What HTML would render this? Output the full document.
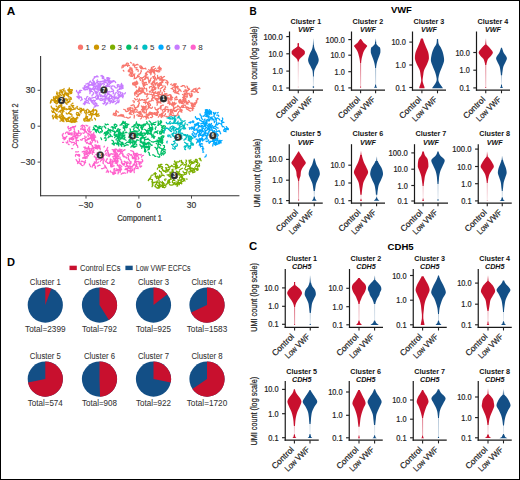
<!DOCTYPE html>
<html><head><meta charset="utf-8"><style>
html,body{margin:0;padding:0;background:#fff;width:520px;height:480px;overflow:hidden}
svg{display:block;font-family:"Liberation Sans", sans-serif}
</style></head><body>
<svg width="520" height="480" viewBox="0 0 520 480" font-family='"Liberation Sans", sans-serif'><defs><linearGradient id="g1" x1="0" y1="0" x2="0" y2="1"><stop offset="0" stop-color="#C8102E" stop-opacity="0.3"/><stop offset="1" stop-color="#C8102E" stop-opacity="0.02"/></linearGradient><linearGradient id="g2" x1="0" y1="0" x2="0" y2="1"><stop offset="0" stop-color="#134F86" stop-opacity="0.1"/><stop offset="1" stop-color="#134F86" stop-opacity="0.85"/></linearGradient><linearGradient id="g3" x1="0" y1="0" x2="0" y2="1"><stop offset="0" stop-color="#134F86" stop-opacity="0.3"/><stop offset="1" stop-color="#134F86" stop-opacity="0.1"/></linearGradient><linearGradient id="g4" x1="0" y1="0" x2="0" y2="1"><stop offset="0" stop-color="#C8102E" stop-opacity="0.6"/><stop offset="1" stop-color="#C8102E" stop-opacity="0.25"/></linearGradient><linearGradient id="g5" x1="0" y1="0" x2="0" y2="1"><stop offset="0" stop-color="#134F86" stop-opacity="0.1"/><stop offset="1" stop-color="#134F86" stop-opacity="0.85"/></linearGradient><linearGradient id="g6" x1="0" y1="0" x2="0" y2="1"><stop offset="0" stop-color="#134F86" stop-opacity="0.4"/><stop offset="1" stop-color="#134F86" stop-opacity="0.2"/></linearGradient><linearGradient id="g7" x1="0" y1="0" x2="0" y2="1"><stop offset="0" stop-color="#C8102E" stop-opacity="0.1"/><stop offset="1" stop-color="#C8102E" stop-opacity="0.85"/></linearGradient><linearGradient id="g8" x1="0" y1="0" x2="0" y2="1"><stop offset="0" stop-color="#C8102E" stop-opacity="0.5"/><stop offset="1" stop-color="#C8102E" stop-opacity="0.25"/></linearGradient><linearGradient id="g9" x1="0" y1="0" x2="0" y2="1"><stop offset="0" stop-color="#134F86" stop-opacity="0.35"/><stop offset="1" stop-color="#134F86" stop-opacity="0.1"/></linearGradient><linearGradient id="g10" x1="0" y1="0" x2="0" y2="1"><stop offset="0" stop-color="#C8102E" stop-opacity="0.6"/><stop offset="1" stop-color="#C8102E" stop-opacity="0.3"/></linearGradient><linearGradient id="g11" x1="0" y1="0" x2="0" y2="1"><stop offset="0" stop-color="#134F86" stop-opacity="0.35"/><stop offset="1" stop-color="#134F86" stop-opacity="0.15"/></linearGradient><linearGradient id="g12" x1="0" y1="0" x2="0" y2="1"><stop offset="0" stop-color="#C8102E" stop-opacity="0.1"/><stop offset="1" stop-color="#C8102E" stop-opacity="0.85"/></linearGradient><linearGradient id="g13" x1="0" y1="0" x2="0" y2="1"><stop offset="0" stop-color="#C8102E" stop-opacity="0.25"/><stop offset="1" stop-color="#C8102E" stop-opacity="0.1"/></linearGradient><linearGradient id="g14" x1="0" y1="0" x2="0" y2="1"><stop offset="0" stop-color="#134F86" stop-opacity="0.1"/><stop offset="1" stop-color="#134F86" stop-opacity="0.85"/></linearGradient><linearGradient id="g15" x1="0" y1="0" x2="0" y2="1"><stop offset="0" stop-color="#134F86" stop-opacity="0.3"/><stop offset="1" stop-color="#134F86" stop-opacity="0.2"/></linearGradient><linearGradient id="g16" x1="0" y1="0" x2="0" y2="1"><stop offset="0" stop-color="#C8102E" stop-opacity="0.3"/><stop offset="1" stop-color="#C8102E" stop-opacity="0.1"/></linearGradient><linearGradient id="g17" x1="0" y1="0" x2="0" y2="1"><stop offset="0" stop-color="#134F86" stop-opacity="0.3"/><stop offset="1" stop-color="#134F86" stop-opacity="0.1"/></linearGradient><linearGradient id="g18" x1="0" y1="0" x2="0" y2="1"><stop offset="0" stop-color="#C8102E" stop-opacity="0.1"/><stop offset="1" stop-color="#C8102E" stop-opacity="0.85"/></linearGradient><linearGradient id="g19" x1="0" y1="0" x2="0" y2="1"><stop offset="0" stop-color="#C8102E" stop-opacity="0.3"/><stop offset="1" stop-color="#C8102E" stop-opacity="0.1"/></linearGradient><linearGradient id="g20" x1="0" y1="0" x2="0" y2="1"><stop offset="0" stop-color="#134F86" stop-opacity="0.1"/><stop offset="1" stop-color="#134F86" stop-opacity="0.85"/></linearGradient><linearGradient id="g21" x1="0" y1="0" x2="0" y2="1"><stop offset="0" stop-color="#134F86" stop-opacity="0.25"/><stop offset="1" stop-color="#134F86" stop-opacity="0.15"/></linearGradient><linearGradient id="g22" x1="0" y1="0" x2="0" y2="1"><stop offset="0" stop-color="#C8102E" stop-opacity="0.6"/><stop offset="1" stop-color="#C8102E" stop-opacity="0.4"/></linearGradient><linearGradient id="g23" x1="0" y1="0" x2="0" y2="1"><stop offset="0" stop-color="#134F86" stop-opacity="0.1"/><stop offset="1" stop-color="#134F86" stop-opacity="0.85"/></linearGradient><linearGradient id="g24" x1="0" y1="0" x2="0" y2="1"><stop offset="0" stop-color="#134F86" stop-opacity="0.3"/><stop offset="1" stop-color="#134F86" stop-opacity="0.1"/></linearGradient><linearGradient id="g25" x1="0" y1="0" x2="0" y2="1"><stop offset="0" stop-color="#C8102E" stop-opacity="0.35"/><stop offset="1" stop-color="#C8102E" stop-opacity="0.2"/></linearGradient><linearGradient id="g26" x1="0" y1="0" x2="0" y2="1"><stop offset="0" stop-color="#134F86" stop-opacity="0.1"/><stop offset="1" stop-color="#134F86" stop-opacity="0.85"/></linearGradient><linearGradient id="g27" x1="0" y1="0" x2="0" y2="1"><stop offset="0" stop-color="#134F86" stop-opacity="0.25"/><stop offset="1" stop-color="#134F86" stop-opacity="0.15"/></linearGradient><linearGradient id="g28" x1="0" y1="0" x2="0" y2="1"><stop offset="0" stop-color="#134F86" stop-opacity="0.3"/><stop offset="1" stop-color="#134F86" stop-opacity="0.2"/></linearGradient><linearGradient id="g29" x1="0" y1="0" x2="0" y2="1"><stop offset="0" stop-color="#C8102E" stop-opacity="0.1"/><stop offset="1" stop-color="#C8102E" stop-opacity="0.85"/></linearGradient><linearGradient id="g30" x1="0" y1="0" x2="0" y2="1"><stop offset="0" stop-color="#C8102E" stop-opacity="0.35"/><stop offset="1" stop-color="#C8102E" stop-opacity="0.2"/></linearGradient><linearGradient id="g31" x1="0" y1="0" x2="0" y2="1"><stop offset="0" stop-color="#134F86" stop-opacity="0.2"/><stop offset="1" stop-color="#134F86" stop-opacity="0.1"/></linearGradient><linearGradient id="g32" x1="0" y1="0" x2="0" y2="1"><stop offset="0" stop-color="#C8102E" stop-opacity="0.3"/><stop offset="1" stop-color="#C8102E" stop-opacity="0.15"/></linearGradient><linearGradient id="g33" x1="0" y1="0" x2="0" y2="1"><stop offset="0" stop-color="#134F86" stop-opacity="0.25"/><stop offset="1" stop-color="#134F86" stop-opacity="0.1"/></linearGradient><linearGradient id="g34" x1="0" y1="0" x2="0" y2="1"><stop offset="0" stop-color="#C8102E" stop-opacity="0.15"/><stop offset="1" stop-color="#C8102E" stop-opacity="0.05"/></linearGradient><linearGradient id="g35" x1="0" y1="0" x2="0" y2="1"><stop offset="0" stop-color="#134F86" stop-opacity="0.2"/><stop offset="1" stop-color="#134F86" stop-opacity="0.1"/></linearGradient><linearGradient id="g36" x1="0" y1="0" x2="0" y2="1"><stop offset="0" stop-color="#C8102E" stop-opacity="0.55"/><stop offset="1" stop-color="#C8102E" stop-opacity="0.35"/></linearGradient><linearGradient id="g37" x1="0" y1="0" x2="0" y2="1"><stop offset="0" stop-color="#134F86" stop-opacity="0.3"/><stop offset="1" stop-color="#134F86" stop-opacity="0.2"/></linearGradient><linearGradient id="g38" x1="0" y1="0" x2="0" y2="1"><stop offset="0" stop-color="#C8102E" stop-opacity="0.1"/><stop offset="1" stop-color="#C8102E" stop-opacity="0.85"/></linearGradient><linearGradient id="g39" x1="0" y1="0" x2="0" y2="1"><stop offset="0" stop-color="#C8102E" stop-opacity="0.3"/><stop offset="1" stop-color="#C8102E" stop-opacity="0.15"/></linearGradient><linearGradient id="g40" x1="0" y1="0" x2="0" y2="1"><stop offset="0" stop-color="#134F86" stop-opacity="0.1"/><stop offset="1" stop-color="#134F86" stop-opacity="0.85"/></linearGradient><linearGradient id="g41" x1="0" y1="0" x2="0" y2="1"><stop offset="0" stop-color="#134F86" stop-opacity="0.2"/><stop offset="1" stop-color="#134F86" stop-opacity="0.1"/></linearGradient></defs><rect width="520" height="480" fill="#fff"/><text x="6.70" y="15.10" font-size="10.5" font-weight="bold" fill="#000" textLength="8.50" lengthAdjust="spacingAndGlyphs">A</text>
<text x="249.50" y="15.00" font-size="10.2" font-weight="bold" fill="#000" textLength="7.20" lengthAdjust="spacingAndGlyphs">B</text>
<text x="249.00" y="249.60" font-size="10.8" font-weight="bold" fill="#000" textLength="8.20" lengthAdjust="spacingAndGlyphs">C</text>
<text x="7.00" y="265.60" font-size="10.2" font-weight="bold" fill="#000" textLength="8.00" lengthAdjust="spacingAndGlyphs">D</text>
<circle cx="80.5" cy="47.2" r="2.6" fill="#F8766D"/>
<text x="85.50" y="50.00" font-size="8.0" stroke="#333" stroke-width="0.04" fill="#333">1</text>
<circle cx="96.5" cy="47.2" r="2.6" fill="#CD9600"/>
<text x="101.50" y="50.00" font-size="8.0" stroke="#333" stroke-width="0.04" fill="#333">2</text>
<circle cx="112.6" cy="47.2" r="2.6" fill="#7CAE00"/>
<text x="117.60" y="50.00" font-size="8.0" stroke="#333" stroke-width="0.04" fill="#333">3</text>
<circle cx="128.8" cy="47.2" r="2.6" fill="#00BE67"/>
<text x="133.80" y="50.00" font-size="8.0" stroke="#333" stroke-width="0.04" fill="#333">4</text>
<circle cx="144.9" cy="47.2" r="2.6" fill="#00BFC4"/>
<text x="149.90" y="50.00" font-size="8.0" stroke="#333" stroke-width="0.04" fill="#333">5</text>
<circle cx="161.0" cy="47.2" r="2.6" fill="#00A9FF"/>
<text x="166.00" y="50.00" font-size="8.0" stroke="#333" stroke-width="0.04" fill="#333">6</text>
<circle cx="177.1" cy="47.2" r="2.6" fill="#C77CFF"/>
<text x="182.10" y="50.00" font-size="8.0" stroke="#333" stroke-width="0.04" fill="#333">7</text>
<circle cx="193.2" cy="47.2" r="2.6" fill="#FF61CC"/>
<text x="198.20" y="50.00" font-size="8.0" stroke="#333" stroke-width="0.04" fill="#333">8</text>
<path d="M184.1 99.3l-0.1 1l0.5 0.8l0.7 0.7l0.9 0.5l0.1 1l0.7 0.7M181 100l-1 -0.1l-0.9 0.3l-0.3 0.9l0.5 0.9l1 0.3M164.8 99.2l1 -0.2l0.8 -0.5l1 -0.2l0.2 -1l-0.9 -0.4M155.2 89.6l0.6 -0.8l-0.4 -0.9l-1 -0.2l-0.8 -0.6M147.3 78.1l0.9 0.3l0.1 1l0.3 1l1 -0.1l0.8 0.5M183.5 98.8l-0.7 0.7l0.2 1l0.9 0.3M143.1 106.2l0.8 0.6l-0.3 1l0.7 0.6l0.5 0.9M143.7 90.8l-1 0.1l-0.3 1l-0.3 0.9l-0.9 0.5M121.1 115.9l-1 -0.2l-0.8 -0.5l-0.9 0.5M168.6 111l0 -1l-0.7 -0.7l-1 0l-0.9 0.3M157.3 83.8l0.9 0.3l0.9 0.4l0.4 0.9l1 -0.1M164.8 93.4l0.2 1l0.8 0.6l0.9 0.4l1 0l1 0l0.6 -0.8M152.4 87.4l1 -0.2l0.8 -0.5l-0.2 -1l-0.5 -0.9M143.2 107.9l-0.2 -1l-1 -0.2l-0.7 -0.8M181.3 91.2l-0.9 -0.5l-0.4 -0.9l-1 0.1l-0.2 0.9l-0.6 0.8l-0.9 0.5M184.3 107.4l-0.9 -0.1l-1 0.2l-0.9 -0.5l-0.9 0.5M155.8 114.6l0.4 0.9l1 -0.1l0.5 -0.9l-0.4 -0.9M195.9 100.8l1 0M168.2 82.5l-0.9 0.3l-1 0.2l-0.7 -0.6M144.1 83l-0.3 0.9l0.5 0.9l-0.1 1M149.3 91.2l0.5 0.9l0.9 -0.1l0.2 -1l0.4 -0.9M137.5 91.8l-1 0.3l-0.4 0.9l-0.7 0.7l-0.7 0.8l0.3 0.9M123.2 67.3l0.5 -0.9l-0.2 -1l-1 0M161.4 81.9l-0.5 0.9l-1 -0.1l-0.4 0.9l-0.4 0.9l-0.2 1l0.5 0.9M156.2 98.6l1 -0.1l1 0.2l0 1l-0.7 0.8l-0.5 0.8M159.1 83.3l1 0.2l1 0l0.8 -0.7M178.7 101.7l0.1 -1l0.6 -0.8l0.9 -0.4l0.7 0.7l-0.4 0.9M136.7 115.1l0.9 -0.4l0.8 0.7l-0.2 1M128.1 70.9l0.8 0.7l1 -0l0.4 0.9l0.1 1l-0.5 0.9l-0.8 0.6M199.9 88.7l-0.5 -0.8M162.1 79.5l-0.6 -0.9l-1 0l-0.3 1M168 101.8l0.9 -0.4l0.6 0.7l0.6 0.8l0.2 1l-0.8 0.7M179.2 102.6l0.9 0.5l0.7 -0.8l1 0.2l0.5 0.8M168 109.2l0.7 0.7l0 1l-0.4 0.9M136.6 81.1l0.6 0.8l-0.1 1l-0.9 0.3l-1 -0.4l-0.7 -0.6M153.4 78.3l0.1 -1l0.7 -0.7l0.4 -0.9M174.5 92.7l0.8 -0.6l0.3 -1l0.2 -1M157.8 78.4l0.9 0.3l1 0.2l0.4 0.9l1 0.3l1 0.2M141.5 109.5l0.8 0.6l-0.1 0.9l0.5 0.9l1 0l0.3 1M180.3 89.9l-0.8 -0.6l-0.9 -0.4l-1 0M145.9 112.9l0.5 -0.9l-0.1 -1l-0.2 -0.9M159.8 71.6l-1 0.2l-1 0l-0.9 -0.5l-0.6 -0.8l-0.9 0.4l-1 0.2M157.6 111.6l-0.8 0.6l-0.7 0.7l-1 0l-1 -0.3l-0.7 0.8M152.1 112.6l-0.3 0.9l-1 0.4l-1 -0.1l-0.8 -0.6l0.4 -0.9M176.2 96.4l0.7 0.7l-0.5 0.9l-0.9 -0.3l-0.8 0.6M123.3 70.3l0.6 0.9M146.3 107.2l-1 0.1l-0.5 0.9l-0.7 0.7l-0.4 0.9l-1 0.4M171.1 99.3l-0.2 -1l0.3 -1l-0 -1l-0.4 -0.9M148.2 106.7l0.2 -1l0.2 -1l-1 -0.3l-0.1 -1l-0.1 -1M170.5 111.9l-0.2 1l-0.1 1l-1 0.1M196.3 91.6l-0.5 -0.9l-0.4 -0.9l-0.1 -1l0.8 -0.6M157.6 85.4l0.5 0.8l-0.2 1l0.8 0.6l-0.5 0.9M134.8 84.7l-1 0.2l-1 -0.3M146.4 116.5l1 -0.1l0.5 -0.9l1 0.1l0.4 -0.9l1 -0.2l0.4 -0.9M168.7 103.2l0.7 0.7l1 0.3l0.9 0.3l0.8 -0.6l1 0.3l1 -0.1M144.2 76.4l-0.5 0.9l-0.9 0.2l-0.8 0.7M154.2 97.6l0.9 0.5l0 1l0.9 0.3l0.4 0.9M193.1 106.8l0.8 -0.6l0.1 -1l-0.8 -0.5M136.5 96.7l1 -0.1l0.8 -0.6l0 -1l0.9 -0.4M191.7 96.7l-0.9 -0.2l-0.8 -0.7l-0.6 -0.7l-0.1 -1l-0.2 -1M191 93.7l0.1 0.9l0 1l0.1 1l-0.9 0.5M139 101.7l0.1 1l0.3 1l-0.9 0.5l0.2 1l-0.2 1l-0.5 0.8M172.5 115.3l1 -0.2l0.5 0.8l1 -0.3l0.9 0.2M140.7 111.3l-0.7 0.7l-0.4 0.9l0.3 0.9l1 -0M136.1 82.2l-1 0l-0.9 0.4l-0.3 1l-0.3 0.9l0.7 0.7M191.2 93.1l0.8 0.6l0.1 1l0.1 1M155.7 93l1 0.1l0.8 0.6l0.9 0.4M126.2 63.9l0.6 -0.8l1 0l0.7 0.7M161.3 76.6l0.3 1l0.1 1l-0.2 1l-0.9 0.2l-1 0.3M157.6 109.1l-0.8 0.6l0.5 0.9l0.7 0.8l0.4 0.9l-0.6 0.7l-0.9 -0.5M153.3 85.5l0.5 -0.9l0.7 -0.7l0.5 -0.9l-0.7 -0.7M134.9 94.5l-0.4 -1l0.2 -0.9l0.8 -0.7M136.5 93.8l0.6 -0.8l-0.6 -0.8l-0.9 0.3l0 1l-0.9 0.5M172.8 97.3l-0.9 -0.1l-0.6 -0.9l-0.2 -1l-0.7 -0.7M152.8 71.4l0.5 0.8l0.6 0.8l0.9 0.5l0.2 1M161.8 78.6l0.6 0.7l0.1 1l1 0.2l0.6 -0.7l1 0.1M192.2 108.1l0.8 -0.5l0 -1l0.9 -0.5l0.9 0.4M136.1 69.9l0.7 -0.7l1 0.3l0.4 1l-0.1 1M178.7 115.3l-0.8 -0.6l-1 0.3l-0.6 0.8l-1 0.2l-0.8 -0.5l-0.9 -0.5M163 113.3l-1 -0.2l-0.8 0.7l-0.1 1l0.9 0.4l0.2 1l0.7 0.7M162.8 82.4l-0.6 -0.8l0.7 -0.7l0.5 -0.9l-0.7 -0.8M167.9 107l-1 0l-1 -0.3l-0.7 0.8l0.1 0.9l-0.8 0.6M161.6 95.5l0.8 -0.6l0.9 0.5l0.2 1l-0.6 0.8l-0.9 -0.4M132.9 64l1 -0.2M143.6 102.3l1 0l0.9 0.5l-0.1 1M138.8 75.2l0.2 -1l1 -0.4l0.7 -0.7l0 -1l0.7 -0.8l-0.3 -0.9M177.7 105.5l0.3 1l-0.9 0.5l-1 0.1l-0.8 0.6l-0.9 0.4M139.3 76.6l-0.9 0.2l-0.9 -0.5l0.2 -1l1 -0.3M152.6 114.2l1 -0.2l1 0.1l1 -0.2l0.9 0.5M131 68.4l0.4 1l0.5 0.8l-0.6 0.9M150 70.4l0.6 0.8l-0.3 0.9l0.2 1M138.8 113.6l1 0.3l0.5 0.8l-0.6 0.8M161.1 109.7l-0.1 -0.9l-0.8 -0.7l-1 0l-0.7 0.6l-0.5 0.9M147.8 71.1l0.4 0.9l1 -0.1l0.7 0.6l1 0.3M186.3 92l-0.4 1l-0.5 0.8l0.4 0.9l1 0.2l0.5 0.9l0 1M127.6 66.3l-0.2 -0.9l-0.9 -0.5l-0.8 0.5l-1 0l-1 -0.3l-0.8 0.5M173.4 91.6l0.5 -0.8l1 0l0.6 0.8l0.5 0.8l1 -0.4M193.5 89.2l-0.3 0.9l-1 -0l-0.3 0.9l-0.8 0.6M162.5 111.1l0.1 -1l0.6 -0.8l1 0M175.1 83.7l-0.1 1l0 1l-0.1 1M158.4 92.6l1 0.2l0.7 -0.7l0.2 -1l0.4 -0.9M195 104.2l0.6 -0.8l0.9 -0.4l0.1 -1M155.7 77.9l-0.9 0.4l-0.3 1l0.4 0.9l-0.1 1M152.1 84.6l0.8 0.6l0.6 0.8l0.3 0.9l1 -0.1l0.4 1l1 0M143 84.8l0.6 -0.8l1 0.1l0.4 -0.9l0.4 -0.9l1 0.1M148.4 98.1l-1 0.3l-0.4 0.9l-0.8 0.6M146.1 119.1l0.5 -0.9l0.8 -0.6l0.3 -0.9M159.5 114.9l0.2 0.9l-0.9 0.5l-0.5 0.9M137.6 99l-0.8 0.5l-1 0.3l-0.6 -0.8l-0.7 -0.6M162.7 77.5l0.8 -0.6l1 -0.4M175 88.3l0.1 -1l-1 -0.3l-1 0.1l-0.5 0.9l-0.6 0.8l-0.9 -0.4M146 114.8l1 -0.1l1 -0.2l0.7 -0.7l0.9 0.6l1 0M115.6 111.8l0.2 1l0.6 0.8l-0.1 1l-0.1 1l-1 0l-0.9 -0.4M135 110l0 -1l0.4 -1l0.7 -0.7l0.9 -0.2l0.9 -0.5l0 -1M147.3 93.4l-0.6 0.7l-1 0.1l-0.6 -0.8l-0.3 -1M144.5 87.8l-0.6 -0.9l-0.5 -0.8l-0.2 -1l0.2 -1l-1 -0.4M144.6 79l0.5 -0.8l0.7 -0.8l-0.4 -0.9l0.7 -0.7l0.3 -0.9l1 -0.3M155.4 114.6l-1 -0.3l-0.9 -0.3l-0.7 -0.7l-0.9 -0.6l-0.9 -0.1l-1 -0.4M141.8 116.2l-1 0.1l-0.9 0.1l-1 -0.3M146.5 105.8l-0.9 0.4l-0.7 0.8l-0.9 -0.5M185.7 91.2l1 0.3l0 1l-0.9 0.4l-0.8 0.6l0 1M136.2 91.2l1 -0.1l1 0.1l0.5 -0.8l0.8 -0.7M167.7 103.3l0.9 -0.5l1 0.1l0.3 -1M137.5 110.1l-1 -0.1l-0.6 -0.8l-0.4 -0.9l0.5 -0.8M192.2 91.3l0.9 0.3l1 0.3l0.9 0.3M197 90l-1 0l-0.9 -0.5l-0.7 -0.7M151 83.9l0.6 -0.7l0.9 -0.5l0.3 -1M192.5 108.6l0.4 -0.9l-0.8 -0.7l-0.2 -0.9l0.1 -1l0.5 -0.9l0.1 -1M146.2 102.7l-0.1 -1l-0.6 -0.9l-1 -0.1M161.3 68.4l-1 0.3l-0.5 -0.9l-0.7 -0.7l0.3 -0.9M145.2 88.6l-1 0l-0.9 0.3l-0.2 1l-0.8 0.7l0.4 0.9M134.3 109.7l-0.2 1l0.1 1l-0.4 0.9l-0.2 1M197.3 90.8l-0.6 -0.8l0.7 -0.8l0.8 -0.5l0.8 -0.6M146.7 91.1l0.2 -1l-0.5 -0.9l0.2 -0.9M145 99.5l-0.9 0.6l-1 0.1l-0.7 -0.7l-1 0l-0.6 0.8l-1 -0.2M115.7 114.3l-0.9 -0.4l-1 0.1l-0.7 0.8M146.7 114l0.9 0.4l0.9 -0.4l0.7 -0.7l1 0.1M173.2 113.3l-0.8 -0.6l0 -1l-0.4 -0.9l-0.1 -1l-0.8 -0.5l-0.9 0.4M193.7 103.9l0.9 0.6l0.9 0.3M160.4 97.9l-0.8 -0.5l-0.3 -1l-0.9 -0.5l-1 -0.3M132 68.2l-0.4 0.9l0.6 0.7l0.2 1l0.4 0.9l-0.2 1M117.7 116.1l0.9 -0.4l1 0.1l0.8 -0.7l0.9 -0.2l0.8 0.6l0.1 1M154.6 72.7l-0.4 -0.9l-1 -0.2l-0.5 -0.9l-1 -0.2l-0.9 0.4M141.5 67.1l0.2 1l0.8 0.6l1 -0.2l1 0l1 -0.3l0.5 0.9M141.9 79l0.9 0.4l0.2 1l0.2 1l-0.6 0.8M164.7 88.3l0.9 -0.5l-0.3 -1l-0.4 -0.9M113.4 113.2l0.9 0.5l0.8 -0.5l0.5 -0.8l0.5 -0.9l0.1 -1M124.9 65.9l0.4 -0.9l0.8 -0.6l0.7 0.7l0.7 0.8l0.9 -0.2l1 -0.2M149.5 72.7l0.9 0.4l0.7 0.8l-0.4 0.9M132.1 69.8l-0.4 -1l-0.9 -0.2l-0.8 -0.6l0 -1M181.9 109.5l-0.8 0.6l-0.5 0.9l0.3 0.9l1 0.3M132.8 65.1l1 -0.1l0.4 0.9l0.5 0.9l0.4 0.9l1 0.2l0.9 -0.4M150.4 117.5l0.9 0.2l0.9 -0.6l0.5 -0.8l-0.6 -0.8l-0.4 -0.9l0.6 -0.9M156.6 70l0.2 1l0.9 0.2l0.4 -0.9l1 0.1l0.7 -0.7l1 -0.1M183.7 100.6l-1 0.1l-0.9 0.4l-1 0.2l-1 -0.1l-0.6 0.8M146.5 96.8l0.6 -0.8l0.1 -1l0.3 -1l1 0l1 0M141.1 112.6l-0.1 1l0.7 0.7l0.6 0.8l0.4 0.9l-0.7 0.7l-0.3 0.9M133.5 74.8l0.9 0.5l0.1 1l-0.2 1M151.7 92.9l0.8 -0.7l1 -0.1l0.8 0.6M156.3 109.9l-0.8 -0.6l-0.4 -0.9l-0.2 -1M153.3 67.1l-1 0l-0.9 0.4l0.1 1l-0.1 1l0.6 0.7l0.9 0.4M174.8 86.3l-0.6 -0.9l0.5 -0.8l1 0l0.6 -0.8M180 100.9l0.6 0.7l0.7 0.8l0.9 0.4l0.9 0.4l0.2 1M142.1 82.2l0.2 -0.9l0.7 -0.8l0.1 -1M186.8 95.2l0.5 -0.9l-0.1 -1l-0.9 -0.4M171.3 109.8l-1 0.3l0.1 1l0.5 0.9l1 0l1 0.1M190.1 107.7l-0.5 0.9l-1 -0.3l-0.7 -0.7l-0.8 -0.6l-1 0.1l-0.3 -1M157.2 82.5l-0.6 0.8l0.6 0.8l1 0l0.9 -0.4M152.6 94.9l-0.2 1l-0.1 1l0.6 0.8M132.4 112.1l-1 -0.2l-0.9 0.4l-0.9 0.5l-0.4 0.9M162 92.1l0.4 0.9l-0.6 0.8l0.4 0.9M182.6 107.3l0.7 -0.7l0.2 -0.9l0.9 -0.6l1 0.1M156.4 98.3l-1 0.1l-0.9 -0.4l-0.6 -0.8l0.4 -0.9l0.9 -0.4l1 -0.3M192 108.2l0.9 -0.4l0.9 0.6M150.6 94.4l1 0.1l0.7 0.6l1 0M162.2 99.6l0.8 0.7l0.9 -0.5l0.2 -1l0.4 -0.9M181 86.4l1 -0.1l0.5 -0.8l1 0.1l1 0.2l0.5 0.9l0.3 0.9M131.3 63l-0.8 -0.7M139.1 111.6l-0.5 0.8l-1 0l-0.7 -0.7l-0.9 0.3l-1 0M146.3 115.8l1 0.3l-0.2 1l0.9 0.4l0.7 0.7M139.8 67.2l0.9 0.4l1 0.2l0.9 -0.4M172.2 111.5l0.7 -0.8l0.8 -0.5l1 0.4l1 0.2l0.5 -0.8M169.2 99.2l-0.6 -0.8l-0.6 -0.8l-0.9 -0.4l-0.9 0.4l-1 0.1M167.5 84.8l0.1 -1l0.3 -1l-0.6 -0.8l0.2 -1M177.6 113.6l0.6 -0.7l0.4 -1l0.7 -0.6l0.7 -0.7M145.3 74l0.5 -0.9l0.8 -0.6l0.7 -0.8M161.5 85.3l-0.1 -1l-0.9 -0.1l-0.8 -0.7l-1 0M142.1 80.5l0.6 0.8l0.4 0.9l1 0.2l0.4 1l-0.7 0.8l0 1M178.8 109l-1 0l-0.7 0.7l-0.4 0.9l-0.6 0.8l-0.9 -0.3l-0.9 0.4M188.1 104l-0.7 -0.7l0.3 -1l1 0.1l0.9 -0.4l-0.3 -1l-0.9 -0.3M194.3 102.9l1 0.1l0.7 -0.6l0.9 -0.4M164.4 94.8l0.9 -0.3l0.7 -0.8l1 0.2M155.7 68.2l-0.9 0.5l-0.4 0.9l-1 -0M191 103.8l0.9 0.4l-0.2 1l0.6 0.8l0.9 -0.3l0.9 0.4M151.3 78l-0.6 0.7l-0.3 1l0.1 1l-1 0.3l-0.9 0.5M145 85.3l0.8 -0.6l0.7 -0.7l0.8 0.6M185.7 99.9l0.3 -1l-0.8 -0.6l-0.4 -0.9M139.4 98.9l-0.4 0.9l-0.6 0.8l-0.7 0.8M141 93.2l0.1 -1l-0.9 -0.5l0.2 -0.9l-0.5 -0.9l0 -1l0.7 -0.7M170.8 114.8l-0.9 0.5l-0.6 0.8l-0.8 0.6l-0.9 0.5l-0.6 -0.8l-0.9 0.3M128.3 71.5l0.4 -0.9l0.3 -1l0.7 -0.7l1 0M186.3 108.7l0.8 0.6l1 0.3l0.7 0.6l0.8 0.7l0.9 0.2M136.2 87.4l0 -1l-0.8 -0.5l-0.4 -0.9l-0.8 -0.7M157.5 75.4l0.1 1l0 1l1 0.2l0.9 -0.4l1 -0.2l0.7 -0.7M159.7 114.4l0.9 0.5l0.6 0.8l-0.3 1l0.5 0.8M182.6 97.3l1 -0.1l0.2 -1l0.8 -0.6l0.8 0.6l0.9 0.5l0.7 0.7M133.1 75.5l-0.5 0.8l-1 0l-1 -0.2M128.2 111.2l-1 0.2l-1 0.3l-0.6 -0.7l0 -1l-1 -0.3l-0.9 -0.4M152.1 88.3l-0.1 1l0.9 0.5l1 0.2l0.7 -0.8l0.9 -0.1l0.1 -1M130.9 73.3l0.9 -0.3l0.9 0.4l0.4 0.9l1 0.2l0.8 -0.6M179 94.2l-0.5 -0.9l-0.9 0.2l-1 -0.4l-1 -0.1l-0.9 -0.4M140.3 91.5l1 0l0.4 -0.9l0.1 -1l0.5 -0.9l-0.1 -0.9M145.9 112.6l-1 0.2l-0.8 -0.6l0.1 -1l-0.6 -0.8M128.1 64.8l-1 0.3l-0.9 -0.2l-0.8 0.7l-0.9 -0.4l-1 0l-1 0.1M174.7 99.9l1 -0.2l1 0l0.9 -0.5M134.7 107.5l-0.5 -0.9l0.1 -1l-0.6 -0.7l-1 -0.1l-0.7 0.8l-1 -0.2M190.7 108.5l1 0.1l0.8 0.6l0.5 0.8M128.9 109.9l0.9 -0.4l0.8 -0.6l0.2 -1l-0.8 -0.5M186.4 102.3l-0.7 -0.6l-1 0.3l-0.3 0.9M150.6 105.3l-0.2 -1l-0.8 -0.6l-0.7 -0.7l-1 0M196.8 100l0.8 -0.5M176.7 86.5l0.9 -0.4l0.7 0.8l-0.6 0.8l-1 -0.3l-0.9 -0.4M136.3 81.8l-0.7 0.7l-0.1 1l0.5 0.9M163.4 105.2l-1 0l-0.9 0.5l-1 0.3l-0.1 1M153.8 80.7l0.1 1l-0.6 0.8l-0.5 0.9l-0.9 0.4l-0.1 1M162.9 85.5l0.2 1l-0.5 0.9l-0.9 0.4l-0.7 0.7l-0.9 0.4M169 109.8l-0.9 0.5l-0.1 1l0 1M158.9 68.5l0.5 0.9l0.8 0.6l1 -0.1M146.7 73.5l-0.9 0.5l0.4 0.9l-0.8 0.7l-0.8 0.6M182.5 94.5l0.9 0.5l1 -0.2l0 -1l-0.2 -1M157.3 78.6l1 -0.3l0.9 0.1l0.7 0.7l0.1 1M173.3 108.6l0.6 -0.8l-0.2 -1l-0.7 -0.7l0.4 -0.9l1 -0.4l-0.1 -1M156.7 71.4l-0.7 -0.8l-1 -0l-0.9 0.4l-0.6 -0.8M153.7 90.3l0.2 -0.9l0.5 -0.9l1 -0.1M124.4 117.2l-0.7 -0.7l-0.1 -1l-0.7 -0.8l-0.9 0.4M152.5 107.1l-0.4 0.9l-0.9 0.4l-0.8 -0.6l-1 -0.1l-0.2 -1l-0.1 -1M132.7 109.9l0.1 1l-0.7 0.6l-0.9 0.5l-0.8 -0.7l0.3 -1l-0.8 -0.5M170.7 84.5l0.9 -0.5M164.4 109.8l0.9 0.3l0 1l-0.9 0.5l-0.8 0.5l-0.7 0.8l-0.2 0.9M140.4 118.8l1 -0.3M130.1 112.9l0.4 -1l-0.2 -0.9l0.8 -0.7l1 0.2l0.9 0.4l0.1 1M161.6 99.5l-1 -0.1l-0.7 -0.7l-1 -0.1l-1 0.1l-0.9 0.1l-0.9 0.6M134 78.8l0.8 -0.6l1 0.3l0.6 -0.8l0.8 -0.6l0.9 -0.5l1 -0M144.3 79.7l0.9 -0.4l0.7 -0.7l-0.3 -1l0.8 -0.5l0.9 0.5l0.9 -0.5M163.7 94.9l-1 0.3l-0.5 0.9l-0.9 0.3l0 1l-0.1 1M197.2 98.5l0.9 0.4M185.7 107.4l1 -0.1l0.8 0.6l1 -0.4M138.2 64.9l-0.8 -0.6l-1 0.4l-0.6 0.7l-1 -0.4l-0.9 0.5M139.1 87l0.4 0.9l-0.4 0.9l-0.3 0.9l0.7 0.8l-0.4 0.9l-0.7 0.7M155.7 85.2l-0.1 -1l0.6 -0.8l0.6 -0.8M161 100.3l-0.7 0.7l-0.4 0.9l-1 0.2l-0.7 -0.7l-1 0.3M158.6 101.9l-1 0l-0.8 0.7l0.4 0.9l0.2 1l-0.4 0.8M172.1 85.5l0.9 -0.2l0.4 -1l0.9 -0.4l1 0.1M146.7 110.1l0.3 -1l0.9 -0.4l0.6 -0.8l-0.2 -0.9l0.8 -0.7l0.8 -0.6M157.6 100.2l0.2 1l-0.8 0.6l0.2 0.9l1 0l1 0.1M171.5 105.1l1 0l0.5 0.8l0.3 1M174.5 102.2l-0.8 0.6l-1 0.4l-0.9 0.3M165.5 113.7l-0.2 0.9l-0.8 0.7l0.3 0.9M160.7 108.1l0.4 -0.9l-0.1 -1l0.8 -0.4M198.5 92.3l-0.9 0.2l-0.5 -0.9l-0.3 -0.9l0.3 -1M130 71.7l0.9 0.5l0.7 0.7l0.1 1l-0.1 1l0.1 1M156.7 95.6l1 0l0.3 1l0.6 0.7M153.6 69.5l-1 -0.3l-0.8 -0.6l-0.9 0.5l-0.2 1l-0.7 0.6l0.3 1M181.2 107.2l0.3 -1l0.8 -0.6l0.8 0.6l0.3 0.9M176.2 103.1l-0.7 0.8l-0.8 0.5l-1 -0.2M159.1 93.8l0.2 -1l-0.3 -0.9l-1 0l-0.6 0.8l-0.2 1M192.5 108l-0.1 1l0.3 0.9l-0.7 0.7M154.3 66.5l-1 0.2M132.6 84.1l0 -1l1 -0.3l0.5 0.9l0.6 0.7M140.7 93.9l-1 -0.3l-0.8 0.5l-0.7 0.8l-0.9 -0.1M118.5 112.2l-1 -0.4l-0.8 -0.5l-0.4 -0.9M175.6 88.8l0.3 -1l0.5 -0.9l-0.7 -0.7M171.5 115.2l-0.2 -1l-0.3 -0.9l-0.4 -1l0.8 -0.6l1 0.1M166.3 80.4l0.6 0.7M188.1 93.7l-0.9 -0.5l-0.5 -0.9l-0.2 -1M151.6 100.3l-0.6 0.8l-1 0l-1 0.2l-0.3 0.9M142 67.2l-0.5 -0.9l-0.9 -0.4l-1 0.1M136.7 90.2l0.8 0.6l0.9 -0.4l0 -1l0.5 -0.9M164.7 91.7l-0.8 -0.6l-0.3 -0.9l0.4 -0.9l1 0.1M186.8 102.9l0.4 -0.9l-0.8 -0.6l-0.5 -0.9l-0.9 -0.5l-0.9 0.2l-0.4 0.9M182.2 110.4l-0.6 0.8l-0.9 -0.5l-0.7 -0.7l0.5 -0.9M179.8 109.8l0.8 -0.6l-0.5 -0.9l-0.4 -0.9l-0.7 -0.7l-0.7 -0.7M142.4 108.6l0.9 -0.3l0.9 0.5l0.8 0.5l0.9 -0.5M167.3 82.9l0.6 -0.9l-0.7 -0.7M132 114.5l-0.8 -0.6l-1 0.3l-0.9 -0.4M191.2 102.8l0.5 0.9l0.2 1l0.9 0.4l-0.1 1M135.7 84.2l0.9 0.3l0.9 -0.5l0.4 -0.9M164 99.5l-1 -0.1l-0.8 -0.6l-0.7 -0.7l-0.9 0.4l0.1 1M160.9 103.3l-0.3 -1l-0.5 -0.9l0.6 -0.8l0 -1l-0.3 -0.9M189 88.2l-0.6 0.8l0.1 1l-0.8 0.7l-0.9 -0.2l-0.9 -0.6l-1 0M170.3 95.5l0.5 0.9l-0.5 0.9l0.8 0.7l0.9 0.1M134.2 115.2l0.3 1l-0.4 0.9l0.2 0.9M157.7 68.2l0.9 -0.5l0.8 0.6l0.8 -0.6M191.3 105.6l0.7 0.7l0.8 -0.5l0 -1l-0.4 -0.9l-0.8 -0.7l-0.9 -0.2M153.1 89.8l-0.7 0.7l0.2 0.9l0.4 1l0.9 0.3l0.9 -0.4l0.9 -0.6M142.8 88.7l-1 -0.3l-0.9 -0.4l-0.9 0.5M156.6 80l-0.5 -0.9l-0.6 -0.8l0 -1l-0.9 -0.4l-1 -0.3l-1 0.3M142.8 68.7l-1 0.1l-1 -0.3l-0.4 -0.9l0.6 -0.8M168.9 101.2l-0.2 -1l-0.9 -0.3l-1 0l-1 0.3l-0.7 -0.7l-1 -0.3M170.1 99.2l0.3 0.9l1 -0l0.7 -0.6l-0.4 -0.9l-0.6 -0.8l-1 0.1M163.3 115.7l-0.7 -0.6l-0.8 -0.7l-0.9 0.5M143.9 110.8l-0.1 -1l-0.8 -0.6l0 -1l-0.8 -0.7M130.3 117l-0.7 0.7l-0.9 0.3l-1 0l-0.8 -0.6l-1 0M184.4 96.6l-0.8 0.7l-0.1 1l0.8 0.6l-0.3 0.9l0.6 0.8l1 -0.1M157.7 95.2l0.9 0.1l0.6 -0.8l0.9 -0.2l0.8 0.6M130 70.5l0.2 -1l0.1 -1l0.8 -0.6l0.8 0.6l-0.3 1l0.8 0.6M122.2 66l-0.2 1l-0.1 1M157.6 93.8l-0.7 -0.7l-1 0.2l-0.9 -0.4l-1 0.2l-0.5 0.9M143.2 91.9l0.7 0.7l0.8 0.7l0.3 0.9M153.3 100.7l-0.7 -0.7l-0.9 -0.4l0.1 -1l1 -0.1M159.5 84.8l0.6 -0.8l0.3 -1l0.6 -0.7l1 -0.1l0.4 -0.9M130 74.1l0.2 1l0 1M152.8 87.9l-0.7 -0.8l-0.8 -0.6l-0.9 0.2l-1 0.3l0.1 1M143.6 117l0.8 -0.6l0.9 0l0.4 0.9l0.9 0.4M133 109l-0.2 -1l-1 0l-1 -0.1M133.9 102.6l0.5 -0.8l-0.6 -0.9l-1 -0.1M141.6 78.5l-0.4 -0.8l-1 0l-0.5 0.9l0.5 0.8l0.2 1M182.6 103.6l-1 -0.2l0 -1l0.8 -0.6l1 0M186.9 86.1l0.6 0.8l-0.2 1l0.8 0.6l0.6 0.7l1 0.1M174.8 108l-0.7 0.7l-0.7 0.7l-0.5 0.9M129.3 110l0.1 -1l-0.4 -0.9l-1 0.1l-0.7 0.7l0.6 0.8l0.5 0.9M151.4 72.8l0.4 -0.9l-0.7 -0.7l-0.8 -0.6l-0.9 -0.3l-0.7 -0.7M172.3 102.1l0.4 0.9l-0 1l0.9 0.4l0.7 -0.7l0.6 -0.8M123.4 115.3l-0.8 0.7l-1 -0.1l-0.7 -0.6l0.1 -1M172.8 89.1l0.6 0.8l0.9 0.6l0.8 -0.6M183.6 91.3l1 -0.2l0.9 -0.5l0.8 -0.6l0.8 0.5l-0.1 1l-0.5 0.8M152.4 97.4l1 0.2l0.6 -0.8l0.4 -0.9l-0.7 -0.7l0.5 -0.9M148.7 81.2l1 0.4l-0.1 1l-0.9 0.3" fill="none" stroke="#F8766D" stroke-width="1.25" stroke-linecap="round" stroke-linejoin="round"/>
<path d="M65 94.5l-0.4 0.9l-0.5 0.8l-1 -0.2M71.5 93.5l0.4 -0.9M55.4 97.5l0.9 -0.4l1 0.3l0.8 0.6M58.2 108.6l0.4 -0.9l0.9 -0.3l0.8 -0.7l0.5 -0.8l0.4 -0.9M83.9 119.2l1 -0.3l1 0.1l1 -0.1l0.9 0.3l0.2 1M81.9 110.5l-0.5 0.8l-0.7 0.8l0.3 1M57.9 100.4l0.6 0.9l0.8 0.5l0.4 0.9M58.7 100.3l-1 -0.2l-0.1 -1l0.1 -1l-0.3 -0.9l-0.6 -0.8l-1 -0.3M96 115.3l-0.1 -1l0.6 -0.8l0 -1l0.3 -1l-0.6 -0.8M63.2 120l0.1 -1l0.8 -0.6l0.9 -0.5M71.1 120.4l-0.2 -1l0.8 -0.6l0.9 -0.4M71.5 118.5l0.6 0.8l1 -0.2l1 -0.2l0.9 0.4l0.9 -0.4l1 0.1M63.3 99.9l0.9 0.4l0.6 0.8l0.2 1l0.8 0.7l0.4 0.9l0.8 0.6M84.5 111.8l0.4 0.9l0.8 0.6l0.6 0.8l-0.3 0.9M87.3 120.5l-0.1 -1l0 -1l-0.2 -1l-1 0M53.1 115.2l-0.8 0.7l0.4 0.9l0.8 0.6l-0.1 1M88.4 109.9l0.7 0.7l-0.3 0.9l-0.2 1l-0.9 0.5M61.9 119.6l0.7 0.7l0.1 1M76.6 117.5l0.1 1l-0.4 0.9l-0.9 0.5l-0.3 0.9l-0.3 1l-0.9 0.4M57.2 111.3l-0.9 -0.5l0.1 -1l0.1 -1l0.9 -0.3M68.9 106.4l1 0l0.2 1l0.4 0.9l0.6 0.8M89.4 120.6l-1 0l-0.5 -0.9l-0.1 -1l-0.5 -0.9M61.2 90.5l0.4 0.9l-0.1 1l0.9 0.3l0.6 -0.8M71.1 121.7l-0.9 -0.5l-1 0l-0.8 -0.6M59.8 90.9l0.4 -0.9M79.9 111.8l0.6 -0.8l0.3 -1l1 -0.2l0 -1l-1 -0.2M51.6 102l-1 0.1M67.5 119.2l1 -0.1l0.4 -0.9l1 -0.4l0.1 -1M64.9 107.1l-1 -0.1l-0.3 0.9l0.8 0.6l0.9 0.5l1 -0.3l0.9 0.4M61.4 116.4l0.7 0.7l0.8 0.6l0.9 0.6l0.7 -0.7l0.8 0.6l-0.4 0.9M62.4 114.6l-0.4 0.9l0.2 1l0.2 1M56.9 97.6l0.8 0.6l0.6 0.7l0.7 0.8l-0.7 0.8l-0.9 0.2l-0.9 -0.4M91.5 115.2l0.7 -0.8l1 -0.2l0.9 0.4M60.4 101l-0.3 0.9l0.1 1l0.7 0.7l0.2 1l0.9 0.5M69.7 111.5l1 -0.3l0.4 -0.9l-0.2 -0.9M52.1 107.9l0.7 0.7l1 -0.3l1 0.2M86.1 115.6l0.4 0.9l-0.8 0.6l-0.3 1M57.7 116.6l1 0.3l1 0.1l0.2 -1l-0.7 -0.6M86.7 117.9l0 1l0.9 0.5l1 0.1l0.7 0.7l0.8 -0.7M65.4 119.5l0.9 0.4l0.7 0.8l-0.6 0.9M59.1 105.3l-0.2 1l-0.3 1l-1 -0.1l-0.9 -0.5l-0.6 -0.7M71.2 108.2l-0.8 0.5l-1 0l-0.7 -0.7M68.4 97l-0.3 -0.9l0.3 -1l-0.4 -0.8l-0.6 -0.9l-0.8 -0.5M64.8 99.5l0.7 -0.6l0.8 0.5l1 0.4l0.5 0.9M62.2 99.8l-1 0.1l-0.2 1l-1 0.1l-1 0l-0.9 -0.4M99.3 115.7l-1 0.4l-0.9 -0.3l-0.8 0.6M55.6 98.8l0.9 -0.5l0.6 -0.8l0.9 0.3l0.9 -0.5l0 -1M63.5 120l-1 -0.1l-1 0.2l-0.5 0.9l-1 0.2M68.4 90.8l-0.6 -0.8l0.7 -0.7l0.9 0.6l0.9 0.2l0.9 -0.5l0.9 0.2M65.6 91.1l-1 0l-0.9 -0.5l-0.7 -0.7l-1 -0.3M59.2 117.5l1 0.4l0.8 0.6l0.8 0.6l-0.1 1l0.9 0.5M71.8 122.6l0.6 -0.9l0.9 0.4l0.9 -0.3l0.8 0.6M61.5 107.8l0.9 -0.4l1 0.4l0.9 0.3l-0.1 1l0.9 0.4M68.7 94.8l0.3 -1l0 -1l0.7 -0.7l-0.3 -0.9l-0.8 -0.6l-0.2 -1M71.8 122.5l-1 -0.3M72.6 119.9l0.3 0.9l0.3 1l1 0.1l0.9 -0.3M69 117.3l-0.9 0.2l-0.2 1l-1 0.1l-0.9 0.5l0 1M65.9 98.4l0.7 0.7l-0.3 1l0.4 0.9l1 -0.3l0.4 0.9l0.9 0.3M62.3 92.8l-0.4 0.9l0.8 0.6l1 0.4l0.1 0.9l0.6 0.8M57.9 93.3l-0.9 -0.5l-0.1 -1M76.7 112.5l1 0.2l0.8 0.6l0.7 0.7l0.4 0.9l-0.3 0.9M71.9 116.6l0 -1l0.1 -1l-0.7 -0.7l-0.9 0.5l-0.7 -0.7M53 109.2l-0.8 -0.5l-0.1 -1l-0.8 -0.6l-0.1 -1M92.1 111.5l0.2 -1l0.6 -0.8l0.7 -0.7M68.3 119.5l-1 -0.4l-0.9 0.2l-0.8 0.7M63.7 97.7l-0.2 -1l0.7 -0.7l-0.2 -1l0.3 -0.9l0.2 -1l0.9 -0.5M87.7 116.7l-1 0l-0.4 0.9l-0.2 1l-0.9 0.5l-0.8 0.6l-0.5 0.9M74.1 109.2l0 -1l-0.8 -0.6l-0.8 -0.6l0.2 -1l1 -0.1M57 114.2l-0.4 1l0.4 0.9l-0.2 1l0.3 0.9M63.2 109.6l-0.3 0.9l-0.9 0.4l-0.8 -0.5l-1 -0.1M77.6 106.9l-0.7 -0.6M89.8 111.1l-0.2 1l0.7 0.7l0.9 0.4l0.8 0.6l0.9 -0.5l0.4 -0.9M56.6 93.1l0.1 1l0.8 0.6l0.6 0.8l0.6 0.8l1 -0.2l0.4 1M95.2 110l-1 0l-0.9 -0.2M57.8 99.1l0.8 -0.6l-0.1 -1l0 -1l0.7 -0.8M54.1 117l0.9 -0.5l0.3 -1l1 -0.2l0.6 -0.8M61.5 118.4l-0.9 -0.5l-0.3 -1l-0.5 -0.8M60.6 99.2l-0.1 1l0.1 1l-0.2 1l-0.9 0.5l-0.9 -0.2l-0.8 -0.6M92 119.4l0.1 1M77.9 117.9l-0.9 -0.5l-0.6 0.7l-0.9 0.5l-1 0.1l-0.7 -0.7l-0.7 -0.7M55.6 97.4l-0.9 -0.4l-1 -0.2l-0.3 1l0.3 1M68.7 112.6l1 0.4l0.6 0.8l0.9 0.3M77.3 115.8l0.9 -0.3l0.7 -0.7l1 -0.1M96.6 112.1l0.4 -0.9l-0.6 -0.8l-0.7 -0.7M72 90.4l-0.3 0.9l-0.7 0.8l-1 -0.1l-1 0.2M72.2 118.2l-0.7 0.7l-0.9 0.5l-0.2 1l0.8 0.6l1 0.2M80.8 110.6l1 0l0.4 -0.9l1 0l0.5 -0.9M68.4 91.1l1 0.1l0.9 0.5l0.2 1l-0 1M63.9 121.7l-0.1 -1l-0.9 -0.2l-0.7 -0.8l-0.9 0.2l-0.6 -0.9M70.1 108.2l0.7 0.7l1 0.1l0.5 0.8M93.8 111.1l-1 0.1l-1 -0.1l-0.9 0.5M63.1 109.8l-0.1 -1l-0.5 -0.9l-0.8 -0.5l-0.1 -1l-0.6 -0.8l-0.9 -0.3M61.7 119.7l0.4 -1l1 0.1l0.8 -0.6l1 0.3M53 117.8l0.2 1M70.7 119l0 1l-0.5 0.9l-0.7 0.8l-0.9 -0.5l-0.9 0.2l-1 -0.3M69.7 100.9l-0.7 0.7l-0.5 0.9l-1 -0l-0.8 0.7l-1 -0M86.1 120.6l1 0.3l0.9 0.2l1 -0.2l1 0M63.9 89.5l0.2 -1M71.8 109.4l0.9 0.3l1 -0.4l1 -0.1l0.9 -0.3M70.7 110.7l-0.5 -0.8l-0.9 -0.6l0.5 -0.9l1 -0.1M55.3 117.3l-0.1 -1l0.7 -0.7l-0.2 -1l-0.1 -1l-0.7 -0.7l-0.8 -0.6M58.8 112.2l0.4 -0.9l1 0.1l0.6 0.8l0.4 0.9l0.8 0.6M54.1 98.6l1 0l0.3 1l-0.4 0.9l-0.3 0.9l-0.2 1M54.5 109l0.8 0.7l1 -0.1l0.9 0.4l0.9 -0.5M66.2 112.9l0.4 0.9l1 -0l1 -0.3l0.1 -0.9M70.2 98.8l-0.9 0.1l-1 0.1l-0.9 0.6M59.4 98.7l0 1l-0.9 0.5l-0.8 0.6M54 100.2l0.8 -0.5l0.7 0.7l0.8 0.7l0.6 0.8l1 -0.3M53.9 110.4l-0.1 1l-0.3 0.9l-1 0.2M81.6 108.4l-1 0l-1 -0.2M50.3 103.2l0.2 -1l0.2 -1l0.4 -0.8l0.6 -0.9M85.6 120.9l-0.9 0.4M62.5 113.1l0.3 -1l-0.7 -0.7l0.2 -1l0.8 -0.5l0 -1M71.7 118.7l1 0l1 0.2l0.6 0.9l-0.6 0.8l0.6 0.7l1 0.3M74.5 120.5l1 -0.1l0.9 0.5l0.5 0.9M52.5 100.3l-0.9 -0.5M56.3 116.3l-0.6 0.8l0.1 1l1 0l0.4 0.9M88.8 114.6l1 0.2l0.7 -0.6l-0.1 -1l0.5 -0.9l0.2 -1M56.4 111.1l-0.6 -0.8l0.3 -1l1 -0.1l0.6 -0.8M85.2 110.9l-0.4 -0.9l-1 -0.1l-0.8 0.5M54.4 99.2l-0.7 0.8l0.7 0.7l-0.4 0.9M69.7 91.1l0.8 0.6l0.9 -0.4l0.8 -0.6l0.1 -1M71.5 99.1l-0.9 -0.2l-0.6 0.9l-0.3 0.9l0.3 1M54.9 102.4l0.8 0.5l0.6 0.9l1 -0.2l0.3 -1l-0.8 -0.6l-0.9 -0.5M71.1 104.5l0.1 0.9l0.8 0.6l0.7 -0.7l1 0.3M66.7 109.8l0.9 -0.5l0.9 -0.2l0.8 -0.6M72.1 103.5l0.9 -0.3M57.8 95.7l0.9 -0.5l0.9 -0.4l0.9 -0.4M94.5 118.2l0.8 0.7l0.2 1M53.6 109.6l-0.1 1l-0.3 0.9l-1 0.2l-0.5 -0.9M75.9 107.7l0.9 0.3l0.9 0.5l0.6 0.8l1 0.2l0.8 0.5l0.9 0.5M89.6 118.8l1 -0.3l0.9 -0.5l-0.1 -1l0.5 -0.8l-0.4 -1l-1 -0.3M76.3 113.6l0.3 1l0.8 0.5l0.8 -0.6l0.7 -0.7l-0.5 -0.9M87.3 109.2l-0.6 0.8l-0.5 0.9l0.5 0.9l-0.3 1M86.1 116l-0.2 1l-0.6 0.8l-0.6 0.7l-0.9 0.4l0 1M66.3 94.9l0.8 0.5l0.9 0.5l0.7 0.7l0.9 0.4l0.9 0.4l0.8 0.6M60.3 94.1l-0.8 -0.6l-0.1 -1l0.9 -0.3l0.8 -0.6l0.8 0.7l0.8 -0.7M59.7 115l1 -0.2l0.9 -0.3l0.7 0.7l0.9 0.4l0.5 0.9l-0.1 1M64 111.5l-0.5 -0.9l-0.5 -0.8l-1 -0.1l-0.3 -1M56.5 101.5l-0.9 -0.5l-1 0.1l-0.8 -0.6l-0.9 -0.5M95.4 114.3l0.3 -1l1 0.1l0.3 1l1 0l0.8 -0.5M65.6 93.7l1 0l0.9 0.4l1 -0.2M75.6 121.1l-0.3 1M71.1 89.6l-1 0l-0.7 -0.8l-0.1 -1M96.7 115.2l-0.5 -0.8l-1 -0.3l-0.9 0.4l-1 -0.2l-0.8 0.6M61.7 95.5l-0.9 -0.3l-0.4 -0.9l-0.7 -0.7l-0.8 -0.7" fill="none" stroke="#CD9600" stroke-width="1.25" stroke-linecap="round" stroke-linejoin="round"/>
<path d="M177.2 183.2l-0.9 0.5l-0.9 0.3l-0.9 -0.5l-0.9 -0.3M195.7 166.4l0.6 -0.8l0.1 -1l0.9 -0.4l0.6 -0.8l-0.4 -0.9l-1 -0.2M183.9 178.7l0.5 0.8l-0.1 1l0.8 0.5M168.8 175.2l0.1 1l0.9 0.4l0.7 0.8l0.2 0.9l0.3 1M157.1 184.9l0.7 0.7l0.8 0.7l0.9 -0.3l0.6 0.9M170.9 175.4l0.6 0.8l0.9 0.5l0.8 -0.5M181.5 181.9l-0.3 1l0.6 0.8M184.2 174.1l1 0.2l1 -0.1l0.4 -0.9l0.1 -1l0.2 -1l0.4 -0.9M170 182.5l-1 0.1l-0.4 -0.9l0.3 -1l0.4 -0.9l0.9 -0.4l1 -0.1M152.3 184.9l0.2 1l-0.5 0.9M168.2 167.7l0.8 -0.6l-0.3 -1l-0.8 -0.6l-0.3 -1l-1 -0.1l-0.9 0.3M149.9 179.6l0.3 -0.9l0.5 -0.9l0.1 -1M158 187.8l0.5 -0.8l0.6 -0.8l0.4 -1l0.5 -0.8l-0.6 -0.8M199.9 159.8l0.6 -0.7l-0.5 -0.9l-0.9 0.4M160.4 181.8l-0.7 0.7l-0.8 0.6l-0.9 -0.4l-0.4 -0.9M169.7 172.1l1 0.2l0.9 -0.3l1 0.4l0.9 0.3M192.8 168.3l-1 -0.1l-0.9 -0.4l-0.6 -0.7l-1 -0.4l-0.7 -0.7l-0.1 -1M178.6 174.4l-0.9 0.5l-0.6 -0.8l-0.3 -1l-1 0l-0.5 0.8l0.6 0.8M179.6 167l-0.8 0.4l-1 0.4l-0.8 -0.6M177.4 174l1 0l0.3 -1l-0.7 -0.7l-0.9 -0.4M177.2 166.3l-0.4 -0.9l-0.3 -1l0.2 -1l-0.8 -0.7l-0.8 -0.6M196.2 169.5l0.4 -0.9l1 -0.2l0.6 0.8l-0.3 0.9l-0.9 0.4M174.9 162.2l-0.5 -0.8M197.8 167.2l-0.5 -0.8l0.7 -0.7l0.9 -0.5M200.8 159.9l0.3 0.9M161.9 174.7l0 -1l-0.6 -0.7l0.2 -1l-1 -0.4l-0.9 -0.2l-0.2 -1M161.4 168.4l1 0.4l0 1l0.9 0.3l0.7 0.8l0.9 0.4l0.8 -0.5M192.9 171.4l0.5 0.9M166.6 169.8l0.9 0.4l0.7 -0.6l1 -0.1l0.5 -0.9M161.5 182.7l1 -0.1l0.3 0.9l1 -0.1l0.7 0.8M161.9 164.4l-1 -0.1l-0.7 0.6l-0.2 1M192.7 171.8l0 1M183 171.2l0.4 0.9l0.7 0.7l1 -0.2l1 0M190.5 171.9l-0.4 -1l0.7 -0.7l0.2 -0.9l-0.8 -0.6l-0.6 -0.8l0.4 -0.9M181.2 183l-1 0.3l-0.9 0.3l-1 0.3l-0.8 -0.6l-1 0.5l-0.3 0.9M194.9 167.3l0.2 1l-0.3 0.9l-0.9 0.2l-1 -0.4M183.3 163.1l-0.6 0.8l-0.8 0.6l-0.9 0.4l-0.4 0.9M161.1 166.9l-0.9 -0.4l-0.6 0.8l-0.9 0.3M167.3 183.8l-1 0.1l-0.1 1l-0.9 0.5l-1 0.1l-0.9 -0.4l-1 0.2M162.1 186.4l0.4 1l1 -0.2l0.8 0.6l0.8 -0.5l0.8 -0.7M174.4 183.7l-0.5 -0.9l-1 0.1l-0.6 -0.7l0.2 -1l0.3 -1M160.3 184.4l-0.9 0.5l-0.8 0.5l-1 0M156.3 173.7l-1 0.3l-0.9 -0.3l-0.9 0.3M165.5 167.6l0.6 0.7l0.7 0.8l-0.2 1l0.6 0.8l1 0.3l0.5 -0.8M179.8 169.8l0.8 -0.6l0.9 -0.5l0.9 -0.5M196.6 159.3l0.7 0.8l-0.1 1l-0.5 0.8M159.8 174.8l-0.4 0.9l-0.1 1l0 1l-0.9 0.2M173.7 184.3l-0.9 0.6l-0.9 0.3l-1 -0l-1 -0.3l-0.5 -0.9M159.5 177.9l0.7 -0.7l0.8 -0.7l0.5 -0.9l0.9 -0.2l1 -0.2l0.8 0.6M175.9 166.5l-1 0.2l-1 0.2l-0.9 -0.2l-0.5 -0.9M174.7 160.9l0.1 1l0.8 0.6l0.8 0.6M157.7 176.1l-0.8 0.6l-0.9 0.4l-0.9 -0.5M163.9 185.3l-0.4 0.9l-1 0.2l-0.7 -0.6M194.8 168.9l-0.5 0.9l0.2 0.9l0.5 0.9M152.5 182.4l1 -0.1l0.9 0.3l0.8 -0.6l1 0.1l0.8 0.6M157.4 169.2l0.1 -1M159.4 175.7l0.9 0.4l-0.1 1l-0.7 0.7M177.8 179.8l0.9 0.5l1 -0.4l1 -0.1l0.9 -0.3l0.5 -0.9M191.9 163.7l-1 0.3l-0.6 0.8l0 1l-1 0.2l-0.9 0.4l-1 -0.3M175.5 172.8l0.8 0.4l1 0.4l0.7 -0.6l0.9 0.3l1 0.1M162.7 167.5l-0.5 -0.9l-0.9 -0.4l-1 0M165.2 180.6l-0.7 -0.7l0.6 -0.9l1 0.2M159.7 167.3l-0.7 -0.8l-0.5 -0.8l0.4 -1M189.8 168.6l0.5 0.9l0.6 0.8l1 0.2l0.9 0.2l0.8 -0.6M189.6 174.3l-0.4 -0.9l-0.3 -1l0.1 -0.9M191 159.8l-0.8 0.6l-0.8 0.6l-0.2 1M155.4 172.6l0.3 1l-0.6 0.8l0.3 0.9l0.3 1M161.9 186.5l-0.5 -0.9l0.7 -0.7l0.9 -0.5l-0.2 -1l0.7 -0.7M154.6 173.1l0.1 1l0.7 0.7l0.1 1l0.5 0.9l0.9 0.4l-0.1 1M173.5 164l1 0l1 -0.1l0.3 1M176.6 182l0.9 0.4l0.8 0.7l0.9 -0.5l1 0.3l1 0.1l0.3 0.9M159.6 185l0.8 0.7l0 1l-0.9 0.3M169.8 167.5l0.4 -1l1 -0.2l0.3 -0.9M181.3 160.3l0.4 1l-0.5 0.8l0.7 0.7l0.8 -0.5M162 184.7l0.4 -0.9l0.7 -0.8l-0.6 -0.8l-0.3 -0.9M182.2 181.6l1 -0.2l0.1 -1l0.7 -0.7l0.2 -1M189 168.8l-1 -0.1l-0.8 0.6l-0.9 0.5M196.1 168.5l-0.9 0.4l-1 0.1l-0.7 0.7l-0.8 0.7l-1 0.1l0 1M176 166.7l1 0l0.5 -0.9l-0.6 -0.8l-1 0.1l-0.2 1l-0.9 0.4M169 182.9l-1 0.2l-0.6 -0.9l0.6 -0.8l0 -1M150.8 177l0.2 -1M186.2 161.7l0.4 -0.9l-0.6 -0.8M183.7 175.1l-1 -0.2l-0.9 -0.3l-1 0.3l-0.9 0.4l-0.7 -0.8l-0.7 -0.7M158.1 176.8l-0.8 -0.6l-0.8 0.6l0.3 0.9l-0.3 1M181.2 177.7l1 0.3l0.4 -0.9l-0.4 -0.9l-0.8 -0.6l-0.4 -0.9l-1 0M191.5 162.8l0.8 -0.7l0.8 0.6l1 0.4M185.7 162.4l0.5 0.9l0.4 0.9l-0.8 0.6M152.8 175.2l-1 0M152.8 182.1l-0.7 0.7l0.4 0.9l-0.2 1l0.6 0.7l-0.5 0.8M177.9 185.8l-0.9 0.5M162.6 170.2l0.7 0.7l0.9 0.5l1 0.1l0.6 0.8M193 163.3l0.8 -0.6l0.5 -0.9l1 -0.1l1 0.1l1 0.1l0.7 0.6M175.2 169l0.9 -0.2l0.7 -0.8l0.7 -0.7l-0.5 -0.9l-0.7 -0.7M175 164.4l0.5 0.8l-0.1 1l0.5 0.9l-0.4 0.9M178.1 181.1l0.3 0.9l0.2 1l-0.6 0.9l-0.6 0.7l-0.1 1M176.2 171.1l0.9 0.5l0.8 0.5l1 -0.1l0.6 -0.8M185.4 167.6l0.4 -1l0.3 -0.9l-0.6 -0.7l-1 -0.5l-0.7 0.7M190.8 168.3l1 0.2l0.8 0.5l1 -0.3M186.1 179l1 0.2M179.1 180.5l0.9 -0.6l0.9 0.3l0.1 1l-0.4 0.8l-0.6 0.8M183.1 178.2l-0.5 0.9l-0.9 0.4l-0.4 0.9l-0.3 1l-0.4 0.9M177.5 177l-1 -0.2l-0.7 -0.6l0.5 -0.9l-0.3 -1l-0.2 -0.9M178.5 184.3l0.9 0.5M170 173.4l0.9 0.3l0.5 0.9l-0.6 0.8l0.2 0.9M166.8 167.8l-0.7 0.7l0.1 1l-0.1 1l0.9 0.5l-0.1 1M175.1 177.2l-0.4 0.9l-0.8 0.6l-0.6 0.8l0.5 0.9l1 0M157.3 178l1 0.3l0.3 0.9l0.5 0.9l-0.1 1M175.2 184.7l-0.3 -1l-0.4 -0.9l0.8 -0.7M199 166.6l0.6 -0.8l-0.3 -0.9l0.2 -1M182.3 176.6l-1 0l-1 0.1l-0.7 0.7l-0.1 1M171.5 175.4l-0.7 -0.7l-1 0.4l-0.8 -0.5l-0.9 0.5l-1 -0.3M184.4 168.7l0.9 0.5l0.6 0.7l0.9 -0.4M151.4 179.5l1 0.2l0 1l-0.5 0.9l0.7 0.7l0.2 1l0.1 1M169 179.6l0.5 0.8l0.1 1l-0.6 0.8l-1 -0.3M149.8 178.2l-0.6 0.8l-0.6 0.8l-0.3 0.9M159.6 187.9l-0.9 -0.4l-0.6 0.8l-1 -0.4l-0.9 -0.3l-0.3 -1l-1 0M195 172l-1 0.3l-0.9 0.4M173 169.2l-0.2 1l0.4 0.9l-0.2 1l0.2 1l-0.9 0.5l-0.9 -0.3M173 169.3l-1 0.4l0.2 1l0.2 0.9l1 0.3M195.4 159.4l0.5 0.8l-0.3 1l-0.9 0.2l-0.8 -0.6M189.1 160.1l-0.1 1l0.8 0.6l0.4 0.9l-0.7 0.7M157.3 180.8l-0.5 0.9l-0.1 1l-0.2 1l-0.7 0.7l-0.6 0.8l-0.1 1M196.8 169.2l0.4 1M191.3 163.5l1 -0.1l0.6 -0.8l-0.5 -0.8l-1 -0.3l-0.7 0.7M176.2 162.2l0.9 -0.5l0.9 0.5l0.9 -0.5l0.9 -0.2l0.1 -1" fill="none" stroke="#7CAE00" stroke-width="1.25" stroke-linecap="round" stroke-linejoin="round"/>
<path d="M149 142.7l1 0.4l0 1l0.9 0.4l0.4 0.9l1 -0.2M138.3 140.3l-0.8 -0.5l-0.8 0.6l-0.8 0.6M150.9 124.3l0.9 -0.3l0.9 0.5l0.9 -0.4l0.8 0.7l1 -0.3M105.6 134.4l0 -1l-1 -0.2l-0.7 0.7M151.9 124.2l-0.4 0.9l0.6 0.8l0.2 1l0.4 0.9M95.7 126.7l-0.4 -0.9l-1 0M144.4 142.9l0 1l0.4 1l-0.5 0.8l0.5 0.9l1 -0l0.6 0.7M134.7 130.5l0.8 0.6l0.9 -0.1l1 0.1M93.4 127.2l0.6 0.7l-0.3 1l0.7 0.7M161.6 137l0.6 0.8l1 0l0.4 -0.9l0.4 -0.9M142.9 126.7l0.5 -0.9l0 -1l0.7 -0.8l1 0.3l0 1M162.3 143.7l0 -1l0 -1l0.2 -1l0.1 -1M144.6 151.6l0 -1l0.2 -1l-0.4 -0.9l0.6 -0.9l-0.6 -0.7l-0.3 -1M117.2 135.9l1 -0.3l0.9 -0.3l0.4 -0.9l0.9 -0.3l0.8 -0.7M162.4 149.8l0.4 -1l0.8 -0.6l0.8 -0.5l0.1 -1l-0.1 -1l-1 -0.2M120.3 125l0.9 -0.4l0.4 -0.9l0.7 -0.7l0.9 0.4l0.6 -0.9M145 142.1l-1 -0.1l-1 0.2l-1 0.3M143.3 126.7l-0.5 0.9l-1 0.2l-0.3 1l0.4 0.9l1 -0.3M128.5 137.2l0.9 -0.3l0.1 -1l0.6 -0.8l0.3 -1l0.5 -0.8l0.8 -0.7M161.1 136.5l0.3 1l0.8 0.6l0.1 1l0.6 0.8M160.8 120.5l0.6 0.8l0.3 0.9l-0.8 0.7l-0.8 -0.6l-0.1 -0.9M108.3 124.5l-0.9 -0.4l-0.8 0.7l-1 0l-0.4 -0.9M114.6 137.7l0.6 -0.8l0.2 -1l0.7 -0.8l0.9 0.4M135 142.6l-0.1 -1l-0.7 -0.7l-0.9 -0.4l-0.9 -0.5l-0.5 -0.9M130 128.9l0.5 0.9l-0.2 1l0 1l0.8 0.5M133.5 129.9l0.1 -0.9l0.6 -0.8l-0.1 -1l-0.5 -0.9l-0.9 0.2l-0.9 0.5M148.9 145.4l-0.3 1l0.1 1l-0.9 0.3l-1 -0.2l-0.9 0.2M148.3 152.1l0.7 0.7l0.4 1l-0.1 1l0.8 0.6M125.3 125.2l-0.1 1l0.6 0.8l0.6 0.8l0.9 -0.5l-0.1 -0.9M163.2 153.7l-0.4 -0.9l0.4 -0.9l0.8 -0.6l0.8 0.5l0.5 0.9M159.7 124.3l-0.9 0.3l-0.6 -0.9l0.2 -1l-0.2 -0.9l-0.1 -1M134.1 147.3l-0.9 -0.3l-0.7 -0.8l0.4 -0.9l0 -1l0.2 -1M112.1 130.8l-0.8 -0.5l-1 0.2l-0.2 1l0.7 0.7M161.6 130l1 0.2l0.9 0.5l0.9 0.3l0.6 -0.9l-0.2 -1M117.1 144.7l-0.5 -0.9l-0.8 -0.6l-1 0l-0.6 0.8l0 1M141.6 135.8l-0.1 -1l-0.5 -0.9l0.5 -0.9l-0.3 -0.9l0.1 -1M125.1 137.2l-0.6 0.8l0.1 1l0.6 0.8l0.9 0.4M121.1 143.6l0.9 0l0.3 1l-0.9 0.5M101.7 128.4l-1 0.1l-1 0.1l-0.2 -1l0.3 -1l-0.9 -0.5M124.4 138.3l-0.5 0.9l-1 -0.3l0 -1l-0.2 -0.9l0.2 -1l-0.7 -0.7M157.5 125.2l1 0.1l0.5 -0.9l0.7 -0.7M150.8 132.1l-0.4 -0.9l-0.8 -0.5l-0.1 -1l0.9 -0.4l0.8 -0.6M123.8 136.7l-0.9 -0.5l-0.8 0.4l-0.4 1l-0.9 0.5l-0.9 -0.4l-1 0M105.5 132.9l1 0l0.9 -0.5l0.8 0.6l0.7 -0.7M141.9 145.6l0.3 0.9l0.9 0.4l1 0.1l0.9 -0.4l1 -0.2l0.9 0.3M158.2 138.1l1 0l0.9 0.4l0.4 1l1 0l0.2 1l-0.7 0.7M158.1 141.7l-1 0.1l-0.8 -0.6l-1 0.1M118.9 135.3l-0.4 0.9l-0.5 0.9l0.4 0.9M156.1 143.1l0.7 0.6l0.9 0.5l0.9 0.4l1 -0.3l0.9 0.4l0.2 0.9M140.2 132.3l0.1 1l-0.6 0.8l0.5 0.9l1 0.3l1 -0.3l0 -0.9M97.8 128.4l0.7 -0.7l0.5 -0.9l0.9 -0.4l0.9 0.5l1 0.1l1 -0.1M119.2 132.9l-0.2 -1l-1 -0.1l-0.6 -0.8M129.7 141.1l-0.4 0.9l-0.9 0.3l-1 -0.3l-0.7 0.6l-0.9 0.6l-0.8 0.5M146.2 144.9l-0.7 -0.6l-0.7 -0.8l-0.9 -0.3l-1 0.3l-0.9 -0.4M147.5 134.2l0.9 -0.5l1 -0.3l0.6 0.7l0.9 -0.5l0.7 0.7l0.5 0.8M158.3 142.6l0.5 -0.8l1 -0.2l0.7 0.8l0.8 0.6l1 0l0.6 -0.8M114.6 131.9l-0.9 -0.5l-0.9 -0.2l-0.8 -0.6l-1 -0.2l-0.8 -0.7l-1 0.3M145.6 124.9l-0.9 -0.4l-0.9 0.5l0.1 1M161 153.1l0.9 0.5l0.9 0.4l0.6 0.8M114.4 135.3l0.8 -0.6l0.9 0.4l0.1 0.9l1 0.3l0.1 1M145.7 144.7l0.9 -0.4l1 -0.4l0.2 -1l0.7 -0.8M142.2 128.3l-1 -0.1l-0.5 -0.8l0.6 -0.8l0.1 -1l0.9 -0.3M145.4 147.7l-1 0l-0.7 -0.7l-0.3 -1l-0.1 -1l0 -1l-0.8 -0.6M139 135l-1 0.1l-0.8 0.5l-1 0l-0.2 -1l0.9 -0.5M159.7 156.1l-0.1 1l-1 0.1l-0.9 -0.5M160.8 123.7l-1 0.2l-1 0l-0.2 0.9M152.1 137l1 -0.3l1 0.1l0.3 1M96.3 132.6l0 -1l-0.9 -0.5l-0.1 -1l0.9 -0.3M115.5 132.8l0.3 -0.9l0.9 -0.4l-0.1 -0.9l0.7 -0.7l0.9 0.4M148 138.3l-0.4 0.9l-1 0.1l-1 0.3M120.2 129.6l-0.8 0.6l0 1l0.7 0.7l0.4 0.9M162.2 135.9l-0.5 0.9l0.1 1l-0.4 0.9M160.9 134.2l0.7 -0.7l0.5 -0.8l-0.3 -1M151.4 135.1l1 -0.1l1 -0.2l0.4 0.9l-0.2 0.9l-0 1M105.7 136.1l-0.6 -0.8l0.7 -0.7l0.2 -1l-0.9 -0.5l-0.6 -0.7M162 125.7l0.3 1l-0.6 0.7l0.5 0.9M158.6 143.5l0.2 -0.9l-0.2 -1l0.7 -0.7l1 -0.1l1 0l0.2 1M157.4 148.5l0.5 -0.9l0.3 -0.9l-0.6 -0.8l0.7 -0.8M164.4 153.8l0.6 -0.8l0.3 -1M125.9 124.1l1 -0.4l0.8 0.6l-0.2 1l-0.7 0.7l0.4 0.9M132.7 140.6l0.1 1l1 0.4l0.7 0.7l0.4 0.9l1 0.3l0.8 0.6M132.7 143.4l-0.7 -0.7l-0.9 -0.4l-0.2 -1l0.1 -1M144.8 135.2l-0.9 -0.2l-0.9 0.6l-0.4 0.9l0.7 0.7l0.9 0.3l0.9 0.4M147.7 139.2l1 0.2l0.7 0.7l0.7 0.7M112.6 127l0.1 1l0.5 0.9l-0.2 0.9M149.9 146.4l-0.4 0.9l0 1l-0.3 1l-1 -0.2l-0.3 1M143.2 137.5l1 0l1 -0.2l0.9 -0.3M134.9 137.6l0.7 -0.7l0.9 0.4l1 -0.2l0.9 0.2M151.7 130l-0.9 -0.2l-0.4 -0.9l0.4 -0.9M119.5 137.4l-0.6 -0.8l-1 0l-1 0.2l-0.7 -0.7l0.6 -0.8l-0.3 -1M154 138.4l-0.5 -0.8l0.6 -0.8l1 -0.2M133.1 133.5l0.1 1l-0.7 0.7l-1 -0.3l0 -1l0.9 -0.3M148.5 130.4l-0.6 0.9l-1 -0.1l-0.8 -0.6l-0.7 -0.8l-0.8 -0.5M120.4 135.3l-0.7 -0.7l-0.9 -0.5l-1 0.1M136.5 121.9l-0.2 1l0.7 0.7l0.5 0.9l1 0.1l0.9 0.5M118 141.6l-0.5 0.9l0.4 0.9l-0.6 0.8M132.4 135.5l1 0.1l0.9 -0.4l0 -1l1 -0.2l1 0.2M118 137.6l0.8 -0.6l0.1 -1l-0.4 -0.9l0.2 -1M159.1 137.7l0.8 0.6l0.9 -0.6l0.8 -0.6l0.7 -0.7l0.7 -0.7M121.7 138.2l0.4 -0.9l-0.2 -1l0.3 -0.9l0.3 -1l0.2 -1M94.5 128.5l-0.7 0.7l-0.9 0.6M95.1 125.7l1 0l0.6 0.8l0.7 0.7l0.8 0.6l0.1 1l-0.7 0.7M134.6 143.7l-0.3 1l-0.9 0.5l0.2 1l0.7 0.7l1 0l0.7 -0.8M146.2 123.7l1 0l0.9 0.5l1 -0.1M142.2 135.5l0.6 0.8l0.6 0.8l0.8 0.6l0 1l0.4 0.9l-0.1 1M105.3 140.6l0.8 -0.5l0.1 -1l-0.2 -1l-0.9 -0.5l-0.8 0.6M152.8 128.3l0.1 1l-0.8 0.7l-0.9 0.3l-1 0M131.1 132.1l0.9 -0.5l1 0.1l1 -0.3M157.8 151.6l0 1l0.3 1l0.8 0.6l0.6 0.7M118.3 143.1l0.1 1l0.2 0.9l0.2 1M138.6 131l0.8 -0.6l-0.4 -1l-0.7 -0.6l-0.8 -0.6l-0.7 -0.7l-1 -0.1M139.9 144.3l0.3 0.9l0.4 0.9l1 0.4l0.3 0.9l-0.2 1M126.9 126.2l0.4 -0.9l0.7 -0.6l0.9 -0.5M131.6 133.3l-0.6 -0.8l-1 0.2l-0.9 0.3l0 1M105.2 135.6l0.9 -0.5l0.9 -0.4l0.6 -0.8l-0.6 -0.8l-0.1 -1l-0.9 -0.5M136.6 139.9l0.1 1l-0.7 0.6l0 1M145.4 134.3l0.5 -0.8l1 -0.2l0.3 -0.9l-0.7 -0.8l0.2 -1l0.7 -0.7M108.5 130l-0.8 0.5l-0.2 1l-0.7 0.7l-1 0.1M142.8 124.9l-0.8 0.5l-0.5 0.9l-0.2 1M161.5 155.3l-0.6 -0.8l-0.1 -1l0.2 -1l0.3 -1l0.2 -1l0.9 -0.2M120 125.2l1 -0.2l0.9 -0.3l0.3 -1l0.3 -0.9l0.2 -1M107.9 130.7l0 1l0.5 0.9l-0.8 0.6l-0.3 1l-0.8 0.6M119.6 131l0 -1l-0.6 -0.8l-0.8 -0.5l-0.8 0.5M115.5 126.9l1 -0.4l0.5 -0.8l-0.4 -0.9M129.5 139.6l-0.6 0.8l0.5 0.9l0.4 0.9l1 -0.1l0.9 0.5l0.8 -0.5M118.6 132.6l0 1l0.5 0.8l0.7 0.8l0.1 1l0.2 1l0.4 0.9M162.9 127.4l-0.5 -0.8l-0.7 -0.8l-0.8 -0.6M115.6 127l-0.6 -0.8l-0.7 -0.7l-0.1 -1l0.9 -0.3l1 0.3M128.7 142l0.9 0.3l0.8 0.6l-0.2 1M148.4 128.8l0.9 -0.5l1 0.2l0.4 -0.9l1 -0.1l1 0M110.2 131.6l-0.3 -1l-0.9 -0.3l-0.3 -1l-0.6 -0.8M98.7 131.1l-1 -0.2l-0.8 -0.5l-0.7 -0.8l-0.9 -0.1M141.4 125.1l-0.9 0.5l-1 -0.2l-0.9 -0.4l-1 -0.1l-0.7 -0.7l-0.2 -1M142.4 128.2l-0.1 -1l-0.8 -0.7l-0.7 -0.7l-0.7 -0.7l-0.7 -0.7l-1 0M124.8 130.8l0 -1l-0.2 -1l0.3 -0.9l-0.3 -0.9l-0.4 -1l-1 -0.3M119.2 131.1l0.3 1l0.5 0.9l-0.5 0.8l-1 0.1M152.6 154.8l1 0.1l0.7 0.7l0.7 0.7l1 0M125.4 121.9l-0.2 1l0 1l0 1l0.8 0.6M119.6 141.4l0.8 0.5l0.9 0.4l0.7 0.7l0.9 -0.5M153.9 133l0.9 -0.2l0.1 -1l1 -0.3l0.9 0.3l0.4 0.9l0.6 0.8M124.4 123.4l0.2 -1l-0.9 -0.5l-0.7 -0.7M156 126.7l-0.1 0.9l-0.7 0.7l0.3 1M126.9 132.6l-0.9 -0.5l-0.8 0.7l-1 0.2l-0.8 0.5l-0.8 0.6M140 135.7l0.4 -0.9l1 0.1l0.4 -0.9l0.8 -0.7M154.9 147.3l0.8 0.5l0.7 0.7l0 1l0.9 0.5l0 1M160.8 142.4l-0.4 -0.8l-0.2 -1l-1 -0.3l-0.1 -1l-0.3 -1l0 -1M164 133.2l-0.4 -1l-0.9 -0.4l-0.6 0.8l-1 0.3l-0.4 0.9l-1 0.1M134 125l0.9 -0.3l0.8 -0.6l0.7 -0.8l0 -1M147.8 134.3l-0.2 -1l0.6 -0.8l0.8 -0.5M118.6 142l0 1l0.5 0.8l1 0.2l0.8 0.7l0.3 0.9l0.6 0.8M117.1 140.9l0.9 -0.4l0.5 -0.9l0.5 -0.9M144.7 144.1l0.8 -0.7l0.9 0.5l0.6 -0.8l0.9 -0.5l0.7 0.7l0.2 1M159.6 133.3l0 -1l0.2 -1l1 -0.1l0.3 1l0.3 1M150.6 132.9l0.3 1l0.9 0.5l-0.1 1l0.6 0.8l-0.5 0.9M151.5 141.6l0.9 0.3l1 0.2l0.9 -0.5M157.1 139.8l0.3 0.9l1 0.1l0.7 -0.7l0.2 -0.9l-0.7 -0.8M134.3 131.8l0.8 -0.6l1 0.2l0.9 0.5l-0.1 1l0.8 0.7M123.2 127.2l0.7 -0.7l1 0.3l0 1l-0.8 0.6l-0.9 -0.5l0.3 -1M119.3 140.6l0.7 -0.7l0.2 -1l1 -0.1l0.6 -0.9M156 132.5l0.9 -0.5l0.2 -0.9l1 -0.2M111.9 140.2l0.9 0.5l0.7 0.7l-0 1l-0.4 0.9l-0.9 0.6M145 133.3l1 -0.3l0.6 -0.8l0.1 -1M119.6 135.8l-0.3 0.9l-0.3 0.9l-0.7 0.8l-0.9 0.3l-1 0.1l-0.4 1M143.5 124.9l0.6 -0.8l1 0.2l0.9 -0.5l0.9 -0.4l0.4 -0.9l-0.7 -0.7M162.3 131.5l-0.2 -1l-0.5 -0.9l0.6 -0.8l0.3 -0.9l0.6 -0.8M141.3 134.6l-0.7 0.6l-1 0l-0.2 -1l-0.6 -0.8l-1 0.3M112.1 143.6l0.9 0.1l0.5 0.9M133.3 126.1l1 -0.3l1 0l0.9 0.2M135.5 132.9l-0.8 0.5l-1 0.2l-1 0.3l-0.6 -0.8M131.3 142.2l-0.7 -0.7l0.1 -1l-0.5 -0.9l0.4 -0.8l0.1 -1l0.5 -0.9M152.9 128.7l-1 0l-0.6 0.9l0.5 0.9l-0.4 0.9l-0.5 0.9l0.6 0.8M165.6 150l-0.9 -0.4l-0.9 -0.3l-0.7 -0.7M122.6 142.4l0.4 0.9l0.3 0.9l0.6 0.8M134.3 146.5l-0.9 0.3M108.7 136l0.4 0.9l1 -0.2l0.6 -0.8l1 0.2l0.7 0.6M98.6 130.8l-0.2 1l0.7 0.7l0.9 0.4M105.8 128.3l-0.3 -0.9l-0.9 -0.5l-0.4 -0.9M137.9 133.4l0.2 0.9l-0.4 1l-1 -0.1l-0.3 0.9l0.7 0.7M145.4 149.4l0.1 1l0.5 0.9l-0.7 0.7l-0.9 -0.5M128.3 145.1l-0.9 -0.4l-1 0.2l-0.8 0.6l-1 0l-0.5 0.9M111.1 127.2l0.8 -0.5l1 0.1l0.8 0.6l0.9 0.5l0.9 0.5M101.6 129.1l0.1 1l0.7 0.7l-0.3 0.9l-0.8 0.5l-0.8 -0.6M149.7 127.3l-0.2 -1l-0.3 -1l-0.1 -1M123.2 131.3l0.2 1l-0.6 0.8l-0.9 -0.3l-0.6 0.8l-1 -0.3l-1 -0.2M149.6 148l-0.3 -0.9l-0.7 -0.7l-1 -0.1M142.5 133.5l0.9 -0.4l1 -0.2l0.3 1M143.5 137.6l-0.8 0.5l-1 -0.1l-1 -0.1l-0.5 0.8l0 1M131.3 135.1l1 -0.2l0.9 0.5l1 0.2l0.9 -0.4M123.8 134.9l-0.8 0.6l-1 0l-0.8 -0.7M140.9 142.6l-0.7 -0.6l0.2 -1l0.6 -0.8l0.1 -1l0.6 -0.8l-0.4 -0.9M108 137.8l0.7 -0.7l0.9 -0.6l0.7 -0.6l0.3 -0.9l-0.5 -0.9l-1 -0.2M136.9 146l-0.9 0.2l-1 0.4l-0.7 0.7l-0.9 -0.2M141.9 137.5l-0.5 0.9l-0.6 0.7l-0.7 0.8l-0 1l0.9 0.4l0.7 0.7M116.4 143.3l0.9 0.4l0.9 -0.6l0.7 0.7l-0.3 0.9l0.1 1M132 145.6l-0.6 0.7l-0.5 0.9M100.8 137.8l0.5 0.9l0.3 0.9M163.7 128.5l0.8 -0.6l0.7 -0.7l0.2 -1l-0.9 -0.4l-1 -0.1l-0.3 1M121.7 136.5l0 -1l1 -0.4l0.7 0.7l1 0.1l0.5 -0.9M152 123.9l1 -0.1l0.2 -1l1 -0.2l1 -0.3l0.9 -0.3M163.9 149.8l-0.9 -0.1l-1 -0.2l-0.6 -0.8l-0.9 -0.6l-0.9 -0.1l-0.3 -1M114.6 131.1l0 1l0 1l-0.4 0.9l-0.2 1M137.4 125.7l1 0.1l0.2 1l-0.7 0.8l-0.9 0M151.1 123.2l-0.5 -0.9l-0.7 -0.7l-0.8 -0.6" fill="none" stroke="#00BE67" stroke-width="1.25" stroke-linecap="round" stroke-linejoin="round"/>
<path d="M178.8 128.5l0.2 -1l0.7 -0.7l1 0l1 -0.1M185 127.7l-1 0l-0.9 -0.5l0 -1M175.5 142.8l-1 0.2l-0.1 1l-1 0.2l-0.6 0.7l-0.9 -0.4M178.1 121.2l-0.3 0.9l-0.9 0.4l-0.2 1M173.4 141.4l1 0.3l0.5 -0.8l0.5 -0.9l0.7 -0.7l0.6 -0.8M191.5 143.5l0.9 -0.4l0.8 0.6l0.3 0.9l-0.7 0.7M186.1 139.1l-1 -0.3l-0.4 0.9l-0.9 0.4M171.5 131.6l-0.9 -0.4l-0.7 -0.7l-0.8 -0.7l-0.8 -0.5M176.8 136.9l-0.9 0.4l-0.2 1l0.1 1M171.9 134.5l0.2 -1l1 0l0.7 -0.8M196.5 143l0.5 -0.8M188 147.9l0.4 -1l-0.1 -1l-0.7 -0.7l-0.9 -0.4M177.2 117.8l1 0.1l0.7 -0.7l0.3 -1M168.4 136.7l-0.7 -0.7l0.4 -1l1 0.1M184.3 125.8l-0.7 -0.6l-1 0.1l-0.6 -0.8l-0.2 -0.9l-0.6 -0.9l-1 0.3M172.5 117.4l-0.8 -0.6l-1 0.1l-0.9 0.4l-1 0.1l-0.5 0.8M181.8 128.8l-0.9 0.5l-0.3 0.9l-0.8 0.6l0.3 0.9M190.2 141.7l-0.7 -0.8l0.2 -1l0.8 -0.6l0.1 -1l1 -0.1l1 0.2M171.6 144.4l1 0.1l0.3 1l0.3 0.9M181.3 121.2l1 -0.3l0.9 0.4l1 -0.2l0.9 -0.4M190.1 145.7l0.3 0.9l0 1l-0.2 1l-1 0.3M190.9 142l0.2 -0.9l0 -1l0.6 -0.9l-0.3 -1l0.3 -0.9M178.4 117.4l-0.1 -1M188 143.9l-1 -0.1l-0.9 -0.4l-0.8 -0.6l-0.8 -0.6M185.3 122.8l-0.3 0.9l-0.2 1l-0.4 0.9l-0.1 1M191.3 138.5l1 -0.1l0.9 -0.5M183.1 127.6l-0.3 0.9l0.9 0.5l1 -0.2l0.9 -0.1M173.5 133.4l-0.6 0.8l0.3 0.9l-0.9 0.5M183.7 135l0.9 -0.5l1 0.3l-0.2 1M174.7 133.2l1 0.1l1 -0.4l0.2 -0.9l-0.7 -0.8M172.7 119.1l-1 -0.2l-1 -0.3l-0.8 0.5l-0.9 -0.6l-0.9 -0.4l-1 -0.1M190.8 147.1l-1 -0.1l-1 -0.1l-0.4 -0.9l-0.9 -0.5l-0.8 0.7l-0.8 -0.5M171.1 137.2l-1 -0.4l-0.3 -0.9l0.3 -0.9M189.5 137.7l-0.7 -0.7l-0.5 -0.9l-0.2 -0.9l-0.8 -0.5l-0.8 0.6M173 130.1l0.8 -0.6l0.2 -1l-0.4 -0.9l-1 0M175.8 119.3l-0.9 0.4l-0.7 0.8l-0.2 0.9l0.6 0.8l-0.6 0.9l-0.9 0.4M173.7 127.4l-0.3 -0.9l-0.8 -0.5l-0.9 0.5l-0.9 0.5l-0.7 0.7M180.1 129l0.4 0.9l-0.1 1l-0.5 0.9M182.5 122.7l-1 0l-0.6 0.8l-1 -0.2l-0.9 -0.3l-1 -0.2l-0.4 0.9M164.1 132.5l-0.2 -1l0.7 -0.7l-0.1 -1l0.7 -0.6l0.6 -0.8l1 -0.1M178.2 124.9l-0.2 -1l1 -0.4l0.9 0.3M174.6 147.7l0.2 -1l0.8 -0.6l0.9 0.2l0.8 -0.6l0.1 -1l-0.5 -0.9M178.9 135.6l0.6 -0.7l-0.3 -1l-0.5 -0.8l0 -1l-0.2 -1M181.3 137.3l0.5 -0.9l0 -1l-0.8 -0.5l-0.2 -1l-0.2 -1M180.8 120.2l0.1 -1l-1 -0.4l-0.2 -0.9M175.5 130.7l0.2 -1l0.9 -0.5l-0.2 -1l-0.9 -0.4l-0.9 -0.5l-0.8 -0.6M176.2 140.4l1 -0.1l0.9 -0.4l0.7 -0.7l1 -0l0.8 -0.6M186.9 124.3l0.8 0.6M173.5 130.8l1 0.2l0.8 -0.5l0.3 -0.9M175 122.8l0.1 -1l0.3 -0.9l0.4 -0.9l0 -1l-0.8 -0.6l-0.8 -0.7M178.8 129.7l0.5 0.9l0 1l-0.1 1M190.8 143.9l0.9 0.4l1 0l0.8 0.5M173.3 122.8l-0.9 0.6l-0.9 -0.4l-0.9 0.3l-0.5 0.9M185.6 149.6l-0.9 -0.5l0.2 -1l0.7 -0.7l-0.1 -1l-0.9 -0.3l-0.5 0.9M173.8 122.1l0.6 0.8l0.7 0.6l1 -0.1l1 -0.2l1 -0.1M191.3 142.6l-0.6 0.8l0.3 1l0.2 1l-0.7 0.6l-0.9 0.4l-1 -0.4M188.9 140.7l-0.1 -1l-0.4 -0.9l0 -1l0.2 -1l0.9 -0.4l0.4 -0.9M180.8 124.9l-0.8 -0.6l-0.2 -1l0.7 -0.7M179.5 125.4l0.3 1l0.3 0.9l-0.9 0.6l-0.4 0.9l-1 -0.2l-0.4 0.9M180.3 136.1l0.6 0.8l0.8 0.6l0.3 1l-0.8 0.6M188.1 140.1l0.9 -0.5l0.5 -0.9l0.9 -0.3l-0.1 -1l0.3 -0.9l1 0M170.5 130.9l0.6 -0.8l0.4 -0.9l0.7 -0.7l1 0l1 0.1M183.5 134.9l0.9 0.4l0.8 -0.7l0.8 0.6l0.8 0.6l1 -0.1M175 116.5l-0.3 0.9l0.1 1l-0.6 0.7M166.1 127.8l1 0.2l0.9 0.4l0.7 0.7l1 -0.2l0.7 -0.8l-0.4 -0.9M185.7 135.8l0.9 0.3l0.4 0.9l-0.7 0.7l-0.9 0.5M172.8 135.5l0.6 0.8l1 -0.1l0.4 0.9l-0.4 0.9M166.3 122.4l0.5 0.9l0.7 0.6l1 -0.3l0.8 -0.5l0.4 -1l0.6 -0.8M174.6 147.4l0.8 0.6l-0.3 1l-1 0.2l-0.8 -0.5l-0.8 -0.6M167.3 141.2l-0.6 0.8l0.4 0.9M175.4 116.1l-0.9 0.4l-0.3 0.9l-0.5 0.9l-1 -0.2M180.9 135.9l-0.2 -1l-0.1 -1l0.7 -0.7l1 -0.1l0.6 0.8" fill="none" stroke="#00BFC4" stroke-width="1.25" stroke-linecap="round" stroke-linejoin="round"/>
<path d="M219.9 140.1l-0.7 0.8l0.6 0.8l-0.3 0.9M209.8 114.8l-0.5 -0.9l0.7 -0.7l0.9 0.5l0.8 0.5M213.4 112.5l0.9 0.6l0.7 0.7l-0.5 0.8l-0.4 0.9l-0.3 1l0.8 0.5M201.8 132.3l-0.5 0.8l-0.8 0.6l-0.2 1M209.4 119.1l-0.6 -0.8l-0.5 -0.9l-0.7 -0.7l-0.5 -0.8l-1 0.2M214.1 138.8l-0.1 -1l0.3 -1l0.3 -0.9l0.9 -0.5l0.8 -0.6l1 -0.1M203.9 135.9l0 -1l-0.8 -0.5l-0.8 0.7l-0.9 0.4l-0.8 -0.6l-1 -0.1M203.7 126.8l-0.8 -0.6l-0.6 -0.8l-1 0.2M209.4 120.9l-1 -0.1l-0.1 -1l-0.9 -0.4l-0.7 0.7l-0.9 0.5M197.7 119.3l-1 -0.1l-0.4 -0.9l-0.8 -0.7l-0.1 -1M196.4 133.6l-1 0.4l-0.9 0.1l-0.4 -0.9l-0.5 -0.8l-0.7 -0.8M202.2 148.7l0.7 -0.7l0.1 -1l-0.6 -0.8l-1 0.2M200.8 123.9l0.9 -0.5l1 0.1l1 -0.1l0.3 -0.9M222.4 118l0.4 0.9l-0.3 1l-0.3 0.9l-1 -0.2M217.9 134.6l-0.6 -0.8l-1 -0.3l-0.8 0.5M218.3 131.2l-1 0.1l-1 -0.3l-0.5 0.8l0.3 1l0.8 0.6M201.7 117l-0.5 0.9l0.7 0.7l0.5 0.9M223.9 122.3l-1 -0.2l-0.9 0.2l-0.6 -0.8M194.6 126.1l-0.6 0.8l0.5 0.9l-0.6 0.7l-0.9 -0.4l-1 0.3M205.7 126.4l-0.1 -1l0.9 -0.5l0.9 0.2M208.5 124.5l0.8 -0.7l0.8 0.5l0.3 1l-0 1l-1 0.2M211.4 124.1l-0.6 0.8l0.3 0.9l0.8 0.5l0.5 0.9M202.4 129.7l0.6 0.8l0.1 1l0.9 0.5l1 -0.2M212.6 125.5l-0.6 0.8l-0.2 1l-0.3 0.9l0.6 0.8l0 1M217.4 113.1l0.8 -0.6M196.2 134.6l0.2 -1l0.8 -0.6l0.6 -0.9l-0.3 -0.9l-0.4 -0.9l0.7 -0.7M208.3 120.4l0.9 -0.3l0.9 -0.3l0.2 -1l0.8 -0.6l0.7 -0.7M209.1 126.4l0.4 -0.9l0.9 -0.3l0.6 -0.8l0.5 -0.9M190.4 128.2l0.7 -0.7l0.9 -0.5l0.7 0.7l-0.3 1l-0.9 0.5M218.7 116.3l-0.1 -1l-0.9 -0.3l-1 0.1M202.6 144l-0.9 -0.4l-0.9 0.5l-0.3 0.9l-0.1 1M199.2 145.1l0.5 -0.8l0.1 -1l0 -1l0.7 -0.7l-0.2 -1M204.8 157l0.9 -0.3l0.3 -0.9l0.3 -1M189.7 129.4l0.1 -1l-0.6 -0.8M209.5 129.8l-0.6 -0.8l-1 0.3l-0.7 -0.7M212.2 134.6l0.9 -0.5l0.2 -0.9l0.3 -1l0.1 -1l0.8 -0.6M193.6 135l-1 -0.2M213.6 137.5l-0.3 0.9l-0.1 1l0.3 1l0.8 0.6l0.9 -0.3l1 0M210.1 129.6l-0.3 -0.9l-1 -0.2l-0.8 -0.6l0.2 -1M207.3 123.2l-0.8 0.5l-1 0.4l-0.3 0.9l-0.4 1l-0.6 0.7M207 113.2l0.2 -1l0.3 -1l-0.9 -0.5l-0.8 0.6l-0.2 1l-0.8 0.5M200.5 131.3l-0.7 0.8l-0.9 -0.1l-1 -0.2M192.3 133.3l-0.2 1l0.4 0.9M214.7 117.2l0.7 0.8l-0.3 0.9l0.8 0.6M210.4 142.3l-0.9 -0.4l-0.7 0.7l0.5 0.8M205.4 124.1l-0.8 -0.6l-1 -0.3l-0.6 -0.8M218.4 135.2l-0.7 0.8l-0.7 0.6l0.2 1M216.5 142.5l-0.3 0.9l-1 0.3l-0.7 0.7M219.3 143.6l-1 -0.2l-0.5 0.9l-0.9 -0.4l-1 -0.2l-0.7 0.8l0.2 0.9M194 136.4l-0.8 -0.6M220.7 133.8l-0.4 -0.9l-0.2 -1l-0.8 -0.6l-0.2 -1M212.6 131.4l1 -0.2l0.9 0.4l0.1 1l-0.1 1M209.5 126.6l0.9 0.5l0.9 0.5l0.6 0.8M196 139l1 0l0.4 0.9l0.2 1l-0.2 1M223.5 130.6l0.7 0.8l1 0l0.9 0.4M217.5 124.8l0.6 -0.8l0.4 -0.9l1 0.2l0.9 0.4M202.6 139.4l-1 -0.4l-0.9 0.3l-0.4 0.9l-1 0.3l-0.3 0.9l-0.8 0.6M210.3 128l-0.1 -1l-1 -0.1l-0.4 -0.9l0.7 -0.8M208.7 131.4l0.3 0.9l-0.5 0.8l-0.7 0.7l-0.6 0.9l-0.2 0.9M223.8 129.6l1 0.1l0.8 0.4l1 -0.3l0.4 -0.9l0.8 -0.6l0.7 0.7M209.4 109.7l0.7 0.8l0.8 0.5l0.7 0.8l0 1l-1 0.1l-0.7 -0.7M196.2 136.2l-1 0l-0.7 0.6M198.9 136.9l-0.3 -0.9l-0.3 -1l0.8 -0.6M198.9 139l0.9 -0.4l0.7 0.8l0.3 0.9M205.1 139l0.7 -0.7l0.7 -0.8l-0.2 -1l-0.2 -0.9l-0.9 -0.4l0 -1M213.5 113.8l0.9 -0.4l1 0l0.5 -0.9M216.5 120.1l-0.6 0.8l0.3 1l0.6 0.8l-0.3 1l-0.6 0.7l-0.2 1M205.1 119.1l-0.9 0.4l0 1l-0.6 0.8l-0.9 0.4M226.8 129.2l-0.8 -0.7l-1 0.3l-0.4 -0.9M222 140.5l-1 0.3l-0.3 0.9l0.4 1M212.8 146l0 -1l0.4 -0.9l0.2 -1l0.9 -0.3l1 -0.3M212.3 116.9l-0.7 0.8l-1 -0.1l-0.9 -0.6l-0.9 -0.4l-0.7 -0.7M217 124.5l-1 0.3l-0.3 0.9l-0.1 1l0.8 0.5l0.9 0.6l0.9 0.3M200.6 145.9l-0.2 0.9M197.5 124.4l0.9 0.2l0 1l0.3 1l-0.6 0.8l-0.2 1M215.9 139.5l0.4 -0.9l0.9 -0.4l0.7 0.8l-0.5 0.9l-1 0.1l-0.6 -0.8M208.1 110.6l0.8 0.7l0.9 -0.1l0.5 0.8M204.3 139.8l-0.9 0.4l-0.8 -0.7l0.1 -1l-0.9 -0.5l0.2 -1M212.6 140l0.5 0.9l0.6 0.8l0 1l1 0.2M198 128.1l0.5 -0.9l0.3 -0.9l0.8 -0.7M190.5 123.1l-0.6 -0.8l-1 0.4M205.9 141.1l0.9 0.6l0.8 -0.6l1 -0.2l-0 -1M201.8 134.9l1 0.4l0.3 0.9l-0.8 0.6M217.1 141.8l-0.8 0.7l0.4 0.9l0 1l-0.9 0.5l-1 -0.2M213.7 138.7l0.3 1l-0.2 0.9l-0.6 0.9l-1 0l-1 0l-1 0M218.2 142.6l0.5 -0.8l0.3 -1l1 -0.3l0.9 0.5M203.1 134l1 -0.1l0.5 -0.8l1 -0.4M208.9 113l-0.7 -0.7l0.1 -1l-0.2 -1l-0.8 -0.7l-1 0.1l-1 0.1M194.5 124.3l0.7 0.7l0.9 -0.4l0.8 0.6l0.9 -0.5l0.6 -0.8M200.6 130.2l0.5 0.9l1 -0.1l0.3 -1l-0.1 -1l-0.5 -0.8l0.4 -0.9M213.5 132.4l-0.8 0.5l-0.9 0.4l-1 -0.1M207.2 121.1l-0.4 1l-0.8 0.6l-0.8 0.6l-0.8 0.5l-0.5 0.8l0.4 0.9M214.8 142.5l-0.6 -0.8l0.1 -0.9l0.4 -1l1 0.2M201.8 139.2l-0.8 -0.6l-0.9 0.3l-0.7 0.8l-0.9 0.4l0.1 1l-0.3 0.9M199.9 135.6l0.8 -0.6l-0.2 -1l-0.9 -0.5l-0.7 -0.6M213.4 132.8l0.3 -1l-0.7 -0.7l-0.7 -0.7l-1 -0.2l-1 -0.1l-1 -0M199.5 126.6l1 -0.2l1 0.3l0.5 0.8l0.9 0.5l0.9 0.5M221.8 123.4l-0.5 0.9l0.6 0.8l0.2 1l0.7 0.7l1 -0.1M207.7 133l-1 0l-0.9 0.4l-0.6 -0.7l0.4 -0.9l0 -1l-0.8 -0.6M208.5 134.9l-0.9 0.3l-0.8 0.7l0.4 0.9l-0.3 0.9l0.4 0.9l-0.4 0.9M212 120.1l0 -1l-0.5 -0.9l0 -1M202.5 131.4l-0.2 -1l-0.8 -0.5l-0.9 0.4l-0.4 1l-1 0l-0.4 -0.9M198.8 140.8l0.7 -0.7l0.9 -0.4l1 -0l0.9 0.3l0.4 1M203.8 148.8l-1 0.2l-0.1 1l0.3 0.9M206.4 110.9l0.1 1l0.9 0.5l1 0l0.3 -1l-0.8 -0.6M216.3 119.3l0.3 -0.9l0.9 -0.4l0.8 0.6l0.9 0.4l0.5 1M215.5 139l-0.1 -1l0 -1l-1 -0.3l-0.4 -0.9M216.3 129.5l-0.8 -0.7l-0.8 -0.6l-0.9 0.2l-0.4 -0.9l0.3 -0.9l1 -0.2M207.8 125.8l0 1l0.5 0.8l0.8 0.7l0.1 1l0.7 0.8l-0.3 0.9M208 115.2l-0.9 -0.2l-1 0.1l-1 -0.4l-0.7 0.6l-0.4 1l-1 -0.1M209.1 128.3l-0.8 0.7l-0.5 0.9l-1 0.1l-0.7 0.7l-0.9 0.4M205.1 113.3l0.9 -0.4l-0.1 -1l-0.6 -0.8M203.7 152.2l-1 -0.1M195.1 135.8l0.3 1l-0.7 0.8M206.5 127.4l-0.9 0.5l-0.4 0.9l-0.6 0.8M200 113.9l0.2 1l0.8 0.6l0.2 1M226.3 126.6l0.6 0.8l0.5 0.8l-0.1 1l0.9 0.5M217.7 140.6l-0.5 -0.8l-1 -0.2l-1 0.1l-0.8 0.6l-0.7 0.8M212.6 118.3l0.5 0.9l0.8 0.5l0 1l0.6 0.9l-0.2 0.9M206.1 113.7l0.8 0.6l0.8 -0.7l0.7 -0.7l0.8 0.5M206.5 120.8l-0.2 1l-0.9 0.4l-0.9 -0.4l-0.8 -0.6M194.7 128.2l-0.7 0.7l-0.5 0.9l0.8 0.6l0.9 -0.5l1 -0.1l0.2 -0.9M197.5 129.8l0.9 0.5l1 0.1l0.5 -0.9M204.3 123.2l-0.9 -0.4l-0.5 -0.9l-0.9 -0.5l-0.8 -0.5l-0.8 -0.6M197.7 118.3l1 0.2l0.8 0.5l0 1M193 122.7l0.8 -0.7l-0.1 -1l-1 -0.1l-0.5 0.9l-0.9 0.3l-1 -0.2M194.6 124.6l0.8 -0.6l1 0l0.4 1l-0.8 0.6l-0.8 0.6l-1 0M218.3 140.9l0.8 0.5l-0 1l0.9 0.4l1 0.2M209.5 112.5l-0.9 0.4l-0.8 0.6l-1 0.2l-0.9 -0.4l-0.6 -0.8M205.7 116.5l1 0.1l0.4 -0.9l0.9 -0.5l0.9 -0.5M196 125.4l0.8 -0.7l-0.2 -0.9l0.7 -0.7l1 -0.4l0.9 0.4" fill="none" stroke="#00A9FF" stroke-width="1.25" stroke-linecap="round" stroke-linejoin="round"/>
<path d="M107.1 103.8l-0.7 0.7l-0.8 0.6M89.4 91l0.6 -0.8l0.7 -0.7l0.2 -1M93.2 89.6l0.9 0.2l0.9 -0.5l0.6 -0.9l0.1 -0.9l-0.3 -1M109.1 84.3l-0.3 0.9l-1 0.1l-0.4 -0.9l0.4 -1M93.5 92.7l-0.2 0.9l-0.2 1l-1 0.4l-0.1 1M95.3 103.1l1 0.1l0.7 0.7l-0.2 1l-1 0l-0.4 0.9M105.2 82.7l-0.6 -0.8l0.5 -0.8l1 -0.3l0.9 -0.4l0.6 -0.8M108.4 97.7l-0.5 0.9l0.2 1l0.3 0.9l0.7 0.8l1 -0.3l0.8 0.5M97.4 89.3l1 -0.2l1 -0.3l0.9 0.3M104.3 102l-0.2 -1l0.9 -0.5l0.9 -0.4M118.4 102.7l0.4 -1l0.2 -0.9l0.1 -1M92.1 102.8l-0.5 -0.9l0.1 -1l0.9 -0.4l0.9 -0.4l0.9 0.4l1 -0.1M105.7 82.6l1 0.2l0.7 0.7l0.8 -0.5l0.9 -0.5l0.9 0.5M80.6 92.2l-0.8 0.6l-1 -0.1l-0.5 0.9l0 1M114.3 97.5l-0.3 -0.9l0.2 -1l0.6 -0.8M78.9 92.7l0.8 -0.6l-0.4 -0.9l0.5 -0.9l1 0l1 0.2M98.8 83.5l-0.9 -0.5l-0.9 -0.3l0.1 -1l-0.2 -1l0.6 -0.8M100.7 85.8l0.3 -0.9l0.8 -0.6l0.6 -0.8M105.1 86.9l0.2 1l0.5 0.9l-0.3 0.9l-0.4 0.9M108.7 82l-0.1 -1l-0.8 -0.7l-0.1 -1l-0 -1l0.9 -0.4M96.9 76.3l-0.9 0.6l-0.9 -0.3l-0.9 0.5M101.5 95.9l1 0l0.7 0.7l1 0.1l0.9 -0.3l1 -0.2l-0 -1M100.1 96.5l1 0l0.2 -1l-0.3 -0.9M109.8 78.1l-0.9 0.4l-1 -0.2l-0.5 0.8M111 94.9l0.4 0.8l0.7 0.8l-0.5 0.8M94.2 81.8l0.1 1l-1 0.3l-1 -0.1M104.8 99.5l-0.8 -0.6l-0.9 0.5l-0.3 0.9M94.1 85.4l0.2 1l-0.7 0.6l-0.5 0.9l-0.7 0.7l-0.5 0.9l-1 0.3M92.4 91.6l-0.9 -0.3l-0.5 -0.9l-0.3 -0.9M105.8 96.1l0.9 0.3l0.2 1l-0.4 0.9l-0.7 0.7l-0.9 -0.5M102.2 78.5l1 -0.2l0.6 -0.8l-0.2 -1l-0.9 -0.5l-0.8 -0.5l-1 0.4M113.1 93.9l0.5 -0.9l-0.4 -1l-0.7 -0.6l-1 -0.1l-0.9 0.6M85.4 85.6l-1 0.3l0 1l-0.3 0.9l0.3 1l0.9 0.4M95.4 106.7l-0.2 -1l-0.5 -0.8l-1 -0.4M96.8 99.4l0.9 -0.4l0.9 -0.5l0.7 0.7M77.7 96.2l-0.9 0.5M117.1 87.8l-1 0l-1 -0.2l-0.3 -1M107.7 102.3l0.1 1l-0.9 0.4l-0.4 0.9M89.3 103.5l-0.7 -0.6l-1 0l-0.8 -0.6M80.1 91.1l-0.8 0.6l-0.9 0.5l-0.9 0.5M109.5 91.4l-0.8 0.5l-1 -0.2l-0.4 -0.9l-0.5 -0.9M110.7 81.4l-0.7 -0.7l-1 -0.2l0 -1l-0.6 -0.9l-0.9 0.4M88.4 86.5l-0.2 0.9l0.8 0.5l0.5 0.9l-0.4 0.9M82.9 88l0.7 0.7l0.3 0.9l1 0.3l1 -0.1l0.7 -0.7l0.8 0.5M106 93.7l-0.7 0.8l-0.9 0.4l-0.1 1l-0.9 0.5l-0.8 0.5M111.2 81.9l0.3 -0.9l1 0l0.9 -0.4l1 0.4l0.7 0.7l0.6 0.8M122.3 97.1l0.9 -0.5l0 -1l-0.9 -0.4l-0.1 -1l0.4 -0.9l-0.7 -0.7M115 94.9l0 -1l0.4 -0.9l1 -0.3M121 84.8l1 -0.1l0.9 0.5l0.1 1l-0.4 0.9l0 1M104.4 102.5l0.1 1l-0.8 0.6l-0.8 -0.6M88.2 87.2l0.5 -0.9l0.4 -0.9l0.8 -0.7l1 0.2l0.7 -0.7l0.8 -0.5M85.1 101.2l-0.5 0.9l-0.2 1l-0.5 0.8M112 82.4l-0.9 -0.3l-0.7 -0.7l-0.9 0.5l-1 -0.1l-0.6 -0.8M96.7 95.6l0.8 -0.6l0.8 0.7l0.2 1l-0.9 0.5l-0.5 0.9l-1 0.2M119.5 95.6l0.8 0.5l0.7 -0.7l0.8 -0.7l0.8 0.7l0.8 0.6M109.7 101.2l0.8 0.7l1 -0.1l0.2 -1l-0.6 -0.7M108.8 99.1l0.6 0.8l0.6 0.9l0.1 0.9l0.3 1l-0.4 0.9M113.9 99.9l-0.1 1l0.2 1l-0.8 0.6l-1 0M96 91.5l0.6 0.8l-0.6 0.8l-1 -0.1M103.7 85.2l0.7 -0.8l-0.6 -0.8l-0.7 -0.7M111.7 86l1 -0.1l1 0.1l0.9 0.4M112.6 99.3l0.8 0.6l-0.3 0.9l0.4 0.9l1 -0.1M108.5 97.9l0.9 0.3l0.9 0.4l0.9 -0.4l1 0.3M111.8 86.8l-0.8 0.5l0.1 1l0.7 0.7l1 0l0.2 1l0.7 0.8M119.3 88.1l1 0.1l0.7 -0.7l1 0.2l1 0M95.9 91.8l-0.4 0.9l0.5 0.9l0.9 0.3l0.3 1M100.4 87l-0.7 0.7l-1 -0.3l-0.9 0.4l-0.7 0.7l-0.3 1M88.9 84.5l-0.8 0.6l0.2 1l-0.9 0.5l-1 0l-0.8 -0.6l-1 0.2M125.4 92.7l-0.4 0.9l-0.9 0.4l-1 -0.1l-0.6 0.8l-0.8 0.7l-0.9 -0.3M119.3 86.8l-0.5 -0.9l0.2 -1l-1 -0.4l-0.8 0.5l0.2 1l0.3 0.9M122.6 95.4l0.6 0.8l-0.5 0.8l0.2 0.9M118 101.8l-0.4 0.9l-1 0l-0.4 0.9l-0.9 0.4M121.8 87l-0.1 -1l0.2 -0.9l-0.6 -0.8l0.3 -1M115.1 97.1l1 0.2l0.2 1l-0.9 0.4l-0.9 0.3l-0.6 -0.8l0.5 -0.9M119.7 88.3l-0.3 0.9l-0.9 0.6l-0.9 0.3l-0.5 0.9l0.8 0.6M120.3 85.2l1 0l0.4 0.9l-0.7 0.7l-1 -0.3l-1 0.2M83.2 103.9l1 0l0.5 0.9M99.6 90.3l-0.9 -0.3l-0.8 0.6l0.3 0.9l-0.7 0.8M94.6 86.4l0.9 -0.4l0.9 -0.3l0.8 0.6l1 -0.2l1 0.3l0.9 0.2M123.3 88.1l-0.9 0.4l-0.9 0.5l-1 -0.2l-0.8 0.6M100.2 100.4l-0.2 -1l0.7 -0.8l0.9 -0.4l0.6 0.7l-0.2 1l-0.8 0.6M101.1 96.4l-1 -0.3l0.1 -1l-0.9 -0.5l-0.1 -1l0.7 -0.7M104.2 91.2l0.3 -1l-0.2 -1l0.9 -0.5l0.5 -0.8l0.7 -0.7l0.6 -0.8M109.1 93.1l-0.4 0.9l-1 0.3l-0.2 0.9M106.3 80.4l-0.9 0.5l-0.5 0.8l-0.3 1l-0.9 0.1M98.2 76.9l-1 -0.3l-0.2 -1M88 88.5l1 -0.4l1 0.1l0.7 0.7l0.9 0.3M87.8 96.5l-0.9 0.4l-0.4 1l0 1l-1 0.4l-0.8 -0.6M86 100.9l-0.3 0.9l0 1l-0.7 0.7l-0.1 1M94.6 84.3l0.2 -1l-0.4 -1l-0.2 -0.9l-0.9 -0.2l-0.8 -0.7l0.5 -0.9M98 89.8l0 1l0 1l-0.5 0.9l-0.9 0.4l-0.6 0.8M79.8 97.7l-0.5 -0.8l-1 -0.1l-0.9 0.4M97.3 96.1l0.7 0.6l0.4 0.9l-0.1 1l-1 0.2l-0.9 0.4M92.9 103.7l1 0.2l1 -0.3l0.8 -0.5M77.1 91.9l-0.7 -0.6l0.2 -1M117.7 93.4l0.8 0.6l-0.3 1l-0.1 1M93.5 81l0 1l0.4 1l-0.5 0.8l0.3 1M105.7 86.1l0.6 -0.8l1 0.1l0.3 0.9l1 0l0.9 0.3l0.7 -0.7M100.4 90.5l1 0.1l0.3 1l0.9 0.5M108.5 100.3l-0.3 -0.9l-0.8 -0.6l-1 -0.2l-0.9 -0.4l-0.1 -1l-0.9 -0.3M116.9 100.2l0.5 0.9l1 0.2l0.8 0.6M88.4 101.5l-0.5 -0.8l-0.9 -0.3l-0.8 0.5l-1 0.2l-0.5 0.8l-0.3 1M99.7 83.9l-0.7 0.8l-0.2 1l0.1 1l-0.1 0.9M89.7 90l0.2 1l0.6 0.8l-0.6 0.9l0 1M78.9 95.4l0.4 0.9l0.7 0.8l1 -0.2l0.5 0.8l0.4 1M120.6 96.6l-0.9 -0.3l-0.7 0.8l-0.9 0.4l-0.8 0.6l0.1 1M86.2 102.5l-0.7 0.8l-0.9 0.4l-0.9 -0.4M94 88.8l-0.2 -1l0.3 -1l-0.2 -0.9l-1 -0.2l-0.7 -0.7l-1 0.1M111.4 96.4l1 -0.1l0.4 0.9l1 0.2l0.8 -0.6l0.8 0.6l0.9 -0.5M111.2 81.4l-0.8 0.7l0.4 1l-0.9 0.5l-0.6 0.8M97.1 86.7l0.3 1l1 0.2l0.8 0.6l0.3 0.9M95.8 88.7l-1 -0.3l-0.6 0.8l0.5 0.9l-0.1 1l0.8 0.6l1 -0.3M96.3 95.8l-0.6 0.7l-0.5 0.9l-1 0.1l-1 0.2l-1 0.2l-0.9 0.1M90.8 100l0 1l0.9 0.6l0.9 0.2l1 0.3l0.8 -0.5l0.8 0.6M109.7 78.9l-1 -0.3l-0.3 -0.9l-1 -0.1l-0.8 0.5M113.3 81.6l-1 0.2l-1 0l-1 -0.2l-0.9 0.3M93.1 79.3l0.7 -0.7l0.6 -0.8l0.7 -0.7M104.2 82.1l0.5 -0.9l-0.3 -1l-0.1 -1M98.9 81.4l-0.9 0.4l-0.8 0.5l-0.9 0.5l-0.7 0.8l0.3 0.9M98.3 105.7l-1 0.1l-1 -0.2l-0.8 0.6l-0.9 0.5l-0.7 0.7M98 83.3l0 1l-0.2 1l-0.1 1l-0.4 1M92.1 98.1l-1 -0.1l-0.9 0.4l0.2 1l0.9 0.4l0 1l1 0.3M84.3 87.4l0.8 0.4l0.9 -0.4l1 0.3l0.8 -0.4l0.2 -1M102 75.5l0.2 1l0.1 1l0.3 1l1 -0.1l0.6 0.8M103.9 101.1l1 0.1l0.5 0.9l0.6 0.7l0.4 1M90.3 81l-0.6 0.8l-0.6 0.8l-0.1 1l-0.2 0.9l-0 1l1 0.2M108.8 80.2l-0.4 0.9l0.4 0.9l0.8 0.6l0.9 -0.4M108.1 81.3l-0.7 -0.8l-0.9 0.6l-0.7 -0.6l-0.1 -1M103.8 81.4l-0.9 -0.5l-0.8 0.6l-1 -0.2l-1 0.3l-0.3 0.9M109.1 100.3l0.7 -0.8l-0.2 -1l-0.4 -0.9l0 -1l0.7 -0.6l1 0.2M79.7 97.3l-1 0l-0.9 0.3M79.2 98.9l-0.7 -0.8M119.7 94.2l0.9 -0.6l-0.1 -1l-0.5 -0.9l-1 0.3l-0.9 0.4M85.8 84.1l0.9 -0.3l0.9 -0.4l0.7 0.8M89.5 97.7l-0.8 0.5l-0.2 1l0.7 0.7l1 0.2M93.8 81.1l-0.2 1l-0.4 0.9l-0.2 1l-0.2 1l-0.9 0.2M99.3 93.4l0.6 -0.9l1 0.2l0.4 -0.9l0.5 -0.9l-0.2 -1M110.4 95.5l-0.6 -0.8l-1 -0.2l-1 -0.1l-0.2 -1l-0.5 -0.9l-1 -0.2M101.7 84.6l-0.8 -0.6l-0.9 0.5l-0.7 0.7l-0.9 0.4l-0.8 0.6l-0.9 0.4M101.2 82.9l-0.8 0.7l-0.3 1l-0.4 0.9l-0.3 0.9M91.8 83.5l0 -1l-1 -0.4l-0.4 -0.9M112.7 102.2l1 -0.4l0.9 -0.1l0.9 -0.4M118.5 97.8l0.5 -0.9l1 -0.1l0.8 -0.5l1 -0.4l0.7 -0.6l0 -1M82.4 99.7l-1 0.2l-0.7 0.7M117.4 98.2l0.9 0.4l0.6 -0.8l0.6 -0.8l0.9 -0.4l-0.2 -1l-0.9 -0.5" fill="none" stroke="#C77CFF" stroke-width="1.25" stroke-linecap="round" stroke-linejoin="round"/>
<path d="M131.1 168.6l-1 -0.3l-0.9 0.4l-0.5 -0.9l0.5 -0.8l0.2 -1M80 163.4l1 0.2l0.1 1l0.7 0.7l1 0.4M90 143.3l-0.9 0.4l-1 -0.4l-0.7 -0.7l-0.9 0.6M131.9 169l-1 -0.3l-0.5 0.8l-0.6 0.8l0.1 1l0.3 1M119.4 150.9l0.9 -0.5l0.8 -0.5l0.9 -0.4M141.4 163.1l-1 -0.2l-0.7 0.6l-0.3 1M120.1 149.2l-1 0l-0.3 0.9l0.3 1l1 0.1l0.4 0.9l0 1M132.7 167l-0.8 -0.4l-1 0.1l-0.2 1l-0.8 0.7l-1 0M82.2 151.9l1 -0.2l0.8 -0.6l0.9 0.5M131.5 154.9l0.5 1l0.5 0.8l0.8 0.5l0.9 0.5l1 -0M78.4 135.5l-0.9 -0.3l-0.1 -1l0.9 -0.5M95.7 145.8l0.8 0.6l0.9 0.5l0.1 0.9l0.9 0.4M88.2 133.4l-0.1 1l-0.2 0.9l0.4 1M75.5 151.9l1 0l1 0.1l1 -0.3M88.1 139.1l0.5 -0.9l1 0.1l0.9 -0.2l0.9 -0.5M126.5 163.3l0 1l0.3 1l0.6 0.8M107.5 151.9l0.8 0.6l-0.3 0.9l0.7 0.6l0.5 0.9l-0.3 1l-1 0M137 159l-1 -0.2l-0.9 0.5l0.2 0.9l-0.6 0.8l0 1l0.8 0.6M135.5 158.4l0.5 0.9l-0.2 1l-0.5 0.9M80.9 126.3l0.6 -0.8M129.8 165.8l0.8 0.7l0.9 0.5l0.7 -0.7l0.7 -0.7l0.9 -0.4M83.5 125.5l0.9 0.4l0.2 1l0.5 0.8M75.6 125.9l-0.4 0.9l-1 -0.3l-0.5 0.9l0.5 0.9l0 0.9l0.4 1M115.9 152.6l-1 0.2l-0.9 -0.6l-0.6 -0.7l0.3 -1l-0.7 -0.7l-0.9 -0.2M107.7 147.4l-0.4 0.9l-0.6 0.8l0.4 1l0.9 0.3M71.9 139.4l0.8 0.6l0.9 -0.5l-0.1 -1M80.6 133.1l-1 0l-1 0.1l-0.4 -0.9l0.6 -0.8l-0.4 -0.9M118.8 172.4l-0.8 0.5l0.1 1M115.8 152l-0.7 0.7l0 1l0.8 0.7l1 -0.1l0.3 0.9l-0.6 0.8M106.3 162l0.9 0.4l0.5 0.9l1 0.1l1 -0.1M99.7 154l0.9 0.4l0.4 0.9l0.7 0.7l0.6 0.8l0.9 -0.2l0.1 -1M92.8 136.4l0.1 1l0.9 0.5l-0.4 1l0.2 0.9M97.2 152.6l0.1 1l-0.8 0.6l-0.8 0.5M68.3 128.3l1 0.1l1 0.2l0.8 0.6l-0.3 1l-1 0.3l-0.8 0.5M107.9 151.5l-0.6 -0.8l-0.9 -0.4l-0.8 0.5l-0.4 1M137.5 168.3l-1 0.2l-0.8 -0.6l-1 0.1l-0.6 0.8l0.6 0.8M95 163.1l0.7 -0.7l0.6 -0.8l0.2 -1M127.5 169.5l-0.3 -1l-0.9 -0.2l-0.8 0.6l-0.5 0.8M103.4 157.4l-1 0l-0.3 1l-0.3 0.9l-0.2 1l-0.9 0.4l-0.4 0.9M91.1 137.2l1 0.1l0.8 0.7l0.6 0.8M94.6 163.7l-0.1 1l-1 0.3l-1 0M76 141.9l-0.1 -0.9l0.6 -0.8l1 0.2l1 0.2M95.9 157.9l-0.5 -0.8l-1 -0.1l-0.1 -1M63 134.3l0.3 -1M77.9 155l0.8 -0.6l0.9 0.5l0.1 1l-0.6 0.7M62.7 135.9l-0.5 -0.9M123.2 154.2l-0.9 -0.3l-0.5 -0.9l0.5 -0.8M100.1 146.1l-0.9 -0.4l-0.9 -0.3l-0.7 0.8l-0.3 0.9M97.3 149.1l-0.5 -0.8l-0.5 -0.9l-1 0.1l-0.2 1M118 171.2l0 -1l-0.9 -0.2l-0.7 0.7l-0.9 -0.4l-0.8 -0.6l-0.9 -0.4M84 164.9l0.3 -1l0.4 -0.9l0.9 -0.4M76.6 142l-0.7 -0.6l0.2 -1l0 -1l0.4 -0.9l-0.2 -1l-0.5 -0.9M120.7 170.1l-0.9 0.2l-0.8 -0.7l-1 0l-0.9 -0.2l-0.8 -0.6M104 147.1l0.4 -0.9M88.7 148.8l0.3 1l0.8 0.6l-0.5 0.9l0.3 0.9l0.9 0.4M85.4 129.9l-0.3 0.9l0.1 1l-0.7 0.8l-0.7 0.7l-1 -0.3M118.1 170.8l0.9 0.2l1 -0.3l0.9 -0.3M92.2 150.9l0.2 0.9l0.9 0.2l0.8 0.7M67.9 133.6l0.6 0.8l1 -0.1l0.6 -0.8l0.9 -0.3l0.9 -0.4M85.5 160.6l-0.4 0.9l-0.7 0.7l-0.9 -0.3l-0.9 -0.5l-1 -0.3l-0.6 0.8M87.4 157.8l-1 0.3l-0.8 -0.6l-1 -0M129.9 162.1l0.9 0.3l0.2 1l-0.8 0.7l-0.8 -0.5M76.1 159.6l0.5 0.8l0.5 0.9l0.7 0.7l0 1M127.1 173l0.5 -0.9l-0.2 -1l0.9 -0.5l1 0.3l1 0l0.9 -0.5M133.5 153l-0.1 1l0.4 0.9l0.6 0.8M124.7 165.1l-0.3 -1l-0.9 -0.4l-0.9 -0.5l-1 -0.1M64 139.2l-0.2 -1l-1 0M120.3 151.2l1 -0.4l-0.1 -1M95 140l-0.8 -0.6l0.3 -1l-0.3 -0.9l-0.6 -0.8l0.6 -0.8M87.9 129.2l-0.3 0.9l0.6 0.8l1 0.1l0.6 0.7l0.6 0.9M117.9 161.2l-0.3 -0.9l-0.3 -1l-0.7 -0.7l-0.7 -0.7M125.1 156.8l-1 0.2l-0.8 -0.6l-0.5 -0.8l0.2 -1M65.3 137.7l-0.9 0.3l-0.6 -0.9l-1 -0.3M110.5 159l-0.1 1l0 1l0.4 0.9M112.5 173.8l0.8 -0.6l0.8 -0.5l0.6 -0.8l1 0.1M115.3 152.4l-0.6 -0.9l0.6 -0.7l0.1 -1l-0.2 -1M87.7 151.2l-0.8 0.6l0.1 1l0.2 1l-0.8 0.6l-0.8 -0.6M74.6 135.1l-1 0.1l-0.9 -0.2l-0.9 -0.4l-0.8 -0.6M132.7 169l0.2 1l-0.7 0.7l-0.8 0.6l-0.4 0.9M92.1 137.3l1 -0.2l0.9 -0.5l0.8 -0.6M133.3 151.5l0.5 0.9l0 1l1 0.2l0.8 0.6M119.3 167.5l0 -1l-0.4 -0.9l0.6 -0.8l0.9 0.4l0.6 0.8l0.8 0.6M90.9 133.8l0.8 0.7l0.9 0.2l0.7 -0.7l0.5 -0.9M112.1 166.6l-0.9 0.4l-0.6 -0.8l0 -1l0.1 -1l-0.6 -0.8l-1 -0.1M103.9 159.5l-0.3 -1l-1 0.1l-0.2 1M96 161.7l0.3 -1l-0.1 -1l0.8 -0.5l0.9 0.5M87.2 133.1l-0.7 -0.6l-0.3 -1l-0.9 -0.5l-1 0.1l-0.4 -0.9l-0.9 -0.4M131.2 161.8l-0.9 -0.2l-0.6 -0.8l-0.5 -0.9l-0.9 -0.4l0.3 -1l-0.7 -0.7M142.5 161.9l0.3 -0.9l-0.4 -0.9l-0.5 -0.9M132.9 157.7l1 -0.2l0.7 -0.7l0.2 -1l0.5 -0.8M83.8 147.2l0.9 0.3l0.6 0.9l0.9 0.3l0.6 -0.9M89.3 164l0.5 0.9l0.3 0.9l0.5 0.9M101.5 168.6l0.9 0.1l0.9 -0.5l0.9 -0.2l1 -0.3l0.4 -0.9l-0.9 -0.5M115.6 152.6l1 0.2l0.8 0.6l-0.3 1l0.4 0.9l0.5 0.9l0.3 0.9M89.2 154.2l-0.3 -1l-0.1 -1l0.9 -0.4l0.9 -0.4l0.5 -0.9l0.6 -0.8M90.2 144.1l0.9 0.3l0.7 0.7l0.8 0.7l-0.3 1M139.9 166.7l-0.1 -1l0.3 -1l-0.9 -0.5l-0.3 -1M75.1 137.2l-0.1 -1l0.9 -0.5l0.9 -0.2l0.9 -0.5l-0.2 -0.9M122.5 151.5l-1 -0.1l-0.9 -0.5l-0.1 -1M80.4 139.7l1 0.4l0.9 -0.3l-0 -1l1 -0.3M80.4 164.2l-0.5 -0.9l-0.9 -0.3l-0.9 -0.5l0 -1M115.9 163.1l0.9 -0.5l0.9 -0.4l0.4 -1M119.7 168.8l0.8 0.4l-0.1 1l0.1 1l-0.2 1M92.1 137.4l-0.8 0.5l-0.1 1l0.3 1l0.5 0.8M112.9 166.6l-0.9 -0.4l-1 0.1l-0.4 -1M94 147.5l0.9 -0.4l1 -0.1l0.3 -1l0.5 -0.8M95.6 158.9l1 -0.2l0.2 -0.9l-0.8 -0.5M73.5 127.7l-1 -0.4l-0.9 0.3l-1 0M121.1 159.6l-0.9 -0.4l-0.2 -1l0 -1M74.1 131.8l0.5 0.9l0.9 0.4l1 0.1l0.9 0.5l1 -0l0.9 -0.4M92.1 167.2l0.2 -0.9l0.8 -0.7l0.3 -1l0.1 -0.9l0.8 -0.7l0.9 -0.4M114.9 159.6l0.7 -0.7l0.5 -0.9l0.9 -0.5l-0 -1l0.1 -1M134.1 170.7l0 1l0.2 0.9M89.9 130.2l-0.2 -1l-0.7 -0.7l0 -1l0.9 -0.5M106.5 155.4l-0.7 -0.8l-0.1 -0.9l0.8 -0.6M90.8 148.9l0.9 -0.4l1 0.1l0.7 -0.7M114.4 174l-0.4 -0.9l0 -1l-0.1 -1l0.2 -1l-0.2 -1l0.8 -0.6M85.9 150.5l1 -0.1l0.3 -0.9l-0.3 -1l-1 0.1l-0.6 -0.8l-0.1 -1M93.7 165.2l1 0.3l0.6 0.8l0.1 1l0 1M121.6 153.2l-0.9 -0.4l-0.7 0.6l-0.2 1l-0.9 0.6l-0.9 0.1l-0.8 -0.7M73.2 145.1l0.7 -0.7l0.7 -0.8l1 0M101.5 155.4l0.6 0.8l-0.6 0.8l-0.6 0.7l-0.1 1l-1 0.2l-1 0.2M100.1 165.4l-0.9 -0.3l-0.7 0.6l-1 0.4M95 137.6l0.8 -0.6M110.2 159.2l0.3 1l-0.3 1l-0.5 0.8l0.5 0.9M76.2 134.3l0.8 -0.5l1 -0.2l1 -0.1M93.1 146.9l0.5 0.8l-0.1 1l-1 0.3l-0.6 -0.8M140 166.3l0.6 0.7M124.4 156.2l-0.9 0.3l-0.7 -0.8l-0.1 -1l0.2 -0.9M89.9 135.6l0.7 0.7l0.9 -0.5l0.7 0.7l-0.1 1l0.3 1M135.9 158.2l0.2 -1l0 -1l-0.3 -0.9l-0.5 -0.9l0.5 -0.9M64.1 139.8l0.8 -0.6l0.8 -0.6l-0.2 -0.9l0.7 -0.7l0.7 -0.7M135.9 154.4l0.8 0.7l1 -0.2l1 -0.3l1 0l0.9 0.4l0.7 -0.7M110.4 170.8l0.2 1l0.9 0.3l1 0.2l0.6 0.8l0.5 0.9M77.8 147.5l-0.1 -1l-0.2 -1l-0.9 -0.4l-0.1 -1l-0.2 -1M125.5 173.2l-0.9 -0.4l-0.8 0.5l-1 -0.4l-0.7 0.7l-0.9 0.5M86.7 137l-0.9 0.3l-1 -0.3l0.1 -1M121.2 160.7l0.7 0.7l-0.6 0.9l0.4 0.9l0.7 0.8l0.7 0.7M113.5 149.7l0.7 0.7l-0.2 1l0.9 0.5l0.9 0.3l0.2 1l0.9 0.5M119.2 168.2l0.1 -1l-0.4 -0.9l-0.9 -0.4l-0.7 -0.7l0.4 -1M125.2 166.6l1 -0.3l0.9 -0.4l0.8 0.7l1 -0.1M130.7 150.6l0.9 0.3l1 0.3l0.6 0.7M90.9 137.1l-0.8 0.7l-0.8 0.4l-0.3 1l-0.9 0.2l-0.9 0.6l-0.9 0.4M88.5 146.3l0.2 0.9l0.4 0.9l0.6 0.8l1 -0l0.9 0.5l-0.3 1M135.7 167l0.1 -1l0 -1l-1 -0.2l-0.7 -0.8l-0.9 0.3M71 134.8l0.9 -0.2l1 0.3l1 0.1l0.7 -0.7l-0 -1M68.6 129l-0.3 -0.9l-0.5 -0.9l0.6 -0.8M86.7 153.5l-1 0.1l-0.8 0.7l0 1l-0.6 0.7M92.1 134.1l-0.3 1l-0.9 0.3l-1 0l-0.3 -1l-0.8 -0.5M87.4 142.2l-0.9 0.4l-0.7 -0.7l-0.7 -0.8l0.2 -1l0 -1l-0.8 -0.6M109.6 155.9l0.4 -0.9l0.4 -0.9l1 -0.4l0.8 0.6l0.9 -0.4l1 0.3M78.1 162.8l-0.6 0.8M66.1 142.1l0.4 0.9l1 -0.2l0.4 -0.9l-0.3 -1M68.3 144.1l0.8 0.5M65.4 133.6l0.4 -0.9l0.8 -0.6l1 0.1l0.7 0.6l0.6 0.8l0.7 0.7M71.1 139.3l0 -1l0.5 -0.8l1 0.2M115.3 152.2l-0.3 -1l0.4 -0.9l-0.8 -0.7M95.6 167l-0.7 0.7M100 153.5l0.8 0.6l0.8 0.6l1 -0.1l1 -0.1l0.8 0.7M90.8 152l-0.1 1l-0.8 0.6l-0.8 -0.6l-0.9 -0.3l-0.5 0.9l-0.8 0.6M115.7 173.3l-1 0l-1 0.3l-0.4 0.9M141.7 166l-0.7 0.7M73.2 133.2l-1 0l-1 0.2l-0.9 0.3l-0.5 -0.9M126.4 158.2l-0.1 -1l-1 -0.1l-0.7 -0.7l-1 -0.2M77.9 135.6l0.1 1l-0.3 1l-0.8 0.5l-0.6 0.9M100.4 159l-0.4 -0.9l-1 -0.1l-0.4 -0.9l0.6 -0.9M139.9 161.9l-1 0.2l-0.6 -0.7l-1 0.3l-1 -0.1l-0.4 0.9M117.4 164.1l-0.8 -0.6l-0.7 -0.7l-0.9 0.3M134.7 158.8l-1 -0.3l-1 0l-0.6 -0.8M114.2 165.8l-1 0l-1 0.2l-0.6 -0.8l0.6 -0.8l0.8 -0.5M137.5 155.3l-0.8 -0.6l-0.6 -0.8l0.7 -0.8l0.9 0.4M71.5 127.8l0.7 -0.7l0.8 -0.6l0.9 0.2M95.2 141.8l0.2 -0.9l-0.8 -0.6l-0.9 -0.5l0.2 -0.9l-0.7 -0.7M92.6 135.5l0.2 -1l1 0l0.8 0.5l0.5 0.9M107 170.7l1 0.3l0.7 0.7l-0.5 0.8M113.6 162l-1 0.1l-0.7 -0.7l0.3 -0.9l-0.3 -0.9M116 161.5l-0.9 -0.5l-0.5 -0.9l0 -1M84.6 152.6l-0.8 0.7l0.6 0.8l0.1 1l-0.1 1M105.5 161.7l0.7 -0.7l0.1 -1l0.8 -0.5l0.1 -1M109.1 156.6l0.2 -1l-0.5 -0.9l0 -1M92.9 137.8l0.1 1l-0.8 0.5l-0.8 -0.6l-0.8 -0.7l-0.8 0.6l-1 -0.3M88.6 139l-0.9 -0.2l-0.7 0.7l-0.2 1M78.7 155.6l-1 -0.3l-0.7 -0.8l-0.9 -0.1l-0.6 0.8l0 1M94.2 149.9l-0.8 0.5l0.1 1l-0.1 0.9l-1 0.1l-0.3 1l0.4 0.9M98.8 145.9l-0.6 0.8l0.3 1l0.7 0.7M76.4 137.4l-1 -0.1l-0.5 -0.9l0.5 -0.8l0.6 -0.8l1 0.1l0.8 -0.5M113.5 156.9l0.5 -0.9l0.7 -0.7l1 0.2l0.2 1l0.2 1M109.9 155.2l-1 -0.1l-0.9 -0.4l0.1 -1l0.2 -1M88.4 155.6l-0.8 -0.6l-0.7 -0.7l-0.6 -0.9l-0.4 -0.8l0 -1M131.4 154.6l-0.8 0.6l-0.8 -0.7l-0.7 -0.7l-1 -0.1M138.1 155.3l-0.7 0.8l-1 0.1l-0.5 -0.8l-0.9 -0.4l-0.9 0.5M138.2 168.7l-0.2 -0.9l-0.1 -1l-1 -0.1l-0.2 -1l-0.4 -0.9l0.4 -0.9M84.8 149.2l0.3 -1l1 0.1l0.9 0.4l0.9 -0.6l0.6 -0.7M114.6 155l0.9 0.3l0 0.9l-1 0.4l-1 -0.1l-0.9 0.3M88.6 131.6l0.9 0.5l1 0.1l0.8 -0.6M94.6 145l1 -0.1l0.4 0.9l-0.4 0.9M124.1 161.3l0.7 0.6l0.3 1l-0.7 0.7l-0.8 0.6l-0.2 0.9M113.1 161.2l0.9 -0.4l0.8 0.6l1 0.3l1 -0.1l0.8 0.6M129.9 170.3l-0.9 0.5l-0.9 -0.4l-0.7 -0.7l-1 -0M127.3 163.5l0.9 -0.5l-0.1 -1l-1 -0.2l-0.7 0.7l-1 -0.2l-0.5 -0.9M85 128.9l-0.8 0.5l-0.9 -0.4l-0.9 0.4M93.2 134.1l0.6 -0.8l0.1 -1M141.5 157.2l0.3 -0.9l0.7 -0.8l1 -0.1M74.5 133.1l0.7 -0.7l-0.4 -0.9l-1 -0.1M71.5 142.8l0.9 -0.4l1 0l1 -0.1M142.7 161.3l-0.9 0.4l-0.9 0.5l-0.9 -0.3M127 154.8l0.7 0.6l0.9 0.4l-0.1 1M122.9 150.6l1 0l0.3 -0.9l1 0.1M120.6 151.8l-0.7 -0.7l-0.9 0.4l-1 -0l-0.3 -1M72.7 148.6l-1 0.1M138.4 159.2l0.6 -0.8l-0.6 -0.8l-0.3 -0.9M85.6 158.6l-0.9 -0.3l-0.9 -0.6l-0.7 0.7M119 167.5l0.9 -0.4l1 0.4l0 1l0.7 0.8M113.6 159l1 -0.3l0.7 -0.7l-0.2 -0.9M88.7 143.9l1 0.3l0.6 -0.8l0.9 0.4M118 160.5l-0.9 -0.4l-0.8 0.6l-0.8 -0.6l-0.5 -0.9l-1 0l-0.5 -0.8M96.4 145.3l0.2 1l0.1 1l-0.6 0.8l-0.9 0.4M77.5 161.9l0.9 0.3l0.9 -0.5l0.2 -1l0.1 -1l-0.4 -0.9M71 141.6l-1 0l-0.5 -0.9l-0.3 -0.9l0.8 -0.6M72.8 137.8l-0.7 0.7l-1 -0.3l-0.9 -0.2l-1 0.3M118.7 158.7l-1 -0.3l-0.7 -0.7l-0.1 -1l1 -0.3l1 -0.1M63.6 142.3l-1 0.1M109.2 162.8l0.8 -0.6l0.8 0.6l1 0.3l0.7 -0.7l0.9 -0.5M93.4 140.4l-0.9 0.3l-0.2 1l-0.3 0.9l-0.7 0.7l-0.9 -0.6l-0.1 -1M94.4 161.9l0.5 0.9l1 0l0.9 0.3l0.9 -0.4l0.8 -0.6M87.8 125.9l-1 -0.1l-0.8 -0.6M81.3 133.4l-0.2 1l-0.7 0.7l-0.7 0.7M103.4 163.8l-0.5 -0.9l0.4 -0.9l-0.2 -1l0.9 -0.4l0.1 -1M126.1 169.3l1 -0.3l0.6 -0.8l0.5 -0.9l0.3 -0.9l-0.8 -0.7l-1 -0.1M93.5 134.8l0.9 0.4l-0.2 1l-1 -0M134.5 163.1l0.7 -0.7l0.9 0.5l0.6 0.8l0.2 1l-0.6 0.8M106.7 168.5l-0.5 -0.8l-0.6 -0.9l-0.4 -0.9l-0.6 -0.8M82.5 125l0.3 1l0 1l-0.5 0.8l-0.9 0.2l-0.7 0.8l0.3 0.9M87.7 156.2l-0.9 0.1l-1 0.4l-0.8 0.6l-0.9 0.4l-0.9 -0.4l-0.6 0.8M99.5 146.3l-0.1 1l0.8 0.6l0 1l0 1M115.7 149.5l1 -0.3l0.5 0.9l0 1M97.1 140.8l0.4 0.9l0.3 1M75.1 138.3l0.4 -1l-0.8 -0.6l-1 -0.1l-1 -0M107.5 169.8l0.1 1l-0.6 0.8l-0.8 0.6" fill="none" stroke="#FF61CC" stroke-width="1.25" stroke-linecap="round" stroke-linejoin="round"/>
<circle cx="163.5" cy="98.7" r="3.5" fill="#2b2b2b" stroke="#555" stroke-width="0.4"/>
<text x="163.50" y="100.30" font-size="4.6" font-weight="bold" text-anchor="middle" fill="#fff">1</text>
<circle cx="61.6" cy="100.5" r="3.5" fill="#2b2b2b" stroke="#555" stroke-width="0.4"/>
<text x="61.60" y="102.10" font-size="4.6" font-weight="bold" text-anchor="middle" fill="#fff">2</text>
<circle cx="174.3" cy="175.7" r="3.5" fill="#2b2b2b" stroke="#555" stroke-width="0.4"/>
<text x="174.30" y="177.30" font-size="4.6" font-weight="bold" text-anchor="middle" fill="#fff">3</text>
<circle cx="132.5" cy="135.9" r="3.5" fill="#2b2b2b" stroke="#555" stroke-width="0.4"/>
<text x="132.50" y="137.50" font-size="4.6" font-weight="bold" text-anchor="middle" fill="#fff">4</text>
<circle cx="178.1" cy="137.2" r="3.5" fill="#2b2b2b" stroke="#555" stroke-width="0.4"/>
<text x="178.10" y="138.80" font-size="4.6" font-weight="bold" text-anchor="middle" fill="#fff">5</text>
<circle cx="212.8" cy="135.7" r="3.5" fill="#2b2b2b" stroke="#555" stroke-width="0.4"/>
<text x="212.80" y="137.30" font-size="4.6" font-weight="bold" text-anchor="middle" fill="#fff">6</text>
<circle cx="103.9" cy="89.9" r="3.5" fill="#2b2b2b" stroke="#555" stroke-width="0.4"/>
<text x="103.90" y="91.50" font-size="4.6" font-weight="bold" text-anchor="middle" fill="#fff">7</text>
<circle cx="100.2" cy="155.1" r="3.5" fill="#2b2b2b" stroke="#555" stroke-width="0.4"/>
<text x="100.20" y="156.70" font-size="4.6" font-weight="bold" text-anchor="middle" fill="#fff">8</text>
<line x1="40.60" y1="56.00" x2="40.60" y2="196.20" stroke="#333333" stroke-width="1.1"/>
<line x1="40.10" y1="195.70" x2="239.40" y2="195.70" stroke="#333333" stroke-width="1.1"/>
<line x1="37.60" y1="90.30" x2="40.60" y2="90.30" stroke="#333333" stroke-width="0.9"/>
<text x="35.20" y="93.30" font-size="8.5" stroke="#333" stroke-width="0.2" text-anchor="end" fill="#333">30</text>
<line x1="37.60" y1="126.20" x2="40.60" y2="126.20" stroke="#333333" stroke-width="0.9"/>
<text x="35.20" y="129.20" font-size="8.5" stroke="#333" stroke-width="0.2" text-anchor="end" fill="#333">0</text>
<line x1="37.60" y1="162.10" x2="40.60" y2="162.10" stroke="#333333" stroke-width="0.9"/>
<text x="35.20" y="165.10" font-size="8.5" stroke="#333" stroke-width="0.2" text-anchor="end" fill="#333">−30</text>
<line x1="86.00" y1="195.70" x2="86.00" y2="198.60" stroke="#333333" stroke-width="0.9"/>
<text x="86.00" y="208.20" font-size="8.5" stroke="#333" stroke-width="0.2" text-anchor="middle" fill="#333">−30</text>
<line x1="138.90" y1="195.70" x2="138.90" y2="198.60" stroke="#333333" stroke-width="0.9"/>
<text x="138.90" y="208.20" font-size="8.5" stroke="#333" stroke-width="0.2" text-anchor="middle" fill="#333">0</text>
<line x1="191.50" y1="195.70" x2="191.50" y2="198.60" stroke="#333333" stroke-width="0.9"/>
<text x="191.50" y="208.20" font-size="8.5" stroke="#333" stroke-width="0.2" text-anchor="middle" fill="#333">30</text>
<text x="139.60" y="220.90" font-size="9" stroke="#333" stroke-width="0.2" text-anchor="middle" fill="#333" textLength="44.80" lengthAdjust="spacingAndGlyphs">Component 1</text>
<text x="0.00" y="0.00" font-size="9" stroke="#333" stroke-width="0.2" text-anchor="middle" fill="#333" textLength="45.00" lengthAdjust="spacingAndGlyphs" transform="translate(17.6,125.9) rotate(-90)">Component 2</text>
<rect x="69.5" y="265.7" width="7.3" height="4.4" fill="#C8102E"/>
<text x="80.00" y="271.00" font-size="8.3" stroke="#333" stroke-width="0.06" fill="#333" textLength="40.50" lengthAdjust="spacingAndGlyphs">Control ECs</text>
<rect x="125.4" y="265.7" width="7.3" height="4.4" fill="#134F86"/>
<text x="135.80" y="271.00" font-size="8.3" stroke="#333" stroke-width="0.06" fill="#333" textLength="54.70" lengthAdjust="spacingAndGlyphs">Low VWF ECFCs</text>
<circle cx="45.3" cy="305.1" r="17.6" fill="#134F86"/>
<path d="M45.3 305.1 L45.3 287.5 A17.6 17.6 0 0 1 51.37 288.58 Z" fill="#C8102E"/>
<text x="45.30" y="284.70" font-size="8.5" stroke="#333" stroke-width="0.06" text-anchor="middle" fill="#333" textLength="31.00" lengthAdjust="spacingAndGlyphs">Cluster 1</text>
<text x="45.30" y="331.50" font-size="8.5" stroke="#333" stroke-width="0.06" text-anchor="middle" fill="#333" textLength="40.50" lengthAdjust="spacingAndGlyphs">Total=2399</text>
<circle cx="99.5" cy="305.1" r="17.6" fill="#134F86"/>
<path d="M99.5 305.1 L99.5 287.5 A17.6 17.6 0 0 1 108.93 319.96 Z" fill="#C8102E"/>
<text x="99.50" y="284.70" font-size="8.5" stroke="#333" stroke-width="0.06" text-anchor="middle" fill="#333" textLength="31.00" lengthAdjust="spacingAndGlyphs">Cluster 2</text>
<text x="99.50" y="331.50" font-size="8.5" stroke="#333" stroke-width="0.06" text-anchor="middle" fill="#333" textLength="35.00" lengthAdjust="spacingAndGlyphs">Total=792</text>
<circle cx="153.5" cy="305.1" r="17.6" fill="#134F86"/>
<path d="M153.5 305.1 L153.5 287.5 A17.6 17.6 0 0 1 167.41 294.31 Z" fill="#C8102E"/>
<text x="153.50" y="284.70" font-size="8.5" stroke="#333" stroke-width="0.06" text-anchor="middle" fill="#333" textLength="31.00" lengthAdjust="spacingAndGlyphs">Cluster 3</text>
<text x="153.50" y="331.50" font-size="8.5" stroke="#333" stroke-width="0.06" text-anchor="middle" fill="#333" textLength="35.00" lengthAdjust="spacingAndGlyphs">Total=925</text>
<circle cx="207.0" cy="305.1" r="17.6" fill="#134F86"/>
<path d="M207.0 305.1 L207.0 287.5 A17.6 17.6 0 1 1 191.08 312.59 Z" fill="#C8102E"/>
<text x="207.00" y="284.70" font-size="8.5" stroke="#333" stroke-width="0.06" text-anchor="middle" fill="#333" textLength="31.00" lengthAdjust="spacingAndGlyphs">Cluster 4</text>
<text x="207.00" y="331.50" font-size="8.5" stroke="#333" stroke-width="0.06" text-anchor="middle" fill="#333" textLength="40.50" lengthAdjust="spacingAndGlyphs">Total=1583</text>
<circle cx="45.3" cy="379.1" r="17.6" fill="#134F86"/>
<path d="M45.3 379.1 L45.3 361.5 A17.6 17.6 0 1 1 28.01 382.40 Z" fill="#C8102E"/>
<text x="45.30" y="358.70" font-size="8.5" stroke="#333" stroke-width="0.06" text-anchor="middle" fill="#333" textLength="31.00" lengthAdjust="spacingAndGlyphs">Cluster 5</text>
<text x="45.30" y="405.50" font-size="8.5" stroke="#333" stroke-width="0.06" text-anchor="middle" fill="#333" textLength="35.00" lengthAdjust="spacingAndGlyphs">Total=574</text>
<circle cx="99.5" cy="379.1" r="17.6" fill="#134F86"/>
<path d="M99.5 379.1 L99.5 361.5 A17.6 17.6 0 0 1 100.05 396.69 Z" fill="#C8102E"/>
<text x="99.50" y="358.70" font-size="8.5" stroke="#333" stroke-width="0.06" text-anchor="middle" fill="#333" textLength="31.00" lengthAdjust="spacingAndGlyphs">Cluster 6</text>
<text x="99.50" y="405.50" font-size="8.5" stroke="#333" stroke-width="0.06" text-anchor="middle" fill="#333" textLength="35.00" lengthAdjust="spacingAndGlyphs">Total=908</text>
<circle cx="153.5" cy="379.1" r="17.6" fill="#134F86"/>
<path d="M153.5 379.1 L153.5 361.5 A17.6 17.6 0 0 1 170.79 382.40 Z" fill="#C8102E"/>
<text x="153.50" y="358.70" font-size="8.5" stroke="#333" stroke-width="0.06" text-anchor="middle" fill="#333" textLength="31.00" lengthAdjust="spacingAndGlyphs">Cluster 7</text>
<text x="153.50" y="405.50" font-size="8.5" stroke="#333" stroke-width="0.06" text-anchor="middle" fill="#333" textLength="35.00" lengthAdjust="spacingAndGlyphs">Total=922</text>
<circle cx="207.0" cy="379.1" r="17.6" fill="#134F86"/>
<path d="M207.0 379.1 L207.0 361.5 A17.6 17.6 0 1 1 192.38 388.90 Z" fill="#C8102E"/>
<text x="207.00" y="358.70" font-size="8.5" stroke="#333" stroke-width="0.06" text-anchor="middle" fill="#333" textLength="31.00" lengthAdjust="spacingAndGlyphs">Cluster 8</text>
<text x="207.00" y="405.50" font-size="8.5" stroke="#333" stroke-width="0.06" text-anchor="middle" fill="#333" textLength="40.50" lengthAdjust="spacingAndGlyphs">Total=1720</text>
<text x="401.40" y="12.70" font-size="9.8" font-weight="bold" text-anchor="middle" fill="#000" textLength="21.00" lengthAdjust="spacingAndGlyphs">VWF</text>
<text x="400.60" y="250.00" font-size="9.6" font-weight="bold" text-anchor="middle" fill="#000" textLength="26.00" lengthAdjust="spacingAndGlyphs">CDH5</text>
<text x="0.00" y="0.00" font-size="9.6" stroke="#222" stroke-width="0.2" text-anchor="middle" fill="#222" textLength="68.70" lengthAdjust="spacingAndGlyphs" transform="translate(257.00,60.60) rotate(-90)">UMI count (log scale)</text>
<text x="0.00" y="0.00" font-size="9.6" stroke="#222" stroke-width="0.2" text-anchor="middle" fill="#222" textLength="68.70" lengthAdjust="spacingAndGlyphs" transform="translate(260.00,173.10) rotate(-90)">UMI count (log scale)</text>
<text x="0.00" y="0.00" font-size="9.6" stroke="#222" stroke-width="0.2" text-anchor="middle" fill="#222" textLength="68.70" lengthAdjust="spacingAndGlyphs" transform="translate(256.80,297.50) rotate(-90)">UMI count (log scale)</text>
<text x="0.00" y="0.00" font-size="9.6" stroke="#222" stroke-width="0.2" text-anchor="middle" fill="#222" textLength="68.70" lengthAdjust="spacingAndGlyphs" transform="translate(256.80,411.25) rotate(-90)">UMI count (log scale)</text>
<text x="306.00" y="23.80" font-size="7.2" font-weight="bold" text-anchor="middle" fill="#111">Cluster 1</text>
<text x="306.00" y="32.10" font-size="7.2" font-weight="bold" font-style="italic" text-anchor="middle" fill="#111">VWF</text>
<path d="M298.75 43.00 L298.79 43.20 L298.84 43.40 L298.91 43.60 L298.96 43.80 L299.00 44.00 L299.02 44.21 L299.02 44.42 L299.00 44.62 L298.99 44.83 L298.97 45.04 L298.95 45.25 L298.94 45.46 L298.95 45.67 L298.97 45.88 L299.02 46.08 L299.09 46.29 L299.20 46.50 L299.35 46.70 L299.54 46.90 L299.77 47.10 L300.02 47.30 L300.30 47.50 L300.60 47.70 L300.89 47.90 L301.19 48.10 L301.48 48.30 L301.75 48.50 L302.04 48.71 L302.34 48.93 L302.65 49.14 L302.95 49.36 L303.24 49.57 L303.51 49.79 L303.75 50.00 L303.97 50.21 L304.17 50.43 L304.36 50.64 L304.53 50.86 L304.67 51.07 L304.78 51.29 L304.85 51.50 L304.85 51.71 L304.86 51.92 L304.87 52.12 L304.88 52.33 L304.89 52.54 L304.90 52.75 L304.89 52.96 L304.87 53.17 L304.85 53.38 L304.80 53.58 L304.74 53.79 L304.65 54.00 L304.54 54.20 L304.40 54.40 L304.23 54.60 L304.04 54.80 L303.84 55.00 L303.62 55.20 L303.40 55.40 L303.18 55.60 L302.96 55.80 L302.75 56.00 L302.54 56.20 L302.32 56.40 L302.10 56.60 L301.87 56.80 L301.64 57.00 L301.41 57.20 L301.18 57.40 L300.96 57.60 L300.75 57.80 L300.55 58.00 L300.36 58.20 L300.16 58.40 L299.98 58.60 L299.80 58.80 L299.64 59.00 L299.49 59.20 L299.36 59.40 L299.25 59.60 L299.16 59.81 L299.08 60.02 L299.02 60.23 L298.98 60.44 L298.94 60.66 L298.91 60.87 L298.89 61.08 L298.87 61.29 L298.85 61.50 L297.65 61.50 L297.63 61.29 L297.61 61.08 L297.59 60.87 L297.56 60.66 L297.52 60.44 L297.48 60.23 L297.42 60.02 L297.34 59.81 L297.25 59.60 L297.14 59.40 L297.01 59.20 L296.86 59.00 L296.70 58.80 L296.52 58.60 L296.34 58.40 L296.14 58.20 L295.95 58.00 L295.75 57.80 L295.54 57.60 L295.32 57.40 L295.09 57.20 L294.86 57.00 L294.63 56.80 L294.40 56.60 L294.18 56.40 L293.96 56.20 L293.75 56.00 L293.54 55.80 L293.32 55.60 L293.10 55.40 L292.88 55.20 L292.66 55.00 L292.46 54.80 L292.27 54.60 L292.10 54.40 L291.96 54.20 L291.85 54.00 L291.76 53.79 L291.70 53.58 L291.65 53.38 L291.63 53.17 L291.61 52.96 L291.60 52.75 L291.61 52.54 L291.62 52.33 L291.63 52.12 L291.64 51.92 L291.65 51.71 L291.65 51.50 L291.72 51.29 L291.83 51.07 L291.97 50.86 L292.14 50.64 L292.33 50.43 L292.53 50.21 L292.75 50.00 L292.99 49.79 L293.26 49.57 L293.55 49.36 L293.85 49.14 L294.16 48.93 L294.46 48.71 L294.75 48.50 L295.02 48.30 L295.31 48.10 L295.61 47.90 L295.90 47.70 L296.20 47.50 L296.48 47.30 L296.73 47.10 L296.96 46.90 L297.15 46.70 L297.30 46.50 L297.41 46.29 L297.48 46.08 L297.53 45.88 L297.55 45.67 L297.56 45.46 L297.55 45.25 L297.53 45.04 L297.51 44.83 L297.50 44.62 L297.48 44.42 L297.48 44.21 L297.50 44.00 L297.54 43.80 L297.59 43.60 L297.66 43.40 L297.71 43.20 L297.75 43.00Z" fill="#C8102E"/>
<rect x="297.75" y="61.20" width="1.00" height="25.90" fill="url(#g1)"/>
<circle cx="298.25" cy="87.10" r="0.50" fill="#C8102E" fill-opacity="0.4"/>
<path d="M313.90 45.00 L313.92 45.20 L313.94 45.40 L313.96 45.60 L313.98 45.80 L314.01 46.00 L314.04 46.20 L314.07 46.40 L314.11 46.60 L314.14 46.80 L314.18 47.00 L314.22 47.20 L314.26 47.40 L314.31 47.60 L314.35 47.80 L314.40 48.00 L314.45 48.20 L314.51 48.41 L314.57 48.61 L314.64 48.82 L314.71 49.02 L314.78 49.23 L314.86 49.43 L314.94 49.64 L315.02 49.84 L315.11 50.05 L315.20 50.25 L315.30 50.46 L315.40 50.67 L315.50 50.88 L315.61 51.10 L315.73 51.31 L315.84 51.52 L315.95 51.73 L316.07 51.94 L316.18 52.15 L316.29 52.37 L316.40 52.58 L316.50 52.79 L316.60 53.00 L316.69 53.20 L316.78 53.40 L316.87 53.60 L316.96 53.80 L317.04 54.00 L317.13 54.20 L317.21 54.40 L317.30 54.60 L317.38 54.80 L317.45 55.00 L317.53 55.20 L317.60 55.40 L317.67 55.60 L317.74 55.80 L317.80 56.00 L317.86 56.21 L317.93 56.41 L317.99 56.62 L318.05 56.82 L318.12 57.03 L318.18 57.23 L318.24 57.44 L318.30 57.64 L318.36 57.85 L318.41 58.05 L318.46 58.26 L318.51 58.46 L318.55 58.67 L318.59 58.87 L318.62 59.08 L318.65 59.28 L318.67 59.49 L318.69 59.69 L318.70 59.90 L318.70 60.11 L318.68 60.31 L318.66 60.52 L318.64 60.73 L318.61 60.93 L318.57 61.14 L318.52 61.35 L318.47 61.55 L318.41 61.76 L318.35 61.97 L318.29 62.17 L318.22 62.38 L318.15 62.59 L318.08 62.79 L318.00 63.00 L317.92 63.20 L317.83 63.40 L317.74 63.60 L317.64 63.80 L317.53 64.00 L317.42 64.20 L317.31 64.40 L317.19 64.60 L317.07 64.80 L316.96 65.00 L316.84 65.20 L316.73 65.40 L316.61 65.60 L316.50 65.80 L316.40 66.00 L316.29 66.21 L316.19 66.42 L316.09 66.62 L315.99 66.83 L315.89 67.04 L315.79 67.25 L315.69 67.46 L315.59 67.67 L315.49 67.88 L315.40 68.08 L315.30 68.29 L315.20 68.50 L315.09 68.72 L314.98 68.94 L314.87 69.16 L314.76 69.38 L314.65 69.59 L314.55 69.81 L314.47 70.03 L314.40 70.25 L314.35 70.46 L314.30 70.67 L314.26 70.88 L314.22 71.10 L314.18 71.31 L314.15 71.52 L314.13 71.73 L314.10 71.94 L314.08 72.15 L314.06 72.37 L314.04 72.58 L314.02 72.79 L314.00 73.00 L313.98 73.21 L313.97 73.41 L313.95 73.62 L313.94 73.82 L313.93 74.03 L313.92 74.24 L313.91 74.44 L313.90 74.65 L313.89 74.85 L313.89 75.06 L313.88 75.26 L313.87 75.47 L313.87 75.68 L313.86 75.88 L313.86 76.09 L313.85 76.29 L313.85 76.50 L312.95 76.50 L312.95 76.29 L312.94 76.09 L312.94 75.88 L312.93 75.68 L312.93 75.47 L312.92 75.26 L312.91 75.06 L312.91 74.85 L312.90 74.65 L312.89 74.44 L312.88 74.24 L312.87 74.03 L312.86 73.82 L312.85 73.62 L312.83 73.41 L312.82 73.21 L312.80 73.00 L312.78 72.79 L312.76 72.58 L312.74 72.37 L312.72 72.15 L312.70 71.94 L312.67 71.73 L312.65 71.52 L312.62 71.31 L312.58 71.10 L312.54 70.88 L312.50 70.67 L312.45 70.46 L312.40 70.25 L312.33 70.03 L312.25 69.81 L312.15 69.59 L312.04 69.38 L311.93 69.16 L311.82 68.94 L311.71 68.72 L311.60 68.50 L311.50 68.29 L311.40 68.08 L311.31 67.88 L311.21 67.67 L311.11 67.46 L311.01 67.25 L310.91 67.04 L310.81 66.83 L310.71 66.62 L310.61 66.42 L310.51 66.21 L310.40 66.00 L310.30 65.80 L310.19 65.60 L310.07 65.40 L309.96 65.20 L309.84 65.00 L309.73 64.80 L309.61 64.60 L309.49 64.40 L309.38 64.20 L309.27 64.00 L309.16 63.80 L309.06 63.60 L308.97 63.40 L308.88 63.20 L308.80 63.00 L308.72 62.79 L308.65 62.59 L308.58 62.38 L308.51 62.17 L308.45 61.97 L308.39 61.76 L308.33 61.55 L308.28 61.35 L308.23 61.14 L308.19 60.93 L308.16 60.73 L308.14 60.52 L308.12 60.31 L308.10 60.11 L308.10 59.90 L308.11 59.69 L308.13 59.49 L308.15 59.28 L308.18 59.08 L308.21 58.87 L308.25 58.67 L308.29 58.46 L308.34 58.26 L308.39 58.05 L308.44 57.85 L308.50 57.64 L308.56 57.44 L308.62 57.23 L308.68 57.03 L308.75 56.82 L308.81 56.62 L308.87 56.41 L308.94 56.21 L309.00 56.00 L309.06 55.80 L309.13 55.60 L309.20 55.40 L309.27 55.20 L309.35 55.00 L309.42 54.80 L309.50 54.60 L309.59 54.40 L309.67 54.20 L309.76 54.00 L309.84 53.80 L309.93 53.60 L310.02 53.40 L310.11 53.20 L310.20 53.00 L310.30 52.79 L310.40 52.58 L310.51 52.37 L310.62 52.15 L310.73 51.94 L310.85 51.73 L310.96 51.52 L311.07 51.31 L311.19 51.10 L311.30 50.88 L311.40 50.67 L311.50 50.46 L311.60 50.25 L311.69 50.05 L311.78 49.84 L311.86 49.64 L311.94 49.43 L312.02 49.23 L312.09 49.02 L312.16 48.82 L312.23 48.61 L312.29 48.41 L312.35 48.20 L312.40 48.00 L312.45 47.80 L312.49 47.60 L312.54 47.40 L312.58 47.20 L312.62 47.00 L312.66 46.80 L312.69 46.60 L312.73 46.40 L312.76 46.20 L312.79 46.00 L312.82 45.80 L312.84 45.60 L312.86 45.40 L312.88 45.20 L312.90 45.00Z" fill="#134F86"/>
<path d="M313.10 38.40 L313.70 38.40 L313.90 45.30 L312.90 45.30Z" fill="url(#g2)"/>
<rect x="312.90" y="76.20" width="1.00" height="10.90" fill="url(#g3)"/>
<circle cx="313.40" cy="87.10" r="0.80" fill="#134F86" fill-opacity="1"/>
<line x1="289.50" y1="31.50" x2="289.50" y2="90.70" stroke="#1a1a1a" stroke-width="1.2"/>
<line x1="288.90" y1="90.10" x2="323.00" y2="90.10" stroke="#1a1a1a" stroke-width="1.2"/>
<line x1="286.30" y1="36.60" x2="289.50" y2="36.60" stroke="#222" stroke-width="1.15"/>
<text x="282.80" y="39.60" font-size="8.6" stroke="#222" stroke-width="0.2" text-anchor="end" fill="#222" textLength="19.20" lengthAdjust="spacingAndGlyphs">100.0</text>
<line x1="286.30" y1="53.80" x2="289.50" y2="53.80" stroke="#222" stroke-width="1.15"/>
<text x="282.80" y="56.80" font-size="8.6" stroke="#222" stroke-width="0.2" text-anchor="end" fill="#222" textLength="14.40" lengthAdjust="spacingAndGlyphs">10.0</text>
<line x1="286.30" y1="71.10" x2="289.50" y2="71.10" stroke="#222" stroke-width="1.15"/>
<text x="282.80" y="74.10" font-size="8.6" stroke="#222" stroke-width="0.2" text-anchor="end" fill="#222" textLength="10.20" lengthAdjust="spacingAndGlyphs">1.0</text>
<line x1="286.30" y1="88.00" x2="289.50" y2="88.00" stroke="#222" stroke-width="1.15"/>
<text x="282.80" y="91.00" font-size="8.6" stroke="#222" stroke-width="0.2" text-anchor="end" fill="#222" textLength="10.40" lengthAdjust="spacingAndGlyphs">0.1</text>
<line x1="298.25" y1="90.10" x2="298.25" y2="93.30" stroke="#222" stroke-width="1.1"/>
<line x1="313.40" y1="90.10" x2="313.40" y2="93.30" stroke="#222" stroke-width="1.1"/>
<text x="0.00" y="0.00" font-size="8.4" stroke="#222" stroke-width="0.2" text-anchor="end" fill="#222" textLength="27.40" lengthAdjust="spacingAndGlyphs" transform="translate(298.25,100.00) rotate(-45)">Control</text>
<text x="0.00" y="0.00" font-size="8.4" stroke="#222" stroke-width="0.2" text-anchor="end" fill="#222" textLength="31.00" lengthAdjust="spacingAndGlyphs" transform="translate(313.40,100.00) rotate(-45)">Low VWF</text>
<text x="368.00" y="23.80" font-size="7.2" font-weight="bold" text-anchor="middle" fill="#111">Cluster 2</text>
<text x="368.00" y="32.10" font-size="7.2" font-weight="bold" font-style="italic" text-anchor="middle" fill="#111">VWF</text>
<path d="M361.10 39.00 L361.19 39.21 L361.31 39.43 L361.45 39.64 L361.61 39.86 L361.78 40.07 L361.94 40.29 L362.10 40.50 L362.24 40.70 L362.37 40.91 L362.50 41.11 L362.64 41.32 L362.77 41.52 L362.90 41.73 L363.04 41.93 L363.19 42.14 L363.35 42.34 L363.52 42.55 L363.70 42.75 L363.92 42.97 L364.16 43.19 L364.43 43.41 L364.71 43.62 L364.99 43.84 L365.27 44.06 L365.55 44.28 L365.80 44.50 L366.08 44.73 L366.38 44.97 L366.67 45.20 L366.92 45.43 L367.11 45.67 L367.20 45.90 L367.17 46.10 L367.09 46.30 L366.98 46.50 L366.83 46.70 L366.67 46.90 L366.50 47.10 L366.34 47.30 L366.20 47.50 L366.06 47.71 L365.92 47.92 L365.77 48.13 L365.62 48.35 L365.47 48.56 L365.32 48.77 L365.18 48.98 L365.03 49.19 L364.88 49.40 L364.74 49.62 L364.61 49.83 L364.48 50.04 L364.35 50.25 L364.23 50.45 L364.12 50.66 L364.02 50.86 L363.91 51.07 L363.81 51.27 L363.72 51.48 L363.63 51.68 L363.54 51.89 L363.46 52.09 L363.38 52.30 L363.30 52.50 L363.22 52.71 L363.15 52.92 L363.08 53.13 L363.02 53.35 L362.96 53.56 L362.90 53.77 L362.84 53.98 L362.78 54.19 L362.72 54.40 L362.67 54.62 L362.61 54.83 L362.56 55.04 L362.50 55.25 L362.44 55.46 L362.38 55.67 L362.33 55.88 L362.27 56.10 L362.21 56.31 L362.16 56.52 L362.10 56.73 L362.05 56.94 L362.00 57.15 L361.95 57.37 L361.90 57.58 L361.85 57.79 L361.80 58.00 L361.76 58.20 L361.71 58.41 L361.67 58.61 L361.63 58.82 L361.59 59.02 L361.56 59.23 L361.52 59.43 L361.49 59.64 L361.46 59.84 L361.43 60.05 L361.40 60.25 L361.37 60.46 L361.35 60.67 L361.32 60.88 L361.30 61.10 L361.28 61.31 L361.26 61.52 L361.24 61.73 L361.22 61.94 L361.20 62.15 L361.19 62.37 L361.17 62.58 L361.16 62.79 L361.15 63.00 L360.05 63.00 L360.04 62.79 L360.03 62.58 L360.01 62.37 L360.00 62.15 L359.98 61.94 L359.96 61.73 L359.94 61.52 L359.92 61.31 L359.90 61.10 L359.88 60.88 L359.85 60.67 L359.83 60.46 L359.80 60.25 L359.77 60.05 L359.74 59.84 L359.71 59.64 L359.68 59.43 L359.64 59.23 L359.61 59.02 L359.57 58.82 L359.53 58.61 L359.49 58.41 L359.44 58.20 L359.40 58.00 L359.35 57.79 L359.30 57.58 L359.25 57.37 L359.20 57.15 L359.15 56.94 L359.10 56.73 L359.04 56.52 L358.99 56.31 L358.93 56.10 L358.87 55.88 L358.82 55.67 L358.76 55.46 L358.70 55.25 L358.64 55.04 L358.59 54.83 L358.53 54.62 L358.48 54.40 L358.42 54.19 L358.36 53.98 L358.30 53.77 L358.24 53.56 L358.18 53.35 L358.12 53.13 L358.05 52.92 L357.98 52.71 L357.90 52.50 L357.82 52.30 L357.74 52.09 L357.66 51.89 L357.57 51.68 L357.48 51.48 L357.39 51.27 L357.29 51.07 L357.18 50.86 L357.08 50.66 L356.97 50.45 L356.85 50.25 L356.72 50.04 L356.59 49.83 L356.46 49.62 L356.32 49.40 L356.17 49.19 L356.02 48.98 L355.88 48.77 L355.73 48.56 L355.58 48.35 L355.43 48.13 L355.28 47.92 L355.14 47.71 L355.00 47.50 L354.86 47.30 L354.70 47.10 L354.53 46.90 L354.37 46.70 L354.22 46.50 L354.11 46.30 L354.03 46.10 L354.00 45.90 L354.09 45.67 L354.28 45.43 L354.53 45.20 L354.82 44.97 L355.12 44.73 L355.40 44.50 L355.65 44.28 L355.93 44.06 L356.21 43.84 L356.49 43.62 L356.77 43.41 L357.04 43.19 L357.28 42.97 L357.50 42.75 L357.68 42.55 L357.85 42.34 L358.01 42.14 L358.16 41.93 L358.30 41.73 L358.43 41.52 L358.56 41.32 L358.70 41.11 L358.83 40.91 L358.96 40.70 L359.10 40.50 L359.26 40.29 L359.42 40.07 L359.59 39.86 L359.75 39.64 L359.89 39.43 L360.01 39.21 L360.10 39.00Z" fill="#C8102E"/>
<rect x="360.10" y="62.70" width="1.00" height="24.40" fill="url(#g4)"/>
<circle cx="360.60" cy="87.10" r="0.60" fill="#C8102E" fill-opacity="1"/>
<path d="M376.20 42.00 L376.21 42.20 L376.20 42.40 L376.20 42.60 L376.19 42.80 L376.19 43.00 L376.20 43.20 L376.22 43.40 L376.26 43.60 L376.32 43.80 L376.40 44.00 L376.51 44.20 L376.64 44.40 L376.79 44.60 L376.95 44.80 L377.13 45.00 L377.32 45.20 L377.51 45.40 L377.71 45.60 L377.91 45.80 L378.10 46.00 L378.33 46.22 L378.60 46.44 L378.89 46.66 L379.18 46.88 L379.45 47.09 L379.69 47.31 L379.88 47.53 L380.00 47.75 L380.07 47.96 L380.14 48.16 L380.19 48.37 L380.24 48.58 L380.28 48.79 L380.32 48.99 L380.35 49.20 L380.37 49.41 L380.39 49.61 L380.40 49.82 L380.41 50.03 L380.41 50.24 L380.42 50.44 L380.42 50.65 L380.42 50.86 L380.41 51.06 L380.41 51.27 L380.41 51.48 L380.40 51.69 L380.40 51.89 L380.40 52.10 L380.38 52.31 L380.36 52.51 L380.32 52.72 L380.27 52.93 L380.22 53.14 L380.16 53.34 L380.10 53.55 L380.03 53.76 L379.96 53.96 L379.89 54.17 L379.82 54.38 L379.74 54.59 L379.67 54.79 L379.60 55.00 L379.53 55.20 L379.46 55.40 L379.39 55.60 L379.32 55.80 L379.25 56.00 L379.17 56.20 L379.09 56.40 L379.02 56.60 L378.94 56.80 L378.86 57.00 L378.78 57.20 L378.71 57.40 L378.63 57.60 L378.55 57.80 L378.47 58.00 L378.40 58.20 L378.32 58.40 L378.25 58.60 L378.17 58.80 L378.10 59.00 L378.03 59.20 L377.96 59.40 L377.88 59.60 L377.81 59.80 L377.74 60.00 L377.67 60.20 L377.60 60.40 L377.53 60.60 L377.47 60.80 L377.40 61.00 L377.34 61.20 L377.27 61.40 L377.21 61.60 L377.16 61.80 L377.10 62.00 L377.05 62.20 L376.99 62.41 L376.94 62.61 L376.89 62.81 L376.84 63.02 L376.80 63.22 L376.75 63.42 L376.71 63.62 L376.66 63.83 L376.62 64.03 L376.58 64.23 L376.54 64.44 L376.51 64.64 L376.47 64.84 L376.43 65.05 L376.40 65.25 L376.37 65.46 L376.33 65.67 L376.30 65.88 L376.27 66.10 L376.25 66.31 L376.22 66.52 L376.20 66.73 L376.18 66.94 L376.16 67.15 L376.14 67.37 L376.13 67.58 L376.11 67.79 L376.10 68.00 L375.10 68.00 L375.09 67.79 L375.07 67.58 L375.06 67.37 L375.04 67.15 L375.02 66.94 L375.00 66.73 L374.98 66.52 L374.95 66.31 L374.93 66.10 L374.90 65.88 L374.87 65.67 L374.83 65.46 L374.80 65.25 L374.77 65.05 L374.73 64.84 L374.69 64.64 L374.66 64.44 L374.62 64.23 L374.58 64.03 L374.54 63.83 L374.49 63.62 L374.45 63.42 L374.40 63.22 L374.36 63.02 L374.31 62.81 L374.26 62.61 L374.21 62.41 L374.15 62.20 L374.10 62.00 L374.04 61.80 L373.99 61.60 L373.93 61.40 L373.86 61.20 L373.80 61.00 L373.73 60.80 L373.67 60.60 L373.60 60.40 L373.53 60.20 L373.46 60.00 L373.39 59.80 L373.32 59.60 L373.24 59.40 L373.17 59.20 L373.10 59.00 L373.03 58.80 L372.95 58.60 L372.88 58.40 L372.80 58.20 L372.73 58.00 L372.65 57.80 L372.57 57.60 L372.49 57.40 L372.42 57.20 L372.34 57.00 L372.26 56.80 L372.18 56.60 L372.11 56.40 L372.03 56.20 L371.95 56.00 L371.88 55.80 L371.81 55.60 L371.74 55.40 L371.67 55.20 L371.60 55.00 L371.53 54.79 L371.46 54.59 L371.38 54.38 L371.31 54.17 L371.24 53.96 L371.17 53.76 L371.10 53.55 L371.04 53.34 L370.98 53.14 L370.93 52.93 L370.88 52.72 L370.84 52.51 L370.82 52.31 L370.80 52.10 L370.80 51.89 L370.80 51.69 L370.79 51.48 L370.79 51.27 L370.79 51.06 L370.78 50.86 L370.78 50.65 L370.78 50.44 L370.79 50.24 L370.79 50.03 L370.80 49.82 L370.81 49.61 L370.83 49.41 L370.85 49.20 L370.88 48.99 L370.92 48.79 L370.96 48.58 L371.01 48.37 L371.06 48.16 L371.13 47.96 L371.20 47.75 L371.32 47.53 L371.51 47.31 L371.75 47.09 L372.02 46.88 L372.31 46.66 L372.60 46.44 L372.87 46.22 L373.10 46.00 L373.29 45.80 L373.49 45.60 L373.69 45.40 L373.88 45.20 L374.07 45.00 L374.25 44.80 L374.41 44.60 L374.56 44.40 L374.69 44.20 L374.80 44.00 L374.88 43.80 L374.94 43.60 L374.98 43.40 L375.00 43.20 L375.01 43.00 L375.01 42.80 L375.00 42.60 L375.00 42.40 L374.99 42.20 L375.00 42.00Z" fill="#134F86"/>
<path d="M375.24 38.40 L375.96 38.40 L376.20 42.30 L375.00 42.30Z" fill="url(#g5)"/>
<rect x="375.10" y="67.70" width="1.00" height="16.90" fill="url(#g6)"/>
<path d="M373.98 87.75 Q375.21 86.96 375.20 84.60 L376.00 84.60 Q375.99 86.96 377.23 87.75Z" fill="#134F86"/>
<line x1="351.50" y1="31.50" x2="351.50" y2="90.70" stroke="#1a1a1a" stroke-width="1.2"/>
<line x1="350.90" y1="90.10" x2="385.00" y2="90.10" stroke="#1a1a1a" stroke-width="1.2"/>
<line x1="348.30" y1="39.60" x2="351.50" y2="39.60" stroke="#222" stroke-width="1.15"/>
<text x="344.80" y="42.60" font-size="8.6" stroke="#222" stroke-width="0.2" text-anchor="end" fill="#222" textLength="19.20" lengthAdjust="spacingAndGlyphs">100.0</text>
<line x1="348.30" y1="55.20" x2="351.50" y2="55.20" stroke="#222" stroke-width="1.15"/>
<text x="344.80" y="58.20" font-size="8.6" stroke="#222" stroke-width="0.2" text-anchor="end" fill="#222" textLength="14.40" lengthAdjust="spacingAndGlyphs">10.0</text>
<line x1="348.30" y1="71.70" x2="351.50" y2="71.70" stroke="#222" stroke-width="1.15"/>
<text x="344.80" y="74.70" font-size="8.6" stroke="#222" stroke-width="0.2" text-anchor="end" fill="#222" textLength="10.20" lengthAdjust="spacingAndGlyphs">1.0</text>
<line x1="348.30" y1="87.90" x2="351.50" y2="87.90" stroke="#222" stroke-width="1.15"/>
<text x="344.80" y="90.90" font-size="8.6" stroke="#222" stroke-width="0.2" text-anchor="end" fill="#222" textLength="10.40" lengthAdjust="spacingAndGlyphs">0.1</text>
<line x1="360.60" y1="90.10" x2="360.60" y2="93.30" stroke="#222" stroke-width="1.1"/>
<line x1="375.60" y1="90.10" x2="375.60" y2="93.30" stroke="#222" stroke-width="1.1"/>
<text x="0.00" y="0.00" font-size="8.4" stroke="#222" stroke-width="0.2" text-anchor="end" fill="#222" textLength="27.40" lengthAdjust="spacingAndGlyphs" transform="translate(360.60,100.00) rotate(-45)">Control</text>
<text x="0.00" y="0.00" font-size="8.4" stroke="#222" stroke-width="0.2" text-anchor="end" fill="#222" textLength="31.00" lengthAdjust="spacingAndGlyphs" transform="translate(375.60,100.00) rotate(-45)">Low VWF</text>
<text x="429.00" y="23.80" font-size="7.2" font-weight="bold" text-anchor="middle" fill="#111">Cluster 3</text>
<text x="429.00" y="32.10" font-size="7.2" font-weight="bold" font-style="italic" text-anchor="middle" fill="#111">VWF</text>
<path d="M422.80 38.40 L422.86 38.62 L422.94 38.84 L423.03 39.06 L423.12 39.28 L423.20 39.50 L423.26 39.70 L423.32 39.90 L423.38 40.10 L423.43 40.30 L423.49 40.50 L423.54 40.70 L423.60 40.90 L423.66 41.10 L423.73 41.30 L423.80 41.50 L423.87 41.70 L423.95 41.90 L424.03 42.10 L424.10 42.30 L424.18 42.50 L424.26 42.70 L424.34 42.90 L424.42 43.10 L424.50 43.30 L424.58 43.50 L424.66 43.70 L424.74 43.90 L424.82 44.10 L424.90 44.30 L424.99 44.50 L425.07 44.70 L425.15 44.90 L425.23 45.10 L425.31 45.30 L425.40 45.50 L425.48 45.70 L425.56 45.90 L425.64 46.10 L425.72 46.30 L425.80 46.50 L425.88 46.70 L425.96 46.90 L426.05 47.10 L426.14 47.31 L426.22 47.51 L426.31 47.71 L426.40 47.91 L426.49 48.11 L426.58 48.31 L426.67 48.52 L426.76 48.72 L426.85 48.92 L426.94 49.12 L427.03 49.32 L427.12 49.52 L427.20 49.73 L427.29 49.93 L427.37 50.13 L427.46 50.33 L427.54 50.53 L427.62 50.73 L427.70 50.94 L427.78 51.14 L427.85 51.34 L427.93 51.54 L428.00 51.74 L428.06 51.94 L428.13 52.15 L428.19 52.35 L428.25 52.55 L428.30 52.75 L428.35 52.95 L428.40 53.15 L428.44 53.36 L428.49 53.56 L428.53 53.76 L428.57 53.96 L428.60 54.16 L428.63 54.36 L428.66 54.57 L428.69 54.77 L428.72 54.97 L428.74 55.17 L428.76 55.37 L428.78 55.58 L428.80 55.78 L428.82 55.98 L428.83 56.18 L428.85 56.38 L428.86 56.58 L428.87 56.79 L428.88 56.99 L428.88 57.19 L428.89 57.39 L428.89 57.59 L428.90 57.79 L428.90 58.00 L428.90 58.20 L428.90 58.40 L428.88 58.60 L428.85 58.80 L428.81 59.00 L428.78 59.20 L428.74 59.40 L428.69 59.60 L428.64 59.80 L428.59 60.00 L428.53 60.20 L428.47 60.40 L428.41 60.60 L428.35 60.80 L428.28 61.00 L428.21 61.20 L428.14 61.40 L428.06 61.60 L427.99 61.80 L427.91 62.00 L427.83 62.20 L427.75 62.40 L427.67 62.60 L427.59 62.80 L427.51 63.00 L427.43 63.20 L427.35 63.40 L427.26 63.60 L427.18 63.80 L427.10 64.00 L427.02 64.20 L426.93 64.40 L426.84 64.60 L426.75 64.81 L426.65 65.01 L426.55 65.21 L426.45 65.41 L426.35 65.61 L426.25 65.81 L426.14 66.02 L426.04 66.22 L425.93 66.42 L425.82 66.62 L425.72 66.82 L425.61 67.02 L425.50 67.23 L425.39 67.43 L425.29 67.63 L425.18 67.83 L425.08 68.03 L424.98 68.23 L424.88 68.44 L424.78 68.64 L424.68 68.84 L424.59 69.04 L424.50 69.24 L424.41 69.44 L424.33 69.65 L424.25 69.85 L424.17 70.05 L424.10 70.25 L424.03 70.45 L423.97 70.65 L423.91 70.85 L423.86 71.05 L423.81 71.25 L423.76 71.45 L423.72 71.65 L423.68 71.85 L423.64 72.05 L423.61 72.25 L423.57 72.45 L423.54 72.65 L423.51 72.85 L423.48 73.05 L423.46 73.25 L423.43 73.45 L423.41 73.65 L423.38 73.85 L423.36 74.05 L423.33 74.25 L423.31 74.45 L423.28 74.65 L423.26 74.85 L423.23 75.05 L423.20 75.25 L423.17 75.45 L423.14 75.65 L423.11 75.85 L423.08 76.05 L423.05 76.25 L423.02 76.45 L422.99 76.65 L422.96 76.85 L422.93 77.05 L422.90 77.25 L422.87 77.45 L422.85 77.65 L422.82 77.85 L422.79 78.05 L422.77 78.25 L422.75 78.45 L422.72 78.65 L422.70 78.85 L422.68 79.05 L422.66 79.25 L422.65 79.45 L422.63 79.65 L422.62 79.85 L422.61 80.05 L422.60 80.25 L422.60 80.45 L422.61 80.66 L422.63 80.86 L422.65 81.07 L422.67 81.27 L422.70 81.48 L422.73 81.68 L422.77 81.89 L422.81 82.09 L422.85 82.30 L422.90 82.50 L422.95 82.71 L423.01 82.92 L423.07 83.12 L423.13 83.33 L423.20 83.54 L423.27 83.75 L423.34 83.96 L423.41 84.17 L423.48 84.38 L423.56 84.58 L423.63 84.79 L423.70 85.00 L423.77 85.20 L423.85 85.40 L423.92 85.60 L424.00 85.80 L424.08 86.00 L424.16 86.20 L424.24 86.40 L424.32 86.60 L424.38 86.80 L424.45 87.00 L424.50 87.20 L424.50 87.40 L424.50 87.60 L424.50 87.80 L424.50 88.00 L424.50 88.20 L419.30 88.20 L419.30 88.00 L419.30 87.80 L419.30 87.60 L419.30 87.40 L419.30 87.20 L419.35 87.00 L419.42 86.80 L419.48 86.60 L419.56 86.40 L419.64 86.20 L419.72 86.00 L419.80 85.80 L419.88 85.60 L419.95 85.40 L420.03 85.20 L420.10 85.00 L420.17 84.79 L420.24 84.58 L420.32 84.38 L420.39 84.17 L420.46 83.96 L420.53 83.75 L420.60 83.54 L420.67 83.33 L420.73 83.12 L420.79 82.92 L420.85 82.71 L420.90 82.50 L420.95 82.30 L420.99 82.09 L421.03 81.89 L421.07 81.68 L421.10 81.48 L421.13 81.27 L421.15 81.07 L421.17 80.86 L421.19 80.66 L421.20 80.45 L421.20 80.25 L421.19 80.05 L421.18 79.85 L421.17 79.65 L421.15 79.45 L421.14 79.25 L421.12 79.05 L421.10 78.85 L421.08 78.65 L421.05 78.45 L421.03 78.25 L421.01 78.05 L420.98 77.85 L420.95 77.65 L420.93 77.45 L420.90 77.25 L420.87 77.05 L420.84 76.85 L420.81 76.65 L420.78 76.45 L420.75 76.25 L420.72 76.05 L420.69 75.85 L420.66 75.65 L420.63 75.45 L420.60 75.25 L420.57 75.05 L420.54 74.85 L420.52 74.65 L420.49 74.45 L420.47 74.25 L420.44 74.05 L420.42 73.85 L420.39 73.65 L420.37 73.45 L420.34 73.25 L420.32 73.05 L420.29 72.85 L420.26 72.65 L420.23 72.45 L420.19 72.25 L420.16 72.05 L420.12 71.85 L420.08 71.65 L420.04 71.45 L419.99 71.25 L419.94 71.05 L419.89 70.85 L419.83 70.65 L419.77 70.45 L419.70 70.25 L419.63 70.05 L419.55 69.85 L419.47 69.65 L419.39 69.44 L419.30 69.24 L419.21 69.04 L419.12 68.84 L419.02 68.64 L418.92 68.44 L418.82 68.23 L418.72 68.03 L418.62 67.83 L418.51 67.63 L418.41 67.43 L418.30 67.23 L418.19 67.02 L418.08 66.82 L417.98 66.62 L417.87 66.42 L417.76 66.22 L417.66 66.02 L417.55 65.81 L417.45 65.61 L417.35 65.41 L417.25 65.21 L417.15 65.01 L417.05 64.81 L416.96 64.60 L416.87 64.40 L416.78 64.20 L416.70 64.00 L416.62 63.80 L416.54 63.60 L416.45 63.40 L416.37 63.20 L416.29 63.00 L416.21 62.80 L416.13 62.60 L416.05 62.40 L415.97 62.20 L415.89 62.00 L415.81 61.80 L415.74 61.60 L415.66 61.40 L415.59 61.20 L415.52 61.00 L415.45 60.80 L415.39 60.60 L415.33 60.40 L415.27 60.20 L415.21 60.00 L415.16 59.80 L415.11 59.60 L415.06 59.40 L415.02 59.20 L414.99 59.00 L414.95 58.80 L414.92 58.60 L414.90 58.40 L414.90 58.20 L414.90 58.00 L414.90 57.79 L414.91 57.59 L414.91 57.39 L414.92 57.19 L414.92 56.99 L414.93 56.79 L414.94 56.58 L414.95 56.38 L414.97 56.18 L414.98 55.98 L415.00 55.78 L415.02 55.58 L415.04 55.37 L415.06 55.17 L415.08 54.97 L415.11 54.77 L415.14 54.57 L415.17 54.36 L415.20 54.16 L415.23 53.96 L415.27 53.76 L415.31 53.56 L415.36 53.36 L415.40 53.15 L415.45 52.95 L415.50 52.75 L415.55 52.55 L415.61 52.35 L415.67 52.15 L415.74 51.94 L415.80 51.74 L415.87 51.54 L415.95 51.34 L416.02 51.14 L416.10 50.94 L416.18 50.73 L416.26 50.53 L416.34 50.33 L416.43 50.13 L416.51 49.93 L416.60 49.73 L416.68 49.52 L416.77 49.32 L416.86 49.12 L416.95 48.92 L417.04 48.72 L417.13 48.52 L417.22 48.31 L417.31 48.11 L417.40 47.91 L417.49 47.71 L417.58 47.51 L417.66 47.31 L417.75 47.10 L417.84 46.90 L417.92 46.70 L418.00 46.50 L418.08 46.30 L418.16 46.10 L418.24 45.90 L418.32 45.70 L418.40 45.50 L418.49 45.30 L418.57 45.10 L418.65 44.90 L418.73 44.70 L418.81 44.50 L418.90 44.30 L418.98 44.10 L419.06 43.90 L419.14 43.70 L419.22 43.50 L419.30 43.30 L419.38 43.10 L419.46 42.90 L419.54 42.70 L419.62 42.50 L419.70 42.30 L419.77 42.10 L419.85 41.90 L419.93 41.70 L420.00 41.50 L420.07 41.30 L420.14 41.10 L420.20 40.90 L420.26 40.70 L420.31 40.50 L420.37 40.30 L420.42 40.10 L420.48 39.90 L420.54 39.70 L420.60 39.50 L420.68 39.28 L420.77 39.06 L420.86 38.84 L420.94 38.62 L421.00 38.40Z" fill="#C8102E"/>
<path d="M438.10 39.00 L438.11 39.20 L438.12 39.40 L438.13 39.60 L438.14 39.80 L438.15 40.00 L438.16 40.20 L438.17 40.40 L438.18 40.60 L438.19 40.80 L438.20 41.00 L438.21 41.20 L438.23 41.40 L438.25 41.60 L438.27 41.80 L438.29 42.00 L438.31 42.20 L438.34 42.40 L438.37 42.60 L438.40 42.80 L438.44 43.00 L438.48 43.20 L438.53 43.40 L438.58 43.60 L438.64 43.80 L438.70 44.00 L438.77 44.21 L438.86 44.42 L438.96 44.62 L439.07 44.83 L439.19 45.04 L439.31 45.25 L439.45 45.46 L439.58 45.67 L439.73 45.88 L439.87 46.08 L440.01 46.29 L440.15 46.50 L440.29 46.71 L440.43 46.92 L440.56 47.12 L440.68 47.33 L440.79 47.54 L440.90 47.75 L441.00 47.95 L441.09 48.15 L441.19 48.35 L441.28 48.55 L441.37 48.75 L441.47 48.95 L441.56 49.15 L441.65 49.35 L441.74 49.55 L441.83 49.75 L441.91 49.95 L442.00 50.15 L442.08 50.35 L442.16 50.55 L442.24 50.75 L442.32 50.95 L442.39 51.15 L442.47 51.35 L442.54 51.55 L442.60 51.75 L442.67 51.95 L442.73 52.15 L442.79 52.35 L442.85 52.55 L442.90 52.75 L442.95 52.95 L443.00 53.16 L443.05 53.36 L443.10 53.56 L443.15 53.76 L443.20 53.97 L443.25 54.17 L443.30 54.37 L443.35 54.57 L443.39 54.78 L443.44 54.98 L443.48 55.18 L443.52 55.39 L443.57 55.59 L443.61 55.79 L443.65 55.99 L443.68 56.20 L443.72 56.40 L443.76 56.60 L443.79 56.80 L443.82 57.01 L443.86 57.21 L443.89 57.41 L443.91 57.61 L443.94 57.82 L443.96 58.02 L443.99 58.22 L444.01 58.43 L444.03 58.63 L444.04 58.83 L444.06 59.03 L444.07 59.24 L444.08 59.44 L444.09 59.64 L444.10 59.84 L444.10 60.05 L444.10 60.25 L444.09 60.45 L444.07 60.65 L444.04 60.85 L444.01 61.06 L443.98 61.26 L443.94 61.46 L443.90 61.66 L443.85 61.86 L443.80 62.06 L443.74 62.27 L443.68 62.47 L443.62 62.67 L443.56 62.87 L443.49 63.07 L443.42 63.27 L443.35 63.48 L443.28 63.68 L443.20 63.88 L443.12 64.08 L443.05 64.28 L442.97 64.48 L442.89 64.69 L442.81 64.89 L442.73 65.09 L442.65 65.29 L442.58 65.49 L442.50 65.69 L442.42 65.90 L442.35 66.10 L442.27 66.30 L442.20 66.50 L442.13 66.70 L442.05 66.90 L441.98 67.10 L441.90 67.31 L441.82 67.51 L441.74 67.71 L441.65 67.91 L441.57 68.11 L441.49 68.31 L441.40 68.52 L441.31 68.72 L441.23 68.92 L441.14 69.12 L441.05 69.32 L440.96 69.52 L440.88 69.73 L440.79 69.93 L440.70 70.13 L440.62 70.33 L440.53 70.53 L440.45 70.73 L440.36 70.94 L440.28 71.14 L440.20 71.34 L440.12 71.54 L440.05 71.74 L439.97 71.94 L439.90 72.15 L439.83 72.35 L439.76 72.55 L439.70 72.75 L439.64 72.95 L439.58 73.15 L439.52 73.35 L439.46 73.56 L439.40 73.76 L439.34 73.96 L439.28 74.16 L439.23 74.36 L439.17 74.56 L439.12 74.77 L439.07 74.97 L439.02 75.17 L438.97 75.37 L438.92 75.57 L438.87 75.77 L438.82 75.98 L438.78 76.18 L438.73 76.38 L438.69 76.58 L438.65 76.78 L438.61 76.98 L438.57 77.19 L438.54 77.39 L438.50 77.59 L438.47 77.79 L438.44 77.99 L438.41 78.19 L438.38 78.40 L438.35 78.60 L438.32 78.80 L438.30 79.00 L438.30 79.21 L438.31 79.42 L438.32 79.62 L438.34 79.83 L438.36 80.04 L438.39 80.25 L438.43 80.46 L438.47 80.67 L438.52 80.88 L438.57 81.08 L438.63 81.29 L438.70 81.50 L438.78 81.71 L438.86 81.92 L438.95 82.12 L439.05 82.33 L439.15 82.54 L439.26 82.75 L439.38 82.96 L439.50 83.17 L439.62 83.38 L439.74 83.58 L439.87 83.79 L440.00 84.00 L440.13 84.21 L440.27 84.42 L440.42 84.62 L440.57 84.83 L440.72 85.04 L440.88 85.25 L441.03 85.46 L441.19 85.67 L441.35 85.88 L441.50 86.08 L441.65 86.29 L441.80 86.50 L441.95 86.71 L442.10 86.93 L442.25 87.14 L442.39 87.36 L442.53 87.57 L442.67 87.79 L442.80 88.00 L442.80 88.10 L442.80 88.20 L432.20 88.20 L432.20 88.10 L432.20 88.00 L432.33 87.79 L432.47 87.57 L432.61 87.36 L432.75 87.14 L432.90 86.93 L433.05 86.71 L433.20 86.50 L433.35 86.29 L433.50 86.08 L433.65 85.88 L433.81 85.67 L433.97 85.46 L434.12 85.25 L434.28 85.04 L434.43 84.83 L434.58 84.62 L434.73 84.42 L434.87 84.21 L435.00 84.00 L435.13 83.79 L435.26 83.58 L435.38 83.38 L435.50 83.17 L435.62 82.96 L435.74 82.75 L435.85 82.54 L435.95 82.33 L436.05 82.12 L436.14 81.92 L436.22 81.71 L436.30 81.50 L436.37 81.29 L436.43 81.08 L436.48 80.88 L436.53 80.67 L436.57 80.46 L436.61 80.25 L436.64 80.04 L436.66 79.83 L436.68 79.62 L436.69 79.42 L436.70 79.21 L436.70 79.00 L436.68 78.80 L436.65 78.60 L436.62 78.40 L436.59 78.19 L436.56 77.99 L436.53 77.79 L436.50 77.59 L436.46 77.39 L436.43 77.19 L436.39 76.98 L436.35 76.78 L436.31 76.58 L436.27 76.38 L436.22 76.18 L436.18 75.98 L436.13 75.77 L436.08 75.57 L436.03 75.37 L435.98 75.17 L435.93 74.97 L435.88 74.77 L435.83 74.56 L435.77 74.36 L435.72 74.16 L435.66 73.96 L435.60 73.76 L435.54 73.56 L435.48 73.35 L435.42 73.15 L435.36 72.95 L435.30 72.75 L435.24 72.55 L435.17 72.35 L435.10 72.15 L435.03 71.94 L434.95 71.74 L434.88 71.54 L434.80 71.34 L434.72 71.14 L434.64 70.94 L434.55 70.73 L434.47 70.53 L434.38 70.33 L434.30 70.13 L434.21 69.93 L434.12 69.73 L434.04 69.52 L433.95 69.32 L433.86 69.12 L433.77 68.92 L433.69 68.72 L433.60 68.52 L433.51 68.31 L433.43 68.11 L433.35 67.91 L433.26 67.71 L433.18 67.51 L433.10 67.31 L433.02 67.10 L432.95 66.90 L432.87 66.70 L432.80 66.50 L432.73 66.30 L432.65 66.10 L432.58 65.90 L432.50 65.69 L432.42 65.49 L432.35 65.29 L432.27 65.09 L432.19 64.89 L432.11 64.69 L432.03 64.48 L431.95 64.28 L431.88 64.08 L431.80 63.88 L431.72 63.68 L431.65 63.48 L431.58 63.27 L431.51 63.07 L431.44 62.87 L431.38 62.67 L431.32 62.47 L431.26 62.27 L431.20 62.06 L431.15 61.86 L431.10 61.66 L431.06 61.46 L431.02 61.26 L430.99 61.06 L430.96 60.85 L430.93 60.65 L430.91 60.45 L430.90 60.25 L430.90 60.05 L430.90 59.84 L430.91 59.64 L430.92 59.44 L430.93 59.24 L430.94 59.03 L430.96 58.83 L430.97 58.63 L430.99 58.43 L431.01 58.22 L431.04 58.02 L431.06 57.82 L431.09 57.61 L431.11 57.41 L431.14 57.21 L431.18 57.01 L431.21 56.80 L431.24 56.60 L431.28 56.40 L431.32 56.20 L431.35 55.99 L431.39 55.79 L431.43 55.59 L431.48 55.39 L431.52 55.18 L431.56 54.98 L431.61 54.78 L431.65 54.57 L431.70 54.37 L431.75 54.17 L431.80 53.97 L431.85 53.76 L431.90 53.56 L431.95 53.36 L432.00 53.16 L432.05 52.95 L432.10 52.75 L432.15 52.55 L432.21 52.35 L432.27 52.15 L432.33 51.95 L432.40 51.75 L432.46 51.55 L432.53 51.35 L432.61 51.15 L432.68 50.95 L432.76 50.75 L432.84 50.55 L432.92 50.35 L433.00 50.15 L433.09 49.95 L433.17 49.75 L433.26 49.55 L433.35 49.35 L433.44 49.15 L433.53 48.95 L433.63 48.75 L433.72 48.55 L433.81 48.35 L433.91 48.15 L434.00 47.95 L434.10 47.75 L434.21 47.54 L434.32 47.33 L434.44 47.12 L434.57 46.92 L434.71 46.71 L434.85 46.50 L434.99 46.29 L435.13 46.08 L435.27 45.88 L435.42 45.67 L435.55 45.46 L435.69 45.25 L435.81 45.04 L435.93 44.83 L436.04 44.62 L436.14 44.42 L436.23 44.21 L436.30 44.00 L436.36 43.80 L436.42 43.60 L436.47 43.40 L436.52 43.20 L436.56 43.00 L436.60 42.80 L436.63 42.60 L436.66 42.40 L436.69 42.20 L436.71 42.00 L436.73 41.80 L436.75 41.60 L436.77 41.40 L436.79 41.20 L436.80 41.00 L436.81 40.80 L436.82 40.60 L436.83 40.40 L436.84 40.20 L436.85 40.00 L436.86 39.80 L436.87 39.60 L436.88 39.40 L436.89 39.20 L436.90 39.00Z" fill="#134F86"/>
<line x1="412.50" y1="31.50" x2="412.50" y2="90.70" stroke="#1a1a1a" stroke-width="1.2"/>
<line x1="411.90" y1="90.10" x2="446.00" y2="90.10" stroke="#1a1a1a" stroke-width="1.2"/>
<line x1="409.30" y1="42.10" x2="412.50" y2="42.10" stroke="#222" stroke-width="1.15"/>
<text x="405.80" y="45.10" font-size="8.6" stroke="#222" stroke-width="0.2" text-anchor="end" fill="#222" textLength="14.40" lengthAdjust="spacingAndGlyphs">10.0</text>
<line x1="409.30" y1="65.00" x2="412.50" y2="65.00" stroke="#222" stroke-width="1.15"/>
<text x="405.80" y="68.00" font-size="8.6" stroke="#222" stroke-width="0.2" text-anchor="end" fill="#222" textLength="10.20" lengthAdjust="spacingAndGlyphs">1.0</text>
<line x1="409.30" y1="87.50" x2="412.50" y2="87.50" stroke="#222" stroke-width="1.15"/>
<text x="405.80" y="90.50" font-size="8.6" stroke="#222" stroke-width="0.2" text-anchor="end" fill="#222" textLength="10.40" lengthAdjust="spacingAndGlyphs">0.1</text>
<line x1="421.90" y1="90.10" x2="421.90" y2="93.30" stroke="#222" stroke-width="1.1"/>
<line x1="437.50" y1="90.10" x2="437.50" y2="93.30" stroke="#222" stroke-width="1.1"/>
<text x="0.00" y="0.00" font-size="8.4" stroke="#222" stroke-width="0.2" text-anchor="end" fill="#222" textLength="27.40" lengthAdjust="spacingAndGlyphs" transform="translate(421.90,100.00) rotate(-45)">Control</text>
<text x="0.00" y="0.00" font-size="8.4" stroke="#222" stroke-width="0.2" text-anchor="end" fill="#222" textLength="31.00" lengthAdjust="spacingAndGlyphs" transform="translate(437.50,100.00) rotate(-45)">Low VWF</text>
<text x="493.00" y="23.80" font-size="7.2" font-weight="bold" text-anchor="middle" fill="#111">Cluster 4</text>
<text x="493.00" y="32.10" font-size="7.2" font-weight="bold" font-style="italic" text-anchor="middle" fill="#111">VWF</text>
<path d="M486.45 44.50 L486.66 44.75 L486.97 45.00 L487.25 45.25 L487.45 45.46 L487.65 45.67 L487.86 45.88 L488.06 46.09 L488.26 46.30 L488.47 46.51 L488.67 46.72 L488.87 46.93 L489.07 47.14 L489.26 47.35 L489.45 47.56 L489.63 47.77 L489.81 47.98 L489.98 48.19 L490.15 48.40 L490.31 48.60 L490.48 48.81 L490.65 49.02 L490.82 49.22 L491.00 49.42 L491.17 49.63 L491.34 49.84 L491.51 50.04 L491.68 50.24 L491.84 50.45 L492.00 50.66 L492.14 50.86 L492.28 51.06 L492.40 51.27 L492.52 51.48 L492.61 51.68 L492.70 51.88 L492.77 52.09 L492.82 52.30 L492.85 52.50 L492.84 52.71 L492.80 52.92 L492.75 53.14 L492.67 53.35 L492.58 53.56 L492.47 53.77 L492.35 53.99 L492.21 54.20 L492.07 54.41 L491.92 54.62 L491.76 54.84 L491.60 55.05 L491.44 55.26 L491.27 55.48 L491.11 55.69 L490.95 55.90 L490.79 56.11 L490.61 56.31 L490.42 56.52 L490.21 56.73 L490.00 56.93 L489.78 57.14 L489.56 57.35 L489.34 57.55 L489.12 57.76 L488.91 57.97 L488.71 58.17 L488.52 58.38 L488.35 58.59 L488.19 58.79 L488.05 59.00 L487.93 59.21 L487.82 59.42 L487.71 59.62 L487.62 59.83 L487.53 60.04 L487.45 60.25 L487.38 60.46 L487.31 60.67 L487.25 60.88 L487.19 61.08 L487.13 61.29 L487.07 61.50 L487.02 61.71 L486.97 61.92 L486.92 62.12 L486.86 62.33 L486.81 62.54 L486.75 62.75 L486.69 62.95 L486.64 63.16 L486.60 63.36 L486.55 63.57 L486.51 63.77 L486.48 63.98 L486.45 64.18 L486.42 64.39 L486.39 64.59 L486.37 64.80 L486.35 65.00 L485.15 65.00 L485.13 64.80 L485.11 64.59 L485.08 64.39 L485.05 64.18 L485.02 63.98 L484.99 63.77 L484.95 63.57 L484.90 63.36 L484.86 63.16 L484.81 62.95 L484.75 62.75 L484.69 62.54 L484.64 62.33 L484.58 62.12 L484.53 61.92 L484.48 61.71 L484.43 61.50 L484.37 61.29 L484.31 61.08 L484.25 60.88 L484.19 60.67 L484.12 60.46 L484.05 60.25 L483.97 60.04 L483.88 59.83 L483.79 59.62 L483.68 59.42 L483.57 59.21 L483.45 59.00 L483.31 58.79 L483.15 58.59 L482.98 58.38 L482.79 58.17 L482.59 57.97 L482.38 57.76 L482.16 57.55 L481.94 57.35 L481.72 57.14 L481.50 56.93 L481.29 56.73 L481.08 56.52 L480.89 56.31 L480.71 56.11 L480.55 55.90 L480.39 55.69 L480.23 55.48 L480.06 55.26 L479.90 55.05 L479.74 54.84 L479.58 54.62 L479.43 54.41 L479.29 54.20 L479.15 53.99 L479.03 53.77 L478.92 53.56 L478.83 53.35 L478.75 53.14 L478.70 52.92 L478.66 52.71 L478.65 52.50 L478.68 52.30 L478.73 52.09 L478.80 51.88 L478.89 51.68 L478.98 51.48 L479.10 51.27 L479.22 51.06 L479.36 50.86 L479.50 50.66 L479.66 50.45 L479.82 50.24 L479.99 50.04 L480.16 49.84 L480.33 49.63 L480.50 49.42 L480.68 49.22 L480.85 49.02 L481.02 48.81 L481.19 48.60 L481.35 48.40 L481.52 48.19 L481.69 47.98 L481.87 47.77 L482.05 47.56 L482.24 47.35 L482.43 47.14 L482.63 46.93 L482.83 46.72 L483.03 46.51 L483.24 46.30 L483.44 46.09 L483.64 45.88 L483.85 45.67 L484.05 45.46 L484.25 45.25 L484.53 45.00 L484.84 44.75 L485.05 44.50Z" fill="#C8102E"/>
<path d="M485.33 38.40 L486.17 38.40 L486.45 44.80 L485.05 44.80Z" fill="url(#g7)"/>
<rect x="485.25" y="64.70" width="1.00" height="22.90" fill="url(#g8)"/>
<circle cx="485.75" cy="87.60" r="0.50" fill="#C8102E" fill-opacity="1"/>
<path d="M502.00 47.75 L502.04 47.95 L502.08 48.16 L502.14 48.36 L502.20 48.57 L502.26 48.77 L502.33 48.98 L502.41 49.18 L502.48 49.39 L502.56 49.59 L502.63 49.80 L502.70 50.00 L502.77 50.21 L502.84 50.42 L502.90 50.63 L502.97 50.85 L503.03 51.06 L503.10 51.27 L503.17 51.48 L503.24 51.69 L503.32 51.90 L503.40 52.12 L503.49 52.33 L503.59 52.54 L503.70 52.75 L503.82 52.96 L503.95 53.17 L504.09 53.38 L504.24 53.59 L504.39 53.80 L504.55 54.01 L504.71 54.22 L504.87 54.43 L505.03 54.64 L505.19 54.85 L505.35 55.06 L505.50 55.27 L505.64 55.48 L505.78 55.69 L505.90 55.90 L506.02 56.11 L506.14 56.32 L506.26 56.52 L506.37 56.73 L506.48 56.94 L506.58 57.15 L506.67 57.36 L506.75 57.57 L506.81 57.77 L506.86 57.98 L506.89 58.19 L506.90 58.40 L506.88 58.61 L506.85 58.81 L506.81 59.02 L506.75 59.22 L506.69 59.43 L506.62 59.63 L506.54 59.84 L506.46 60.04 L506.37 60.25 L506.28 60.46 L506.18 60.66 L506.08 60.87 L505.98 61.07 L505.88 61.28 L505.78 61.48 L505.69 61.69 L505.59 61.89 L505.50 62.10 L505.41 62.31 L505.31 62.52 L505.21 62.73 L505.10 62.94 L505.00 63.15 L504.89 63.36 L504.78 63.57 L504.67 63.78 L504.55 63.99 L504.44 64.20 L504.33 64.40 L504.22 64.61 L504.12 64.82 L504.01 65.03 L503.91 65.24 L503.81 65.45 L503.72 65.66 L503.63 65.87 L503.55 66.08 L503.47 66.29 L503.40 66.50 L503.34 66.70 L503.28 66.90 L503.23 67.10 L503.17 67.30 L503.13 67.50 L503.08 67.70 L503.04 67.90 L503.00 68.10 L502.96 68.30 L502.92 68.50 L502.89 68.70 L502.86 68.90 L502.83 69.10 L502.80 69.30 L502.77 69.50 L502.74 69.70 L502.72 69.90 L502.69 70.10 L502.66 70.30 L502.64 70.50 L502.61 70.70 L502.58 70.90 L502.56 71.10 L502.53 71.30 L502.50 71.50 L502.47 71.71 L502.44 71.92 L502.41 72.12 L502.38 72.33 L502.35 72.54 L502.33 72.75 L502.30 72.96 L502.28 73.17 L502.26 73.38 L502.23 73.58 L502.21 73.79 L502.19 74.00 L502.17 74.21 L502.16 74.42 L502.14 74.62 L502.13 74.83 L502.11 75.04 L502.10 75.25 L500.90 75.25 L500.89 75.04 L500.87 74.83 L500.86 74.62 L500.84 74.42 L500.83 74.21 L500.81 74.00 L500.79 73.79 L500.77 73.58 L500.74 73.38 L500.72 73.17 L500.70 72.96 L500.67 72.75 L500.65 72.54 L500.62 72.33 L500.59 72.12 L500.56 71.92 L500.53 71.71 L500.50 71.50 L500.47 71.30 L500.44 71.10 L500.42 70.90 L500.39 70.70 L500.36 70.50 L500.34 70.30 L500.31 70.10 L500.28 69.90 L500.26 69.70 L500.23 69.50 L500.20 69.30 L500.17 69.10 L500.14 68.90 L500.11 68.70 L500.08 68.50 L500.04 68.30 L500.00 68.10 L499.96 67.90 L499.92 67.70 L499.87 67.50 L499.83 67.30 L499.77 67.10 L499.72 66.90 L499.66 66.70 L499.60 66.50 L499.53 66.29 L499.45 66.08 L499.37 65.87 L499.28 65.66 L499.19 65.45 L499.09 65.24 L498.99 65.03 L498.88 64.82 L498.78 64.61 L498.67 64.40 L498.56 64.20 L498.45 63.99 L498.33 63.78 L498.22 63.57 L498.11 63.36 L498.00 63.15 L497.90 62.94 L497.79 62.73 L497.69 62.52 L497.59 62.31 L497.50 62.10 L497.41 61.89 L497.31 61.69 L497.22 61.48 L497.12 61.28 L497.02 61.07 L496.92 60.87 L496.82 60.66 L496.72 60.46 L496.63 60.25 L496.54 60.04 L496.46 59.84 L496.38 59.63 L496.31 59.43 L496.25 59.22 L496.19 59.02 L496.15 58.81 L496.12 58.61 L496.10 58.40 L496.11 58.19 L496.14 57.98 L496.19 57.77 L496.25 57.57 L496.33 57.36 L496.42 57.15 L496.52 56.94 L496.63 56.73 L496.74 56.52 L496.86 56.32 L496.98 56.11 L497.10 55.90 L497.22 55.69 L497.36 55.48 L497.50 55.27 L497.65 55.06 L497.81 54.85 L497.97 54.64 L498.13 54.43 L498.29 54.22 L498.45 54.01 L498.61 53.80 L498.76 53.59 L498.91 53.38 L499.05 53.17 L499.18 52.96 L499.30 52.75 L499.41 52.54 L499.51 52.33 L499.60 52.12 L499.68 51.90 L499.76 51.69 L499.83 51.48 L499.90 51.27 L499.97 51.06 L500.03 50.85 L500.10 50.63 L500.16 50.42 L500.23 50.21 L500.30 50.00 L500.37 49.80 L500.44 49.59 L500.52 49.39 L500.59 49.18 L500.67 48.98 L500.74 48.77 L500.80 48.57 L500.86 48.36 L500.92 48.16 L500.96 47.95 L501.00 47.75Z" fill="#134F86"/>
<rect x="501.00" y="74.95" width="1.00" height="9.65" fill="url(#g9)"/>
<path d="M499.95 88.00 Q501.13 87.15 501.10 84.60 L501.90 84.60 Q501.87 87.15 503.05 88.00Z" fill="#134F86"/>
<line x1="476.50" y1="31.50" x2="476.50" y2="90.70" stroke="#1a1a1a" stroke-width="1.2"/>
<line x1="475.90" y1="90.10" x2="510.00" y2="90.10" stroke="#1a1a1a" stroke-width="1.2"/>
<line x1="473.30" y1="52.50" x2="476.50" y2="52.50" stroke="#222" stroke-width="1.15"/>
<text x="469.80" y="55.50" font-size="8.6" stroke="#222" stroke-width="0.2" text-anchor="end" fill="#222" textLength="14.40" lengthAdjust="spacingAndGlyphs">10.0</text>
<line x1="473.30" y1="70.20" x2="476.50" y2="70.20" stroke="#222" stroke-width="1.15"/>
<text x="469.80" y="73.20" font-size="8.6" stroke="#222" stroke-width="0.2" text-anchor="end" fill="#222" textLength="10.20" lengthAdjust="spacingAndGlyphs">1.0</text>
<line x1="473.30" y1="87.90" x2="476.50" y2="87.90" stroke="#222" stroke-width="1.15"/>
<text x="469.80" y="90.90" font-size="8.6" stroke="#222" stroke-width="0.2" text-anchor="end" fill="#222" textLength="10.40" lengthAdjust="spacingAndGlyphs">0.1</text>
<line x1="485.75" y1="90.10" x2="485.75" y2="93.30" stroke="#222" stroke-width="1.1"/>
<line x1="501.50" y1="90.10" x2="501.50" y2="93.30" stroke="#222" stroke-width="1.1"/>
<text x="0.00" y="0.00" font-size="8.4" stroke="#222" stroke-width="0.2" text-anchor="end" fill="#222" textLength="27.40" lengthAdjust="spacingAndGlyphs" transform="translate(485.75,100.00) rotate(-45)">Control</text>
<text x="0.00" y="0.00" font-size="8.4" stroke="#222" stroke-width="0.2" text-anchor="end" fill="#222" textLength="31.00" lengthAdjust="spacingAndGlyphs" transform="translate(501.50,100.00) rotate(-45)">Low VWF</text>
<text x="305.75" y="136.40" font-size="7.2" font-weight="bold" text-anchor="middle" fill="#111">Cluster 5</text>
<text x="305.75" y="144.70" font-size="7.2" font-weight="bold" font-style="italic" text-anchor="middle" fill="#111">VWF</text>
<path d="M299.10 151.60 L299.17 151.81 L299.25 152.02 L299.35 152.23 L299.46 152.44 L299.58 152.66 L299.71 152.87 L299.84 153.08 L299.97 153.29 L300.10 153.50 L300.22 153.71 L300.35 153.92 L300.48 154.12 L300.62 154.33 L300.75 154.54 L300.89 154.75 L301.02 154.96 L301.16 155.17 L301.30 155.38 L301.43 155.58 L301.57 155.79 L301.70 156.00 L301.83 156.21 L301.96 156.41 L302.09 156.62 L302.23 156.82 L302.36 157.03 L302.49 157.24 L302.62 157.44 L302.75 157.65 L302.88 157.85 L303.01 158.06 L303.14 158.26 L303.27 158.47 L303.40 158.68 L303.53 158.88 L303.65 159.09 L303.78 159.29 L303.90 159.50 L304.02 159.70 L304.16 159.90 L304.29 160.10 L304.44 160.30 L304.58 160.50 L304.73 160.70 L304.87 160.90 L305.01 161.10 L305.15 161.30 L305.28 161.50 L305.39 161.70 L305.50 161.90 L305.60 162.10 L305.67 162.30 L305.74 162.50 L305.78 162.70 L305.80 162.90 L305.78 163.12 L305.72 163.33 L305.63 163.55 L305.51 163.77 L305.37 163.98 L305.21 164.20 L305.05 164.42 L304.87 164.63 L304.69 164.85 L304.52 165.07 L304.35 165.28 L304.20 165.50 L304.06 165.70 L303.92 165.90 L303.78 166.10 L303.62 166.30 L303.47 166.50 L303.32 166.70 L303.17 166.90 L303.02 167.10 L302.88 167.30 L302.75 167.50 L302.62 167.70 L302.50 167.90 L302.38 168.11 L302.27 168.31 L302.16 168.52 L302.05 168.73 L301.95 168.93 L301.84 169.14 L301.74 169.35 L301.65 169.55 L301.56 169.76 L301.47 169.97 L301.39 170.17 L301.31 170.38 L301.23 170.59 L301.16 170.79 L301.10 171.00 L301.04 171.20 L301.00 171.40 L300.96 171.60 L300.92 171.80 L300.89 172.00 L300.87 172.20 L300.84 172.40 L300.82 172.60 L300.81 172.80 L300.79 173.00 L300.78 173.20 L300.76 173.40 L300.74 173.60 L300.72 173.80 L300.70 174.00 L300.68 174.20 L300.66 174.40 L300.65 174.60 L300.64 174.80 L300.63 175.00 L300.62 175.20 L300.60 175.40 L300.58 175.60 L300.54 175.80 L300.50 176.00 L300.44 176.21 L300.38 176.42 L300.31 176.62 L300.23 176.83 L300.14 177.04 L300.06 177.25 L299.97 177.46 L299.89 177.67 L299.81 177.88 L299.73 178.08 L299.66 178.29 L299.60 178.50 L299.55 178.71 L299.49 178.92 L299.45 179.12 L299.40 179.33 L299.36 179.54 L299.32 179.75 L299.28 179.96 L299.25 180.17 L299.22 180.38 L299.19 180.58 L299.17 180.79 L299.15 181.00 L298.05 181.00 L298.03 180.79 L298.01 180.58 L297.98 180.38 L297.95 180.17 L297.92 179.96 L297.88 179.75 L297.84 179.54 L297.80 179.33 L297.75 179.12 L297.71 178.92 L297.65 178.71 L297.60 178.50 L297.54 178.29 L297.47 178.08 L297.39 177.88 L297.31 177.67 L297.23 177.46 L297.14 177.25 L297.06 177.04 L296.97 176.83 L296.89 176.62 L296.82 176.42 L296.76 176.21 L296.70 176.00 L296.66 175.80 L296.62 175.60 L296.60 175.40 L296.58 175.20 L296.57 175.00 L296.56 174.80 L296.55 174.60 L296.54 174.40 L296.52 174.20 L296.50 174.00 L296.48 173.80 L296.46 173.60 L296.44 173.40 L296.42 173.20 L296.41 173.00 L296.39 172.80 L296.38 172.60 L296.36 172.40 L296.33 172.20 L296.31 172.00 L296.28 171.80 L296.24 171.60 L296.20 171.40 L296.16 171.20 L296.10 171.00 L296.04 170.79 L295.97 170.59 L295.89 170.38 L295.81 170.17 L295.73 169.97 L295.64 169.76 L295.55 169.55 L295.46 169.35 L295.36 169.14 L295.25 168.93 L295.15 168.73 L295.04 168.52 L294.93 168.31 L294.82 168.11 L294.70 167.90 L294.58 167.70 L294.45 167.50 L294.32 167.30 L294.18 167.10 L294.03 166.90 L293.88 166.70 L293.73 166.50 L293.58 166.30 L293.42 166.10 L293.28 165.90 L293.14 165.70 L293.00 165.50 L292.85 165.28 L292.68 165.07 L292.51 164.85 L292.33 164.63 L292.15 164.42 L291.99 164.20 L291.83 163.98 L291.69 163.77 L291.57 163.55 L291.48 163.33 L291.42 163.12 L291.40 162.90 L291.42 162.70 L291.46 162.50 L291.53 162.30 L291.60 162.10 L291.70 161.90 L291.81 161.70 L291.92 161.50 L292.05 161.30 L292.19 161.10 L292.33 160.90 L292.47 160.70 L292.62 160.50 L292.76 160.30 L292.91 160.10 L293.04 159.90 L293.18 159.70 L293.30 159.50 L293.42 159.29 L293.55 159.09 L293.67 158.88 L293.80 158.68 L293.93 158.47 L294.06 158.26 L294.19 158.06 L294.32 157.85 L294.45 157.65 L294.58 157.44 L294.71 157.24 L294.84 157.03 L294.97 156.82 L295.11 156.62 L295.24 156.41 L295.37 156.21 L295.50 156.00 L295.63 155.79 L295.77 155.58 L295.90 155.38 L296.04 155.17 L296.18 154.96 L296.31 154.75 L296.45 154.54 L296.58 154.33 L296.72 154.12 L296.85 153.92 L296.98 153.71 L297.10 153.50 L297.23 153.29 L297.36 153.08 L297.49 152.87 L297.62 152.66 L297.74 152.44 L297.85 152.23 L297.95 152.02 L298.03 151.81 L298.10 151.60Z" fill="#C8102E"/>
<rect x="298.10" y="180.70" width="1.00" height="19.30" fill="url(#g10)"/>
<circle cx="298.60" cy="200.00" r="0.60" fill="#C8102E" fill-opacity="1"/>
<path d="M314.75 158.50 L314.78 158.70 L314.81 158.90 L314.84 159.10 L314.88 159.30 L314.92 159.50 L314.97 159.70 L315.02 159.90 L315.07 160.10 L315.12 160.30 L315.17 160.50 L315.23 160.70 L315.28 160.90 L315.34 161.10 L315.40 161.30 L315.45 161.50 L315.50 161.70 L315.56 161.91 L315.61 162.11 L315.67 162.31 L315.72 162.52 L315.77 162.72 L315.83 162.92 L315.89 163.12 L315.94 163.33 L316.01 163.53 L316.07 163.73 L316.14 163.94 L316.21 164.14 L316.29 164.34 L316.37 164.55 L316.45 164.75 L316.54 164.95 L316.63 165.15 L316.73 165.35 L316.83 165.55 L316.93 165.75 L317.04 165.95 L317.15 166.15 L317.26 166.35 L317.37 166.55 L317.48 166.75 L317.60 166.95 L317.71 167.15 L317.82 167.35 L317.94 167.55 L318.05 167.75 L318.16 167.95 L318.26 168.15 L318.37 168.35 L318.47 168.55 L318.57 168.75 L318.67 168.95 L318.76 169.15 L318.84 169.35 L318.92 169.55 L319.00 169.75 L319.07 169.96 L319.14 170.16 L319.21 170.37 L319.28 170.58 L319.34 170.79 L319.40 170.99 L319.45 171.20 L319.51 171.41 L319.56 171.61 L319.60 171.82 L319.64 172.03 L319.68 172.24 L319.72 172.44 L319.75 172.65 L319.77 172.86 L319.80 173.06 L319.82 173.27 L319.83 173.48 L319.84 173.69 L319.85 173.89 L319.85 174.10 L319.82 174.30 L319.79 174.50 L319.75 174.70 L319.71 174.90 L319.65 175.10 L319.59 175.30 L319.53 175.50 L319.46 175.70 L319.39 175.90 L319.31 176.10 L319.23 176.30 L319.15 176.50 L319.06 176.70 L318.97 176.90 L318.88 177.10 L318.79 177.30 L318.70 177.50 L318.61 177.70 L318.52 177.90 L318.43 178.10 L318.34 178.30 L318.25 178.50 L318.16 178.70 L318.08 178.90 L318.00 179.10 L317.92 179.30 L317.84 179.50 L317.75 179.70 L317.66 179.90 L317.57 180.10 L317.48 180.30 L317.39 180.50 L317.30 180.70 L317.20 180.90 L317.11 181.10 L317.02 181.30 L316.93 181.50 L316.84 181.70 L316.75 181.90 L316.66 182.10 L316.58 182.30 L316.50 182.50 L316.42 182.70 L316.35 182.90 L316.28 183.10 L316.21 183.30 L316.15 183.50 L316.09 183.70 L316.04 183.90 L315.99 184.10 L315.94 184.30 L315.89 184.50 L315.85 184.70 L315.81 184.90 L315.77 185.10 L315.73 185.30 L315.70 185.50 L315.67 185.70 L315.63 185.90 L315.60 186.10 L315.57 186.30 L315.54 186.50 L315.51 186.70 L315.48 186.90 L315.46 187.10 L315.43 187.30 L315.40 187.50 L315.37 187.70 L315.34 187.90 L315.31 188.10 L315.28 188.30 L315.25 188.50 L315.22 188.71 L315.18 188.92 L315.15 189.12 L315.12 189.33 L315.10 189.54 L315.07 189.75 L315.04 189.96 L315.02 190.17 L315.00 190.38 L314.98 190.58 L314.96 190.79 L314.95 191.00 L313.55 191.00 L313.54 190.79 L313.52 190.58 L313.50 190.38 L313.48 190.17 L313.46 189.96 L313.43 189.75 L313.40 189.54 L313.38 189.33 L313.35 189.12 L313.32 188.92 L313.28 188.71 L313.25 188.50 L313.22 188.30 L313.19 188.10 L313.16 187.90 L313.13 187.70 L313.10 187.50 L313.07 187.30 L313.04 187.10 L313.02 186.90 L312.99 186.70 L312.96 186.50 L312.93 186.30 L312.90 186.10 L312.87 185.90 L312.83 185.70 L312.80 185.50 L312.77 185.30 L312.73 185.10 L312.69 184.90 L312.65 184.70 L312.61 184.50 L312.56 184.30 L312.51 184.10 L312.46 183.90 L312.41 183.70 L312.35 183.50 L312.29 183.30 L312.22 183.10 L312.15 182.90 L312.08 182.70 L312.00 182.50 L311.92 182.30 L311.84 182.10 L311.75 181.90 L311.66 181.70 L311.57 181.50 L311.48 181.30 L311.39 181.10 L311.30 180.90 L311.20 180.70 L311.11 180.50 L311.02 180.30 L310.93 180.10 L310.84 179.90 L310.75 179.70 L310.66 179.50 L310.58 179.30 L310.50 179.10 L310.42 178.90 L310.34 178.70 L310.25 178.50 L310.16 178.30 L310.07 178.10 L309.98 177.90 L309.89 177.70 L309.80 177.50 L309.71 177.30 L309.62 177.10 L309.53 176.90 L309.44 176.70 L309.35 176.50 L309.27 176.30 L309.19 176.10 L309.11 175.90 L309.04 175.70 L308.97 175.50 L308.91 175.30 L308.85 175.10 L308.79 174.90 L308.75 174.70 L308.71 174.50 L308.68 174.30 L308.65 174.10 L308.65 173.89 L308.66 173.69 L308.67 173.48 L308.68 173.27 L308.70 173.06 L308.73 172.86 L308.75 172.65 L308.78 172.44 L308.82 172.24 L308.86 172.03 L308.90 171.82 L308.94 171.61 L308.99 171.41 L309.05 171.20 L309.10 170.99 L309.16 170.79 L309.22 170.58 L309.29 170.37 L309.36 170.16 L309.43 169.96 L309.50 169.75 L309.58 169.55 L309.66 169.35 L309.74 169.15 L309.83 168.95 L309.93 168.75 L310.03 168.55 L310.13 168.35 L310.24 168.15 L310.34 167.95 L310.45 167.75 L310.56 167.55 L310.68 167.35 L310.79 167.15 L310.90 166.95 L311.02 166.75 L311.13 166.55 L311.24 166.35 L311.35 166.15 L311.46 165.95 L311.57 165.75 L311.67 165.55 L311.77 165.35 L311.87 165.15 L311.96 164.95 L312.05 164.75 L312.13 164.55 L312.21 164.34 L312.29 164.14 L312.36 163.94 L312.43 163.73 L312.49 163.53 L312.56 163.33 L312.61 163.12 L312.67 162.92 L312.73 162.72 L312.78 162.52 L312.83 162.31 L312.89 162.11 L312.94 161.91 L313.00 161.70 L313.05 161.50 L313.10 161.30 L313.16 161.10 L313.22 160.90 L313.27 160.70 L313.33 160.50 L313.38 160.30 L313.43 160.10 L313.48 159.90 L313.53 159.70 L313.58 159.50 L313.62 159.30 L313.66 159.10 L313.69 158.90 L313.72 158.70 L313.75 158.50Z" fill="#134F86"/>
<rect x="313.75" y="190.70" width="1.00" height="5.90" fill="url(#g11)"/>
<path d="M311.80 200.75 Q313.66 199.71 313.85 196.60 L314.65 196.60 Q314.84 199.71 316.70 200.75Z" fill="#134F86"/>
<line x1="289.25" y1="144.20" x2="289.25" y2="203.70" stroke="#1a1a1a" stroke-width="1.2"/>
<line x1="288.65" y1="203.10" x2="322.75" y2="203.10" stroke="#1a1a1a" stroke-width="1.2"/>
<line x1="286.05" y1="159.40" x2="289.25" y2="159.40" stroke="#222" stroke-width="1.15"/>
<text x="282.55" y="162.40" font-size="8.6" stroke="#222" stroke-width="0.2" text-anchor="end" fill="#222" textLength="14.40" lengthAdjust="spacingAndGlyphs">10.0</text>
<line x1="286.05" y1="180.20" x2="289.25" y2="180.20" stroke="#222" stroke-width="1.15"/>
<text x="282.55" y="183.20" font-size="8.6" stroke="#222" stroke-width="0.2" text-anchor="end" fill="#222" textLength="10.20" lengthAdjust="spacingAndGlyphs">1.0</text>
<line x1="286.05" y1="200.60" x2="289.25" y2="200.60" stroke="#222" stroke-width="1.15"/>
<text x="282.55" y="203.60" font-size="8.6" stroke="#222" stroke-width="0.2" text-anchor="end" fill="#222" textLength="10.40" lengthAdjust="spacingAndGlyphs">0.1</text>
<line x1="298.60" y1="203.10" x2="298.60" y2="206.30" stroke="#222" stroke-width="1.1"/>
<line x1="314.25" y1="203.10" x2="314.25" y2="206.30" stroke="#222" stroke-width="1.1"/>
<text x="0.00" y="0.00" font-size="8.4" stroke="#222" stroke-width="0.2" text-anchor="end" fill="#222" textLength="27.40" lengthAdjust="spacingAndGlyphs" transform="translate(298.60,213.00) rotate(-45)">Control</text>
<text x="0.00" y="0.00" font-size="8.4" stroke="#222" stroke-width="0.2" text-anchor="end" fill="#222" textLength="31.00" lengthAdjust="spacingAndGlyphs" transform="translate(314.25,213.00) rotate(-45)">Low VWF</text>
<text x="368.00" y="136.40" font-size="7.2" font-weight="bold" text-anchor="middle" fill="#111">Cluster 6</text>
<text x="368.00" y="144.70" font-size="7.2" font-weight="bold" font-style="italic" text-anchor="middle" fill="#111">VWF</text>
<path d="M361.90 155.00 L361.92 155.20 L361.94 155.41 L361.97 155.61 L362.00 155.82 L362.03 156.02 L362.07 156.23 L362.11 156.43 L362.15 156.64 L362.20 156.84 L362.25 157.05 L362.30 157.25 L362.36 157.45 L362.41 157.65 L362.47 157.85 L362.52 158.05 L362.58 158.25 L362.64 158.45 L362.69 158.65 L362.75 158.85 L362.81 159.05 L362.87 159.25 L362.93 159.45 L362.99 159.65 L363.05 159.85 L363.12 160.05 L363.18 160.25 L363.25 160.45 L363.31 160.65 L363.38 160.85 L363.45 161.05 L363.52 161.25 L363.59 161.45 L363.67 161.65 L363.74 161.85 L363.82 162.05 L363.90 162.25 L363.98 162.45 L364.07 162.65 L364.15 162.85 L364.25 163.05 L364.34 163.25 L364.43 163.45 L364.53 163.65 L364.63 163.85 L364.73 164.05 L364.83 164.25 L364.93 164.45 L365.04 164.65 L365.14 164.85 L365.24 165.05 L365.34 165.25 L365.45 165.45 L365.55 165.65 L365.65 165.85 L365.75 166.05 L365.85 166.25 L365.94 166.45 L366.03 166.65 L366.13 166.85 L366.21 167.05 L366.30 167.25 L366.39 167.45 L366.47 167.65 L366.57 167.85 L366.66 168.05 L366.76 168.25 L366.85 168.45 L366.95 168.65 L367.05 168.85 L367.14 169.05 L367.24 169.25 L367.33 169.45 L367.42 169.65 L367.51 169.85 L367.59 170.05 L367.67 170.25 L367.74 170.45 L367.81 170.65 L367.87 170.85 L367.93 171.05 L367.98 171.25 L368.02 171.45 L368.06 171.65 L368.08 171.85 L368.09 172.05 L368.10 172.25 L368.09 172.45 L368.06 172.65 L368.02 172.85 L367.98 173.05 L367.92 173.25 L367.85 173.45 L367.78 173.65 L367.70 173.85 L367.61 174.05 L367.52 174.25 L367.42 174.45 L367.32 174.65 L367.21 174.85 L367.10 175.05 L366.99 175.25 L366.87 175.45 L366.76 175.65 L366.64 175.85 L366.53 176.05 L366.42 176.25 L366.31 176.45 L366.20 176.65 L366.09 176.85 L365.99 177.05 L365.90 177.25 L365.81 177.45 L365.71 177.65 L365.61 177.85 L365.51 178.05 L365.41 178.25 L365.31 178.45 L365.20 178.65 L365.10 178.85 L364.99 179.05 L364.89 179.25 L364.78 179.45 L364.68 179.65 L364.57 179.85 L364.47 180.05 L364.37 180.25 L364.27 180.45 L364.17 180.65 L364.08 180.85 L363.98 181.05 L363.89 181.25 L363.81 181.45 L363.72 181.65 L363.65 181.85 L363.57 182.05 L363.50 182.25 L363.43 182.45 L363.37 182.65 L363.31 182.85 L363.26 183.05 L363.21 183.25 L363.16 183.45 L363.11 183.65 L363.07 183.85 L363.02 184.05 L362.99 184.25 L362.95 184.45 L362.91 184.65 L362.88 184.85 L362.84 185.05 L362.81 185.25 L362.78 185.45 L362.75 185.65 L362.72 185.85 L362.69 186.05 L362.66 186.25 L362.63 186.45 L362.60 186.65 L362.57 186.85 L362.53 187.05 L362.50 187.25 L362.46 187.46 L362.43 187.67 L362.40 187.88 L362.37 188.08 L362.33 188.29 L362.30 188.50 L362.28 188.71 L362.25 188.92 L362.22 189.12 L362.19 189.33 L362.17 189.54 L362.14 189.75 L362.12 189.96 L362.09 190.17 L362.07 190.38 L362.05 190.58 L362.02 190.79 L362.00 191.00 L361.98 191.21 L361.96 191.42 L361.93 191.62 L361.91 191.83 L361.89 192.04 L361.87 192.25 L361.85 192.46 L361.84 192.67 L361.82 192.88 L361.80 193.08 L361.79 193.29 L361.77 193.50 L361.76 193.71 L361.74 193.92 L361.73 194.12 L361.72 194.33 L361.71 194.54 L361.70 194.75 L360.30 194.75 L360.29 194.54 L360.28 194.33 L360.27 194.12 L360.26 193.92 L360.24 193.71 L360.23 193.50 L360.21 193.29 L360.20 193.08 L360.18 192.88 L360.16 192.67 L360.15 192.46 L360.13 192.25 L360.11 192.04 L360.09 191.83 L360.07 191.62 L360.04 191.42 L360.02 191.21 L360.00 191.00 L359.98 190.79 L359.95 190.58 L359.93 190.38 L359.91 190.17 L359.88 189.96 L359.86 189.75 L359.83 189.54 L359.81 189.33 L359.78 189.12 L359.75 188.92 L359.72 188.71 L359.70 188.50 L359.67 188.29 L359.63 188.08 L359.60 187.88 L359.57 187.67 L359.54 187.46 L359.50 187.25 L359.47 187.05 L359.43 186.85 L359.40 186.65 L359.37 186.45 L359.34 186.25 L359.31 186.05 L359.28 185.85 L359.25 185.65 L359.22 185.45 L359.19 185.25 L359.16 185.05 L359.12 184.85 L359.09 184.65 L359.05 184.45 L359.01 184.25 L358.98 184.05 L358.93 183.85 L358.89 183.65 L358.84 183.45 L358.79 183.25 L358.74 183.05 L358.69 182.85 L358.63 182.65 L358.57 182.45 L358.50 182.25 L358.43 182.05 L358.35 181.85 L358.28 181.65 L358.19 181.45 L358.11 181.25 L358.02 181.05 L357.92 180.85 L357.83 180.65 L357.73 180.45 L357.63 180.25 L357.53 180.05 L357.43 179.85 L357.32 179.65 L357.22 179.45 L357.11 179.25 L357.01 179.05 L356.90 178.85 L356.80 178.65 L356.69 178.45 L356.59 178.25 L356.49 178.05 L356.39 177.85 L356.29 177.65 L356.19 177.45 L356.10 177.25 L356.01 177.05 L355.91 176.85 L355.80 176.65 L355.69 176.45 L355.58 176.25 L355.47 176.05 L355.36 175.85 L355.24 175.65 L355.13 175.45 L355.01 175.25 L354.90 175.05 L354.79 174.85 L354.68 174.65 L354.58 174.45 L354.48 174.25 L354.39 174.05 L354.30 173.85 L354.22 173.65 L354.15 173.45 L354.08 173.25 L354.02 173.05 L353.98 172.85 L353.94 172.65 L353.91 172.45 L353.90 172.25 L353.91 172.05 L353.92 171.85 L353.94 171.65 L353.98 171.45 L354.02 171.25 L354.07 171.05 L354.13 170.85 L354.19 170.65 L354.26 170.45 L354.33 170.25 L354.41 170.05 L354.49 169.85 L354.58 169.65 L354.67 169.45 L354.76 169.25 L354.86 169.05 L354.95 168.85 L355.05 168.65 L355.15 168.45 L355.24 168.25 L355.34 168.05 L355.43 167.85 L355.53 167.65 L355.61 167.45 L355.70 167.25 L355.79 167.05 L355.87 166.85 L355.97 166.65 L356.06 166.45 L356.15 166.25 L356.25 166.05 L356.35 165.85 L356.45 165.65 L356.55 165.45 L356.66 165.25 L356.76 165.05 L356.86 164.85 L356.96 164.65 L357.07 164.45 L357.17 164.25 L357.27 164.05 L357.37 163.85 L357.47 163.65 L357.57 163.45 L357.66 163.25 L357.75 163.05 L357.85 162.85 L357.93 162.65 L358.02 162.45 L358.10 162.25 L358.18 162.05 L358.26 161.85 L358.33 161.65 L358.41 161.45 L358.48 161.25 L358.55 161.05 L358.62 160.85 L358.69 160.65 L358.75 160.45 L358.82 160.25 L358.88 160.05 L358.95 159.85 L359.01 159.65 L359.07 159.45 L359.13 159.25 L359.19 159.05 L359.25 158.85 L359.31 158.65 L359.36 158.45 L359.42 158.25 L359.48 158.05 L359.53 157.85 L359.59 157.65 L359.64 157.45 L359.70 157.25 L359.75 157.05 L359.80 156.84 L359.85 156.64 L359.89 156.43 L359.93 156.23 L359.97 156.02 L360.00 155.82 L360.03 155.61 L360.06 155.41 L360.08 155.20 L360.10 155.00Z" fill="#C8102E"/>
<path d="M360.58 151.00 L361.42 151.00 L361.70 155.30 L360.30 155.30Z" fill="url(#g12)"/>
<rect x="360.50" y="194.45" width="1.00" height="4.35" fill="url(#g13)"/>
<path d="M359.90 201.00 Q360.74 200.45 360.60 198.80 L361.40 198.80 Q361.26 200.45 362.10 201.00Z" fill="#C8102E"/>
<path d="M377.80 161.00 L377.85 161.21 L377.91 161.42 L377.99 161.62 L378.07 161.83 L378.16 162.04 L378.25 162.25 L378.35 162.46 L378.46 162.67 L378.57 162.88 L378.68 163.08 L378.79 163.29 L378.90 163.50 L379.01 163.70 L379.12 163.90 L379.24 164.10 L379.36 164.30 L379.48 164.50 L379.61 164.70 L379.73 164.90 L379.86 165.10 L379.99 165.30 L380.12 165.50 L380.25 165.70 L380.38 165.90 L380.51 166.10 L380.63 166.30 L380.76 166.50 L380.88 166.70 L381.00 166.90 L381.12 167.10 L381.23 167.30 L381.34 167.50 L381.44 167.70 L381.54 167.90 L381.63 168.10 L381.72 168.30 L381.80 168.50 L381.88 168.71 L381.96 168.91 L382.03 169.12 L382.10 169.33 L382.17 169.54 L382.24 169.74 L382.31 169.95 L382.37 170.16 L382.43 170.37 L382.49 170.57 L382.55 170.78 L382.60 170.99 L382.65 171.20 L382.69 171.40 L382.74 171.61 L382.78 171.82 L382.82 172.03 L382.85 172.23 L382.88 172.44 L382.91 172.65 L382.93 172.86 L382.95 173.06 L382.97 173.27 L382.98 173.48 L382.99 173.69 L383.00 173.89 L383.00 174.10 L382.98 174.30 L382.96 174.50 L382.93 174.71 L382.90 174.91 L382.86 175.11 L382.81 175.31 L382.76 175.51 L382.70 175.71 L382.64 175.92 L382.58 176.12 L382.51 176.32 L382.44 176.52 L382.36 176.72 L382.28 176.93 L382.20 177.13 L382.12 177.33 L382.04 177.53 L381.95 177.73 L381.87 177.93 L381.78 178.14 L381.69 178.34 L381.61 178.54 L381.52 178.74 L381.43 178.94 L381.35 179.14 L381.26 179.35 L381.18 179.55 L381.10 179.75 L381.02 179.95 L380.93 180.15 L380.85 180.35 L380.76 180.55 L380.66 180.75 L380.57 180.95 L380.47 181.15 L380.37 181.35 L380.27 181.55 L380.16 181.75 L380.06 181.95 L379.96 182.15 L379.86 182.35 L379.76 182.55 L379.66 182.75 L379.56 182.95 L379.46 183.15 L379.37 183.35 L379.28 183.55 L379.19 183.75 L379.10 183.95 L379.02 184.15 L378.94 184.35 L378.87 184.55 L378.80 184.75 L378.74 184.95 L378.67 185.15 L378.62 185.35 L378.56 185.55 L378.51 185.75 L378.46 185.95 L378.41 186.15 L378.37 186.35 L378.32 186.55 L378.28 186.75 L378.24 186.95 L378.21 187.15 L378.17 187.35 L378.14 187.55 L378.10 187.75 L378.07 187.95 L378.04 188.15 L378.01 188.35 L377.98 188.55 L377.95 188.75 L377.92 188.95 L377.89 189.15 L377.86 189.35 L377.83 189.55 L377.80 189.75 L377.77 189.95 L377.74 190.15 L377.71 190.35 L377.69 190.55 L377.66 190.75 L377.63 190.95 L377.61 191.15 L377.59 191.35 L377.56 191.55 L377.54 191.75 L377.52 191.95 L377.50 192.15 L377.48 192.35 L377.46 192.55 L377.44 192.75 L377.42 192.95 L377.41 193.15 L377.39 193.35 L377.37 193.55 L377.36 193.75 L377.35 193.95 L377.33 194.15 L377.32 194.35 L377.31 194.55 L377.30 194.75 L375.90 194.75 L375.89 194.55 L375.88 194.35 L375.87 194.15 L375.85 193.95 L375.84 193.75 L375.83 193.55 L375.81 193.35 L375.79 193.15 L375.78 192.95 L375.76 192.75 L375.74 192.55 L375.72 192.35 L375.70 192.15 L375.68 191.95 L375.66 191.75 L375.64 191.55 L375.61 191.35 L375.59 191.15 L375.57 190.95 L375.54 190.75 L375.51 190.55 L375.49 190.35 L375.46 190.15 L375.43 189.95 L375.40 189.75 L375.37 189.55 L375.34 189.35 L375.31 189.15 L375.28 188.95 L375.25 188.75 L375.22 188.55 L375.19 188.35 L375.16 188.15 L375.13 187.95 L375.10 187.75 L375.06 187.55 L375.03 187.35 L374.99 187.15 L374.96 186.95 L374.92 186.75 L374.88 186.55 L374.83 186.35 L374.79 186.15 L374.74 185.95 L374.69 185.75 L374.64 185.55 L374.58 185.35 L374.53 185.15 L374.46 184.95 L374.40 184.75 L374.33 184.55 L374.26 184.35 L374.18 184.15 L374.10 183.95 L374.01 183.75 L373.92 183.55 L373.83 183.35 L373.74 183.15 L373.64 182.95 L373.54 182.75 L373.44 182.55 L373.34 182.35 L373.24 182.15 L373.14 181.95 L373.04 181.75 L372.93 181.55 L372.83 181.35 L372.73 181.15 L372.63 180.95 L372.54 180.75 L372.44 180.55 L372.35 180.35 L372.27 180.15 L372.18 179.95 L372.10 179.75 L372.02 179.55 L371.94 179.35 L371.85 179.14 L371.77 178.94 L371.68 178.74 L371.59 178.54 L371.51 178.34 L371.42 178.14 L371.33 177.93 L371.25 177.73 L371.16 177.53 L371.08 177.33 L371.00 177.13 L370.92 176.93 L370.84 176.72 L370.76 176.52 L370.69 176.32 L370.62 176.12 L370.56 175.92 L370.50 175.71 L370.44 175.51 L370.39 175.31 L370.34 175.11 L370.30 174.91 L370.27 174.71 L370.24 174.50 L370.22 174.30 L370.20 174.10 L370.20 173.89 L370.21 173.69 L370.22 173.48 L370.23 173.27 L370.25 173.06 L370.27 172.86 L370.29 172.65 L370.32 172.44 L370.35 172.23 L370.38 172.03 L370.42 171.82 L370.46 171.61 L370.51 171.40 L370.55 171.20 L370.60 170.99 L370.65 170.78 L370.71 170.57 L370.77 170.37 L370.83 170.16 L370.89 169.95 L370.96 169.74 L371.03 169.54 L371.10 169.33 L371.17 169.12 L371.24 168.91 L371.32 168.71 L371.40 168.50 L371.48 168.30 L371.57 168.10 L371.66 167.90 L371.76 167.70 L371.86 167.50 L371.97 167.30 L372.08 167.10 L372.20 166.90 L372.32 166.70 L372.44 166.50 L372.57 166.30 L372.69 166.10 L372.82 165.90 L372.95 165.70 L373.08 165.50 L373.21 165.30 L373.34 165.10 L373.47 164.90 L373.59 164.70 L373.72 164.50 L373.84 164.30 L373.96 164.10 L374.08 163.90 L374.19 163.70 L374.30 163.50 L374.41 163.29 L374.52 163.08 L374.63 162.88 L374.74 162.67 L374.85 162.46 L374.95 162.25 L375.04 162.04 L375.13 161.83 L375.21 161.62 L375.29 161.42 L375.35 161.21 L375.40 161.00Z" fill="#134F86"/>
<path d="M376.18 156.60 L377.02 156.60 L377.30 161.30 L375.90 161.30Z" fill="url(#g14)"/>
<rect x="376.10" y="194.45" width="1.00" height="2.80" fill="url(#g15)"/>
<path d="M373.80 200.75 Q375.93 199.88 376.20 197.25 L377.00 197.25 Q377.27 199.88 379.40 200.75Z" fill="#134F86"/>
<line x1="351.50" y1="144.20" x2="351.50" y2="203.70" stroke="#1a1a1a" stroke-width="1.2"/>
<line x1="350.90" y1="203.10" x2="385.00" y2="203.10" stroke="#1a1a1a" stroke-width="1.2"/>
<line x1="348.30" y1="165.20" x2="351.50" y2="165.20" stroke="#222" stroke-width="1.15"/>
<text x="344.80" y="168.20" font-size="8.6" stroke="#222" stroke-width="0.2" text-anchor="end" fill="#222" textLength="14.40" lengthAdjust="spacingAndGlyphs">10.0</text>
<line x1="348.30" y1="183.00" x2="351.50" y2="183.00" stroke="#222" stroke-width="1.15"/>
<text x="344.80" y="186.00" font-size="8.6" stroke="#222" stroke-width="0.2" text-anchor="end" fill="#222" textLength="10.20" lengthAdjust="spacingAndGlyphs">1.0</text>
<line x1="348.30" y1="200.70" x2="351.50" y2="200.70" stroke="#222" stroke-width="1.15"/>
<text x="344.80" y="203.70" font-size="8.6" stroke="#222" stroke-width="0.2" text-anchor="end" fill="#222" textLength="10.40" lengthAdjust="spacingAndGlyphs">0.1</text>
<line x1="361.00" y1="203.10" x2="361.00" y2="206.30" stroke="#222" stroke-width="1.1"/>
<line x1="376.60" y1="203.10" x2="376.60" y2="206.30" stroke="#222" stroke-width="1.1"/>
<text x="0.00" y="0.00" font-size="8.4" stroke="#222" stroke-width="0.2" text-anchor="end" fill="#222" textLength="27.40" lengthAdjust="spacingAndGlyphs" transform="translate(361.00,213.00) rotate(-45)">Control</text>
<text x="0.00" y="0.00" font-size="8.4" stroke="#222" stroke-width="0.2" text-anchor="end" fill="#222" textLength="31.00" lengthAdjust="spacingAndGlyphs" transform="translate(376.60,213.00) rotate(-45)">Low VWF</text>
<text x="431.00" y="136.40" font-size="7.2" font-weight="bold" text-anchor="middle" fill="#111">Cluster 7</text>
<text x="431.00" y="144.70" font-size="7.2" font-weight="bold" font-style="italic" text-anchor="middle" fill="#111">VWF</text>
<path d="M423.90 151.60 L423.93 151.80 L423.96 152.00 L424.00 152.20 L424.03 152.40 L424.07 152.60 L424.11 152.80 L424.16 153.00 L424.21 153.20 L424.26 153.40 L424.31 153.60 L424.37 153.80 L424.43 154.00 L424.50 154.20 L424.57 154.40 L424.65 154.60 L424.73 154.80 L424.81 155.00 L424.90 155.20 L425.00 155.40 L425.11 155.61 L425.24 155.81 L425.39 156.02 L425.55 156.23 L425.72 156.43 L425.89 156.64 L426.07 156.85 L426.25 157.05 L426.43 157.26 L426.60 157.47 L426.77 157.67 L426.92 157.88 L427.07 158.09 L427.19 158.29 L427.30 158.50 L427.39 158.71 L427.48 158.92 L427.56 159.12 L427.63 159.33 L427.70 159.54 L427.76 159.75 L427.81 159.96 L427.86 160.17 L427.91 160.38 L427.95 160.58 L427.99 160.79 L428.02 161.00 L428.05 161.21 L428.09 161.42 L428.11 161.62 L428.14 161.83 L428.17 162.04 L428.20 162.25 L428.23 162.46 L428.25 162.66 L428.27 162.87 L428.29 163.08 L428.31 163.29 L428.33 163.49 L428.34 163.70 L428.35 163.91 L428.36 164.11 L428.37 164.32 L428.38 164.53 L428.38 164.74 L428.39 164.94 L428.39 165.15 L428.39 165.36 L428.40 165.56 L428.40 165.77 L428.40 165.98 L428.40 166.19 L428.40 166.39 L428.40 166.60 L428.36 166.80 L428.32 167.00 L428.26 167.20 L428.20 167.40 L428.14 167.60 L428.07 167.80 L427.99 168.00 L427.91 168.20 L427.83 168.40 L427.74 168.60 L427.65 168.80 L427.56 169.00 L427.47 169.20 L427.38 169.40 L427.29 169.60 L427.20 169.80 L427.11 170.00 L427.02 170.20 L426.94 170.40 L426.85 170.60 L426.77 170.80 L426.70 171.00 L426.63 171.20 L426.55 171.40 L426.48 171.60 L426.41 171.80 L426.33 172.00 L426.26 172.20 L426.18 172.40 L426.11 172.60 L426.04 172.80 L425.96 173.00 L425.89 173.20 L425.82 173.40 L425.75 173.60 L425.68 173.80 L425.61 174.00 L425.54 174.20 L425.47 174.40 L425.41 174.60 L425.34 174.80 L425.28 175.00 L425.22 175.20 L425.16 175.40 L425.11 175.60 L425.05 175.80 L425.00 176.00 L424.95 176.20 L424.90 176.40 L424.86 176.60 L424.82 176.80 L424.78 177.00 L424.75 177.20 L424.71 177.40 L424.68 177.60 L424.65 177.80 L424.62 178.00 L424.59 178.20 L424.56 178.40 L424.54 178.60 L424.51 178.80 L424.49 179.00 L424.46 179.20 L424.43 179.40 L424.41 179.60 L424.38 179.80 L424.36 180.00 L424.33 180.20 L424.30 180.40 L424.27 180.61 L424.24 180.81 L424.21 181.02 L424.18 181.23 L424.16 181.43 L424.13 181.64 L424.10 181.85 L424.07 182.05 L424.05 182.26 L424.02 182.47 L424.00 182.67 L423.97 182.88 L423.95 183.09 L423.92 183.29 L423.90 183.50 L423.88 183.71 L423.85 183.92 L423.83 184.12 L423.80 184.33 L423.78 184.54 L423.75 184.75 L423.73 184.96 L423.71 185.17 L423.69 185.38 L423.68 185.58 L423.66 185.79 L423.65 186.00 L422.55 186.00 L422.54 185.79 L422.52 185.58 L422.51 185.38 L422.49 185.17 L422.47 184.96 L422.45 184.75 L422.42 184.54 L422.40 184.33 L422.37 184.12 L422.35 183.92 L422.32 183.71 L422.30 183.50 L422.28 183.29 L422.25 183.09 L422.23 182.88 L422.20 182.67 L422.18 182.47 L422.15 182.26 L422.13 182.05 L422.10 181.85 L422.07 181.64 L422.04 181.43 L422.02 181.23 L421.99 181.02 L421.96 180.81 L421.93 180.61 L421.90 180.40 L421.87 180.20 L421.84 180.00 L421.82 179.80 L421.79 179.60 L421.77 179.40 L421.74 179.20 L421.71 179.00 L421.69 178.80 L421.66 178.60 L421.64 178.40 L421.61 178.20 L421.58 178.00 L421.55 177.80 L421.52 177.60 L421.49 177.40 L421.45 177.20 L421.42 177.00 L421.38 176.80 L421.34 176.60 L421.30 176.40 L421.25 176.20 L421.20 176.00 L421.15 175.80 L421.09 175.60 L421.04 175.40 L420.98 175.20 L420.92 175.00 L420.86 174.80 L420.79 174.60 L420.73 174.40 L420.66 174.20 L420.59 174.00 L420.52 173.80 L420.45 173.60 L420.38 173.40 L420.31 173.20 L420.24 173.00 L420.16 172.80 L420.09 172.60 L420.02 172.40 L419.94 172.20 L419.87 172.00 L419.79 171.80 L419.72 171.60 L419.65 171.40 L419.57 171.20 L419.50 171.00 L419.43 170.80 L419.35 170.60 L419.26 170.40 L419.18 170.20 L419.09 170.00 L419.00 169.80 L418.91 169.60 L418.82 169.40 L418.73 169.20 L418.64 169.00 L418.55 168.80 L418.46 168.60 L418.37 168.40 L418.29 168.20 L418.21 168.00 L418.13 167.80 L418.06 167.60 L418.00 167.40 L417.94 167.20 L417.88 167.00 L417.84 166.80 L417.80 166.60 L417.80 166.39 L417.80 166.19 L417.80 165.98 L417.80 165.77 L417.80 165.56 L417.81 165.36 L417.81 165.15 L417.81 164.94 L417.82 164.74 L417.82 164.53 L417.83 164.32 L417.84 164.11 L417.85 163.91 L417.86 163.70 L417.87 163.49 L417.89 163.29 L417.91 163.08 L417.93 162.87 L417.95 162.66 L417.97 162.46 L418.00 162.25 L418.03 162.04 L418.06 161.83 L418.09 161.62 L418.11 161.42 L418.15 161.21 L418.18 161.00 L418.21 160.79 L418.25 160.58 L418.29 160.38 L418.34 160.17 L418.39 159.96 L418.44 159.75 L418.50 159.54 L418.57 159.33 L418.64 159.12 L418.72 158.92 L418.81 158.71 L418.90 158.50 L419.01 158.29 L419.13 158.09 L419.28 157.88 L419.43 157.67 L419.60 157.47 L419.77 157.26 L419.95 157.05 L420.13 156.85 L420.31 156.64 L420.48 156.43 L420.65 156.23 L420.81 156.02 L420.96 155.81 L421.09 155.61 L421.20 155.40 L421.30 155.20 L421.39 155.00 L421.47 154.80 L421.55 154.60 L421.63 154.40 L421.70 154.20 L421.77 154.00 L421.83 153.80 L421.89 153.60 L421.94 153.40 L421.99 153.20 L422.04 153.00 L422.09 152.80 L422.13 152.60 L422.17 152.40 L422.20 152.20 L422.24 152.00 L422.27 151.80 L422.30 151.60Z" fill="#C8102E"/>
<rect x="422.60" y="185.70" width="1.00" height="12.80" fill="url(#g16)"/>
<path d="M422.10 201.00 Q422.86 200.38 422.70 198.50 L423.50 198.50 Q423.34 200.38 424.10 201.00Z" fill="#C8102E"/>
<path d="M438.60 151.60 L438.64 151.80 L438.69 152.00 L438.74 152.20 L438.79 152.40 L438.85 152.60 L438.91 152.80 L438.97 153.00 L439.04 153.20 L439.11 153.40 L439.19 153.60 L439.28 153.80 L439.37 154.00 L439.46 154.20 L439.57 154.40 L439.68 154.60 L439.80 154.80 L439.92 155.00 L440.06 155.20 L440.20 155.40 L440.36 155.61 L440.54 155.81 L440.73 156.02 L440.94 156.22 L441.16 156.43 L441.39 156.63 L441.63 156.84 L441.87 157.04 L442.12 157.25 L442.36 157.46 L442.61 157.66 L442.85 157.87 L443.08 158.07 L443.31 158.28 L443.53 158.48 L443.74 158.69 L443.93 158.89 L444.10 159.10 L444.25 159.31 L444.38 159.52 L444.48 159.73 L444.56 159.94 L444.62 160.16 L444.66 160.37 L444.68 160.58 L444.70 160.79 L444.70 161.00 L444.65 161.20 L444.60 161.40 L444.54 161.60 L444.48 161.80 L444.41 162.00 L444.34 162.20 L444.26 162.40 L444.18 162.60 L444.10 162.80 L444.01 163.00 L443.92 163.20 L443.83 163.40 L443.74 163.60 L443.64 163.80 L443.54 164.00 L443.45 164.20 L443.35 164.40 L443.25 164.60 L443.16 164.80 L443.06 165.00 L442.96 165.20 L442.87 165.40 L442.78 165.60 L442.69 165.80 L442.60 166.00 L442.51 166.20 L442.42 166.40 L442.33 166.60 L442.24 166.80 L442.15 167.00 L442.06 167.20 L441.96 167.40 L441.87 167.60 L441.77 167.80 L441.68 168.00 L441.58 168.20 L441.49 168.40 L441.39 168.60 L441.30 168.80 L441.21 169.00 L441.12 169.20 L441.03 169.40 L440.94 169.60 L440.86 169.80 L440.77 170.00 L440.69 170.20 L440.62 170.40 L440.54 170.60 L440.47 170.80 L440.40 171.00 L440.33 171.20 L440.27 171.40 L440.21 171.60 L440.15 171.80 L440.09 172.00 L440.04 172.20 L439.98 172.40 L439.93 172.60 L439.88 172.80 L439.83 173.00 L439.78 173.20 L439.74 173.40 L439.69 173.60 L439.65 173.80 L439.61 174.00 L439.57 174.20 L439.53 174.40 L439.49 174.60 L439.45 174.80 L439.42 175.00 L439.38 175.20 L439.35 175.40 L439.32 175.60 L439.28 175.80 L439.25 176.00 L439.22 176.20 L439.19 176.40 L439.16 176.60 L439.14 176.80 L439.11 177.00 L439.09 177.20 L439.07 177.40 L439.05 177.60 L439.04 177.80 L439.02 178.00 L439.00 178.20 L438.99 178.40 L438.97 178.60 L438.96 178.80 L438.94 179.00 L438.93 179.20 L438.92 179.40 L438.90 179.60 L438.89 179.80 L438.88 180.00 L438.86 180.20 L438.85 180.40 L438.83 180.60 L438.82 180.80 L438.80 181.00 L438.78 181.20 L438.76 181.40 L438.74 181.60 L438.73 181.80 L438.71 182.00 L438.69 182.20 L438.67 182.40 L438.65 182.60 L438.63 182.80 L438.61 183.00 L438.60 183.20 L438.58 183.40 L438.57 183.60 L438.56 183.80 L438.55 184.00 L437.45 184.00 L437.44 183.80 L437.43 183.60 L437.42 183.40 L437.40 183.20 L437.39 183.00 L437.37 182.80 L437.35 182.60 L437.33 182.40 L437.31 182.20 L437.29 182.00 L437.27 181.80 L437.26 181.60 L437.24 181.40 L437.22 181.20 L437.20 181.00 L437.18 180.80 L437.17 180.60 L437.15 180.40 L437.14 180.20 L437.12 180.00 L437.11 179.80 L437.10 179.60 L437.08 179.40 L437.07 179.20 L437.06 179.00 L437.04 178.80 L437.03 178.60 L437.01 178.40 L437.00 178.20 L436.98 178.00 L436.96 177.80 L436.95 177.60 L436.93 177.40 L436.91 177.20 L436.89 177.00 L436.86 176.80 L436.84 176.60 L436.81 176.40 L436.78 176.20 L436.75 176.00 L436.72 175.80 L436.68 175.60 L436.65 175.40 L436.62 175.20 L436.58 175.00 L436.55 174.80 L436.51 174.60 L436.47 174.40 L436.43 174.20 L436.39 174.00 L436.35 173.80 L436.31 173.60 L436.26 173.40 L436.22 173.20 L436.17 173.00 L436.12 172.80 L436.07 172.60 L436.02 172.40 L435.96 172.20 L435.91 172.00 L435.85 171.80 L435.79 171.60 L435.73 171.40 L435.67 171.20 L435.60 171.00 L435.53 170.80 L435.46 170.60 L435.38 170.40 L435.31 170.20 L435.23 170.00 L435.14 169.80 L435.06 169.60 L434.97 169.40 L434.88 169.20 L434.79 169.00 L434.70 168.80 L434.61 168.60 L434.51 168.40 L434.42 168.20 L434.32 168.00 L434.23 167.80 L434.13 167.60 L434.04 167.40 L433.94 167.20 L433.85 167.00 L433.76 166.80 L433.67 166.60 L433.58 166.40 L433.49 166.20 L433.40 166.00 L433.31 165.80 L433.22 165.60 L433.13 165.40 L433.04 165.20 L432.94 165.00 L432.84 164.80 L432.75 164.60 L432.65 164.40 L432.55 164.20 L432.46 164.00 L432.36 163.80 L432.26 163.60 L432.17 163.40 L432.08 163.20 L431.99 163.00 L431.90 162.80 L431.82 162.60 L431.74 162.40 L431.66 162.20 L431.59 162.00 L431.52 161.80 L431.46 161.60 L431.40 161.40 L431.35 161.20 L431.30 161.00 L431.30 160.79 L431.32 160.58 L431.34 160.37 L431.38 160.16 L431.44 159.94 L431.52 159.73 L431.62 159.52 L431.75 159.31 L431.90 159.10 L432.07 158.89 L432.26 158.69 L432.47 158.48 L432.69 158.28 L432.92 158.07 L433.15 157.87 L433.39 157.66 L433.64 157.46 L433.88 157.25 L434.13 157.04 L434.37 156.84 L434.61 156.63 L434.84 156.43 L435.06 156.22 L435.27 156.02 L435.46 155.81 L435.64 155.61 L435.80 155.40 L435.94 155.20 L436.08 155.00 L436.20 154.80 L436.32 154.60 L436.43 154.40 L436.54 154.20 L436.63 154.00 L436.72 153.80 L436.81 153.60 L436.89 153.40 L436.96 153.20 L437.03 153.00 L437.09 152.80 L437.15 152.60 L437.21 152.40 L437.26 152.20 L437.31 152.00 L437.36 151.80 L437.40 151.60Z" fill="#134F86"/>
<rect x="437.50" y="183.70" width="1.00" height="16.30" fill="url(#g17)"/>
<circle cx="438.00" cy="200.00" r="0.75" fill="#134F86" fill-opacity="1"/>
<line x1="414.50" y1="144.20" x2="414.50" y2="203.70" stroke="#1a1a1a" stroke-width="1.2"/>
<line x1="413.90" y1="203.10" x2="448.00" y2="203.10" stroke="#1a1a1a" stroke-width="1.2"/>
<line x1="411.30" y1="152.90" x2="414.50" y2="152.90" stroke="#222" stroke-width="1.15"/>
<text x="407.80" y="155.90" font-size="8.6" stroke="#222" stroke-width="0.2" text-anchor="end" fill="#222" textLength="19.20" lengthAdjust="spacingAndGlyphs">100.0</text>
<line x1="411.30" y1="169.20" x2="414.50" y2="169.20" stroke="#222" stroke-width="1.15"/>
<text x="407.80" y="172.20" font-size="8.6" stroke="#222" stroke-width="0.2" text-anchor="end" fill="#222" textLength="14.40" lengthAdjust="spacingAndGlyphs">10.0</text>
<line x1="411.30" y1="185.50" x2="414.50" y2="185.50" stroke="#222" stroke-width="1.15"/>
<text x="407.80" y="188.50" font-size="8.6" stroke="#222" stroke-width="0.2" text-anchor="end" fill="#222" textLength="10.20" lengthAdjust="spacingAndGlyphs">1.0</text>
<line x1="411.30" y1="201.00" x2="414.50" y2="201.00" stroke="#222" stroke-width="1.15"/>
<text x="407.80" y="204.00" font-size="8.6" stroke="#222" stroke-width="0.2" text-anchor="end" fill="#222" textLength="10.40" lengthAdjust="spacingAndGlyphs">0.1</text>
<line x1="423.10" y1="203.10" x2="423.10" y2="206.30" stroke="#222" stroke-width="1.1"/>
<line x1="438.00" y1="203.10" x2="438.00" y2="206.30" stroke="#222" stroke-width="1.1"/>
<text x="0.00" y="0.00" font-size="8.4" stroke="#222" stroke-width="0.2" text-anchor="end" fill="#222" textLength="27.40" lengthAdjust="spacingAndGlyphs" transform="translate(423.10,213.00) rotate(-45)">Control</text>
<text x="0.00" y="0.00" font-size="8.4" stroke="#222" stroke-width="0.2" text-anchor="end" fill="#222" textLength="31.00" lengthAdjust="spacingAndGlyphs" transform="translate(438.00,213.00) rotate(-45)">Low VWF</text>
<text x="494.75" y="136.40" font-size="7.2" font-weight="bold" text-anchor="middle" fill="#111">Cluster 8</text>
<text x="494.75" y="144.70" font-size="7.2" font-weight="bold" font-style="italic" text-anchor="middle" fill="#111">VWF</text>
<path d="M487.95 156.50 L488.04 156.70 L488.17 156.90 L488.31 157.10 L488.47 157.30 L488.65 157.50 L488.83 157.70 L489.01 157.90 L489.18 158.10 L489.35 158.30 L489.50 158.50 L489.65 158.71 L489.80 158.92 L489.94 159.12 L490.09 159.33 L490.24 159.54 L490.39 159.75 L490.54 159.96 L490.68 160.17 L490.83 160.38 L490.97 160.58 L491.11 160.79 L491.25 161.00 L491.38 161.21 L491.52 161.42 L491.64 161.62 L491.77 161.83 L491.89 162.04 L492.00 162.25 L492.11 162.46 L492.23 162.66 L492.35 162.87 L492.47 163.08 L492.59 163.29 L492.71 163.49 L492.83 163.70 L492.94 163.91 L493.06 164.11 L493.16 164.32 L493.27 164.53 L493.37 164.74 L493.46 164.94 L493.54 165.15 L493.62 165.36 L493.69 165.56 L493.74 165.77 L493.79 165.98 L493.82 166.19 L493.84 166.39 L493.85 166.60 L493.83 166.80 L493.79 167.00 L493.73 167.20 L493.65 167.40 L493.56 167.60 L493.46 167.80 L493.34 168.00 L493.21 168.20 L493.08 168.40 L492.93 168.60 L492.79 168.80 L492.64 169.00 L492.48 169.20 L492.33 169.40 L492.18 169.60 L492.04 169.80 L491.90 170.00 L491.77 170.20 L491.65 170.40 L491.53 170.61 L491.41 170.81 L491.28 171.02 L491.15 171.22 L491.02 171.43 L490.89 171.63 L490.76 171.84 L490.63 172.04 L490.50 172.25 L490.38 172.46 L490.25 172.66 L490.13 172.87 L490.01 173.07 L489.90 173.28 L489.79 173.48 L489.69 173.69 L489.59 173.89 L489.50 174.10 L489.42 174.30 L489.34 174.50 L489.27 174.70 L489.20 174.90 L489.13 175.10 L489.07 175.30 L489.01 175.50 L488.96 175.70 L488.90 175.90 L488.85 176.10 L488.81 176.30 L488.76 176.50 L488.71 176.70 L488.67 176.90 L488.63 177.10 L488.58 177.30 L488.54 177.50 L488.49 177.70 L488.45 177.90 L488.40 178.11 L488.36 178.31 L488.32 178.52 L488.28 178.73 L488.25 178.93 L488.21 179.14 L488.18 179.35 L488.15 179.55 L488.12 179.76 L488.09 179.97 L488.06 180.17 L488.03 180.38 L488.01 180.59 L487.98 180.79 L487.95 181.00 L487.92 181.20 L487.90 181.40 L487.87 181.60 L487.85 181.80 L487.83 182.00 L487.81 182.20 L487.79 182.40 L487.77 182.60 L487.76 182.80 L487.75 183.00 L486.75 183.00 L486.74 182.80 L486.73 182.60 L486.71 182.40 L486.69 182.20 L486.67 182.00 L486.65 181.80 L486.63 181.60 L486.60 181.40 L486.58 181.20 L486.55 181.00 L486.52 180.79 L486.49 180.59 L486.47 180.38 L486.44 180.17 L486.41 179.97 L486.38 179.76 L486.35 179.55 L486.32 179.35 L486.29 179.14 L486.25 178.93 L486.22 178.73 L486.18 178.52 L486.14 178.31 L486.10 178.11 L486.05 177.90 L486.01 177.70 L485.96 177.50 L485.92 177.30 L485.87 177.10 L485.83 176.90 L485.79 176.70 L485.74 176.50 L485.69 176.30 L485.65 176.10 L485.60 175.90 L485.54 175.70 L485.49 175.50 L485.43 175.30 L485.37 175.10 L485.30 174.90 L485.23 174.70 L485.16 174.50 L485.08 174.30 L485.00 174.10 L484.91 173.89 L484.81 173.69 L484.71 173.48 L484.60 173.28 L484.49 173.07 L484.37 172.87 L484.25 172.66 L484.12 172.46 L484.00 172.25 L483.87 172.04 L483.74 171.84 L483.61 171.63 L483.48 171.43 L483.35 171.22 L483.22 171.02 L483.09 170.81 L482.97 170.61 L482.85 170.40 L482.73 170.20 L482.60 170.00 L482.46 169.80 L482.32 169.60 L482.17 169.40 L482.02 169.20 L481.86 169.00 L481.71 168.80 L481.57 168.60 L481.42 168.40 L481.29 168.20 L481.16 168.00 L481.04 167.80 L480.94 167.60 L480.85 167.40 L480.77 167.20 L480.71 167.00 L480.67 166.80 L480.65 166.60 L480.66 166.39 L480.68 166.19 L480.71 165.98 L480.76 165.77 L480.81 165.56 L480.88 165.36 L480.96 165.15 L481.04 164.94 L481.13 164.74 L481.23 164.53 L481.34 164.32 L481.44 164.11 L481.56 163.91 L481.67 163.70 L481.79 163.49 L481.91 163.29 L482.03 163.08 L482.15 162.87 L482.27 162.66 L482.39 162.46 L482.50 162.25 L482.61 162.04 L482.73 161.83 L482.86 161.62 L482.98 161.42 L483.12 161.21 L483.25 161.00 L483.39 160.79 L483.53 160.58 L483.67 160.38 L483.82 160.17 L483.96 159.96 L484.11 159.75 L484.26 159.54 L484.41 159.33 L484.56 159.12 L484.70 158.92 L484.85 158.71 L485.00 158.50 L485.15 158.30 L485.32 158.10 L485.49 157.90 L485.67 157.70 L485.85 157.50 L486.03 157.30 L486.19 157.10 L486.33 156.90 L486.46 156.70 L486.55 156.50Z" fill="#C8102E"/>
<path d="M486.83 151.60 L487.67 151.60 L487.95 156.80 L486.55 156.80Z" fill="url(#g18)"/>
<rect x="486.75" y="182.70" width="1.00" height="17.70" fill="url(#g19)"/>
<circle cx="487.25" cy="200.40" r="0.50" fill="#C8102E" fill-opacity="0.4"/>
<path d="M503.05 160.00 L503.09 160.21 L503.13 160.41 L503.18 160.62 L503.23 160.82 L503.29 161.03 L503.35 161.24 L503.41 161.44 L503.48 161.65 L503.55 161.85 L503.63 162.06 L503.70 162.26 L503.78 162.47 L503.85 162.68 L503.93 162.88 L504.00 163.09 L504.08 163.29 L504.15 163.50 L504.22 163.70 L504.29 163.90 L504.37 164.10 L504.44 164.30 L504.52 164.50 L504.60 164.70 L504.68 164.90 L504.76 165.10 L504.84 165.30 L504.92 165.50 L505.00 165.70 L505.09 165.90 L505.17 166.10 L505.25 166.30 L505.32 166.50 L505.40 166.70 L505.48 166.90 L505.55 167.10 L505.62 167.30 L505.69 167.50 L505.76 167.70 L505.82 167.90 L505.89 168.10 L505.95 168.30 L506.00 168.50 L506.05 168.70 L506.10 168.90 L506.15 169.10 L506.20 169.30 L506.24 169.50 L506.29 169.70 L506.33 169.90 L506.37 170.10 L506.40 170.30 L506.44 170.50 L506.47 170.70 L506.50 170.90 L506.53 171.10 L506.55 171.30 L506.58 171.50 L506.59 171.70 L506.61 171.90 L506.63 172.10 L506.64 172.30 L506.64 172.50 L506.65 172.70 L506.65 172.90 L506.63 173.11 L506.60 173.31 L506.57 173.52 L506.53 173.73 L506.48 173.94 L506.42 174.14 L506.37 174.35 L506.30 174.56 L506.23 174.76 L506.16 174.97 L506.09 175.18 L506.02 175.39 L505.94 175.59 L505.86 175.80 L505.79 176.01 L505.71 176.21 L505.63 176.42 L505.56 176.63 L505.49 176.84 L505.42 177.04 L505.35 177.25 L505.29 177.45 L505.22 177.65 L505.16 177.85 L505.09 178.05 L505.02 178.25 L504.95 178.45 L504.88 178.65 L504.81 178.85 L504.74 179.05 L504.67 179.25 L504.60 179.45 L504.53 179.65 L504.46 179.85 L504.39 180.05 L504.32 180.25 L504.26 180.45 L504.19 180.65 L504.13 180.85 L504.07 181.05 L504.01 181.25 L503.95 181.45 L503.90 181.65 L503.84 181.85 L503.80 182.05 L503.75 182.25 L503.71 182.45 L503.67 182.65 L503.63 182.85 L503.60 183.05 L503.57 183.25 L503.54 183.45 L503.51 183.65 L503.48 183.85 L503.46 184.05 L503.44 184.25 L503.41 184.45 L503.39 184.65 L503.37 184.85 L503.36 185.05 L503.34 185.25 L503.32 185.45 L503.30 185.65 L503.29 185.85 L503.27 186.05 L503.25 186.25 L503.23 186.45 L503.21 186.65 L503.19 186.85 L503.17 187.05 L503.15 187.25 L503.13 187.46 L503.10 187.67 L503.08 187.88 L503.05 188.08 L503.02 188.29 L503.00 188.50 L502.97 188.71 L502.95 188.92 L502.92 189.12 L502.90 189.33 L502.87 189.54 L502.85 189.75 L502.83 189.96 L502.81 190.17 L502.79 190.38 L502.78 190.58 L502.76 190.79 L502.75 191.00 L501.75 191.00 L501.74 190.79 L501.72 190.58 L501.71 190.38 L501.69 190.17 L501.67 189.96 L501.65 189.75 L501.63 189.54 L501.60 189.33 L501.58 189.12 L501.55 188.92 L501.53 188.71 L501.50 188.50 L501.48 188.29 L501.45 188.08 L501.42 187.88 L501.40 187.67 L501.37 187.46 L501.35 187.25 L501.33 187.05 L501.31 186.85 L501.29 186.65 L501.27 186.45 L501.25 186.25 L501.23 186.05 L501.21 185.85 L501.20 185.65 L501.18 185.45 L501.16 185.25 L501.14 185.05 L501.13 184.85 L501.11 184.65 L501.09 184.45 L501.06 184.25 L501.04 184.05 L501.02 183.85 L500.99 183.65 L500.96 183.45 L500.93 183.25 L500.90 183.05 L500.87 182.85 L500.83 182.65 L500.79 182.45 L500.75 182.25 L500.70 182.05 L500.66 181.85 L500.60 181.65 L500.55 181.45 L500.49 181.25 L500.43 181.05 L500.37 180.85 L500.31 180.65 L500.24 180.45 L500.18 180.25 L500.11 180.05 L500.04 179.85 L499.97 179.65 L499.90 179.45 L499.83 179.25 L499.76 179.05 L499.69 178.85 L499.62 178.65 L499.55 178.45 L499.48 178.25 L499.41 178.05 L499.34 177.85 L499.28 177.65 L499.21 177.45 L499.15 177.25 L499.08 177.04 L499.01 176.84 L498.94 176.63 L498.87 176.42 L498.79 176.21 L498.71 176.01 L498.64 175.80 L498.56 175.59 L498.48 175.39 L498.41 175.18 L498.34 174.97 L498.27 174.76 L498.20 174.56 L498.13 174.35 L498.08 174.14 L498.02 173.94 L497.97 173.73 L497.93 173.52 L497.90 173.31 L497.87 173.11 L497.85 172.90 L497.85 172.70 L497.86 172.50 L497.86 172.30 L497.87 172.10 L497.89 171.90 L497.91 171.70 L497.92 171.50 L497.95 171.30 L497.97 171.10 L498.00 170.90 L498.03 170.70 L498.06 170.50 L498.10 170.30 L498.13 170.10 L498.17 169.90 L498.21 169.70 L498.26 169.50 L498.30 169.30 L498.35 169.10 L498.40 168.90 L498.45 168.70 L498.50 168.50 L498.55 168.30 L498.61 168.10 L498.68 167.90 L498.74 167.70 L498.81 167.50 L498.88 167.30 L498.95 167.10 L499.02 166.90 L499.10 166.70 L499.18 166.50 L499.25 166.30 L499.33 166.10 L499.41 165.90 L499.50 165.70 L499.58 165.50 L499.66 165.30 L499.74 165.10 L499.82 164.90 L499.90 164.70 L499.98 164.50 L500.06 164.30 L500.13 164.10 L500.21 163.90 L500.28 163.70 L500.35 163.50 L500.42 163.29 L500.50 163.09 L500.57 162.88 L500.65 162.68 L500.72 162.47 L500.80 162.26 L500.87 162.06 L500.95 161.85 L501.02 161.65 L501.09 161.44 L501.15 161.24 L501.21 161.03 L501.27 160.82 L501.32 160.62 L501.37 160.41 L501.41 160.21 L501.45 160.00Z" fill="#134F86"/>
<path d="M501.83 156.00 L502.67 156.00 L502.95 160.30 L501.55 160.30Z" fill="url(#g20)"/>
<rect x="501.75" y="190.70" width="1.00" height="6.55" fill="url(#g21)"/>
<path d="M499.62 201.00 Q501.62 200.06 501.85 197.25 L502.65 197.25 Q502.88 200.06 504.88 201.00Z" fill="#134F86"/>
<line x1="478.25" y1="144.20" x2="478.25" y2="203.70" stroke="#1a1a1a" stroke-width="1.2"/>
<line x1="477.65" y1="203.10" x2="511.75" y2="203.10" stroke="#1a1a1a" stroke-width="1.2"/>
<line x1="475.05" y1="149.10" x2="478.25" y2="149.10" stroke="#222" stroke-width="1.15"/>
<text x="471.55" y="152.10" font-size="8.6" stroke="#222" stroke-width="0.2" text-anchor="end" fill="#222" textLength="19.20" lengthAdjust="spacingAndGlyphs">100.0</text>
<line x1="475.05" y1="166.50" x2="478.25" y2="166.50" stroke="#222" stroke-width="1.15"/>
<text x="471.55" y="169.50" font-size="8.6" stroke="#222" stroke-width="0.2" text-anchor="end" fill="#222" textLength="14.40" lengthAdjust="spacingAndGlyphs">10.0</text>
<line x1="475.05" y1="183.70" x2="478.25" y2="183.70" stroke="#222" stroke-width="1.15"/>
<text x="471.55" y="186.70" font-size="8.6" stroke="#222" stroke-width="0.2" text-anchor="end" fill="#222" textLength="10.20" lengthAdjust="spacingAndGlyphs">1.0</text>
<line x1="475.05" y1="200.90" x2="478.25" y2="200.90" stroke="#222" stroke-width="1.15"/>
<text x="471.55" y="203.90" font-size="8.6" stroke="#222" stroke-width="0.2" text-anchor="end" fill="#222" textLength="10.40" lengthAdjust="spacingAndGlyphs">0.1</text>
<line x1="487.25" y1="203.10" x2="487.25" y2="206.30" stroke="#222" stroke-width="1.1"/>
<line x1="502.25" y1="203.10" x2="502.25" y2="206.30" stroke="#222" stroke-width="1.1"/>
<text x="0.00" y="0.00" font-size="8.4" stroke="#222" stroke-width="0.2" text-anchor="end" fill="#222" textLength="27.40" lengthAdjust="spacingAndGlyphs" transform="translate(487.25,213.00) rotate(-45)">Control</text>
<text x="0.00" y="0.00" font-size="8.4" stroke="#222" stroke-width="0.2" text-anchor="end" fill="#222" textLength="31.00" lengthAdjust="spacingAndGlyphs" transform="translate(502.25,213.00) rotate(-45)">Low VWF</text>
<text x="301.75" y="261.00" font-size="7.2" font-weight="bold" text-anchor="middle" fill="#111">Cluster 1</text>
<text x="301.75" y="269.30" font-size="7.2" font-weight="bold" font-style="italic" text-anchor="middle" fill="#111">CDH5</text>
<path d="M295.20 281.90 L295.20 282.11 L295.20 282.31 L295.19 282.52 L295.18 282.73 L295.16 282.93 L295.15 283.14 L295.14 283.35 L295.13 283.55 L295.13 283.76 L295.14 283.97 L295.17 284.17 L295.20 284.38 L295.25 284.59 L295.32 284.79 L295.40 285.00 L295.53 285.21 L295.70 285.42 L295.92 285.63 L296.17 285.84 L296.44 286.06 L296.71 286.27 L296.99 286.48 L297.26 286.69 L297.50 286.90 L297.73 287.11 L297.97 287.32 L298.22 287.52 L298.47 287.73 L298.72 287.94 L298.96 288.15 L299.20 288.36 L299.43 288.57 L299.65 288.77 L299.85 288.98 L300.04 289.19 L300.20 289.40 L300.35 289.61 L300.50 289.81 L300.64 290.02 L300.79 290.22 L300.93 290.43 L301.06 290.63 L301.19 290.84 L301.32 291.04 L301.44 291.25 L301.54 291.46 L301.64 291.66 L301.73 291.87 L301.81 292.07 L301.88 292.28 L301.93 292.48 L301.97 292.69 L301.99 292.89 L302.00 293.10 L301.99 293.31 L301.96 293.52 L301.92 293.73 L301.86 293.94 L301.78 294.16 L301.70 294.37 L301.60 294.58 L301.49 294.79 L301.38 295.00 L301.25 295.21 L301.12 295.42 L300.99 295.63 L300.86 295.84 L300.72 296.06 L300.59 296.27 L300.46 296.48 L300.33 296.69 L300.20 296.90 L300.08 297.11 L299.94 297.31 L299.81 297.52 L299.66 297.73 L299.52 297.93 L299.36 298.14 L299.21 298.35 L299.05 298.55 L298.90 298.76 L298.74 298.97 L298.59 299.17 L298.43 299.38 L298.28 299.59 L298.14 299.79 L298.00 300.00 L297.86 300.21 L297.73 300.42 L297.59 300.62 L297.46 300.83 L297.33 301.04 L297.20 301.25 L297.07 301.46 L296.95 301.67 L296.83 301.88 L296.72 302.08 L296.61 302.29 L296.50 302.50 L296.40 302.71 L296.30 302.92 L296.20 303.12 L296.11 303.33 L296.02 303.54 L295.94 303.75 L295.86 303.96 L295.78 304.17 L295.70 304.38 L295.63 304.58 L295.56 304.79 L295.50 305.00 L295.44 305.20 L295.39 305.40 L295.35 305.60 L295.31 305.80 L295.27 306.00 L295.24 306.20 L295.21 306.40 L295.19 306.60 L295.17 306.80 L295.15 307.00 L294.05 307.00 L294.03 306.80 L294.01 306.60 L293.99 306.40 L293.96 306.20 L293.93 306.00 L293.89 305.80 L293.85 305.60 L293.81 305.40 L293.76 305.20 L293.70 305.00 L293.64 304.79 L293.57 304.58 L293.50 304.38 L293.42 304.17 L293.34 303.96 L293.26 303.75 L293.18 303.54 L293.09 303.33 L293.00 303.12 L292.90 302.92 L292.80 302.71 L292.70 302.50 L292.59 302.29 L292.48 302.08 L292.37 301.88 L292.25 301.67 L292.13 301.46 L292.00 301.25 L291.87 301.04 L291.74 300.83 L291.61 300.62 L291.47 300.42 L291.34 300.21 L291.20 300.00 L291.06 299.79 L290.92 299.59 L290.77 299.38 L290.61 299.17 L290.46 298.97 L290.30 298.76 L290.15 298.55 L289.99 298.35 L289.84 298.14 L289.68 297.93 L289.54 297.73 L289.39 297.52 L289.26 297.31 L289.12 297.11 L289.00 296.90 L288.87 296.69 L288.74 296.48 L288.61 296.27 L288.48 296.06 L288.34 295.84 L288.21 295.63 L288.08 295.42 L287.95 295.21 L287.82 295.00 L287.71 294.79 L287.60 294.58 L287.50 294.37 L287.42 294.16 L287.34 293.94 L287.28 293.73 L287.24 293.52 L287.21 293.31 L287.20 293.10 L287.21 292.89 L287.23 292.69 L287.27 292.48 L287.32 292.28 L287.39 292.07 L287.47 291.87 L287.56 291.66 L287.66 291.46 L287.76 291.25 L287.88 291.04 L288.01 290.84 L288.14 290.63 L288.27 290.43 L288.41 290.22 L288.56 290.02 L288.70 289.81 L288.85 289.61 L289.00 289.40 L289.16 289.19 L289.35 288.98 L289.55 288.77 L289.77 288.57 L290.00 288.36 L290.24 288.15 L290.48 287.94 L290.73 287.73 L290.98 287.52 L291.23 287.32 L291.47 287.11 L291.70 286.90 L291.94 286.69 L292.21 286.48 L292.49 286.27 L292.76 286.06 L293.03 285.84 L293.28 285.63 L293.50 285.42 L293.67 285.21 L293.80 285.00 L293.88 284.79 L293.95 284.59 L294.00 284.38 L294.03 284.17 L294.06 283.97 L294.07 283.76 L294.07 283.55 L294.06 283.35 L294.05 283.14 L294.04 282.93 L294.02 282.73 L294.01 282.52 L294.00 282.31 L294.00 282.11 L294.00 281.90Z" fill="#C8102E"/>
<rect x="294.10" y="306.70" width="1.00" height="17.90" fill="url(#g22)"/>
<circle cx="294.60" cy="324.60" r="0.50" fill="#C8102E" fill-opacity="1"/>
<path d="M311.05 282.50 L311.09 282.71 L311.13 282.92 L311.18 283.12 L311.23 283.33 L311.28 283.54 L311.34 283.75 L311.40 283.96 L311.46 284.17 L311.53 284.38 L311.61 284.58 L311.69 284.79 L311.77 285.00 L311.85 285.21 L311.95 285.42 L312.04 285.62 L312.14 285.83 L312.24 286.04 L312.35 286.25 L312.47 286.46 L312.60 286.67 L312.74 286.88 L312.89 287.08 L313.05 287.29 L313.21 287.50 L313.38 287.71 L313.55 287.92 L313.72 288.12 L313.89 288.33 L314.06 288.54 L314.22 288.75 L314.38 288.96 L314.52 289.17 L314.66 289.38 L314.79 289.58 L314.90 289.79 L315.00 290.00 L315.09 290.21 L315.17 290.42 L315.25 290.63 L315.32 290.84 L315.38 291.05 L315.44 291.26 L315.50 291.47 L315.55 291.68 L315.60 291.89 L315.64 292.10 L315.68 292.30 L315.71 292.51 L315.74 292.72 L315.77 292.93 L315.79 293.14 L315.81 293.35 L315.82 293.56 L315.84 293.77 L315.84 293.98 L315.85 294.19 L315.85 294.40 L315.82 294.61 L315.78 294.81 L315.73 295.02 L315.67 295.23 L315.60 295.44 L315.52 295.64 L315.43 295.85 L315.34 296.06 L315.25 296.26 L315.15 296.47 L315.04 296.68 L314.93 296.89 L314.83 297.09 L314.72 297.30 L314.61 297.51 L314.50 297.71 L314.39 297.92 L314.29 298.13 L314.19 298.34 L314.09 298.54 L314.00 298.75 L313.91 298.96 L313.82 299.16 L313.73 299.37 L313.63 299.58 L313.53 299.79 L313.44 299.99 L313.34 300.20 L313.24 300.41 L313.15 300.61 L313.05 300.82 L312.95 301.03 L312.86 301.24 L312.77 301.44 L312.68 301.65 L312.59 301.86 L312.51 302.06 L312.43 302.27 L312.35 302.48 L312.28 302.69 L312.21 302.89 L312.15 303.10 L312.09 303.31 L312.04 303.52 L311.99 303.73 L311.94 303.94 L311.90 304.15 L311.86 304.36 L311.82 304.57 L311.79 304.78 L311.76 304.99 L311.73 305.20 L311.70 305.40 L311.67 305.61 L311.65 305.82 L311.62 306.03 L311.60 306.24 L311.58 306.45 L311.55 306.66 L311.53 306.87 L311.50 307.08 L311.48 307.29 L311.45 307.50 L311.42 307.71 L311.40 307.92 L311.37 308.12 L311.35 308.33 L311.32 308.54 L311.30 308.75 L311.28 308.96 L311.26 309.17 L311.24 309.38 L311.22 309.58 L311.20 309.79 L311.18 310.00 L311.16 310.21 L311.14 310.42 L311.12 310.62 L311.09 310.83 L311.07 311.04 L311.05 311.25 L311.02 311.47 L311.00 311.69 L310.97 311.91 L310.94 312.12 L310.91 312.34 L310.89 312.56 L310.87 312.78 L310.85 313.00 L309.65 313.00 L309.63 312.78 L309.61 312.56 L309.59 312.34 L309.56 312.12 L309.53 311.91 L309.50 311.69 L309.48 311.47 L309.45 311.25 L309.43 311.04 L309.41 310.83 L309.38 310.62 L309.36 310.42 L309.34 310.21 L309.32 310.00 L309.30 309.79 L309.28 309.58 L309.26 309.38 L309.24 309.17 L309.22 308.96 L309.20 308.75 L309.18 308.54 L309.15 308.33 L309.13 308.12 L309.10 307.92 L309.08 307.71 L309.05 307.50 L309.02 307.29 L309.00 307.08 L308.97 306.87 L308.95 306.66 L308.92 306.45 L308.90 306.24 L308.88 306.03 L308.85 305.82 L308.83 305.61 L308.80 305.40 L308.77 305.20 L308.74 304.99 L308.71 304.78 L308.68 304.57 L308.64 304.36 L308.60 304.15 L308.56 303.94 L308.51 303.73 L308.46 303.52 L308.41 303.31 L308.35 303.10 L308.29 302.89 L308.22 302.69 L308.15 302.48 L308.07 302.27 L307.99 302.06 L307.91 301.86 L307.82 301.65 L307.73 301.44 L307.64 301.24 L307.55 301.03 L307.45 300.82 L307.35 300.61 L307.26 300.41 L307.16 300.20 L307.06 299.99 L306.97 299.79 L306.87 299.58 L306.77 299.37 L306.68 299.16 L306.59 298.96 L306.50 298.75 L306.41 298.54 L306.31 298.34 L306.21 298.13 L306.11 297.92 L306.00 297.71 L305.89 297.51 L305.78 297.30 L305.67 297.09 L305.57 296.89 L305.46 296.68 L305.35 296.47 L305.25 296.26 L305.16 296.06 L305.07 295.85 L304.98 295.64 L304.90 295.44 L304.83 295.23 L304.77 295.02 L304.72 294.81 L304.68 294.61 L304.65 294.40 L304.65 294.19 L304.66 293.98 L304.66 293.77 L304.68 293.56 L304.69 293.35 L304.71 293.14 L304.73 292.93 L304.76 292.72 L304.79 292.51 L304.82 292.30 L304.86 292.10 L304.90 291.89 L304.95 291.68 L305.00 291.47 L305.06 291.26 L305.12 291.05 L305.18 290.84 L305.25 290.63 L305.33 290.42 L305.41 290.21 L305.50 290.00 L305.60 289.79 L305.71 289.58 L305.84 289.38 L305.98 289.17 L306.12 288.96 L306.28 288.75 L306.44 288.54 L306.61 288.33 L306.78 288.12 L306.95 287.92 L307.12 287.71 L307.29 287.50 L307.45 287.29 L307.61 287.08 L307.76 286.88 L307.90 286.67 L308.03 286.46 L308.15 286.25 L308.26 286.04 L308.36 285.83 L308.46 285.62 L308.55 285.42 L308.65 285.21 L308.73 285.00 L308.81 284.79 L308.89 284.58 L308.97 284.38 L309.04 284.17 L309.10 283.96 L309.16 283.75 L309.22 283.54 L309.27 283.33 L309.32 283.12 L309.37 282.92 L309.41 282.71 L309.45 282.50Z" fill="#134F86"/>
<path d="M309.83 275.60 L310.67 275.60 L310.95 282.80 L309.55 282.80Z" fill="url(#g23)"/>
<rect x="309.75" y="312.70" width="1.00" height="11.70" fill="url(#g24)"/>
<circle cx="310.25" cy="324.40" r="0.65" fill="#134F86" fill-opacity="1"/>
<line x1="285.25" y1="269.00" x2="285.25" y2="327.90" stroke="#1a1a1a" stroke-width="1.2"/>
<line x1="284.65" y1="327.30" x2="318.75" y2="327.30" stroke="#1a1a1a" stroke-width="1.2"/>
<line x1="282.05" y1="287.90" x2="285.25" y2="287.90" stroke="#222" stroke-width="1.15"/>
<text x="278.55" y="290.90" font-size="8.6" stroke="#222" stroke-width="0.2" text-anchor="end" fill="#222" textLength="14.40" lengthAdjust="spacingAndGlyphs">10.0</text>
<line x1="282.05" y1="306.30" x2="285.25" y2="306.30" stroke="#222" stroke-width="1.15"/>
<text x="278.55" y="309.30" font-size="8.6" stroke="#222" stroke-width="0.2" text-anchor="end" fill="#222" textLength="10.20" lengthAdjust="spacingAndGlyphs">1.0</text>
<line x1="282.05" y1="324.30" x2="285.25" y2="324.30" stroke="#222" stroke-width="1.15"/>
<text x="278.55" y="327.30" font-size="8.6" stroke="#222" stroke-width="0.2" text-anchor="end" fill="#222" textLength="10.40" lengthAdjust="spacingAndGlyphs">0.1</text>
<line x1="294.60" y1="327.30" x2="294.60" y2="330.50" stroke="#222" stroke-width="1.1"/>
<line x1="310.25" y1="327.30" x2="310.25" y2="330.50" stroke="#222" stroke-width="1.1"/>
<text x="0.00" y="0.00" font-size="8.4" stroke="#222" stroke-width="0.2" text-anchor="end" fill="#222" textLength="27.40" lengthAdjust="spacingAndGlyphs" transform="translate(294.60,337.20) rotate(-45)">Control</text>
<text x="0.00" y="0.00" font-size="8.4" stroke="#222" stroke-width="0.2" text-anchor="end" fill="#222" textLength="31.00" lengthAdjust="spacingAndGlyphs" transform="translate(310.25,337.20) rotate(-45)">Low VWF</text>
<text x="366.00" y="261.00" font-size="7.2" font-weight="bold" text-anchor="middle" fill="#111">Cluster 2</text>
<text x="366.00" y="269.30" font-size="7.2" font-weight="bold" font-style="italic" text-anchor="middle" fill="#111">CDH5</text>
<path d="M359.80 278.10 L359.89 278.31 L360.00 278.52 L360.13 278.73 L360.28 278.94 L360.43 279.15 L360.60 279.36 L360.77 279.57 L360.96 279.78 L361.15 279.99 L361.34 280.20 L361.54 280.41 L361.73 280.62 L361.92 280.83 L362.12 281.04 L362.30 281.25 L362.49 281.46 L362.69 281.67 L362.89 281.88 L363.11 282.09 L363.33 282.30 L363.55 282.51 L363.77 282.72 L363.98 282.93 L364.20 283.14 L364.40 283.35 L364.60 283.56 L364.79 283.77 L364.96 283.98 L365.11 284.19 L365.25 284.40 L365.37 284.61 L365.48 284.81 L365.58 285.02 L365.67 285.23 L365.75 285.43 L365.82 285.64 L365.88 285.85 L365.94 286.05 L365.98 286.26 L366.02 286.47 L366.05 286.67 L366.07 286.88 L366.09 287.09 L366.10 287.29 L366.10 287.50 L366.09 287.71 L366.07 287.92 L366.05 288.13 L366.02 288.34 L365.98 288.55 L365.94 288.76 L365.90 288.97 L365.85 289.18 L365.80 289.39 L365.74 289.60 L365.68 289.80 L365.62 290.01 L365.55 290.22 L365.48 290.43 L365.40 290.64 L365.33 290.85 L365.25 291.06 L365.16 291.27 L365.08 291.48 L364.99 291.69 L364.90 291.90 L364.81 292.11 L364.71 292.31 L364.60 292.52 L364.48 292.73 L364.36 292.94 L364.24 293.14 L364.11 293.35 L363.98 293.56 L363.85 293.76 L363.71 293.97 L363.58 294.18 L363.44 294.39 L363.30 294.59 L363.17 294.80 L363.04 295.01 L362.90 295.21 L362.77 295.42 L362.65 295.63 L362.53 295.84 L362.41 296.04 L362.30 296.25 L362.19 296.46 L362.09 296.67 L362.00 296.88 L361.90 297.09 L361.82 297.30 L361.73 297.51 L361.65 297.72 L361.57 297.93 L361.49 298.14 L361.41 298.35 L361.33 298.56 L361.25 298.77 L361.17 298.98 L361.08 299.19 L361.00 299.40 L360.91 299.61 L360.83 299.82 L360.74 300.02 L360.64 300.23 L360.55 300.44 L360.46 300.65 L360.38 300.86 L360.29 301.07 L360.21 301.27 L360.14 301.48 L360.06 301.69 L360.00 301.90 L359.94 302.11 L359.89 302.32 L359.84 302.53 L359.80 302.74 L359.77 302.95 L359.74 303.16 L359.71 303.37 L359.69 303.58 L359.67 303.79 L359.65 304.00 L358.35 304.00 L358.33 303.79 L358.31 303.58 L358.29 303.37 L358.26 303.16 L358.23 302.95 L358.20 302.74 L358.16 302.53 L358.11 302.32 L358.06 302.11 L358.00 301.90 L357.94 301.69 L357.86 301.48 L357.79 301.27 L357.71 301.07 L357.62 300.86 L357.54 300.65 L357.45 300.44 L357.36 300.23 L357.26 300.02 L357.17 299.82 L357.09 299.61 L357.00 299.40 L356.92 299.19 L356.83 298.98 L356.75 298.77 L356.67 298.56 L356.59 298.35 L356.51 298.14 L356.43 297.93 L356.35 297.72 L356.27 297.51 L356.18 297.30 L356.10 297.09 L356.00 296.88 L355.91 296.67 L355.81 296.46 L355.70 296.25 L355.59 296.04 L355.47 295.84 L355.35 295.63 L355.23 295.42 L355.10 295.21 L354.96 295.01 L354.83 294.80 L354.70 294.59 L354.56 294.39 L354.42 294.18 L354.29 293.97 L354.15 293.76 L354.02 293.56 L353.89 293.35 L353.76 293.14 L353.64 292.94 L353.52 292.73 L353.40 292.52 L353.29 292.31 L353.19 292.11 L353.10 291.90 L353.01 291.69 L352.92 291.48 L352.84 291.27 L352.75 291.06 L352.67 290.85 L352.60 290.64 L352.52 290.43 L352.45 290.22 L352.38 290.01 L352.32 289.80 L352.26 289.60 L352.20 289.39 L352.15 289.18 L352.10 288.97 L352.06 288.76 L352.02 288.55 L351.98 288.34 L351.95 288.13 L351.93 287.92 L351.91 287.71 L351.90 287.50 L351.90 287.29 L351.91 287.09 L351.93 286.88 L351.95 286.67 L351.98 286.47 L352.02 286.26 L352.06 286.05 L352.12 285.85 L352.18 285.64 L352.25 285.43 L352.33 285.23 L352.42 285.02 L352.52 284.81 L352.63 284.61 L352.75 284.40 L352.89 284.19 L353.04 283.98 L353.21 283.77 L353.40 283.56 L353.60 283.35 L353.80 283.14 L354.02 282.93 L354.23 282.72 L354.45 282.51 L354.67 282.30 L354.89 282.09 L355.11 281.88 L355.31 281.67 L355.51 281.46 L355.70 281.25 L355.88 281.04 L356.08 280.83 L356.27 280.62 L356.46 280.41 L356.66 280.20 L356.85 279.99 L357.04 279.78 L357.23 279.57 L357.40 279.36 L357.57 279.15 L357.72 278.94 L357.87 278.73 L358.00 278.52 L358.11 278.31 L358.20 278.10Z" fill="#C8102E"/>
<rect x="358.50" y="303.70" width="1.00" height="16.90" fill="url(#g25)"/>
<path d="M356.05 325.00 Q358.29 323.90 358.60 320.60 L359.40 320.60 Q359.71 323.90 361.95 325.00Z" fill="#C8102E"/>
<path d="M375.50 280.00 L375.61 280.21 L375.74 280.42 L375.90 280.62 L376.08 280.83 L376.27 281.04 L376.48 281.25 L376.69 281.46 L376.90 281.67 L377.12 281.88 L377.32 282.08 L377.52 282.29 L377.70 282.50 L377.88 282.71 L378.06 282.92 L378.24 283.12 L378.42 283.33 L378.61 283.54 L378.79 283.75 L378.98 283.96 L379.16 284.17 L379.34 284.38 L379.52 284.58 L379.69 284.79 L379.86 285.00 L380.02 285.21 L380.17 285.42 L380.32 285.62 L380.46 285.83 L380.58 286.04 L380.70 286.25 L380.81 286.46 L380.90 286.67 L380.98 286.88 L381.05 287.09 L381.12 287.30 L381.17 287.51 L381.21 287.72 L381.25 287.93 L381.28 288.14 L381.30 288.35 L381.32 288.56 L381.34 288.77 L381.34 288.98 L381.35 289.19 L381.35 289.40 L381.32 289.61 L381.27 289.81 L381.20 290.02 L381.12 290.23 L381.03 290.43 L380.93 290.64 L380.83 290.85 L380.72 291.05 L380.61 291.26 L380.49 291.47 L380.38 291.67 L380.27 291.88 L380.17 292.09 L380.08 292.29 L380.00 292.50 L379.93 292.71 L379.87 292.92 L379.82 293.12 L379.77 293.33 L379.72 293.54 L379.68 293.75 L379.64 293.96 L379.59 294.17 L379.53 294.38 L379.46 294.58 L379.39 294.79 L379.30 295.00 L379.20 295.21 L379.09 295.42 L378.98 295.62 L378.86 295.83 L378.74 296.04 L378.61 296.25 L378.48 296.46 L378.35 296.67 L378.22 296.88 L378.09 297.08 L377.95 297.29 L377.82 297.50 L377.69 297.71 L377.57 297.92 L377.44 298.12 L377.32 298.33 L377.21 298.54 L377.10 298.75 L377.00 298.96 L376.89 299.17 L376.79 299.38 L376.70 299.59 L376.61 299.80 L376.52 300.01 L376.43 300.22 L376.34 300.43 L376.26 300.64 L376.18 300.85 L376.10 301.06 L376.02 301.27 L375.95 301.48 L375.87 301.69 L375.80 301.90 L375.73 302.11 L375.66 302.32 L375.60 302.53 L375.54 302.74 L375.49 302.95 L375.44 303.16 L375.40 303.37 L375.36 303.58 L375.33 303.79 L375.30 304.00 L373.90 304.00 L373.87 303.79 L373.84 303.58 L373.80 303.37 L373.76 303.16 L373.71 302.95 L373.66 302.74 L373.60 302.53 L373.54 302.32 L373.47 302.11 L373.40 301.90 L373.33 301.69 L373.25 301.48 L373.18 301.27 L373.10 301.06 L373.02 300.85 L372.94 300.64 L372.86 300.43 L372.77 300.22 L372.68 300.01 L372.59 299.80 L372.50 299.59 L372.41 299.38 L372.31 299.17 L372.20 298.96 L372.10 298.75 L371.99 298.54 L371.88 298.33 L371.76 298.12 L371.63 297.92 L371.51 297.71 L371.38 297.50 L371.25 297.29 L371.11 297.08 L370.98 296.88 L370.85 296.67 L370.72 296.46 L370.59 296.25 L370.46 296.04 L370.34 295.83 L370.22 295.62 L370.11 295.42 L370.00 295.21 L369.90 295.00 L369.81 294.79 L369.74 294.58 L369.67 294.38 L369.61 294.17 L369.56 293.96 L369.52 293.75 L369.48 293.54 L369.43 293.33 L369.38 293.12 L369.33 292.92 L369.27 292.71 L369.20 292.50 L369.12 292.29 L369.03 292.09 L368.93 291.88 L368.82 291.67 L368.71 291.47 L368.59 291.26 L368.48 291.05 L368.37 290.85 L368.27 290.64 L368.17 290.43 L368.08 290.23 L368.00 290.02 L367.93 289.81 L367.88 289.61 L367.85 289.40 L367.85 289.19 L367.86 288.98 L367.86 288.77 L367.88 288.56 L367.90 288.35 L367.92 288.14 L367.95 287.93 L367.99 287.72 L368.03 287.51 L368.08 287.30 L368.15 287.09 L368.22 286.88 L368.30 286.67 L368.39 286.46 L368.50 286.25 L368.62 286.04 L368.74 285.83 L368.88 285.62 L369.03 285.42 L369.18 285.21 L369.34 285.00 L369.51 284.79 L369.68 284.58 L369.86 284.38 L370.04 284.17 L370.22 283.96 L370.41 283.75 L370.59 283.54 L370.78 283.33 L370.96 283.12 L371.14 282.92 L371.32 282.71 L371.50 282.50 L371.68 282.29 L371.88 282.08 L372.08 281.88 L372.30 281.67 L372.51 281.46 L372.72 281.25 L372.93 281.04 L373.12 280.83 L373.30 280.62 L373.46 280.42 L373.59 280.21 L373.70 280.00Z" fill="#134F86"/>
<path d="M374.18 275.60 L375.02 275.60 L375.30 280.30 L373.90 280.30Z" fill="url(#g26)"/>
<rect x="374.10" y="303.70" width="1.00" height="16.90" fill="url(#g27)"/>
<path d="M370.35 325.00 Q373.58 323.90 374.20 320.60 L375.00 320.60 Q375.62 323.90 378.85 325.00Z" fill="#134F86"/>
<line x1="349.50" y1="269.00" x2="349.50" y2="327.90" stroke="#1a1a1a" stroke-width="1.2"/>
<line x1="348.90" y1="327.30" x2="383.00" y2="327.30" stroke="#1a1a1a" stroke-width="1.2"/>
<line x1="346.30" y1="288.30" x2="349.50" y2="288.30" stroke="#222" stroke-width="1.15"/>
<text x="342.80" y="291.30" font-size="8.6" stroke="#222" stroke-width="0.2" text-anchor="end" fill="#222" textLength="14.40" lengthAdjust="spacingAndGlyphs">10.0</text>
<line x1="346.30" y1="306.70" x2="349.50" y2="306.70" stroke="#222" stroke-width="1.15"/>
<text x="342.80" y="309.70" font-size="8.6" stroke="#222" stroke-width="0.2" text-anchor="end" fill="#222" textLength="10.20" lengthAdjust="spacingAndGlyphs">1.0</text>
<line x1="346.30" y1="324.80" x2="349.50" y2="324.80" stroke="#222" stroke-width="1.15"/>
<text x="342.80" y="327.80" font-size="8.6" stroke="#222" stroke-width="0.2" text-anchor="end" fill="#222" textLength="10.40" lengthAdjust="spacingAndGlyphs">0.1</text>
<line x1="359.00" y1="327.30" x2="359.00" y2="330.50" stroke="#222" stroke-width="1.1"/>
<line x1="374.60" y1="327.30" x2="374.60" y2="330.50" stroke="#222" stroke-width="1.1"/>
<text x="0.00" y="0.00" font-size="8.4" stroke="#222" stroke-width="0.2" text-anchor="end" fill="#222" textLength="27.40" lengthAdjust="spacingAndGlyphs" transform="translate(359.00,337.20) rotate(-45)">Control</text>
<text x="0.00" y="0.00" font-size="8.4" stroke="#222" stroke-width="0.2" text-anchor="end" fill="#222" textLength="31.00" lengthAdjust="spacingAndGlyphs" transform="translate(374.60,337.20) rotate(-45)">Low VWF</text>
<text x="429.75" y="261.00" font-size="7.2" font-weight="bold" text-anchor="middle" fill="#111">Cluster 3</text>
<text x="429.75" y="269.30" font-size="7.2" font-weight="bold" font-style="italic" text-anchor="middle" fill="#111">CDH5</text>
<path d="M423.60 276.25 L423.66 276.46 L423.73 276.67 L423.81 276.88 L423.89 277.08 L423.99 277.29 L424.09 277.50 L424.19 277.71 L424.31 277.92 L424.42 278.12 L424.54 278.33 L424.66 278.54 L424.79 278.75 L424.91 278.96 L425.03 279.17 L425.15 279.38 L425.27 279.58 L425.39 279.79 L425.50 280.00 L425.61 280.20 L425.71 280.40 L425.83 280.60 L425.94 280.80 L426.05 281.00 L426.17 281.20 L426.28 281.40 L426.40 281.60 L426.52 281.80 L426.63 282.00 L426.75 282.20 L426.86 282.40 L426.98 282.60 L427.09 282.80 L427.21 283.00 L427.32 283.20 L427.43 283.40 L427.53 283.60 L427.64 283.80 L427.74 284.00 L427.84 284.20 L427.94 284.40 L428.03 284.60 L428.12 284.80 L428.20 285.00 L428.28 285.20 L428.36 285.40 L428.45 285.60 L428.53 285.80 L428.61 286.00 L428.69 286.20 L428.77 286.40 L428.84 286.60 L428.92 286.80 L428.99 287.00 L429.06 287.20 L429.12 287.40 L429.19 287.60 L429.25 287.80 L429.30 288.00 L429.36 288.20 L429.40 288.40 L429.45 288.60 L429.49 288.80 L429.52 289.00 L429.55 289.20 L429.57 289.40 L429.59 289.60 L429.60 289.80 L429.60 290.00 L429.59 290.20 L429.57 290.40 L429.54 290.60 L429.50 290.80 L429.45 291.00 L429.40 291.20 L429.34 291.40 L429.27 291.60 L429.20 291.80 L429.13 292.00 L429.05 292.20 L428.97 292.40 L428.88 292.60 L428.79 292.80 L428.70 293.00 L428.61 293.20 L428.52 293.40 L428.42 293.60 L428.33 293.80 L428.24 294.00 L428.14 294.20 L428.05 294.40 L427.97 294.60 L427.88 294.80 L427.80 295.00 L427.72 295.20 L427.63 295.40 L427.55 295.60 L427.46 295.80 L427.37 296.00 L427.28 296.20 L427.19 296.40 L427.09 296.60 L427.00 296.80 L426.90 297.00 L426.81 297.20 L426.71 297.40 L426.62 297.60 L426.52 297.80 L426.43 298.00 L426.34 298.20 L426.25 298.40 L426.16 298.60 L426.07 298.80 L425.99 299.00 L425.90 299.20 L425.82 299.40 L425.75 299.60 L425.67 299.80 L425.60 300.00 L425.53 300.20 L425.47 300.40 L425.40 300.60 L425.34 300.80 L425.28 301.00 L425.22 301.20 L425.16 301.40 L425.11 301.60 L425.05 301.80 L425.00 302.00 L424.95 302.20 L424.90 302.40 L424.85 302.60 L424.80 302.80 L424.75 303.00 L424.71 303.20 L424.67 303.40 L424.62 303.60 L424.58 303.80 L424.54 304.00 L424.50 304.20 L424.46 304.40 L424.42 304.60 L424.39 304.80 L424.35 305.00 L424.32 305.20 L424.28 305.40 L424.25 305.60 L424.22 305.80 L424.19 306.00 L424.17 306.20 L424.14 306.40 L424.12 306.60 L424.10 306.80 L424.08 307.00 L424.06 307.20 L424.04 307.40 L424.02 307.60 L424.00 307.80 L423.98 308.00 L423.97 308.20 L423.95 308.40 L423.93 308.60 L423.91 308.80 L423.90 309.00 L423.88 309.20 L423.86 309.40 L423.84 309.60 L423.82 309.80 L423.80 310.00 L423.78 310.20 L423.76 310.40 L423.74 310.60 L423.71 310.80 L423.69 311.00 L423.67 311.20 L423.65 311.40 L423.62 311.60 L423.60 311.80 L423.58 312.00 L423.56 312.20 L423.53 312.40 L423.51 312.60 L423.49 312.80 L423.47 313.00 L423.45 313.20 L423.43 313.40 L423.41 313.60 L423.39 313.80 L423.38 314.00 L423.36 314.20 L423.34 314.40 L423.33 314.60 L423.31 314.80 L423.30 315.00 L423.30 315.20 L423.30 315.40 L423.30 315.60 L423.30 315.80 L423.30 316.00 L423.30 316.20 L423.30 316.40 L423.30 316.60 L423.30 316.80 L423.30 317.00 L423.30 317.20 L423.30 317.40 L423.30 317.60 L423.30 317.80 L423.30 318.00 L423.31 318.20 L423.34 318.40 L423.36 318.60 L423.39 318.80 L423.42 319.00 L423.45 319.20 L423.49 319.40 L423.53 319.60 L423.56 319.80 L423.60 320.00 L423.64 320.21 L423.68 320.42 L423.72 320.62 L423.76 320.83 L423.80 321.04 L423.85 321.25 L423.89 321.46 L423.93 321.67 L423.98 321.88 L424.02 322.08 L424.06 322.29 L424.10 322.50 L424.14 322.70 L424.18 322.91 L424.22 323.11 L424.25 323.32 L424.29 323.52 L424.33 323.73 L424.36 323.93 L424.40 324.14 L424.43 324.34 L424.47 324.55 L424.50 324.75 L424.50 324.88 L424.50 325.00 L420.70 325.00 L420.70 324.88 L420.70 324.75 L420.73 324.55 L420.77 324.34 L420.80 324.14 L420.84 323.93 L420.87 323.73 L420.91 323.52 L420.95 323.32 L420.98 323.11 L421.02 322.91 L421.06 322.70 L421.10 322.50 L421.14 322.29 L421.18 322.08 L421.22 321.88 L421.27 321.67 L421.31 321.46 L421.35 321.25 L421.40 321.04 L421.44 320.83 L421.48 320.62 L421.52 320.42 L421.56 320.21 L421.60 320.00 L421.64 319.80 L421.67 319.60 L421.71 319.40 L421.75 319.20 L421.78 319.00 L421.81 318.80 L421.84 318.60 L421.86 318.40 L421.89 318.20 L421.90 318.00 L421.90 317.80 L421.90 317.60 L421.90 317.40 L421.90 317.20 L421.90 317.00 L421.90 316.80 L421.90 316.60 L421.90 316.40 L421.90 316.20 L421.90 316.00 L421.90 315.80 L421.90 315.60 L421.90 315.40 L421.90 315.20 L421.90 315.00 L421.89 314.80 L421.87 314.60 L421.86 314.40 L421.84 314.20 L421.82 314.00 L421.81 313.80 L421.79 313.60 L421.77 313.40 L421.75 313.20 L421.73 313.00 L421.71 312.80 L421.69 312.60 L421.67 312.40 L421.64 312.20 L421.62 312.00 L421.60 311.80 L421.58 311.60 L421.55 311.40 L421.53 311.20 L421.51 311.00 L421.49 310.80 L421.46 310.60 L421.44 310.40 L421.42 310.20 L421.40 310.00 L421.38 309.80 L421.36 309.60 L421.34 309.40 L421.32 309.20 L421.30 309.00 L421.29 308.80 L421.27 308.60 L421.25 308.40 L421.23 308.20 L421.22 308.00 L421.20 307.80 L421.18 307.60 L421.16 307.40 L421.14 307.20 L421.12 307.00 L421.10 306.80 L421.08 306.60 L421.06 306.40 L421.03 306.20 L421.01 306.00 L420.98 305.80 L420.95 305.60 L420.92 305.40 L420.88 305.20 L420.85 305.00 L420.81 304.80 L420.78 304.60 L420.74 304.40 L420.70 304.20 L420.66 304.00 L420.62 303.80 L420.58 303.60 L420.53 303.40 L420.49 303.20 L420.45 303.00 L420.40 302.80 L420.35 302.60 L420.30 302.40 L420.25 302.20 L420.20 302.00 L420.15 301.80 L420.09 301.60 L420.04 301.40 L419.98 301.20 L419.92 301.00 L419.86 300.80 L419.80 300.60 L419.73 300.40 L419.67 300.20 L419.60 300.00 L419.53 299.80 L419.45 299.60 L419.38 299.40 L419.30 299.20 L419.21 299.00 L419.13 298.80 L419.04 298.60 L418.95 298.40 L418.86 298.20 L418.77 298.00 L418.68 297.80 L418.58 297.60 L418.49 297.40 L418.39 297.20 L418.30 297.00 L418.20 296.80 L418.11 296.60 L418.01 296.40 L417.92 296.20 L417.83 296.00 L417.74 295.80 L417.65 295.60 L417.57 295.40 L417.48 295.20 L417.40 295.00 L417.32 294.80 L417.23 294.60 L417.15 294.40 L417.06 294.20 L416.96 294.00 L416.87 293.80 L416.78 293.60 L416.68 293.40 L416.59 293.20 L416.50 293.00 L416.41 292.80 L416.32 292.60 L416.23 292.40 L416.15 292.20 L416.07 292.00 L416.00 291.80 L415.93 291.60 L415.86 291.40 L415.80 291.20 L415.75 291.00 L415.70 290.80 L415.66 290.60 L415.63 290.40 L415.61 290.20 L415.60 290.00 L415.60 289.80 L415.61 289.60 L415.63 289.40 L415.65 289.20 L415.68 289.00 L415.71 288.80 L415.75 288.60 L415.80 288.40 L415.84 288.20 L415.90 288.00 L415.95 287.80 L416.01 287.60 L416.08 287.40 L416.14 287.20 L416.21 287.00 L416.28 286.80 L416.36 286.60 L416.43 286.40 L416.51 286.20 L416.59 286.00 L416.67 285.80 L416.75 285.60 L416.84 285.40 L416.92 285.20 L417.00 285.00 L417.08 284.80 L417.17 284.60 L417.26 284.40 L417.36 284.20 L417.46 284.00 L417.56 283.80 L417.67 283.60 L417.77 283.40 L417.88 283.20 L417.99 283.00 L418.11 282.80 L418.22 282.60 L418.34 282.40 L418.45 282.20 L418.57 282.00 L418.68 281.80 L418.80 281.60 L418.92 281.40 L419.03 281.20 L419.15 281.00 L419.26 280.80 L419.37 280.60 L419.49 280.40 L419.59 280.20 L419.70 280.00 L419.81 279.79 L419.93 279.58 L420.05 279.38 L420.17 279.17 L420.29 278.96 L420.41 278.75 L420.54 278.54 L420.66 278.33 L420.78 278.12 L420.89 277.92 L421.01 277.71 L421.11 277.50 L421.21 277.29 L421.31 277.08 L421.39 276.88 L421.47 276.67 L421.54 276.46 L421.60 276.25Z" fill="#C8102E"/>
<path d="M439.00 275.60 L439.04 275.81 L439.09 276.02 L439.14 276.23 L439.19 276.44 L439.25 276.65 L439.32 276.86 L439.39 277.07 L439.46 277.28 L439.53 277.49 L439.61 277.70 L439.69 277.90 L439.78 278.11 L439.86 278.32 L439.95 278.53 L440.04 278.74 L440.13 278.95 L440.22 279.16 L440.32 279.37 L440.41 279.58 L440.51 279.79 L440.60 280.00 L440.69 280.20 L440.79 280.40 L440.88 280.60 L440.98 280.81 L441.09 281.01 L441.19 281.21 L441.29 281.41 L441.40 281.61 L441.51 281.81 L441.62 282.02 L441.73 282.22 L441.84 282.42 L441.95 282.62 L442.06 282.82 L442.17 283.02 L442.28 283.23 L442.39 283.43 L442.50 283.63 L442.61 283.83 L442.72 284.03 L442.83 284.23 L442.94 284.44 L443.04 284.64 L443.14 284.84 L443.24 285.04 L443.34 285.24 L443.44 285.44 L443.53 285.65 L443.63 285.85 L443.71 286.05 L443.80 286.25 L443.88 286.45 L443.97 286.65 L444.06 286.85 L444.15 287.06 L444.23 287.26 L444.32 287.46 L444.41 287.66 L444.50 287.86 L444.59 288.06 L444.67 288.27 L444.76 288.47 L444.85 288.67 L444.93 288.87 L445.01 289.07 L445.09 289.27 L445.16 289.48 L445.24 289.68 L445.31 289.88 L445.37 290.08 L445.43 290.28 L445.49 290.48 L445.55 290.69 L445.60 290.89 L445.64 291.09 L445.68 291.29 L445.72 291.49 L445.75 291.69 L445.77 291.90 L445.79 292.10 L445.80 292.30 L445.80 292.50 L445.77 292.70 L445.74 292.90 L445.69 293.10 L445.63 293.31 L445.57 293.51 L445.49 293.71 L445.41 293.91 L445.32 294.11 L445.22 294.31 L445.12 294.52 L445.01 294.72 L444.89 294.92 L444.77 295.12 L444.65 295.32 L444.53 295.52 L444.40 295.73 L444.27 295.93 L444.14 296.13 L444.00 296.33 L443.87 296.53 L443.74 296.73 L443.61 296.94 L443.48 297.14 L443.36 297.34 L443.23 297.54 L443.12 297.74 L443.00 297.94 L442.89 298.15 L442.79 298.35 L442.69 298.55 L442.60 298.75 L442.51 298.95 L442.43 299.15 L442.35 299.35 L442.26 299.56 L442.18 299.76 L442.10 299.96 L442.03 300.16 L441.95 300.36 L441.87 300.56 L441.80 300.77 L441.72 300.97 L441.65 301.17 L441.58 301.37 L441.51 301.57 L441.44 301.77 L441.37 301.98 L441.30 302.18 L441.23 302.38 L441.17 302.58 L441.10 302.78 L441.04 302.98 L440.97 303.19 L440.91 303.39 L440.84 303.59 L440.78 303.79 L440.71 303.99 L440.65 304.19 L440.59 304.40 L440.53 304.60 L440.46 304.80 L440.40 305.00 L440.34 305.21 L440.27 305.42 L440.21 305.62 L440.16 305.83 L440.10 306.04 L440.04 306.25 L439.99 306.46 L439.94 306.67 L439.89 306.88 L439.84 307.08 L439.79 307.29 L439.74 307.50 L439.70 307.71 L439.66 307.92 L439.61 308.12 L439.58 308.33 L439.54 308.54 L439.50 308.75 L439.47 308.96 L439.43 309.17 L439.40 309.38 L439.38 309.58 L439.35 309.79 L439.33 310.00 L439.30 310.21 L439.28 310.42 L439.26 310.62 L439.24 310.83 L439.23 311.04 L439.21 311.25 L439.19 311.46 L439.17 311.67 L439.16 311.88 L439.14 312.08 L439.12 312.29 L439.10 312.50 L439.08 312.71 L439.06 312.93 L439.05 313.14 L439.03 313.36 L439.02 313.57 L439.01 313.79 L439.00 314.00 L438.00 314.00 L437.99 313.79 L437.98 313.57 L437.97 313.36 L437.95 313.14 L437.94 312.93 L437.92 312.71 L437.90 312.50 L437.88 312.29 L437.86 312.08 L437.84 311.88 L437.83 311.67 L437.81 311.46 L437.79 311.25 L437.77 311.04 L437.76 310.83 L437.74 310.62 L437.72 310.42 L437.70 310.21 L437.67 310.00 L437.65 309.79 L437.62 309.58 L437.60 309.38 L437.57 309.17 L437.53 308.96 L437.50 308.75 L437.46 308.54 L437.42 308.33 L437.39 308.12 L437.34 307.92 L437.30 307.71 L437.26 307.50 L437.21 307.29 L437.16 307.08 L437.11 306.88 L437.06 306.67 L437.01 306.46 L436.96 306.25 L436.90 306.04 L436.84 305.83 L436.79 305.62 L436.73 305.42 L436.66 305.21 L436.60 305.00 L436.54 304.80 L436.47 304.60 L436.41 304.40 L436.35 304.19 L436.29 303.99 L436.22 303.79 L436.16 303.59 L436.09 303.39 L436.03 303.19 L435.96 302.98 L435.90 302.78 L435.83 302.58 L435.77 302.38 L435.70 302.18 L435.63 301.98 L435.56 301.77 L435.49 301.57 L435.42 301.37 L435.35 301.17 L435.28 300.97 L435.20 300.77 L435.13 300.56 L435.05 300.36 L434.97 300.16 L434.90 299.96 L434.82 299.76 L434.74 299.56 L434.65 299.35 L434.57 299.15 L434.49 298.95 L434.40 298.75 L434.31 298.55 L434.21 298.35 L434.11 298.15 L434.00 297.94 L433.88 297.74 L433.77 297.54 L433.64 297.34 L433.52 297.14 L433.39 296.94 L433.26 296.73 L433.13 296.53 L433.00 296.33 L432.86 296.13 L432.73 295.93 L432.60 295.73 L432.47 295.52 L432.35 295.32 L432.23 295.12 L432.11 294.92 L431.99 294.72 L431.88 294.52 L431.78 294.31 L431.68 294.11 L431.59 293.91 L431.51 293.71 L431.43 293.51 L431.37 293.31 L431.31 293.10 L431.26 292.90 L431.23 292.70 L431.20 292.50 L431.20 292.30 L431.21 292.10 L431.23 291.90 L431.25 291.69 L431.28 291.49 L431.32 291.29 L431.36 291.09 L431.40 290.89 L431.45 290.69 L431.51 290.48 L431.57 290.28 L431.63 290.08 L431.69 289.88 L431.76 289.68 L431.84 289.48 L431.91 289.27 L431.99 289.07 L432.07 288.87 L432.15 288.67 L432.24 288.47 L432.33 288.27 L432.41 288.06 L432.50 287.86 L432.59 287.66 L432.68 287.46 L432.77 287.26 L432.85 287.06 L432.94 286.85 L433.03 286.65 L433.12 286.45 L433.20 286.25 L433.29 286.05 L433.37 285.85 L433.47 285.65 L433.56 285.44 L433.66 285.24 L433.76 285.04 L433.86 284.84 L433.96 284.64 L434.06 284.44 L434.17 284.23 L434.28 284.03 L434.39 283.83 L434.50 283.63 L434.61 283.43 L434.72 283.23 L434.83 283.02 L434.94 282.82 L435.05 282.62 L435.16 282.42 L435.27 282.22 L435.38 282.02 L435.49 281.81 L435.60 281.61 L435.71 281.41 L435.81 281.21 L435.91 281.01 L436.02 280.81 L436.12 280.60 L436.21 280.40 L436.31 280.20 L436.40 280.00 L436.49 279.79 L436.59 279.58 L436.68 279.37 L436.78 279.16 L436.87 278.95 L436.96 278.74 L437.05 278.53 L437.14 278.32 L437.22 278.11 L437.31 277.90 L437.39 277.70 L437.47 277.49 L437.54 277.28 L437.61 277.07 L437.68 276.86 L437.75 276.65 L437.81 276.44 L437.86 276.23 L437.91 276.02 L437.96 275.81 L438.00 275.60Z" fill="#134F86"/>
<rect x="438.00" y="313.70" width="1.00" height="6.90" fill="url(#g28)"/>
<path d="M435.50 325.00 Q437.78 323.90 438.10 320.60 L438.90 320.60 Q439.22 323.90 441.50 325.00Z" fill="#134F86"/>
<line x1="413.25" y1="269.00" x2="413.25" y2="327.90" stroke="#1a1a1a" stroke-width="1.2"/>
<line x1="412.65" y1="327.30" x2="446.75" y2="327.30" stroke="#1a1a1a" stroke-width="1.2"/>
<line x1="410.05" y1="275.50" x2="413.25" y2="275.50" stroke="#222" stroke-width="1.15"/>
<text x="406.55" y="278.50" font-size="8.6" stroke="#222" stroke-width="0.2" text-anchor="end" fill="#222" textLength="14.40" lengthAdjust="spacingAndGlyphs">10.0</text>
<line x1="410.05" y1="300.20" x2="413.25" y2="300.20" stroke="#222" stroke-width="1.15"/>
<text x="406.55" y="303.20" font-size="8.6" stroke="#222" stroke-width="0.2" text-anchor="end" fill="#222" textLength="10.20" lengthAdjust="spacingAndGlyphs">1.0</text>
<line x1="410.05" y1="324.80" x2="413.25" y2="324.80" stroke="#222" stroke-width="1.15"/>
<text x="406.55" y="327.80" font-size="8.6" stroke="#222" stroke-width="0.2" text-anchor="end" fill="#222" textLength="10.40" lengthAdjust="spacingAndGlyphs">0.1</text>
<line x1="422.60" y1="327.30" x2="422.60" y2="330.50" stroke="#222" stroke-width="1.1"/>
<line x1="438.50" y1="327.30" x2="438.50" y2="330.50" stroke="#222" stroke-width="1.1"/>
<text x="0.00" y="0.00" font-size="8.4" stroke="#222" stroke-width="0.2" text-anchor="end" fill="#222" textLength="27.40" lengthAdjust="spacingAndGlyphs" transform="translate(422.60,337.20) rotate(-45)">Control</text>
<text x="0.00" y="0.00" font-size="8.4" stroke="#222" stroke-width="0.2" text-anchor="end" fill="#222" textLength="31.00" lengthAdjust="spacingAndGlyphs" transform="translate(438.50,337.20) rotate(-45)">Low VWF</text>
<text x="494.75" y="261.00" font-size="7.2" font-weight="bold" text-anchor="middle" fill="#111">Cluster 4</text>
<text x="494.75" y="269.30" font-size="7.2" font-weight="bold" font-style="italic" text-anchor="middle" fill="#111">CDH5</text>
<path d="M488.70 281.00 L488.83 281.21 L489.00 281.43 L489.21 281.64 L489.44 281.86 L489.67 282.07 L489.90 282.29 L490.10 282.50 L490.29 282.71 L490.47 282.92 L490.67 283.12 L490.86 283.33 L491.06 283.54 L491.26 283.75 L491.45 283.96 L491.65 284.17 L491.84 284.38 L492.03 284.58 L492.22 284.79 L492.40 285.00 L492.57 285.21 L492.73 285.42 L492.89 285.62 L493.04 285.83 L493.17 286.04 L493.30 286.25 L493.41 286.45 L493.53 286.65 L493.64 286.85 L493.75 287.05 L493.85 287.25 L493.96 287.45 L494.06 287.65 L494.16 287.85 L494.25 288.05 L494.35 288.25 L494.43 288.45 L494.52 288.65 L494.60 288.85 L494.67 289.05 L494.74 289.25 L494.81 289.45 L494.86 289.65 L494.92 289.85 L494.96 290.05 L495.00 290.25 L495.04 290.45 L495.06 290.65 L495.08 290.85 L495.10 291.05 L495.10 291.25 L495.08 291.46 L495.05 291.66 L495.00 291.87 L494.93 292.08 L494.86 292.29 L494.77 292.49 L494.67 292.70 L494.56 292.91 L494.45 293.11 L494.33 293.32 L494.20 293.53 L494.07 293.74 L493.93 293.94 L493.80 294.15 L493.66 294.36 L493.52 294.56 L493.39 294.77 L493.26 294.98 L493.13 295.19 L493.01 295.39 L492.90 295.60 L492.79 295.81 L492.67 296.02 L492.55 296.23 L492.43 296.44 L492.30 296.65 L492.18 296.86 L492.05 297.07 L491.92 297.28 L491.79 297.49 L491.67 297.70 L491.54 297.90 L491.42 298.11 L491.30 298.32 L491.18 298.53 L491.07 298.74 L490.96 298.95 L490.85 299.16 L490.75 299.37 L490.66 299.58 L490.58 299.79 L490.50 300.00 L490.43 300.20 L490.37 300.40 L490.31 300.60 L490.26 300.80 L490.21 301.00 L490.16 301.20 L490.12 301.40 L490.08 301.60 L490.05 301.80 L490.01 302.00 L489.98 302.20 L489.95 302.40 L489.92 302.60 L489.90 302.80 L489.87 303.00 L489.85 303.20 L489.82 303.40 L489.80 303.60 L489.77 303.80 L489.75 304.00 L489.72 304.20 L489.69 304.40 L489.66 304.60 L489.63 304.80 L489.60 305.00 L489.56 305.21 L489.53 305.42 L489.50 305.62 L489.46 305.83 L489.43 306.04 L489.40 306.25 L489.36 306.46 L489.33 306.67 L489.30 306.88 L489.27 307.08 L489.23 307.29 L489.20 307.50 L489.17 307.71 L489.14 307.92 L489.10 308.12 L489.07 308.33 L489.03 308.54 L489.00 308.75 L488.96 308.95 L488.92 309.16 L488.88 309.36 L488.84 309.57 L488.80 309.77 L488.76 309.98 L488.72 310.18 L488.68 310.39 L488.65 310.59 L488.62 310.80 L488.60 311.00 L487.40 311.00 L487.38 310.80 L487.35 310.59 L487.32 310.39 L487.28 310.18 L487.24 309.98 L487.20 309.77 L487.16 309.57 L487.12 309.36 L487.08 309.16 L487.04 308.95 L487.00 308.75 L486.97 308.54 L486.93 308.33 L486.90 308.12 L486.86 307.92 L486.83 307.71 L486.80 307.50 L486.77 307.29 L486.73 307.08 L486.70 306.88 L486.67 306.67 L486.64 306.46 L486.60 306.25 L486.57 306.04 L486.54 305.83 L486.50 305.62 L486.47 305.42 L486.44 305.21 L486.40 305.00 L486.37 304.80 L486.34 304.60 L486.31 304.40 L486.28 304.20 L486.25 304.00 L486.23 303.80 L486.20 303.60 L486.18 303.40 L486.15 303.20 L486.13 303.00 L486.10 302.80 L486.08 302.60 L486.05 302.40 L486.02 302.20 L485.99 302.00 L485.95 301.80 L485.92 301.60 L485.88 301.40 L485.84 301.20 L485.79 301.00 L485.74 300.80 L485.69 300.60 L485.63 300.40 L485.57 300.20 L485.50 300.00 L485.42 299.79 L485.34 299.58 L485.25 299.37 L485.15 299.16 L485.04 298.95 L484.93 298.74 L484.82 298.53 L484.70 298.32 L484.58 298.11 L484.46 297.90 L484.33 297.70 L484.21 297.49 L484.08 297.28 L483.95 297.07 L483.82 296.86 L483.70 296.65 L483.57 296.44 L483.45 296.23 L483.33 296.02 L483.21 295.81 L483.10 295.60 L482.99 295.39 L482.87 295.19 L482.74 294.98 L482.61 294.77 L482.48 294.56 L482.34 294.36 L482.20 294.15 L482.07 293.94 L481.93 293.74 L481.80 293.53 L481.67 293.32 L481.55 293.11 L481.44 292.91 L481.33 292.70 L481.23 292.49 L481.14 292.29 L481.07 292.08 L481.00 291.87 L480.95 291.66 L480.92 291.46 L480.90 291.25 L480.90 291.05 L480.92 290.85 L480.94 290.65 L480.96 290.45 L481.00 290.25 L481.04 290.05 L481.08 289.85 L481.14 289.65 L481.19 289.45 L481.26 289.25 L481.33 289.05 L481.40 288.85 L481.48 288.65 L481.57 288.45 L481.65 288.25 L481.75 288.05 L481.84 287.85 L481.94 287.65 L482.04 287.45 L482.15 287.25 L482.25 287.05 L482.36 286.85 L482.47 286.65 L482.59 286.45 L482.70 286.25 L482.83 286.04 L482.96 285.83 L483.11 285.62 L483.27 285.42 L483.43 285.21 L483.60 285.00 L483.78 284.79 L483.97 284.58 L484.16 284.38 L484.35 284.17 L484.55 283.96 L484.74 283.75 L484.94 283.54 L485.14 283.33 L485.33 283.12 L485.53 282.92 L485.71 282.71 L485.90 282.50 L486.10 282.29 L486.33 282.07 L486.56 281.86 L486.79 281.64 L487.00 281.43 L487.17 281.21 L487.30 281.00Z" fill="#C8102E"/>
<path d="M487.58 275.60 L488.42 275.60 L488.70 281.30 L487.30 281.30Z" fill="url(#g29)"/>
<rect x="487.50" y="310.70" width="1.00" height="10.80" fill="url(#g30)"/>
<path d="M486.62 325.00 Q487.67 324.12 487.60 321.50 L488.40 321.50 Q488.33 324.12 489.38 325.00Z" fill="#C8102E"/>
<path d="M504.20 280.60 L504.25 280.81 L504.31 281.02 L504.38 281.23 L504.46 281.44 L504.54 281.65 L504.62 281.86 L504.72 282.07 L504.82 282.28 L504.93 282.49 L505.04 282.70 L505.16 282.91 L505.29 283.12 L505.42 283.33 L505.56 283.54 L505.70 283.75 L505.85 283.96 L506.02 284.17 L506.21 284.38 L506.40 284.59 L506.60 284.80 L506.81 285.01 L507.02 285.22 L507.24 285.43 L507.45 285.64 L507.66 285.85 L507.87 286.06 L508.07 286.27 L508.26 286.48 L508.43 286.69 L508.60 286.90 L508.76 287.11 L508.92 287.31 L509.09 287.52 L509.25 287.73 L509.41 287.93 L509.57 288.14 L509.72 288.35 L509.86 288.55 L509.99 288.76 L510.11 288.97 L510.21 289.17 L510.29 289.38 L510.35 289.59 L510.39 289.79 L510.40 290.00 L510.38 290.21 L510.34 290.42 L510.28 290.63 L510.21 290.84 L510.12 291.05 L510.02 291.26 L509.92 291.47 L509.80 291.68 L509.68 291.89 L509.54 292.10 L509.41 292.30 L509.27 292.51 L509.13 292.72 L508.99 292.93 L508.85 293.14 L508.71 293.35 L508.57 293.56 L508.44 293.77 L508.32 293.98 L508.21 294.19 L508.10 294.40 L508.00 294.60 L507.91 294.80 L507.81 295.00 L507.71 295.20 L507.61 295.40 L507.51 295.60 L507.41 295.80 L507.31 296.00 L507.21 296.20 L507.11 296.40 L507.02 296.60 L506.92 296.80 L506.82 297.00 L506.73 297.20 L506.63 297.40 L506.54 297.60 L506.45 297.80 L506.36 298.00 L506.27 298.20 L506.19 298.40 L506.10 298.60 L506.02 298.80 L505.95 299.00 L505.87 299.20 L505.80 299.40 L505.73 299.60 L505.66 299.80 L505.60 300.00 L505.54 300.20 L505.48 300.40 L505.43 300.60 L505.38 300.81 L505.33 301.01 L505.28 301.21 L505.24 301.41 L505.19 301.61 L505.15 301.81 L505.12 302.02 L505.08 302.22 L505.04 302.42 L505.01 302.62 L504.98 302.82 L504.95 303.02 L504.91 303.23 L504.89 303.43 L504.86 303.63 L504.83 303.83 L504.80 304.03 L504.77 304.23 L504.75 304.44 L504.72 304.64 L504.69 304.84 L504.67 305.04 L504.64 305.24 L504.61 305.44 L504.59 305.65 L504.56 305.85 L504.53 306.05 L504.50 306.25 L504.47 306.46 L504.44 306.67 L504.41 306.88 L504.39 307.08 L504.36 307.29 L504.34 307.50 L504.31 307.71 L504.29 307.92 L504.27 308.12 L504.25 308.33 L504.23 308.54 L504.21 308.75 L504.19 308.96 L504.17 309.17 L504.15 309.38 L504.14 309.58 L504.12 309.79 L504.10 310.00 L504.08 310.20 L504.07 310.40 L504.06 310.60 L504.04 310.80 L504.03 311.00 L504.03 311.20 L504.02 311.40 L504.01 311.60 L504.01 311.80 L504.00 312.00 L503.00 312.00 L502.99 311.80 L502.99 311.60 L502.98 311.40 L502.97 311.20 L502.97 311.00 L502.96 310.80 L502.94 310.60 L502.93 310.40 L502.92 310.20 L502.90 310.00 L502.88 309.79 L502.86 309.58 L502.85 309.38 L502.83 309.17 L502.81 308.96 L502.79 308.75 L502.77 308.54 L502.75 308.33 L502.73 308.12 L502.71 307.92 L502.69 307.71 L502.66 307.50 L502.64 307.29 L502.61 307.08 L502.59 306.88 L502.56 306.67 L502.53 306.46 L502.50 306.25 L502.47 306.05 L502.44 305.85 L502.41 305.65 L502.39 305.44 L502.36 305.24 L502.33 305.04 L502.31 304.84 L502.28 304.64 L502.25 304.44 L502.23 304.23 L502.20 304.03 L502.17 303.83 L502.14 303.63 L502.11 303.43 L502.09 303.23 L502.05 303.02 L502.02 302.82 L501.99 302.62 L501.96 302.42 L501.92 302.22 L501.88 302.02 L501.85 301.81 L501.81 301.61 L501.76 301.41 L501.72 301.21 L501.67 301.01 L501.62 300.81 L501.57 300.60 L501.52 300.40 L501.46 300.20 L501.40 300.00 L501.34 299.80 L501.27 299.60 L501.20 299.40 L501.13 299.20 L501.05 299.00 L500.98 298.80 L500.90 298.60 L500.81 298.40 L500.73 298.20 L500.64 298.00 L500.55 297.80 L500.46 297.60 L500.37 297.40 L500.27 297.20 L500.18 297.00 L500.08 296.80 L499.98 296.60 L499.89 296.40 L499.79 296.20 L499.69 296.00 L499.59 295.80 L499.49 295.60 L499.39 295.40 L499.29 295.20 L499.19 295.00 L499.09 294.80 L499.00 294.60 L498.90 294.40 L498.79 294.19 L498.68 293.98 L498.56 293.77 L498.43 293.56 L498.29 293.35 L498.15 293.14 L498.01 292.93 L497.87 292.72 L497.73 292.51 L497.59 292.30 L497.46 292.10 L497.32 291.89 L497.20 291.68 L497.08 291.47 L496.98 291.26 L496.88 291.05 L496.79 290.84 L496.72 290.63 L496.66 290.42 L496.62 290.21 L496.60 290.00 L496.61 289.79 L496.65 289.59 L496.71 289.38 L496.79 289.17 L496.89 288.97 L497.01 288.76 L497.14 288.55 L497.28 288.35 L497.43 288.14 L497.59 287.93 L497.75 287.73 L497.91 287.52 L498.08 287.31 L498.24 287.11 L498.40 286.90 L498.57 286.69 L498.74 286.48 L498.93 286.27 L499.13 286.06 L499.34 285.85 L499.55 285.64 L499.76 285.43 L499.98 285.22 L500.19 285.01 L500.40 284.80 L500.60 284.59 L500.79 284.38 L500.98 284.17 L501.15 283.96 L501.30 283.75 L501.44 283.54 L501.58 283.33 L501.71 283.12 L501.84 282.91 L501.96 282.70 L502.07 282.49 L502.18 282.28 L502.28 282.07 L502.38 281.86 L502.46 281.65 L502.54 281.44 L502.62 281.23 L502.69 281.02 L502.75 280.81 L502.80 280.60Z" fill="#134F86"/>
<rect x="503.00" y="311.70" width="1.00" height="9.55" fill="url(#g31)"/>
<path d="M500.80 325.00 Q502.85 324.06 503.10 321.25 L503.90 321.25 Q504.15 324.06 506.20 325.00Z" fill="#134F86"/>
<line x1="478.25" y1="269.00" x2="478.25" y2="327.90" stroke="#1a1a1a" stroke-width="1.2"/>
<line x1="477.65" y1="327.30" x2="511.75" y2="327.30" stroke="#1a1a1a" stroke-width="1.2"/>
<line x1="475.05" y1="283.10" x2="478.25" y2="283.10" stroke="#222" stroke-width="1.15"/>
<text x="471.55" y="286.10" font-size="8.6" stroke="#222" stroke-width="0.2" text-anchor="end" fill="#222" textLength="14.40" lengthAdjust="spacingAndGlyphs">10.0</text>
<line x1="475.05" y1="304.20" x2="478.25" y2="304.20" stroke="#222" stroke-width="1.15"/>
<text x="471.55" y="307.20" font-size="8.6" stroke="#222" stroke-width="0.2" text-anchor="end" fill="#222" textLength="10.20" lengthAdjust="spacingAndGlyphs">1.0</text>
<line x1="475.05" y1="324.80" x2="478.25" y2="324.80" stroke="#222" stroke-width="1.15"/>
<text x="471.55" y="327.80" font-size="8.6" stroke="#222" stroke-width="0.2" text-anchor="end" fill="#222" textLength="10.40" lengthAdjust="spacingAndGlyphs">0.1</text>
<line x1="488.00" y1="327.30" x2="488.00" y2="330.50" stroke="#222" stroke-width="1.1"/>
<line x1="503.50" y1="327.30" x2="503.50" y2="330.50" stroke="#222" stroke-width="1.1"/>
<text x="0.00" y="0.00" font-size="8.4" stroke="#222" stroke-width="0.2" text-anchor="end" fill="#222" textLength="27.40" lengthAdjust="spacingAndGlyphs" transform="translate(488.00,337.20) rotate(-45)">Control</text>
<text x="0.00" y="0.00" font-size="8.4" stroke="#222" stroke-width="0.2" text-anchor="end" fill="#222" textLength="31.00" lengthAdjust="spacingAndGlyphs" transform="translate(503.50,337.20) rotate(-45)">Low VWF</text>
<text x="301.75" y="373.60" font-size="7.2" font-weight="bold" text-anchor="middle" fill="#111">Cluster 5</text>
<text x="301.75" y="381.90" font-size="7.2" font-weight="bold" font-style="italic" text-anchor="middle" fill="#111">CDH5</text>
<path d="M295.00 389.25 L295.03 389.46 L295.07 389.67 L295.10 389.88 L295.14 390.09 L295.19 390.30 L295.24 390.51 L295.29 390.72 L295.35 390.93 L295.41 391.14 L295.48 391.35 L295.55 391.56 L295.63 391.77 L295.71 391.98 L295.80 392.19 L295.90 392.40 L296.00 392.61 L296.12 392.81 L296.24 393.02 L296.37 393.23 L296.50 393.43 L296.64 393.64 L296.79 393.85 L296.94 394.05 L297.09 394.26 L297.24 394.47 L297.39 394.67 L297.55 394.88 L297.70 395.09 L297.85 395.29 L298.00 395.50 L298.15 395.71 L298.31 395.91 L298.47 396.12 L298.63 396.33 L298.80 396.53 L298.96 396.74 L299.13 396.95 L299.30 397.15 L299.46 397.36 L299.62 397.57 L299.77 397.77 L299.92 397.98 L300.05 398.19 L300.18 398.39 L300.30 398.60 L300.41 398.81 L300.53 399.02 L300.63 399.23 L300.74 399.44 L300.84 399.65 L300.93 399.86 L301.02 400.07 L301.10 400.28 L301.18 400.49 L301.24 400.70 L301.30 400.91 L301.34 401.12 L301.37 401.33 L301.39 401.54 L301.40 401.75 L301.38 401.95 L301.36 402.15 L301.32 402.35 L301.28 402.55 L301.24 402.75 L301.19 402.95 L301.13 403.15 L301.07 403.35 L301.01 403.55 L300.94 403.75 L300.87 403.95 L300.79 404.15 L300.71 404.35 L300.63 404.55 L300.55 404.75 L300.47 404.95 L300.38 405.15 L300.29 405.35 L300.21 405.55 L300.12 405.75 L300.03 405.95 L299.95 406.15 L299.86 406.35 L299.78 406.55 L299.70 406.75 L299.62 406.95 L299.53 407.15 L299.45 407.35 L299.36 407.55 L299.26 407.75 L299.17 407.95 L299.07 408.15 L298.98 408.35 L298.88 408.55 L298.78 408.75 L298.68 408.95 L298.58 409.15 L298.48 409.35 L298.38 409.55 L298.28 409.75 L298.19 409.95 L298.09 410.15 L298.00 410.35 L297.90 410.55 L297.81 410.75 L297.72 410.95 L297.64 411.15 L297.56 411.35 L297.48 411.55 L297.40 411.75 L297.33 411.95 L297.26 412.15 L297.19 412.35 L297.12 412.55 L297.05 412.75 L296.99 412.95 L296.93 413.15 L296.87 413.35 L296.81 413.55 L296.75 413.75 L296.69 413.95 L296.64 414.15 L296.58 414.35 L296.53 414.55 L296.48 414.75 L296.43 414.95 L296.38 415.15 L296.33 415.35 L296.28 415.55 L296.23 415.75 L296.19 415.95 L296.14 416.15 L296.09 416.35 L296.05 416.55 L296.00 416.75 L295.95 416.96 L295.91 417.17 L295.87 417.38 L295.83 417.58 L295.79 417.79 L295.75 418.00 L295.72 418.21 L295.68 418.42 L295.65 418.62 L295.62 418.83 L295.59 419.04 L295.56 419.25 L295.53 419.46 L295.50 419.67 L295.48 419.88 L295.45 420.08 L295.43 420.29 L295.40 420.50 L295.38 420.71 L295.35 420.92 L295.33 421.12 L295.31 421.33 L295.30 421.54 L295.28 421.75 L295.26 421.96 L295.25 422.17 L295.23 422.38 L295.22 422.58 L295.20 422.79 L295.19 423.00 L295.18 423.21 L295.16 423.42 L295.15 423.62 L295.13 423.83 L295.12 424.04 L295.10 424.25 L295.08 424.47 L295.06 424.69 L295.04 424.91 L295.02 425.12 L295.00 425.34 L294.98 425.56 L294.96 425.78 L294.95 426.00 L293.85 426.00 L293.84 425.78 L293.82 425.56 L293.80 425.34 L293.78 425.12 L293.76 424.91 L293.74 424.69 L293.72 424.47 L293.70 424.25 L293.68 424.04 L293.67 423.83 L293.65 423.62 L293.64 423.42 L293.62 423.21 L293.61 423.00 L293.60 422.79 L293.58 422.58 L293.57 422.38 L293.55 422.17 L293.54 421.96 L293.52 421.75 L293.50 421.54 L293.49 421.33 L293.47 421.12 L293.45 420.92 L293.42 420.71 L293.40 420.50 L293.37 420.29 L293.35 420.08 L293.32 419.88 L293.30 419.67 L293.27 419.46 L293.24 419.25 L293.21 419.04 L293.18 418.83 L293.15 418.62 L293.12 418.42 L293.08 418.21 L293.05 418.00 L293.01 417.79 L292.97 417.58 L292.93 417.38 L292.89 417.17 L292.85 416.96 L292.80 416.75 L292.75 416.55 L292.71 416.35 L292.66 416.15 L292.61 415.95 L292.57 415.75 L292.52 415.55 L292.47 415.35 L292.42 415.15 L292.37 414.95 L292.32 414.75 L292.27 414.55 L292.22 414.35 L292.16 414.15 L292.11 413.95 L292.05 413.75 L291.99 413.55 L291.93 413.35 L291.87 413.15 L291.81 412.95 L291.75 412.75 L291.68 412.55 L291.61 412.35 L291.54 412.15 L291.47 411.95 L291.40 411.75 L291.32 411.55 L291.24 411.35 L291.16 411.15 L291.08 410.95 L290.99 410.75 L290.90 410.55 L290.80 410.35 L290.71 410.15 L290.61 409.95 L290.52 409.75 L290.42 409.55 L290.32 409.35 L290.22 409.15 L290.12 408.95 L290.02 408.75 L289.92 408.55 L289.82 408.35 L289.73 408.15 L289.63 407.95 L289.54 407.75 L289.44 407.55 L289.35 407.35 L289.27 407.15 L289.18 406.95 L289.10 406.75 L289.02 406.55 L288.94 406.35 L288.85 406.15 L288.77 405.95 L288.68 405.75 L288.59 405.55 L288.51 405.35 L288.42 405.15 L288.33 404.95 L288.25 404.75 L288.17 404.55 L288.09 404.35 L288.01 404.15 L287.93 403.95 L287.86 403.75 L287.79 403.55 L287.73 403.35 L287.67 403.15 L287.61 402.95 L287.56 402.75 L287.52 402.55 L287.48 402.35 L287.44 402.15 L287.42 401.95 L287.40 401.75 L287.41 401.54 L287.43 401.33 L287.46 401.12 L287.50 400.91 L287.56 400.70 L287.62 400.49 L287.70 400.28 L287.78 400.07 L287.87 399.86 L287.96 399.65 L288.06 399.44 L288.17 399.23 L288.27 399.02 L288.39 398.81 L288.50 398.60 L288.62 398.39 L288.75 398.19 L288.88 397.98 L289.03 397.77 L289.18 397.57 L289.34 397.36 L289.50 397.15 L289.67 396.95 L289.84 396.74 L290.00 396.53 L290.17 396.33 L290.33 396.12 L290.49 395.91 L290.65 395.71 L290.80 395.50 L290.95 395.29 L291.10 395.09 L291.25 394.88 L291.41 394.67 L291.56 394.47 L291.71 394.26 L291.86 394.05 L292.01 393.85 L292.16 393.64 L292.30 393.43 L292.43 393.23 L292.56 393.02 L292.68 392.81 L292.80 392.61 L292.90 392.40 L293.00 392.19 L293.09 391.98 L293.17 391.77 L293.25 391.56 L293.32 391.35 L293.39 391.14 L293.45 390.93 L293.51 390.72 L293.56 390.51 L293.61 390.30 L293.66 390.09 L293.70 389.88 L293.73 389.67 L293.77 389.46 L293.80 389.25Z" fill="#C8102E"/>
<rect x="293.90" y="425.70" width="1.00" height="8.55" fill="url(#g32)"/>
<path d="M292.40 438.00 Q293.92 437.06 294.00 434.25 L294.80 434.25 Q294.88 437.06 296.40 438.00Z" fill="#C8102E"/>
<path d="M310.50 389.90 L310.56 390.11 L310.64 390.31 L310.72 390.52 L310.82 390.73 L310.93 390.93 L311.04 391.14 L311.16 391.35 L311.28 391.55 L311.41 391.76 L311.54 391.97 L311.67 392.17 L311.81 392.38 L311.94 392.59 L312.07 392.79 L312.20 393.00 L312.33 393.21 L312.46 393.42 L312.60 393.62 L312.74 393.83 L312.88 394.04 L313.03 394.25 L313.17 394.46 L313.32 394.67 L313.47 394.88 L313.61 395.08 L313.76 395.29 L313.90 395.50 L314.04 395.71 L314.18 395.92 L314.32 396.12 L314.45 396.33 L314.58 396.54 L314.70 396.75 L314.82 396.95 L314.94 397.15 L315.07 397.35 L315.20 397.55 L315.33 397.75 L315.47 397.95 L315.61 398.15 L315.74 398.35 L315.88 398.55 L316.01 398.75 L316.14 398.95 L316.27 399.15 L316.40 399.35 L316.52 399.55 L316.63 399.75 L316.74 399.95 L316.83 400.15 L316.93 400.35 L317.01 400.55 L317.08 400.75 L317.14 400.95 L317.19 401.15 L317.22 401.35 L317.24 401.55 L317.25 401.75 L317.24 401.95 L317.20 402.15 L317.16 402.35 L317.09 402.55 L317.02 402.75 L316.93 402.95 L316.83 403.15 L316.72 403.35 L316.60 403.55 L316.47 403.75 L316.34 403.95 L316.20 404.15 L316.06 404.35 L315.91 404.55 L315.76 404.75 L315.61 404.95 L315.46 405.15 L315.31 405.35 L315.16 405.55 L315.02 405.75 L314.88 405.95 L314.75 406.15 L314.63 406.35 L314.51 406.55 L314.40 406.75 L314.30 406.95 L314.19 407.15 L314.09 407.35 L313.99 407.55 L313.88 407.75 L313.78 407.95 L313.68 408.15 L313.57 408.35 L313.47 408.55 L313.37 408.75 L313.27 408.95 L313.18 409.15 L313.08 409.35 L312.99 409.55 L312.89 409.75 L312.80 409.95 L312.71 410.15 L312.63 410.35 L312.54 410.55 L312.46 410.75 L312.38 410.95 L312.31 411.15 L312.23 411.35 L312.17 411.55 L312.10 411.75 L312.04 411.95 L311.98 412.15 L311.92 412.35 L311.87 412.55 L311.82 412.75 L311.78 412.95 L311.73 413.15 L311.69 413.35 L311.65 413.55 L311.62 413.75 L311.58 413.95 L311.55 414.15 L311.52 414.35 L311.49 414.55 L311.46 414.75 L311.43 414.95 L311.40 415.15 L311.38 415.35 L311.35 415.55 L311.33 415.75 L311.30 415.95 L311.28 416.15 L311.25 416.35 L311.23 416.55 L311.20 416.75 L311.17 416.95 L311.15 417.15 L311.13 417.35 L311.11 417.55 L311.09 417.75 L311.07 417.95 L311.05 418.15 L311.04 418.35 L311.02 418.55 L311.01 418.75 L310.99 418.95 L310.98 419.15 L310.96 419.35 L310.95 419.55 L310.94 419.75 L310.93 419.95 L310.91 420.15 L310.90 420.35 L310.89 420.55 L310.87 420.75 L310.86 420.95 L310.85 421.15 L310.83 421.35 L310.82 421.55 L310.80 421.75 L310.78 421.95 L310.76 422.16 L310.74 422.36 L310.72 422.57 L310.70 422.77 L310.68 422.98 L310.66 423.18 L310.64 423.39 L310.62 423.59 L310.61 423.80 L310.60 424.00 L309.40 424.00 L309.39 423.80 L309.38 423.59 L309.36 423.39 L309.34 423.18 L309.32 422.98 L309.30 422.77 L309.28 422.57 L309.26 422.36 L309.24 422.16 L309.22 421.95 L309.20 421.75 L309.18 421.55 L309.17 421.35 L309.15 421.15 L309.14 420.95 L309.13 420.75 L309.11 420.55 L309.10 420.35 L309.09 420.15 L309.07 419.95 L309.06 419.75 L309.05 419.55 L309.04 419.35 L309.02 419.15 L309.01 418.95 L308.99 418.75 L308.98 418.55 L308.96 418.35 L308.95 418.15 L308.93 417.95 L308.91 417.75 L308.89 417.55 L308.87 417.35 L308.85 417.15 L308.83 416.95 L308.80 416.75 L308.77 416.55 L308.75 416.35 L308.72 416.15 L308.70 415.95 L308.67 415.75 L308.65 415.55 L308.62 415.35 L308.60 415.15 L308.57 414.95 L308.54 414.75 L308.51 414.55 L308.48 414.35 L308.45 414.15 L308.42 413.95 L308.38 413.75 L308.35 413.55 L308.31 413.35 L308.27 413.15 L308.22 412.95 L308.18 412.75 L308.13 412.55 L308.08 412.35 L308.02 412.15 L307.96 411.95 L307.90 411.75 L307.83 411.55 L307.77 411.35 L307.69 411.15 L307.62 410.95 L307.54 410.75 L307.46 410.55 L307.37 410.35 L307.29 410.15 L307.20 409.95 L307.11 409.75 L307.01 409.55 L306.92 409.35 L306.82 409.15 L306.73 408.95 L306.63 408.75 L306.53 408.55 L306.43 408.35 L306.32 408.15 L306.22 407.95 L306.12 407.75 L306.01 407.55 L305.91 407.35 L305.81 407.15 L305.70 406.95 L305.60 406.75 L305.49 406.55 L305.37 406.35 L305.25 406.15 L305.12 405.95 L304.98 405.75 L304.84 405.55 L304.69 405.35 L304.54 405.15 L304.39 404.95 L304.24 404.75 L304.09 404.55 L303.94 404.35 L303.80 404.15 L303.66 403.95 L303.53 403.75 L303.40 403.55 L303.28 403.35 L303.17 403.15 L303.07 402.95 L302.98 402.75 L302.91 402.55 L302.84 402.35 L302.80 402.15 L302.76 401.95 L302.75 401.75 L302.76 401.55 L302.78 401.35 L302.81 401.15 L302.86 400.95 L302.92 400.75 L302.99 400.55 L303.07 400.35 L303.17 400.15 L303.26 399.95 L303.37 399.75 L303.48 399.55 L303.60 399.35 L303.73 399.15 L303.86 398.95 L303.99 398.75 L304.12 398.55 L304.26 398.35 L304.39 398.15 L304.53 397.95 L304.67 397.75 L304.80 397.55 L304.93 397.35 L305.06 397.15 L305.18 396.95 L305.30 396.75 L305.42 396.54 L305.55 396.33 L305.68 396.12 L305.82 395.92 L305.96 395.71 L306.10 395.50 L306.24 395.29 L306.39 395.08 L306.53 394.88 L306.68 394.67 L306.83 394.46 L306.97 394.25 L307.12 394.04 L307.26 393.83 L307.40 393.62 L307.54 393.42 L307.67 393.21 L307.80 393.00 L307.93 392.79 L308.06 392.59 L308.19 392.38 L308.33 392.17 L308.46 391.97 L308.59 391.76 L308.72 391.55 L308.84 391.35 L308.96 391.14 L309.07 390.93 L309.18 390.73 L309.28 390.52 L309.36 390.31 L309.44 390.11 L309.50 389.90Z" fill="#134F86"/>
<rect x="309.50" y="423.70" width="1.00" height="10.30" fill="url(#g33)"/>
<path d="M307.62 438.00 Q309.43 437.00 309.60 434.00 L310.40 434.00 Q310.57 437.00 312.38 438.00Z" fill="#134F86"/>
<line x1="285.25" y1="381.00" x2="285.25" y2="440.80" stroke="#1a1a1a" stroke-width="1.2"/>
<line x1="284.65" y1="440.20" x2="318.75" y2="440.20" stroke="#1a1a1a" stroke-width="1.2"/>
<line x1="282.05" y1="389.40" x2="285.25" y2="389.40" stroke="#222" stroke-width="1.15"/>
<text x="278.55" y="392.40" font-size="8.6" stroke="#222" stroke-width="0.2" text-anchor="end" fill="#222" textLength="14.40" lengthAdjust="spacingAndGlyphs">10.0</text>
<line x1="282.05" y1="413.70" x2="285.25" y2="413.70" stroke="#222" stroke-width="1.15"/>
<text x="278.55" y="416.70" font-size="8.6" stroke="#222" stroke-width="0.2" text-anchor="end" fill="#222" textLength="10.20" lengthAdjust="spacingAndGlyphs">1.0</text>
<line x1="282.05" y1="437.70" x2="285.25" y2="437.70" stroke="#222" stroke-width="1.15"/>
<text x="278.55" y="440.70" font-size="8.6" stroke="#222" stroke-width="0.2" text-anchor="end" fill="#222" textLength="10.40" lengthAdjust="spacingAndGlyphs">0.1</text>
<line x1="294.40" y1="440.20" x2="294.40" y2="443.40" stroke="#222" stroke-width="1.1"/>
<line x1="310.00" y1="440.20" x2="310.00" y2="443.40" stroke="#222" stroke-width="1.1"/>
<text x="0.00" y="0.00" font-size="8.4" stroke="#222" stroke-width="0.2" text-anchor="end" fill="#222" textLength="27.40" lengthAdjust="spacingAndGlyphs" transform="translate(294.40,450.10) rotate(-45)">Control</text>
<text x="0.00" y="0.00" font-size="8.4" stroke="#222" stroke-width="0.2" text-anchor="end" fill="#222" textLength="31.00" lengthAdjust="spacingAndGlyphs" transform="translate(310.00,450.10) rotate(-45)">Low VWF</text>
<text x="365.75" y="373.60" font-size="7.2" font-weight="bold" text-anchor="middle" fill="#111">Cluster 6</text>
<text x="365.75" y="381.90" font-size="7.2" font-weight="bold" font-style="italic" text-anchor="middle" fill="#111">CDH5</text>
<path d="M359.80 389.90 L359.85 390.11 L359.92 390.31 L359.99 390.52 L360.07 390.73 L360.16 390.93 L360.25 391.14 L360.35 391.35 L360.46 391.55 L360.57 391.76 L360.67 391.97 L360.78 392.17 L360.89 392.38 L361.00 392.59 L361.10 392.79 L361.20 393.00 L361.30 393.21 L361.40 393.42 L361.49 393.62 L361.59 393.83 L361.69 394.04 L361.79 394.25 L361.89 394.46 L361.99 394.67 L362.09 394.88 L362.19 395.08 L362.29 395.29 L362.39 395.50 L362.49 395.71 L362.59 395.92 L362.69 396.12 L362.80 396.33 L362.90 396.54 L363.00 396.75 L363.10 396.96 L363.21 397.17 L363.32 397.38 L363.43 397.58 L363.55 397.79 L363.66 398.00 L363.78 398.21 L363.89 398.42 L364.00 398.62 L364.12 398.83 L364.23 399.04 L364.33 399.25 L364.44 399.46 L364.54 399.67 L364.64 399.88 L364.73 400.08 L364.82 400.29 L364.90 400.50 L364.98 400.71 L365.05 400.91 L365.12 401.12 L365.19 401.33 L365.26 401.53 L365.32 401.74 L365.37 401.95 L365.42 402.15 L365.47 402.36 L365.51 402.57 L365.54 402.77 L365.56 402.98 L365.58 403.19 L365.60 403.39 L365.60 403.60 L365.56 403.81 L365.50 404.02 L365.44 404.23 L365.37 404.44 L365.29 404.65 L365.20 404.86 L365.10 405.07 L365.00 405.28 L364.89 405.49 L364.78 405.70 L364.67 405.90 L364.56 406.11 L364.44 406.32 L364.33 406.53 L364.21 406.74 L364.10 406.95 L363.99 407.16 L363.88 407.37 L363.78 407.58 L363.69 407.79 L363.60 408.00 L363.52 408.20 L363.44 408.40 L363.36 408.60 L363.28 408.80 L363.20 409.00 L363.12 409.20 L363.05 409.40 L362.97 409.60 L362.89 409.80 L362.82 410.00 L362.74 410.20 L362.67 410.40 L362.60 410.60 L362.53 410.80 L362.46 411.00 L362.39 411.20 L362.32 411.40 L362.25 411.60 L362.18 411.80 L362.11 412.00 L362.05 412.20 L361.99 412.40 L361.92 412.60 L361.86 412.80 L361.80 413.00 L361.74 413.20 L361.68 413.40 L361.62 413.60 L361.57 413.80 L361.51 414.00 L361.46 414.20 L361.40 414.40 L361.35 414.60 L361.30 414.80 L361.25 415.00 L361.20 415.20 L361.15 415.40 L361.10 415.60 L361.05 415.80 L361.01 416.00 L360.96 416.20 L360.92 416.40 L360.88 416.60 L360.83 416.80 L360.79 417.00 L360.75 417.20 L360.71 417.40 L360.67 417.60 L360.64 417.80 L360.60 418.00 L360.56 418.20 L360.53 418.40 L360.50 418.60 L360.47 418.80 L360.44 419.00 L360.41 419.20 L360.39 419.40 L360.36 419.60 L360.34 419.80 L360.31 420.00 L360.29 420.20 L360.27 420.40 L360.25 420.60 L360.23 420.80 L360.21 421.00 L360.19 421.20 L360.17 421.40 L360.15 421.60 L360.13 421.80 L360.11 422.00 L360.09 422.20 L360.07 422.40 L360.04 422.60 L360.02 422.80 L360.00 423.00 L359.98 423.21 L359.95 423.42 L359.93 423.62 L359.90 423.83 L359.87 424.04 L359.85 424.25 L359.82 424.46 L359.80 424.67 L359.77 424.88 L359.75 425.08 L359.72 425.29 L359.70 425.50 L359.68 425.71 L359.66 425.92 L359.64 426.12 L359.63 426.33 L359.61 426.54 L359.60 426.75 L358.40 426.75 L358.39 426.54 L358.37 426.33 L358.36 426.12 L358.34 425.92 L358.32 425.71 L358.30 425.50 L358.28 425.29 L358.25 425.08 L358.23 424.88 L358.20 424.67 L358.18 424.46 L358.15 424.25 L358.13 424.04 L358.10 423.83 L358.07 423.62 L358.05 423.42 L358.02 423.21 L358.00 423.00 L357.98 422.80 L357.96 422.60 L357.93 422.40 L357.91 422.20 L357.89 422.00 L357.87 421.80 L357.85 421.60 L357.83 421.40 L357.81 421.20 L357.79 421.00 L357.77 420.80 L357.75 420.60 L357.73 420.40 L357.71 420.20 L357.69 420.00 L357.66 419.80 L357.64 419.60 L357.61 419.40 L357.59 419.20 L357.56 419.00 L357.53 418.80 L357.50 418.60 L357.47 418.40 L357.44 418.20 L357.40 418.00 L357.36 417.80 L357.33 417.60 L357.29 417.40 L357.25 417.20 L357.21 417.00 L357.17 416.80 L357.12 416.60 L357.08 416.40 L357.04 416.20 L356.99 416.00 L356.95 415.80 L356.90 415.60 L356.85 415.40 L356.80 415.20 L356.75 415.00 L356.70 414.80 L356.65 414.60 L356.60 414.40 L356.54 414.20 L356.49 414.00 L356.43 413.80 L356.38 413.60 L356.32 413.40 L356.26 413.20 L356.20 413.00 L356.14 412.80 L356.08 412.60 L356.01 412.40 L355.95 412.20 L355.89 412.00 L355.82 411.80 L355.75 411.60 L355.68 411.40 L355.61 411.20 L355.54 411.00 L355.47 410.80 L355.40 410.60 L355.33 410.40 L355.26 410.20 L355.18 410.00 L355.11 409.80 L355.03 409.60 L354.95 409.40 L354.88 409.20 L354.80 409.00 L354.72 408.80 L354.64 408.60 L354.56 408.40 L354.48 408.20 L354.40 408.00 L354.31 407.79 L354.22 407.58 L354.12 407.37 L354.01 407.16 L353.90 406.95 L353.79 406.74 L353.67 406.53 L353.56 406.32 L353.44 406.11 L353.33 405.90 L353.22 405.70 L353.11 405.49 L353.00 405.28 L352.90 405.07 L352.80 404.86 L352.71 404.65 L352.63 404.44 L352.56 404.23 L352.50 404.02 L352.44 403.81 L352.40 403.60 L352.40 403.39 L352.42 403.19 L352.44 402.98 L352.46 402.77 L352.49 402.57 L352.53 402.36 L352.58 402.15 L352.63 401.95 L352.68 401.74 L352.74 401.53 L352.81 401.33 L352.88 401.12 L352.95 400.91 L353.02 400.71 L353.10 400.50 L353.18 400.29 L353.27 400.08 L353.36 399.88 L353.46 399.67 L353.56 399.46 L353.67 399.25 L353.77 399.04 L353.88 398.83 L354.00 398.62 L354.11 398.42 L354.22 398.21 L354.34 398.00 L354.45 397.79 L354.57 397.58 L354.68 397.38 L354.79 397.17 L354.90 396.96 L355.00 396.75 L355.10 396.54 L355.20 396.33 L355.31 396.12 L355.41 395.92 L355.51 395.71 L355.61 395.50 L355.71 395.29 L355.81 395.08 L355.91 394.88 L356.01 394.67 L356.11 394.46 L356.21 394.25 L356.31 394.04 L356.41 393.83 L356.51 393.62 L356.60 393.42 L356.70 393.21 L356.80 393.00 L356.90 392.79 L357.00 392.59 L357.11 392.38 L357.22 392.17 L357.33 391.97 L357.43 391.76 L357.54 391.55 L357.65 391.35 L357.75 391.14 L357.84 390.93 L357.93 390.73 L358.01 390.52 L358.08 390.31 L358.15 390.11 L358.20 389.90Z" fill="#C8102E"/>
<rect x="358.50" y="426.45" width="1.00" height="9.05" fill="url(#g34)"/>
<path d="M357.90 438.30 Q358.74 437.60 358.60 435.50 L359.40 435.50 Q359.26 437.60 360.10 438.30Z" fill="#C8102E"/>
<path d="M375.20 389.25 L375.24 389.46 L375.30 389.67 L375.35 389.88 L375.41 390.08 L375.48 390.29 L375.55 390.50 L375.63 390.71 L375.71 390.92 L375.79 391.12 L375.88 391.33 L375.97 391.54 L376.07 391.75 L376.17 391.96 L376.27 392.17 L376.37 392.38 L376.48 392.58 L376.59 392.79 L376.70 393.00 L376.81 393.21 L376.94 393.42 L377.06 393.62 L377.20 393.83 L377.33 394.04 L377.47 394.25 L377.62 394.46 L377.76 394.67 L377.91 394.88 L378.06 395.08 L378.21 395.29 L378.36 395.50 L378.50 395.71 L378.65 395.92 L378.79 396.12 L378.93 396.33 L379.07 396.54 L379.20 396.75 L379.33 396.96 L379.46 397.17 L379.59 397.38 L379.72 397.58 L379.85 397.79 L379.98 398.00 L380.11 398.21 L380.24 398.42 L380.37 398.62 L380.49 398.83 L380.61 399.04 L380.73 399.25 L380.84 399.46 L380.95 399.67 L381.06 399.88 L381.16 400.08 L381.26 400.29 L381.35 400.50 L381.43 400.71 L381.49 400.92 L381.53 401.13 L381.56 401.34 L381.58 401.56 L381.59 401.77 L381.60 401.98 L381.60 402.19 L381.60 402.40 L381.54 402.60 L381.47 402.80 L381.40 403.00 L381.33 403.20 L381.25 403.40 L381.17 403.60 L381.09 403.80 L381.00 404.00 L380.91 404.20 L380.82 404.40 L380.73 404.60 L380.63 404.80 L380.54 405.00 L380.44 405.20 L380.34 405.40 L380.24 405.60 L380.15 405.80 L380.05 406.00 L379.95 406.20 L379.85 406.40 L379.75 406.60 L379.65 406.80 L379.56 407.00 L379.46 407.20 L379.37 407.40 L379.28 407.60 L379.19 407.80 L379.10 408.00 L379.01 408.20 L378.92 408.40 L378.83 408.60 L378.74 408.81 L378.65 409.01 L378.56 409.21 L378.47 409.41 L378.38 409.61 L378.29 409.81 L378.19 410.02 L378.10 410.22 L378.01 410.42 L377.92 410.62 L377.83 410.82 L377.74 411.02 L377.65 411.23 L377.56 411.43 L377.47 411.63 L377.39 411.83 L377.30 412.03 L377.22 412.23 L377.14 412.44 L377.06 412.64 L376.98 412.84 L376.90 413.04 L376.83 413.24 L376.76 413.44 L376.69 413.65 L376.62 413.85 L376.56 414.05 L376.50 414.25 L376.44 414.45 L376.39 414.65 L376.34 414.85 L376.30 415.05 L376.26 415.25 L376.22 415.45 L376.19 415.65 L376.16 415.85 L376.13 416.05 L376.10 416.25 L376.08 416.45 L376.06 416.65 L376.03 416.85 L376.02 417.05 L376.00 417.25 L375.98 417.45 L375.96 417.65 L375.94 417.85 L375.92 418.05 L375.91 418.25 L375.89 418.45 L375.87 418.65 L375.85 418.85 L375.82 419.05 L375.80 419.25 L375.77 419.46 L375.75 419.67 L375.72 419.88 L375.70 420.08 L375.68 420.29 L375.66 420.50 L375.63 420.71 L375.61 420.92 L375.59 421.12 L375.57 421.33 L375.55 421.54 L375.53 421.75 L375.51 421.96 L375.48 422.17 L375.46 422.38 L375.44 422.58 L375.42 422.79 L375.40 423.00 L375.38 423.20 L375.36 423.40 L375.33 423.60 L375.31 423.80 L375.29 424.00 L375.26 424.20 L375.24 424.40 L375.23 424.60 L375.21 424.80 L375.20 425.00 L374.00 425.00 L373.99 424.80 L373.97 424.60 L373.96 424.40 L373.94 424.20 L373.91 424.00 L373.89 423.80 L373.87 423.60 L373.84 423.40 L373.82 423.20 L373.80 423.00 L373.78 422.79 L373.76 422.58 L373.74 422.38 L373.72 422.17 L373.69 421.96 L373.67 421.75 L373.65 421.54 L373.63 421.33 L373.61 421.12 L373.59 420.92 L373.57 420.71 L373.54 420.50 L373.52 420.29 L373.50 420.08 L373.48 419.88 L373.45 419.67 L373.43 419.46 L373.40 419.25 L373.38 419.05 L373.35 418.85 L373.33 418.65 L373.31 418.45 L373.29 418.25 L373.28 418.05 L373.26 417.85 L373.24 417.65 L373.22 417.45 L373.20 417.25 L373.18 417.05 L373.17 416.85 L373.14 416.65 L373.12 416.45 L373.10 416.25 L373.07 416.05 L373.04 415.85 L373.01 415.65 L372.98 415.45 L372.94 415.25 L372.90 415.05 L372.86 414.85 L372.81 414.65 L372.76 414.45 L372.70 414.25 L372.64 414.05 L372.58 413.85 L372.51 413.65 L372.44 413.44 L372.37 413.24 L372.30 413.04 L372.22 412.84 L372.14 412.64 L372.06 412.44 L371.98 412.23 L371.90 412.03 L371.81 411.83 L371.73 411.63 L371.64 411.43 L371.55 411.23 L371.46 411.02 L371.37 410.82 L371.28 410.62 L371.19 410.42 L371.10 410.22 L371.01 410.02 L370.91 409.81 L370.82 409.61 L370.73 409.41 L370.64 409.21 L370.55 409.01 L370.46 408.81 L370.37 408.60 L370.28 408.40 L370.19 408.20 L370.10 408.00 L370.01 407.80 L369.92 407.60 L369.83 407.40 L369.74 407.20 L369.64 407.00 L369.55 406.80 L369.45 406.60 L369.35 406.40 L369.25 406.20 L369.15 406.00 L369.05 405.80 L368.96 405.60 L368.86 405.40 L368.76 405.20 L368.66 405.00 L368.57 404.80 L368.47 404.60 L368.38 404.40 L368.29 404.20 L368.20 404.00 L368.11 403.80 L368.03 403.60 L367.95 403.40 L367.87 403.20 L367.80 403.00 L367.73 402.80 L367.66 402.60 L367.60 402.40 L367.60 402.19 L367.60 401.98 L367.61 401.77 L367.62 401.56 L367.64 401.34 L367.67 401.13 L367.71 400.92 L367.77 400.71 L367.85 400.50 L367.94 400.29 L368.04 400.08 L368.14 399.88 L368.25 399.67 L368.36 399.46 L368.47 399.25 L368.59 399.04 L368.71 398.83 L368.83 398.62 L368.96 398.42 L369.09 398.21 L369.22 398.00 L369.35 397.79 L369.48 397.58 L369.61 397.38 L369.74 397.17 L369.87 396.96 L370.00 396.75 L370.13 396.54 L370.27 396.33 L370.41 396.12 L370.55 395.92 L370.70 395.71 L370.84 395.50 L370.99 395.29 L371.14 395.08 L371.29 394.88 L371.44 394.67 L371.58 394.46 L371.73 394.25 L371.87 394.04 L372.00 393.83 L372.14 393.62 L372.26 393.42 L372.39 393.21 L372.50 393.00 L372.61 392.79 L372.72 392.58 L372.83 392.38 L372.93 392.17 L373.03 391.96 L373.13 391.75 L373.23 391.54 L373.32 391.33 L373.41 391.12 L373.49 390.92 L373.57 390.71 L373.65 390.50 L373.72 390.29 L373.79 390.08 L373.85 389.88 L373.90 389.67 L373.96 389.46 L374.00 389.25Z" fill="#134F86"/>
<rect x="374.10" y="424.70" width="1.00" height="10.55" fill="url(#g35)"/>
<path d="M372.48 438.25 Q374.09 437.50 374.20 435.25 L375.00 435.25 Q375.11 437.50 376.73 438.25Z" fill="#134F86"/>
<line x1="349.25" y1="381.00" x2="349.25" y2="440.80" stroke="#1a1a1a" stroke-width="1.2"/>
<line x1="348.65" y1="440.20" x2="382.75" y2="440.20" stroke="#1a1a1a" stroke-width="1.2"/>
<line x1="346.05" y1="392.00" x2="349.25" y2="392.00" stroke="#222" stroke-width="1.15"/>
<text x="342.55" y="395.00" font-size="8.6" stroke="#222" stroke-width="0.2" text-anchor="end" fill="#222" textLength="14.40" lengthAdjust="spacingAndGlyphs">10.0</text>
<line x1="346.05" y1="415.30" x2="349.25" y2="415.30" stroke="#222" stroke-width="1.15"/>
<text x="342.55" y="418.30" font-size="8.6" stroke="#222" stroke-width="0.2" text-anchor="end" fill="#222" textLength="10.20" lengthAdjust="spacingAndGlyphs">1.0</text>
<line x1="346.05" y1="437.80" x2="349.25" y2="437.80" stroke="#222" stroke-width="1.15"/>
<text x="342.55" y="440.80" font-size="8.6" stroke="#222" stroke-width="0.2" text-anchor="end" fill="#222" textLength="10.40" lengthAdjust="spacingAndGlyphs">0.1</text>
<line x1="359.00" y1="440.20" x2="359.00" y2="443.40" stroke="#222" stroke-width="1.1"/>
<line x1="374.60" y1="440.20" x2="374.60" y2="443.40" stroke="#222" stroke-width="1.1"/>
<text x="0.00" y="0.00" font-size="8.4" stroke="#222" stroke-width="0.2" text-anchor="end" fill="#222" textLength="27.40" lengthAdjust="spacingAndGlyphs" transform="translate(359.00,450.10) rotate(-45)">Control</text>
<text x="0.00" y="0.00" font-size="8.4" stroke="#222" stroke-width="0.2" text-anchor="end" fill="#222" textLength="31.00" lengthAdjust="spacingAndGlyphs" transform="translate(374.60,450.10) rotate(-45)">Low VWF</text>
<text x="429.75" y="373.60" font-size="7.2" font-weight="bold" text-anchor="middle" fill="#111">Cluster 7</text>
<text x="429.75" y="381.90" font-size="7.2" font-weight="bold" font-style="italic" text-anchor="middle" fill="#111">CDH5</text>
<path d="M423.20 389.90 L423.26 390.11 L423.32 390.31 L423.40 390.52 L423.48 390.73 L423.57 390.93 L423.67 391.14 L423.77 391.35 L423.88 391.55 L424.00 391.76 L424.11 391.97 L424.23 392.17 L424.35 392.38 L424.47 392.59 L424.58 392.79 L424.70 393.00 L424.82 393.21 L424.94 393.42 L425.07 393.62 L425.21 393.83 L425.34 394.04 L425.48 394.25 L425.62 394.46 L425.77 394.67 L425.91 394.88 L426.05 395.08 L426.18 395.29 L426.32 395.50 L426.45 395.71 L426.57 395.92 L426.69 396.12 L426.80 396.33 L426.90 396.54 L427.00 396.75 L427.09 396.95 L427.17 397.15 L427.26 397.35 L427.35 397.55 L427.43 397.75 L427.52 397.95 L427.60 398.15 L427.68 398.35 L427.76 398.55 L427.84 398.75 L427.92 398.95 L427.99 399.15 L428.06 399.35 L428.12 399.55 L428.18 399.75 L428.24 399.95 L428.29 400.15 L428.34 400.35 L428.38 400.55 L428.41 400.75 L428.44 400.95 L428.47 401.15 L428.49 401.35 L428.50 401.55 L428.50 401.75 L428.48 401.95 L428.45 402.15 L428.41 402.35 L428.36 402.55 L428.30 402.75 L428.23 402.95 L428.15 403.15 L428.07 403.35 L427.98 403.55 L427.88 403.75 L427.78 403.95 L427.68 404.15 L427.57 404.35 L427.47 404.55 L427.36 404.75 L427.25 404.95 L427.14 405.15 L427.03 405.35 L426.92 405.55 L426.81 405.75 L426.71 405.95 L426.61 406.15 L426.52 406.35 L426.43 406.55 L426.35 406.75 L426.27 406.95 L426.20 407.15 L426.12 407.35 L426.04 407.55 L425.97 407.75 L425.89 407.95 L425.82 408.15 L425.75 408.35 L425.68 408.55 L425.60 408.75 L425.53 408.95 L425.46 409.15 L425.39 409.35 L425.32 409.55 L425.26 409.75 L425.19 409.95 L425.12 410.15 L425.05 410.35 L424.99 410.55 L424.92 410.75 L424.86 410.95 L424.79 411.15 L424.73 411.35 L424.66 411.55 L424.60 411.75 L424.54 411.96 L424.47 412.17 L424.41 412.38 L424.35 412.58 L424.29 412.79 L424.23 413.00 L424.17 413.21 L424.12 413.42 L424.06 413.62 L424.01 413.83 L423.95 414.04 L423.90 414.25 L423.85 414.46 L423.80 414.67 L423.75 414.88 L423.70 415.08 L423.65 415.29 L423.60 415.50 L423.55 415.71 L423.50 415.92 L423.46 416.12 L423.41 416.33 L423.37 416.54 L423.33 416.75 L423.29 416.96 L423.26 417.17 L423.22 417.38 L423.20 417.58 L423.17 417.79 L423.15 418.00 L422.05 418.00 L422.03 417.79 L422.00 417.58 L421.98 417.38 L421.94 417.17 L421.91 416.96 L421.87 416.75 L421.83 416.54 L421.79 416.33 L421.74 416.12 L421.70 415.92 L421.65 415.71 L421.60 415.50 L421.55 415.29 L421.50 415.08 L421.45 414.88 L421.40 414.67 L421.35 414.46 L421.30 414.25 L421.25 414.04 L421.19 413.83 L421.14 413.62 L421.08 413.42 L421.03 413.21 L420.97 413.00 L420.91 412.79 L420.85 412.58 L420.79 412.38 L420.73 412.17 L420.66 411.96 L420.60 411.75 L420.54 411.55 L420.47 411.35 L420.41 411.15 L420.34 410.95 L420.28 410.75 L420.21 410.55 L420.15 410.35 L420.08 410.15 L420.01 409.95 L419.94 409.75 L419.88 409.55 L419.81 409.35 L419.74 409.15 L419.67 408.95 L419.60 408.75 L419.52 408.55 L419.45 408.35 L419.38 408.15 L419.31 407.95 L419.23 407.75 L419.16 407.55 L419.08 407.35 L419.00 407.15 L418.93 406.95 L418.85 406.75 L418.77 406.55 L418.68 406.35 L418.59 406.15 L418.49 405.95 L418.39 405.75 L418.28 405.55 L418.17 405.35 L418.06 405.15 L417.95 404.95 L417.84 404.75 L417.73 404.55 L417.63 404.35 L417.52 404.15 L417.42 403.95 L417.32 403.75 L417.22 403.55 L417.13 403.35 L417.05 403.15 L416.97 402.95 L416.90 402.75 L416.84 402.55 L416.79 402.35 L416.75 402.15 L416.72 401.95 L416.70 401.75 L416.70 401.55 L416.71 401.35 L416.73 401.15 L416.76 400.95 L416.79 400.75 L416.82 400.55 L416.86 400.35 L416.91 400.15 L416.96 399.95 L417.02 399.75 L417.08 399.55 L417.14 399.35 L417.21 399.15 L417.28 398.95 L417.36 398.75 L417.44 398.55 L417.52 398.35 L417.60 398.15 L417.68 397.95 L417.77 397.75 L417.85 397.55 L417.94 397.35 L418.03 397.15 L418.11 396.95 L418.20 396.75 L418.30 396.54 L418.40 396.33 L418.51 396.12 L418.63 395.92 L418.75 395.71 L418.88 395.50 L419.02 395.29 L419.15 395.08 L419.29 394.88 L419.43 394.67 L419.58 394.46 L419.72 394.25 L419.86 394.04 L419.99 393.83 L420.13 393.62 L420.26 393.42 L420.38 393.21 L420.50 393.00 L420.62 392.79 L420.73 392.59 L420.85 392.38 L420.97 392.17 L421.09 391.97 L421.20 391.76 L421.32 391.55 L421.43 391.35 L421.53 391.14 L421.63 390.93 L421.72 390.73 L421.80 390.52 L421.88 390.31 L421.94 390.11 L422.00 389.90Z" fill="#C8102E"/>
<rect x="422.10" y="417.70" width="1.00" height="17.80" fill="url(#g36)"/>
<path d="M421.15 438.25 Q422.25 437.56 422.20 435.50 L423.00 435.50 Q422.95 437.56 424.05 438.25Z" fill="#C8102E"/>
<path d="M439.20 389.25 L439.26 389.46 L439.32 389.67 L439.39 389.88 L439.46 390.08 L439.54 390.29 L439.63 390.50 L439.72 390.71 L439.82 390.92 L439.92 391.12 L440.03 391.33 L440.14 391.54 L440.26 391.75 L440.39 391.96 L440.52 392.17 L440.66 392.38 L440.80 392.58 L440.95 392.79 L441.10 393.00 L441.26 393.21 L441.45 393.41 L441.65 393.62 L441.86 393.83 L442.09 394.03 L442.32 394.24 L442.56 394.45 L442.80 394.65 L443.04 394.86 L443.27 395.07 L443.50 395.27 L443.72 395.48 L443.93 395.69 L444.12 395.89 L444.30 396.10 L444.47 396.31 L444.63 396.52 L444.79 396.73 L444.93 396.93 L445.07 397.14 L445.20 397.35 L445.31 397.56 L445.41 397.77 L445.49 397.98 L445.55 398.18 L445.59 398.39 L445.60 398.60 L445.57 398.81 L445.52 399.02 L445.47 399.23 L445.40 399.44 L445.32 399.65 L445.24 399.86 L445.14 400.07 L445.04 400.28 L444.93 400.49 L444.82 400.70 L444.70 400.90 L444.58 401.11 L444.46 401.32 L444.33 401.53 L444.21 401.74 L444.08 401.95 L443.96 402.16 L443.84 402.37 L443.72 402.58 L443.61 402.79 L443.50 403.00 L443.40 403.20 L443.30 403.40 L443.19 403.60 L443.09 403.80 L442.98 404.00 L442.87 404.20 L442.76 404.40 L442.65 404.60 L442.54 404.80 L442.43 405.00 L442.32 405.20 L442.21 405.40 L442.10 405.60 L442.00 405.80 L441.89 406.00 L441.78 406.20 L441.68 406.40 L441.57 406.60 L441.47 406.80 L441.37 407.00 L441.27 407.20 L441.17 407.40 L441.08 407.60 L440.99 407.80 L440.90 408.00 L440.81 408.21 L440.73 408.42 L440.64 408.62 L440.56 408.83 L440.49 409.04 L440.41 409.25 L440.34 409.46 L440.27 409.67 L440.20 409.88 L440.14 410.08 L440.08 410.29 L440.02 410.50 L439.96 410.71 L439.90 410.92 L439.85 411.12 L439.80 411.33 L439.75 411.54 L439.70 411.75 L439.65 411.96 L439.61 412.17 L439.57 412.38 L439.54 412.58 L439.51 412.79 L439.48 413.00 L439.45 413.21 L439.42 413.42 L439.40 413.62 L439.37 413.83 L439.35 414.04 L439.33 414.25 L439.31 414.46 L439.29 414.67 L439.27 414.88 L439.24 415.08 L439.22 415.29 L439.20 415.50 L439.18 415.71 L439.16 415.92 L439.13 416.12 L439.11 416.33 L439.10 416.54 L439.08 416.75 L439.06 416.96 L439.05 417.17 L439.03 417.38 L439.02 417.58 L439.01 417.79 L439.00 418.00 L438.00 418.00 L437.99 417.79 L437.98 417.58 L437.97 417.38 L437.95 417.17 L437.94 416.96 L437.92 416.75 L437.90 416.54 L437.89 416.33 L437.87 416.12 L437.84 415.92 L437.82 415.71 L437.80 415.50 L437.78 415.29 L437.76 415.08 L437.73 414.88 L437.71 414.67 L437.69 414.46 L437.67 414.25 L437.65 414.04 L437.63 413.83 L437.60 413.62 L437.58 413.42 L437.55 413.21 L437.52 413.00 L437.49 412.79 L437.46 412.58 L437.43 412.38 L437.39 412.17 L437.35 411.96 L437.30 411.75 L437.25 411.54 L437.20 411.33 L437.15 411.12 L437.10 410.92 L437.04 410.71 L436.98 410.50 L436.92 410.29 L436.86 410.08 L436.80 409.88 L436.73 409.67 L436.66 409.46 L436.59 409.25 L436.51 409.04 L436.44 408.83 L436.36 408.62 L436.27 408.42 L436.19 408.21 L436.10 408.00 L436.01 407.80 L435.92 407.60 L435.83 407.40 L435.73 407.20 L435.63 407.00 L435.53 406.80 L435.43 406.60 L435.32 406.40 L435.22 406.20 L435.11 406.00 L435.00 405.80 L434.90 405.60 L434.79 405.40 L434.68 405.20 L434.57 405.00 L434.46 404.80 L434.35 404.60 L434.24 404.40 L434.13 404.20 L434.02 404.00 L433.91 403.80 L433.81 403.60 L433.70 403.40 L433.60 403.20 L433.50 403.00 L433.39 402.79 L433.28 402.58 L433.16 402.37 L433.04 402.16 L432.92 401.95 L432.79 401.74 L432.67 401.53 L432.54 401.32 L432.42 401.11 L432.30 400.90 L432.18 400.70 L432.07 400.49 L431.96 400.28 L431.86 400.07 L431.76 399.86 L431.68 399.65 L431.60 399.44 L431.53 399.23 L431.48 399.02 L431.43 398.81 L431.40 398.60 L431.41 398.39 L431.45 398.18 L431.51 397.98 L431.59 397.77 L431.69 397.56 L431.80 397.35 L431.93 397.14 L432.07 396.93 L432.21 396.73 L432.37 396.52 L432.53 396.31 L432.70 396.10 L432.88 395.89 L433.07 395.69 L433.28 395.48 L433.50 395.27 L433.73 395.07 L433.96 394.86 L434.20 394.65 L434.44 394.45 L434.68 394.24 L434.91 394.03 L435.14 393.83 L435.35 393.62 L435.55 393.41 L435.74 393.21 L435.90 393.00 L436.05 392.79 L436.20 392.58 L436.34 392.38 L436.48 392.17 L436.61 391.96 L436.74 391.75 L436.86 391.54 L436.97 391.33 L437.08 391.12 L437.18 390.92 L437.28 390.71 L437.37 390.50 L437.46 390.29 L437.54 390.08 L437.61 389.88 L437.68 389.67 L437.74 389.46 L437.80 389.25Z" fill="#134F86"/>
<rect x="438.00" y="417.70" width="1.00" height="19.70" fill="url(#g37)"/>
<circle cx="438.50" cy="437.40" r="0.65" fill="#134F86" fill-opacity="1"/>
<line x1="413.25" y1="381.00" x2="413.25" y2="440.80" stroke="#1a1a1a" stroke-width="1.2"/>
<line x1="412.65" y1="440.20" x2="446.75" y2="440.20" stroke="#1a1a1a" stroke-width="1.2"/>
<line x1="410.05" y1="400.00" x2="413.25" y2="400.00" stroke="#222" stroke-width="1.15"/>
<text x="406.55" y="403.00" font-size="8.6" stroke="#222" stroke-width="0.2" text-anchor="end" fill="#222" textLength="14.40" lengthAdjust="spacingAndGlyphs">10.0</text>
<line x1="410.05" y1="419.20" x2="413.25" y2="419.20" stroke="#222" stroke-width="1.15"/>
<text x="406.55" y="422.20" font-size="8.6" stroke="#222" stroke-width="0.2" text-anchor="end" fill="#222" textLength="10.20" lengthAdjust="spacingAndGlyphs">1.0</text>
<line x1="410.05" y1="437.80" x2="413.25" y2="437.80" stroke="#222" stroke-width="1.15"/>
<text x="406.55" y="440.80" font-size="8.6" stroke="#222" stroke-width="0.2" text-anchor="end" fill="#222" textLength="10.40" lengthAdjust="spacingAndGlyphs">0.1</text>
<line x1="422.60" y1="440.20" x2="422.60" y2="443.40" stroke="#222" stroke-width="1.1"/>
<line x1="438.50" y1="440.20" x2="438.50" y2="443.40" stroke="#222" stroke-width="1.1"/>
<text x="0.00" y="0.00" font-size="8.4" stroke="#222" stroke-width="0.2" text-anchor="end" fill="#222" textLength="27.40" lengthAdjust="spacingAndGlyphs" transform="translate(422.60,450.10) rotate(-45)">Control</text>
<text x="0.00" y="0.00" font-size="8.4" stroke="#222" stroke-width="0.2" text-anchor="end" fill="#222" textLength="31.00" lengthAdjust="spacingAndGlyphs" transform="translate(438.50,450.10) rotate(-45)">Low VWF</text>
<text x="494.75" y="373.60" font-size="7.2" font-weight="bold" text-anchor="middle" fill="#111">Cluster 8</text>
<text x="494.75" y="381.90" font-size="7.2" font-weight="bold" font-style="italic" text-anchor="middle" fill="#111">CDH5</text>
<path d="M488.70 394.00 L488.84 394.21 L489.04 394.43 L489.27 394.64 L489.52 394.86 L489.77 395.07 L490.00 395.29 L490.20 395.50 L490.37 395.71 L490.55 395.92 L490.72 396.12 L490.90 396.33 L491.07 396.54 L491.24 396.75 L491.42 396.96 L491.59 397.17 L491.75 397.38 L491.92 397.58 L492.07 397.79 L492.23 398.00 L492.37 398.21 L492.52 398.42 L492.65 398.62 L492.78 398.83 L492.89 399.04 L493.00 399.25 L493.10 399.46 L493.19 399.67 L493.26 399.88 L493.34 400.08 L493.40 400.29 L493.46 400.50 L493.51 400.71 L493.55 400.92 L493.60 401.12 L493.63 401.33 L493.67 401.54 L493.70 401.75 L493.73 401.96 L493.77 402.17 L493.80 402.38 L493.83 402.58 L493.86 402.79 L493.90 403.00 L493.94 403.21 L493.97 403.41 L494.01 403.62 L494.04 403.83 L494.07 404.03 L494.10 404.24 L494.13 404.45 L494.16 404.65 L494.18 404.86 L494.20 405.07 L494.22 405.27 L494.23 405.48 L494.24 405.69 L494.25 405.89 L494.25 406.10 L494.21 406.31 L494.16 406.52 L494.11 406.73 L494.05 406.94 L493.98 407.15 L493.91 407.36 L493.84 407.57 L493.76 407.78 L493.68 407.99 L493.59 408.20 L493.50 408.40 L493.42 408.61 L493.32 408.82 L493.23 409.03 L493.14 409.24 L493.05 409.45 L492.95 409.66 L492.86 409.87 L492.77 410.08 L492.69 410.29 L492.60 410.50 L492.52 410.70 L492.44 410.90 L492.35 411.10 L492.27 411.30 L492.18 411.50 L492.10 411.70 L492.01 411.90 L491.92 412.10 L491.84 412.30 L491.75 412.50 L491.66 412.70 L491.57 412.90 L491.49 413.10 L491.40 413.30 L491.31 413.50 L491.22 413.70 L491.14 413.90 L491.05 414.10 L490.97 414.30 L490.89 414.50 L490.81 414.70 L490.73 414.90 L490.65 415.10 L490.57 415.30 L490.50 415.50 L490.42 415.71 L490.35 415.92 L490.28 416.12 L490.21 416.33 L490.14 416.54 L490.08 416.75 L490.01 416.96 L489.95 417.17 L489.89 417.38 L489.83 417.58 L489.77 417.79 L489.71 418.00 L489.66 418.21 L489.60 418.42 L489.55 418.62 L489.50 418.83 L489.45 419.04 L489.40 419.25 L489.35 419.46 L489.31 419.67 L489.27 419.88 L489.23 420.09 L489.19 420.30 L489.16 420.51 L489.13 420.72 L489.10 420.93 L489.07 421.14 L489.04 421.35 L489.01 421.56 L488.98 421.77 L488.96 421.98 L488.93 422.19 L488.90 422.40 L488.87 422.60 L488.84 422.80 L488.82 423.00 L488.79 423.20 L488.76 423.40 L488.74 423.60 L488.71 423.80 L488.69 424.00 L488.67 424.20 L488.65 424.40 L488.63 424.60 L488.61 424.80 L488.60 425.00 L487.40 425.00 L487.39 424.80 L487.37 424.60 L487.35 424.40 L487.33 424.20 L487.31 424.00 L487.29 423.80 L487.26 423.60 L487.24 423.40 L487.21 423.20 L487.18 423.00 L487.16 422.80 L487.13 422.60 L487.10 422.40 L487.07 422.19 L487.04 421.98 L487.02 421.77 L486.99 421.56 L486.96 421.35 L486.93 421.14 L486.90 420.93 L486.87 420.72 L486.84 420.51 L486.81 420.30 L486.77 420.09 L486.73 419.88 L486.69 419.67 L486.65 419.46 L486.60 419.25 L486.55 419.04 L486.50 418.83 L486.45 418.62 L486.40 418.42 L486.34 418.21 L486.29 418.00 L486.23 417.79 L486.17 417.58 L486.11 417.38 L486.05 417.17 L485.99 416.96 L485.92 416.75 L485.86 416.54 L485.79 416.33 L485.72 416.12 L485.65 415.92 L485.58 415.71 L485.50 415.50 L485.43 415.30 L485.35 415.10 L485.27 414.90 L485.19 414.70 L485.11 414.50 L485.03 414.30 L484.95 414.10 L484.86 413.90 L484.78 413.70 L484.69 413.50 L484.60 413.30 L484.51 413.10 L484.43 412.90 L484.34 412.70 L484.25 412.50 L484.16 412.30 L484.08 412.10 L483.99 411.90 L483.90 411.70 L483.82 411.50 L483.73 411.30 L483.65 411.10 L483.56 410.90 L483.48 410.70 L483.40 410.50 L483.31 410.29 L483.23 410.08 L483.14 409.87 L483.05 409.66 L482.95 409.45 L482.86 409.24 L482.77 409.03 L482.68 408.82 L482.58 408.61 L482.50 408.40 L482.41 408.20 L482.32 407.99 L482.24 407.78 L482.16 407.57 L482.09 407.36 L482.02 407.15 L481.95 406.94 L481.89 406.73 L481.84 406.52 L481.79 406.31 L481.75 406.10 L481.75 405.89 L481.76 405.69 L481.77 405.48 L481.78 405.27 L481.80 405.07 L481.82 404.86 L481.84 404.65 L481.87 404.45 L481.90 404.24 L481.93 404.03 L481.96 403.83 L481.99 403.62 L482.03 403.41 L482.06 403.21 L482.10 403.00 L482.14 402.79 L482.17 402.58 L482.20 402.38 L482.23 402.17 L482.27 401.96 L482.30 401.75 L482.33 401.54 L482.37 401.33 L482.40 401.12 L482.45 400.92 L482.49 400.71 L482.54 400.50 L482.60 400.29 L482.66 400.08 L482.74 399.88 L482.81 399.67 L482.90 399.46 L483.00 399.25 L483.11 399.04 L483.22 398.83 L483.35 398.62 L483.48 398.42 L483.63 398.21 L483.77 398.00 L483.93 397.79 L484.08 397.58 L484.25 397.38 L484.41 397.17 L484.58 396.96 L484.76 396.75 L484.93 396.54 L485.10 396.33 L485.28 396.12 L485.45 395.92 L485.63 395.71 L485.80 395.50 L486.00 395.29 L486.23 395.07 L486.48 394.86 L486.73 394.64 L486.96 394.43 L487.16 394.21 L487.30 394.00Z" fill="#C8102E"/>
<path d="M487.58 388.60 L488.42 388.60 L488.70 394.30 L487.30 394.30Z" fill="url(#g38)"/>
<rect x="487.50" y="424.70" width="1.00" height="9.55" fill="url(#g39)"/>
<path d="M484.70 438.00 Q487.21 437.06 487.60 434.25 L488.40 434.25 Q488.79 437.06 491.30 438.00Z" fill="#C8102E"/>
<path d="M504.20 394.50 L504.31 394.70 L504.46 394.91 L504.64 395.11 L504.84 395.32 L505.05 395.52 L505.28 395.73 L505.50 395.93 L505.72 396.14 L505.94 396.34 L506.13 396.55 L506.30 396.75 L506.46 396.96 L506.62 397.17 L506.78 397.38 L506.93 397.58 L507.09 397.79 L507.24 398.00 L507.39 398.21 L507.54 398.42 L507.68 398.62 L507.83 398.83 L507.96 399.04 L508.10 399.25 L508.23 399.46 L508.35 399.67 L508.47 399.88 L508.59 400.08 L508.70 400.29 L508.80 400.50 L508.90 400.70 L508.99 400.90 L509.09 401.10 L509.19 401.30 L509.28 401.50 L509.38 401.70 L509.47 401.90 L509.57 402.10 L509.66 402.30 L509.74 402.50 L509.83 402.70 L509.91 402.90 L509.99 403.10 L510.06 403.30 L510.13 403.50 L510.20 403.70 L510.26 403.90 L510.31 404.10 L510.36 404.30 L510.40 404.50 L510.43 404.70 L510.46 404.90 L510.48 405.10 L510.50 405.30 L510.50 405.50 L510.48 405.70 L510.44 405.90 L510.39 406.10 L510.33 406.30 L510.26 406.50 L510.18 406.70 L510.10 406.90 L510.00 407.10 L509.90 407.30 L509.79 407.50 L509.67 407.70 L509.55 407.90 L509.43 408.10 L509.31 408.30 L509.18 408.50 L509.05 408.70 L508.92 408.90 L508.80 409.10 L508.67 409.30 L508.55 409.50 L508.43 409.70 L508.31 409.90 L508.20 410.10 L508.10 410.30 L508.00 410.50 L507.91 410.70 L507.81 410.90 L507.72 411.10 L507.62 411.30 L507.53 411.50 L507.43 411.70 L507.34 411.90 L507.24 412.10 L507.15 412.30 L507.06 412.50 L506.96 412.70 L506.87 412.90 L506.78 413.10 L506.69 413.30 L506.60 413.50 L506.51 413.70 L506.43 413.90 L506.34 414.10 L506.26 414.30 L506.18 414.50 L506.10 414.70 L506.02 414.90 L505.95 415.10 L505.87 415.30 L505.80 415.50 L505.73 415.71 L505.66 415.92 L505.59 416.13 L505.53 416.34 L505.47 416.55 L505.41 416.76 L505.35 416.97 L505.30 417.18 L505.24 417.39 L505.19 417.60 L505.14 417.80 L505.09 418.01 L505.05 418.22 L505.00 418.43 L504.95 418.64 L504.91 418.85 L504.87 419.06 L504.83 419.27 L504.78 419.48 L504.74 419.69 L504.70 419.90 L504.66 420.11 L504.62 420.31 L504.59 420.52 L504.56 420.72 L504.53 420.93 L504.50 421.13 L504.47 421.34 L504.44 421.54 L504.42 421.75 L504.39 421.96 L504.37 422.16 L504.34 422.37 L504.32 422.57 L504.30 422.78 L504.27 422.98 L504.25 423.19 L504.23 423.39 L504.20 423.60 L504.17 423.81 L504.15 424.02 L504.12 424.23 L504.09 424.44 L504.07 424.66 L504.05 424.87 L504.03 425.08 L504.01 425.29 L504.00 425.50 L503.00 425.50 L502.99 425.29 L502.97 425.08 L502.95 424.87 L502.93 424.66 L502.91 424.44 L502.88 424.23 L502.85 424.02 L502.83 423.81 L502.80 423.60 L502.77 423.39 L502.75 423.19 L502.73 422.98 L502.70 422.78 L502.68 422.57 L502.66 422.37 L502.63 422.16 L502.61 421.96 L502.58 421.75 L502.56 421.54 L502.53 421.34 L502.50 421.13 L502.47 420.93 L502.44 420.72 L502.41 420.52 L502.38 420.31 L502.34 420.11 L502.30 419.90 L502.26 419.69 L502.22 419.48 L502.17 419.27 L502.13 419.06 L502.09 418.85 L502.05 418.64 L502.00 418.43 L501.95 418.22 L501.91 418.01 L501.86 417.80 L501.81 417.60 L501.76 417.39 L501.70 417.18 L501.65 416.97 L501.59 416.76 L501.53 416.55 L501.47 416.34 L501.41 416.13 L501.34 415.92 L501.27 415.71 L501.20 415.50 L501.13 415.30 L501.05 415.10 L500.98 414.90 L500.90 414.70 L500.82 414.50 L500.74 414.30 L500.66 414.10 L500.57 413.90 L500.49 413.70 L500.40 413.50 L500.31 413.30 L500.22 413.10 L500.13 412.90 L500.04 412.70 L499.94 412.50 L499.85 412.30 L499.76 412.10 L499.66 411.90 L499.57 411.70 L499.47 411.50 L499.38 411.30 L499.28 411.10 L499.19 410.90 L499.09 410.70 L499.00 410.50 L498.90 410.30 L498.80 410.10 L498.69 409.90 L498.57 409.70 L498.45 409.50 L498.33 409.30 L498.20 409.10 L498.08 408.90 L497.95 408.70 L497.82 408.50 L497.69 408.30 L497.57 408.10 L497.45 407.90 L497.33 407.70 L497.21 407.50 L497.10 407.30 L497.00 407.10 L496.90 406.90 L496.82 406.70 L496.74 406.50 L496.67 406.30 L496.61 406.10 L496.56 405.90 L496.52 405.70 L496.50 405.50 L496.50 405.30 L496.52 405.10 L496.54 404.90 L496.57 404.70 L496.60 404.50 L496.64 404.30 L496.69 404.10 L496.74 403.90 L496.80 403.70 L496.87 403.50 L496.94 403.30 L497.01 403.10 L497.09 402.90 L497.17 402.70 L497.26 402.50 L497.34 402.30 L497.43 402.10 L497.53 401.90 L497.62 401.70 L497.72 401.50 L497.81 401.30 L497.91 401.10 L498.01 400.90 L498.10 400.70 L498.20 400.50 L498.30 400.29 L498.41 400.08 L498.53 399.88 L498.65 399.67 L498.77 399.46 L498.90 399.25 L499.04 399.04 L499.17 398.83 L499.32 398.62 L499.46 398.42 L499.61 398.21 L499.76 398.00 L499.91 397.79 L500.07 397.58 L500.22 397.38 L500.38 397.17 L500.54 396.96 L500.70 396.75 L500.87 396.55 L501.06 396.34 L501.28 396.14 L501.50 395.93 L501.72 395.73 L501.95 395.52 L502.16 395.32 L502.36 395.11 L502.54 394.91 L502.69 394.70 L502.80 394.50Z" fill="#134F86"/>
<path d="M503.08 389.25 L503.92 389.25 L504.20 394.80 L502.80 394.80Z" fill="url(#g40)"/>
<rect x="503.00" y="425.20" width="1.00" height="8.80" fill="url(#g41)"/>
<path d="M499.55 438.25 Q502.55 437.19 503.10 434.00 L503.90 434.00 Q504.45 437.19 507.45 438.25Z" fill="#134F86"/>
<line x1="478.25" y1="381.00" x2="478.25" y2="440.80" stroke="#1a1a1a" stroke-width="1.2"/>
<line x1="477.65" y1="440.20" x2="511.75" y2="440.20" stroke="#1a1a1a" stroke-width="1.2"/>
<line x1="475.05" y1="397.00" x2="478.25" y2="397.00" stroke="#222" stroke-width="1.15"/>
<text x="471.55" y="400.00" font-size="8.6" stroke="#222" stroke-width="0.2" text-anchor="end" fill="#222" textLength="14.40" lengthAdjust="spacingAndGlyphs">10.0</text>
<line x1="475.05" y1="417.60" x2="478.25" y2="417.60" stroke="#222" stroke-width="1.15"/>
<text x="471.55" y="420.60" font-size="8.6" stroke="#222" stroke-width="0.2" text-anchor="end" fill="#222" textLength="10.20" lengthAdjust="spacingAndGlyphs">1.0</text>
<line x1="475.05" y1="437.80" x2="478.25" y2="437.80" stroke="#222" stroke-width="1.15"/>
<text x="471.55" y="440.80" font-size="8.6" stroke="#222" stroke-width="0.2" text-anchor="end" fill="#222" textLength="10.40" lengthAdjust="spacingAndGlyphs">0.1</text>
<line x1="488.00" y1="440.20" x2="488.00" y2="443.40" stroke="#222" stroke-width="1.1"/>
<line x1="503.50" y1="440.20" x2="503.50" y2="443.40" stroke="#222" stroke-width="1.1"/>
<text x="0.00" y="0.00" font-size="8.4" stroke="#222" stroke-width="0.2" text-anchor="end" fill="#222" textLength="27.40" lengthAdjust="spacingAndGlyphs" transform="translate(488.00,450.10) rotate(-45)">Control</text>
<text x="0.00" y="0.00" font-size="8.4" stroke="#222" stroke-width="0.2" text-anchor="end" fill="#222" textLength="31.00" lengthAdjust="spacingAndGlyphs" transform="translate(503.50,450.10) rotate(-45)">Low VWF</text>
<rect x="0.5" y="0.5" width="519" height="479" fill="none" stroke="#000" stroke-width="1.0"/></svg>
</body></html>
